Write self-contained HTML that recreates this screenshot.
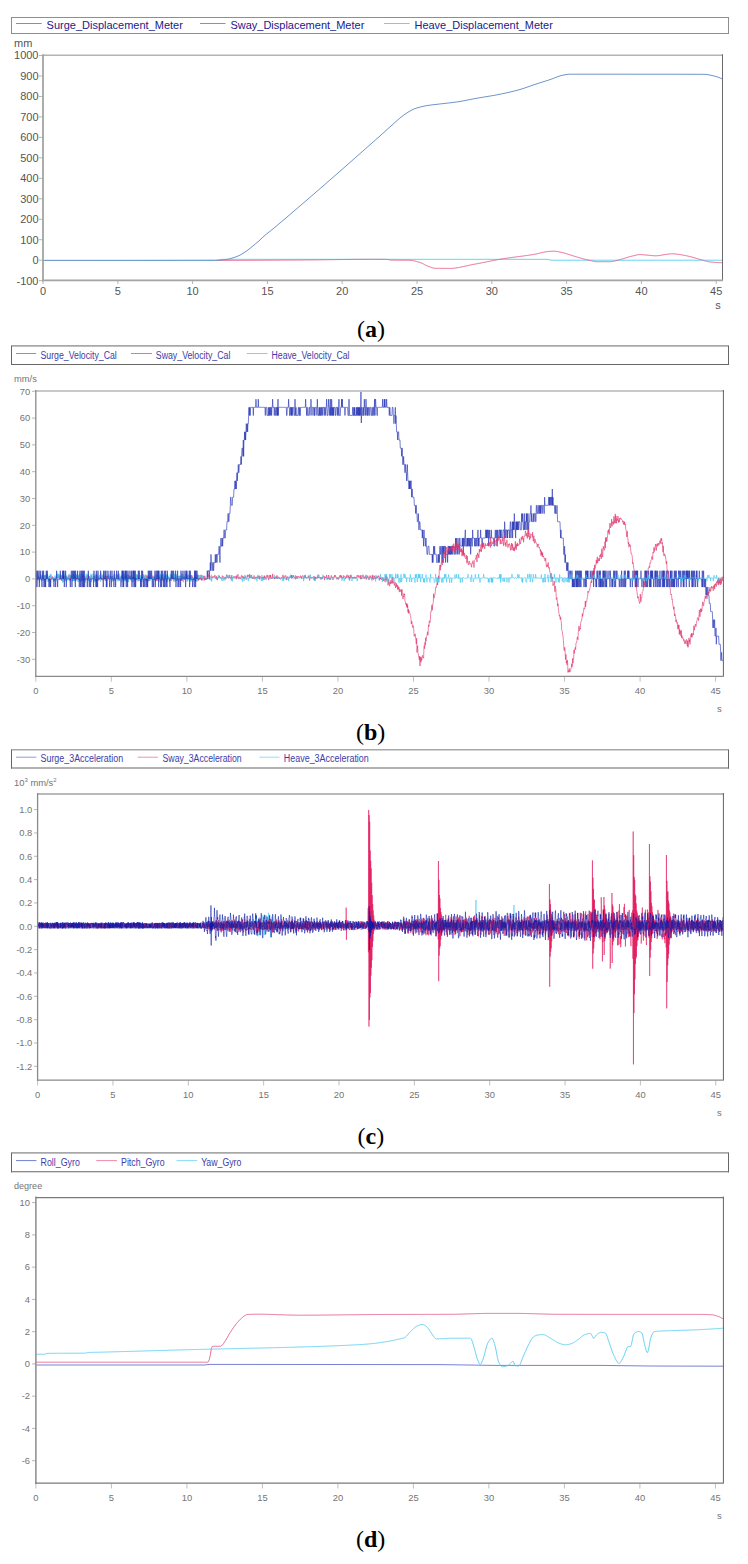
<!DOCTYPE html><html><head><meta charset="utf-8"><style>html,body{margin:0;padding:0;background:#fff;}body{width:748px;height:1564px;overflow:hidden;}svg{display:block;}</style></head><body>
<svg width="748" height="1564" viewBox="0 0 748 1564">
<rect width="748" height="1564" fill="#fff"/>
<rect x="11.5" y="17.5" width="717" height="16" stroke="#8e8e8e" stroke-width="1" fill="none"/>
<line x1="16" y1="23.5" x2="41.7" y2="23.5" stroke="#6f95c9" stroke-width="1"/>
<text x="46.6" y="28.8" font-size="11" fill="#20208c" text-anchor="start" font-family='"Liberation Sans", sans-serif' font-weight="normal" textLength="136.3" lengthAdjust="spacingAndGlyphs">Surge_Displacement_Meter</text>
<line x1="200" y1="23.5" x2="225.5" y2="23.5" stroke="#e8668f" stroke-width="1"/>
<text x="230.4" y="28.8" font-size="11" fill="#20208c" text-anchor="start" font-family='"Liberation Sans", sans-serif' font-weight="normal" textLength="133.9" lengthAdjust="spacingAndGlyphs">Sway_Displacement_Meter</text>
<line x1="384" y1="23.5" x2="409.6" y2="23.5" stroke="#66d4f2" stroke-width="1"/>
<text x="414.5" y="28.8" font-size="11" fill="#20208c" text-anchor="start" font-family='"Liberation Sans", sans-serif' font-weight="normal" textLength="138.3" lengthAdjust="spacingAndGlyphs">Heave_Displacement_Meter</text>
<text x="14" y="47.3" font-size="11" fill="#555555" text-anchor="start" font-family='"Liberation Sans", sans-serif' font-weight="normal">mm</text>
<line x1="39" y1="55.5" x2="43" y2="55.5" stroke="#b5b5b5" stroke-width="1"/>
<text x="38.5" y="59.4" font-size="11" fill="#555555" text-anchor="end" font-family='"Liberation Sans", sans-serif' font-weight="normal">1000</text>
<line x1="39" y1="75.97" x2="43" y2="75.97" stroke="#b5b5b5" stroke-width="1"/>
<text x="38.5" y="79.87" font-size="11" fill="#555555" text-anchor="end" font-family='"Liberation Sans", sans-serif' font-weight="normal">900</text>
<line x1="39" y1="96.44" x2="43" y2="96.44" stroke="#b5b5b5" stroke-width="1"/>
<text x="38.5" y="100.34" font-size="11" fill="#555555" text-anchor="end" font-family='"Liberation Sans", sans-serif' font-weight="normal">800</text>
<line x1="39" y1="116.91" x2="43" y2="116.91" stroke="#b5b5b5" stroke-width="1"/>
<text x="38.5" y="120.81" font-size="11" fill="#555555" text-anchor="end" font-family='"Liberation Sans", sans-serif' font-weight="normal">700</text>
<line x1="39" y1="137.38" x2="43" y2="137.38" stroke="#b5b5b5" stroke-width="1"/>
<text x="38.5" y="141.28" font-size="11" fill="#555555" text-anchor="end" font-family='"Liberation Sans", sans-serif' font-weight="normal">600</text>
<line x1="39" y1="157.85" x2="43" y2="157.85" stroke="#b5b5b5" stroke-width="1"/>
<text x="38.5" y="161.75" font-size="11" fill="#555555" text-anchor="end" font-family='"Liberation Sans", sans-serif' font-weight="normal">500</text>
<line x1="39" y1="178.32" x2="43" y2="178.32" stroke="#b5b5b5" stroke-width="1"/>
<text x="38.5" y="182.22" font-size="11" fill="#555555" text-anchor="end" font-family='"Liberation Sans", sans-serif' font-weight="normal">400</text>
<line x1="39" y1="198.79" x2="43" y2="198.79" stroke="#b5b5b5" stroke-width="1"/>
<text x="38.5" y="202.69" font-size="11" fill="#555555" text-anchor="end" font-family='"Liberation Sans", sans-serif' font-weight="normal">300</text>
<line x1="39" y1="219.26" x2="43" y2="219.26" stroke="#b5b5b5" stroke-width="1"/>
<text x="38.5" y="223.16" font-size="11" fill="#555555" text-anchor="end" font-family='"Liberation Sans", sans-serif' font-weight="normal">200</text>
<line x1="39" y1="239.73" x2="43" y2="239.73" stroke="#b5b5b5" stroke-width="1"/>
<text x="38.5" y="243.63" font-size="11" fill="#555555" text-anchor="end" font-family='"Liberation Sans", sans-serif' font-weight="normal">100</text>
<line x1="39" y1="260.2" x2="43" y2="260.2" stroke="#b5b5b5" stroke-width="1"/>
<text x="38.5" y="264.1" font-size="11" fill="#555555" text-anchor="end" font-family='"Liberation Sans", sans-serif' font-weight="normal">0</text>
<line x1="39" y1="280.67" x2="43" y2="280.67" stroke="#b5b5b5" stroke-width="1"/>
<text x="38.5" y="284.57" font-size="11" fill="#555555" text-anchor="end" font-family='"Liberation Sans", sans-serif' font-weight="normal">-100</text>
<line x1="43" y1="280.4" x2="43" y2="284" stroke="#b5b5b5" stroke-width="1"/>
<text x="43" y="295.2" font-size="11" fill="#555555" text-anchor="middle" font-family='"Liberation Sans", sans-serif' font-weight="normal">0</text>
<line x1="117.8" y1="280.4" x2="117.8" y2="284" stroke="#b5b5b5" stroke-width="1"/>
<text x="117.8" y="295.2" font-size="11" fill="#555555" text-anchor="middle" font-family='"Liberation Sans", sans-serif' font-weight="normal">5</text>
<line x1="192.6" y1="280.4" x2="192.6" y2="284" stroke="#b5b5b5" stroke-width="1"/>
<text x="192.6" y="295.2" font-size="11" fill="#555555" text-anchor="middle" font-family='"Liberation Sans", sans-serif' font-weight="normal">10</text>
<line x1="267.4" y1="280.4" x2="267.4" y2="284" stroke="#b5b5b5" stroke-width="1"/>
<text x="267.4" y="295.2" font-size="11" fill="#555555" text-anchor="middle" font-family='"Liberation Sans", sans-serif' font-weight="normal">15</text>
<line x1="342.2" y1="280.4" x2="342.2" y2="284" stroke="#b5b5b5" stroke-width="1"/>
<text x="342.2" y="295.2" font-size="11" fill="#555555" text-anchor="middle" font-family='"Liberation Sans", sans-serif' font-weight="normal">20</text>
<line x1="417" y1="280.4" x2="417" y2="284" stroke="#b5b5b5" stroke-width="1"/>
<text x="417" y="295.2" font-size="11" fill="#555555" text-anchor="middle" font-family='"Liberation Sans", sans-serif' font-weight="normal">25</text>
<line x1="491.8" y1="280.4" x2="491.8" y2="284" stroke="#b5b5b5" stroke-width="1"/>
<text x="491.8" y="295.2" font-size="11" fill="#555555" text-anchor="middle" font-family='"Liberation Sans", sans-serif' font-weight="normal">30</text>
<line x1="566.6" y1="280.4" x2="566.6" y2="284" stroke="#b5b5b5" stroke-width="1"/>
<text x="566.6" y="295.2" font-size="11" fill="#555555" text-anchor="middle" font-family='"Liberation Sans", sans-serif' font-weight="normal">35</text>
<line x1="641.4" y1="280.4" x2="641.4" y2="284" stroke="#b5b5b5" stroke-width="1"/>
<text x="641.4" y="295.2" font-size="11" fill="#555555" text-anchor="middle" font-family='"Liberation Sans", sans-serif' font-weight="normal">40</text>
<line x1="716.2" y1="280.4" x2="716.2" y2="284" stroke="#b5b5b5" stroke-width="1"/>
<text x="716.2" y="295.2" font-size="11" fill="#555555" text-anchor="middle" font-family='"Liberation Sans", sans-serif' font-weight="normal">45</text>
<text x="718" y="309" font-size="11" fill="#555555" text-anchor="middle" font-family='"Liberation Sans", sans-serif' font-weight="normal">s</text>
<path d="M43 260.4 L216 260.4 L222 259.3 L548 259.3 L551 260.2 L722 260.2" stroke="#66d4f2" stroke-width="1" fill="none" stroke-linejoin="round"/>
<path d="M216.6 260.5 L217.6 260.5 L218.6 260.49 L219.6 260.49 L220.6 260.48 L221.6 260.48 L222.6 260.47 L223.6 260.47 L224.6 260.46 L225.6 260.46 L226.6 260.46 L227.6 260.45 L228.6 260.45 L229.6 260.44 L230.6 260.44 L231.6 260.43 L232.6 260.43 L233.6 260.42 L234.6 260.42 L235.6 260.41 L236.6 260.41 L237.6 260.4 L238.6 260.4 L239.6 260.39 L240.6 260.39 L241.6 260.38 L242.6 260.37 L243.6 260.37 L244.6 260.36 L245.6 260.36 L246.6 260.35 L247.6 260.35 L248.6 260.34 L249.6 260.34 L250.6 260.33 L251.6 260.32 L252.6 260.32 L253.6 260.31 L254.6 260.31 L255.6 260.3 L256.6 260.29 L257.6 260.29 L258.6 260.28 L259.6 260.28 L260.6 260.27 L261.6 260.26 L262.6 260.26 L263.6 260.25 L264.6 260.24 L265.6 260.24 L266.6 260.23 L267.6 260.23 L268.6 260.22 L269.6 260.21 L270.6 260.21 L271.6 260.2 L272.6 260.19 L273.6 260.19 L274.6 260.18 L275.6 260.17 L276.6 260.17 L277.6 260.16 L278.6 260.15 L279.6 260.15 L280.6 260.14 L281.6 260.13 L282.6 260.12 L283.6 260.12 L284.6 260.11 L285.6 260.1 L286.6 260.1 L287.6 260.09 L288.6 260.08 L289.6 260.08 L290.6 260.07 L291.6 260.06 L292.6 260.05 L293.6 260.05 L294.6 260.04 L295.6 260.03 L296.6 260.02 L297.6 260.02 L298.6 260.01 L299.6 260 L300.6 260 L301.6 259.99 L302.6 259.98 L303.6 259.97 L304.6 259.96 L305.6 259.95 L306.6 259.94 L307.6 259.93 L308.6 259.92 L309.6 259.91 L310.6 259.9 L311.6 259.89 L312.6 259.88 L313.6 259.87 L314.6 259.86 L315.6 259.85 L316.6 259.84 L317.6 259.82 L318.6 259.81 L319.6 259.8 L320.6 259.79 L321.6 259.78 L322.6 259.76 L323.6 259.75 L324.6 259.74 L325.6 259.73 L326.6 259.71 L327.6 259.7 L328.6 259.69 L329.6 259.68 L330.6 259.66 L331.6 259.65 L332.6 259.64 L333.6 259.62 L334.6 259.61 L335.6 259.6 L336.6 259.59 L337.6 259.57 L338.6 259.56 L339.6 259.55 L340.6 259.54 L341.6 259.53 L342.6 259.51 L343.6 259.5 L344.6 259.49 L345.6 259.48 L346.6 259.47 L347.6 259.46 L348.6 259.45 L349.6 259.44 L350.6 259.43 L351.6 259.42 L352.6 259.41 L353.6 259.4 L354.6 259.39 L355.6 259.38 L356.6 259.37 L357.6 259.37 L358.6 259.36 L359.6 259.35 L360.6 259.35 L361.6 259.34 L362.6 259.33 L363.6 259.33 L364.6 259.32 L365.6 259.32 L366.6 259.31 L367.6 259.31 L368.6 259.31 L369.6 259.31 L370.6 259.3 L371.6 259.3 L372.6 259.3 L373.6 259.3 L374.6 259.3 L375.6 259.3 L376.6 259.3 L377.6 259.31 L378.6 259.31 L379.6 259.32 L380.6 259.33 L381.6 259.34 L382.6 259.35 L383.6 259.36 L384.6 259.38 L385.6 259.39 L386.6 259.43 L387.6 259.53 L388.6 259.68 L389.6 259.84 L390.6 259.99 L391.6 260.08 L392.6 260.11 L393.6 260.13 L394.6 260.15 L395.6 260.16 L396.6 260.17 L397.6 260.18 L398.6 260.19 L399.6 260.19 L400.6 260.2 L401.6 260.2 L402.6 260.21 L403.6 260.22 L404.6 260.22 L405.6 260.23 L406.6 260.24 L407.6 260.26 L408.6 260.27 L409.6 260.29 L410.6 260.32 L411.6 260.41 L412.6 260.55 L413.6 260.73 L414.6 260.95 L415.6 261.21 L416.6 261.48 L417.6 261.77 L418.6 262.07 L419.6 262.38 L420.6 262.7 L421.6 263.1 L422.6 263.57 L423.6 264.09 L424.6 264.62 L425.6 265.14 L426.6 265.62 L427.6 266.05 L428.6 266.42 L429.6 266.8 L430.6 267.18 L431.6 267.54 L432.6 267.86 L433.6 268.1 L434.6 268.26 L435.6 268.3 L436.6 268.32 L437.6 268.33 L438.6 268.34 L439.6 268.35 L440.6 268.36 L441.6 268.37 L442.6 268.38 L443.6 268.38 L444.6 268.39 L445.6 268.39 L446.6 268.4 L447.6 268.4 L448.6 268.4 L449.6 268.4 L450.6 268.39 L451.6 268.36 L452.6 268.3 L453.6 268.22 L454.6 268.12 L455.6 268 L456.6 267.86 L457.6 267.7 L458.6 267.53 L459.6 267.35 L460.6 267.16 L461.6 266.96 L462.6 266.74 L463.6 266.53 L464.6 266.31 L465.6 266.08 L466.6 265.86 L467.6 265.63 L468.6 265.41 L469.6 265.19 L470.6 264.97 L471.6 264.76 L472.6 264.56 L473.6 264.37 L474.6 264.19 L475.6 264.01 L476.6 263.82 L477.6 263.63 L478.6 263.44 L479.6 263.25 L480.6 263.05 L481.6 262.85 L482.6 262.65 L483.6 262.45 L484.6 262.25 L485.6 262.05 L486.6 261.84 L487.6 261.64 L488.6 261.44 L489.6 261.24 L490.6 261.04 L491.6 260.84 L492.6 260.64 L493.6 260.44 L494.6 260.25 L495.6 260.06 L496.6 259.87 L497.6 259.69 L498.6 259.5 L499.6 259.33 L500.6 259.15 L501.6 258.98 L502.6 258.82 L503.6 258.66 L504.6 258.5 L505.6 258.35 L506.6 258.2 L507.6 258.05 L508.6 257.91 L509.6 257.77 L510.6 257.64 L511.6 257.5 L512.6 257.37 L513.6 257.24 L514.6 257.11 L515.6 256.98 L516.6 256.85 L517.6 256.72 L518.6 256.59 L519.6 256.47 L520.6 256.34 L521.6 256.21 L522.6 256.08 L523.6 255.94 L524.6 255.81 L525.6 255.67 L526.6 255.53 L527.6 255.39 L528.6 255.25 L529.6 255.1 L530.6 254.95 L531.6 254.79 L532.6 254.63 L533.6 254.47 L534.6 254.29 L535.6 254.1 L536.6 253.88 L537.6 253.66 L538.6 253.42 L539.6 253.18 L540.6 252.93 L541.6 252.69 L542.6 252.46 L543.6 252.24 L544.6 252.03 L545.6 251.85 L546.6 251.7 L547.6 251.57 L548.6 251.48 L549.6 251.41 L550.6 251.33 L551.6 251.27 L552.6 251.23 L553.6 251.2 L554.6 251.21 L555.6 251.28 L556.6 251.4 L557.6 251.57 L558.6 251.76 L559.6 251.97 L560.6 252.2 L561.6 252.42 L562.6 252.63 L563.6 252.88 L564.6 253.15 L565.6 253.45 L566.6 253.76 L567.6 254.08 L568.6 254.41 L569.6 254.74 L570.6 255.06 L571.6 255.38 L572.6 255.68 L573.6 255.99 L574.6 256.3 L575.6 256.6 L576.6 256.91 L577.6 257.21 L578.6 257.51 L579.6 257.79 L580.6 258.06 L581.6 258.34 L582.6 258.6 L583.6 258.87 L584.6 259.13 L585.6 259.38 L586.6 259.63 L587.6 259.86 L588.6 260.09 L589.6 260.31 L590.6 260.53 L591.6 260.77 L592.6 261.02 L593.6 261.26 L594.6 261.46 L595.6 261.61 L596.6 261.69 L597.6 261.7 L598.6 261.7 L599.6 261.7 L600.6 261.7 L601.6 261.7 L602.6 261.7 L603.6 261.7 L604.6 261.7 L605.6 261.7 L606.6 261.7 L607.6 261.7 L608.6 261.7 L609.6 261.7 L610.6 261.69 L611.6 261.61 L612.6 261.47 L613.6 261.28 L614.6 261.05 L615.6 260.8 L616.6 260.52 L617.6 260.24 L618.6 259.96 L619.6 259.7 L620.6 259.45 L621.6 259.18 L622.6 258.89 L623.6 258.59 L624.6 258.27 L625.6 257.95 L626.6 257.63 L627.6 257.32 L628.6 257.01 L629.6 256.72 L630.6 256.44 L631.6 256.19 L632.6 255.96 L633.6 255.71 L634.6 255.46 L635.6 255.22 L636.6 255 L637.6 254.81 L638.6 254.68 L639.6 254.61 L640.6 254.61 L641.6 254.64 L642.6 254.71 L643.6 254.79 L644.6 254.88 L645.6 254.98 L646.6 255.08 L647.6 255.17 L648.6 255.25 L649.6 255.34 L650.6 255.44 L651.6 255.54 L652.6 255.63 L653.6 255.71 L654.6 255.77 L655.6 255.8 L656.6 255.79 L657.6 255.73 L658.6 255.62 L659.6 255.48 L660.6 255.32 L661.6 255.15 L662.6 254.97 L663.6 254.8 L664.6 254.65 L665.6 254.52 L666.6 254.38 L667.6 254.22 L668.6 254.08 L669.6 253.95 L670.6 253.86 L671.6 253.8 L672.6 253.81 L673.6 253.85 L674.6 253.92 L675.6 254.02 L676.6 254.14 L677.6 254.27 L678.6 254.41 L679.6 254.55 L680.6 254.68 L681.6 254.84 L682.6 255.01 L683.6 255.19 L684.6 255.39 L685.6 255.6 L686.6 255.82 L687.6 256.04 L688.6 256.27 L689.6 256.51 L690.6 256.74 L691.6 257 L692.6 257.27 L693.6 257.55 L694.6 257.84 L695.6 258.14 L696.6 258.44 L697.6 258.73 L698.6 259.02 L699.6 259.29 L700.6 259.56 L701.6 259.85 L702.6 260.14 L703.6 260.44 L704.6 260.73 L705.6 261.01 L706.6 261.27 L707.6 261.5 L708.6 261.7 L709.6 261.85 L710.6 261.96 L711.6 262.07 L712.6 262.17 L713.6 262.26 L714.6 262.35 L715.6 262.43 L716.6 262.5 L717.6 262.57 L718.6 262.62 L719.6 262.66 L720.6 262.69 L721.6 262.7 L722 262.7" stroke="#e8668f" stroke-width="1" fill="none" stroke-linejoin="round"/>
<path d="M43 260.4 L44 260.4 L45 260.4 L46 260.4 L47 260.4 L48 260.4 L49 260.4 L50 260.4 L51 260.4 L52 260.4 L53 260.4 L54 260.4 L55 260.4 L56 260.4 L57 260.4 L58 260.4 L59 260.4 L60 260.4 L61 260.4 L62 260.4 L63 260.4 L64 260.4 L65 260.4 L66 260.4 L67 260.4 L68 260.4 L69 260.4 L70 260.4 L71 260.4 L72 260.4 L73 260.4 L74 260.4 L75 260.4 L76 260.4 L77 260.4 L78 260.4 L79 260.4 L80 260.4 L81 260.4 L82 260.4 L83 260.4 L84 260.4 L85 260.4 L86 260.39 L87 260.39 L88 260.39 L89 260.39 L90 260.39 L91 260.39 L92 260.39 L93 260.39 L94 260.39 L95 260.39 L96 260.39 L97 260.39 L98 260.39 L99 260.39 L100 260.39 L101 260.39 L102 260.39 L103 260.39 L104 260.39 L105 260.39 L106 260.39 L107 260.39 L108 260.39 L109 260.38 L110 260.38 L111 260.38 L112 260.38 L113 260.38 L114 260.38 L115 260.38 L116 260.38 L117 260.38 L118 260.38 L119 260.38 L120 260.38 L121 260.38 L122 260.38 L123 260.38 L124 260.37 L125 260.37 L126 260.37 L127 260.37 L128 260.37 L129 260.37 L130 260.37 L131 260.37 L132 260.37 L133 260.37 L134 260.37 L135 260.36 L136 260.36 L137 260.36 L138 260.36 L139 260.36 L140 260.36 L141 260.36 L142 260.36 L143 260.36 L144 260.35 L145 260.35 L146 260.35 L147 260.35 L148 260.35 L149 260.35 L150 260.35 L151 260.35 L152 260.34 L153 260.34 L154 260.34 L155 260.34 L156 260.34 L157 260.34 L158 260.33 L159 260.33 L160 260.33 L161 260.33 L162 260.33 L163 260.33 L164 260.33 L165 260.32 L166 260.32 L167 260.32 L168 260.32 L169 260.32 L170 260.32 L171 260.31 L172 260.31 L173 260.31 L174 260.31 L175 260.31 L176 260.3 L177 260.3 L178 260.3 L179 260.3 L180 260.3 L181 260.29 L182 260.29 L183 260.29 L184 260.29 L185 260.28 L186 260.28 L187 260.28 L188 260.28 L189 260.28 L190 260.27 L191 260.27 L192 260.27 L193 260.27 L194 260.26 L195 260.26 L196 260.26 L197 260.26 L198 260.25 L199 260.25 L200 260.25 L201 260.25 L202 260.24 L203 260.24 L204 260.24 L205 260.23 L206 260.23 L207 260.23 L208 260.23 L209 260.22 L210 260.22 L211 260.22 L212 260.21 L213 260.21 L214 260.21 L215 260.21 L216 260.2 L217 260.2 L218 260.18 L219 260.14 L220 260.09 L221 260.03 L222 259.95 L223 259.87 L224 259.77 L225 259.67 L226 259.57 L227 259.41 L228 259.21 L229 258.97 L230 258.7 L231 258.42 L232 258.13 L233 257.84 L234 257.52 L235 257.18 L236 256.82 L237 256.43 L238 256.02 L239 255.57 L240 255.07 L241 254.52 L242 253.94 L243 253.32 L244 252.68 L245 252.03 L246 251.35 L247 250.63 L248 249.88 L249 249.11 L250 248.33 L251 247.54 L252 246.75 L253 245.94 L254 245.12 L255 244.29 L256 243.45 L257 242.59 L258 241.72 L259 240.82 L260 239.89 L261 238.94 L262 238 L263 237.07 L264 236.17 L265 235.32 L266 234.48 L267 233.67 L268 232.86 L269 232.07 L270 231.28 L271 230.48 L272 229.67 L273 228.85 L274 228.03 L275 227.2 L276 226.36 L277 225.53 L278 224.69 L279 223.85 L280 223 L281 222.15 L282 221.3 L283 220.45 L284 219.6 L285 218.75 L286 217.9 L287 217.05 L288 216.2 L289 215.35 L290 214.49 L291 213.64 L292 212.78 L293 211.93 L294 211.07 L295 210.22 L296 209.36 L297 208.5 L298 207.65 L299 206.79 L300 205.93 L301 205.07 L302 204.21 L303 203.35 L304 202.49 L305 201.63 L306 200.77 L307 199.91 L308 199.04 L309 198.18 L310 197.32 L311 196.45 L312 195.59 L313 194.72 L314 193.86 L315 192.99 L316 192.13 L317 191.26 L318 190.39 L319 189.52 L320 188.66 L321 187.79 L322 186.92 L323 186.05 L324 185.18 L325 184.31 L326 183.44 L327 182.57 L328 181.7 L329 180.82 L330 179.95 L331 179.08 L332 178.21 L333 177.33 L334 176.46 L335 175.58 L336 174.71 L337 173.83 L338 172.96 L339 172.08 L340 171.21 L341 170.33 L342 169.45 L343 168.58 L344 167.7 L345 166.82 L346 165.94 L347 165.06 L348 164.19 L349 163.31 L350 162.43 L351 161.55 L352 160.67 L353 159.79 L354 158.9 L355 158.02 L356 157.14 L357 156.26 L358 155.38 L359 154.49 L360 153.61 L361 152.73 L362 151.85 L363 150.96 L364 150.08 L365 149.19 L366 148.31 L367 147.42 L368 146.54 L369 145.65 L370 144.77 L371 143.88 L372 143 L373 142.11 L374 141.22 L375 140.34 L376 139.45 L377 138.56 L378 137.68 L379 136.79 L380 135.9 L381 135.01 L382 134.11 L383 133.21 L384 132.3 L385 131.4 L386 130.49 L387 129.59 L388 128.68 L389 127.78 L390 126.89 L391 126 L392 125.12 L393 124.24 L394 123.33 L395 122.42 L396 121.51 L397 120.61 L398 119.72 L399 118.84 L400 117.99 L401 117.17 L402 116.39 L403 115.65 L404 114.96 L405 114.27 L406 113.59 L407 112.92 L408 112.27 L409 111.64 L410 111.04 L411 110.47 L412 109.93 L413 109.44 L414 109 L415 108.61 L416 108.26 L417 107.94 L418 107.64 L419 107.35 L420 107.08 L421 106.83 L422 106.59 L423 106.36 L424 106.15 L425 105.96 L426 105.77 L427 105.6 L428 105.44 L429 105.29 L430 105.15 L431 105.02 L432 104.89 L433 104.77 L434 104.66 L435 104.54 L436 104.43 L437 104.31 L438 104.2 L439 104.08 L440 103.95 L441 103.84 L442 103.72 L443 103.61 L444 103.5 L445 103.39 L446 103.28 L447 103.17 L448 103.06 L449 102.94 L450 102.83 L451 102.71 L452 102.59 L453 102.47 L454 102.34 L455 102.21 L456 102.07 L457 101.93 L458 101.77 L459 101.61 L460 101.45 L461 101.27 L462 101.09 L463 100.91 L464 100.72 L465 100.53 L466 100.33 L467 100.14 L468 99.94 L469 99.74 L470 99.54 L471 99.34 L472 99.14 L473 98.95 L474 98.75 L475 98.56 L476 98.38 L477 98.2 L478 98.02 L479 97.85 L480 97.68 L481 97.52 L482 97.35 L483 97.19 L484 97.03 L485 96.87 L486 96.7 L487 96.54 L488 96.38 L489 96.22 L490 96.05 L491 95.89 L492 95.72 L493 95.54 L494 95.37 L495 95.19 L496 95 L497 94.82 L498 94.62 L499 94.43 L500 94.23 L501 94.02 L502 93.82 L503 93.61 L504 93.4 L505 93.19 L506 92.97 L507 92.75 L508 92.53 L509 92.3 L510 92.07 L511 91.83 L512 91.59 L513 91.35 L514 91.1 L515 90.84 L516 90.59 L517 90.32 L518 90.05 L519 89.78 L520 89.49 L521 89.19 L522 88.87 L523 88.55 L524 88.22 L525 87.88 L526 87.54 L527 87.19 L528 86.84 L529 86.48 L530 86.13 L531 85.77 L532 85.42 L533 85.08 L534 84.73 L535 84.4 L536 84.07 L537 83.74 L538 83.42 L539 83.1 L540 82.79 L541 82.47 L542 82.16 L543 81.84 L544 81.53 L545 81.21 L546 80.89 L547 80.58 L548 80.25 L549 79.93 L550 79.6 L551 79.26 L552 78.91 L553 78.53 L554 78.14 L555 77.74 L556 77.35 L557 76.96 L558 76.59 L559 76.23 L560 75.91 L561 75.63 L562 75.38 L563 75.18 L564 74.98 L565 74.78 L566 74.6 L567 74.44 L568 74.31 L569 74.23 L570 74.2 L571 74.2 L572 74.2 L573 74.2 L574 74.2 L575 74.2 L576 74.2 L577 74.2 L578 74.2 L579 74.2 L580 74.2 L581 74.2 L582 74.2 L583 74.2 L584 74.2 L585 74.2 L586 74.2 L587 74.2 L588 74.2 L589 74.2 L590 74.2 L591 74.2 L592 74.2 L593 74.2 L594 74.2 L595 74.2 L596 74.2 L597 74.2 L598 74.2 L599 74.2 L600 74.2 L601 74.2 L602 74.2 L603 74.2 L604 74.2 L605 74.2 L606 74.2 L607 74.2 L608 74.2 L609 74.2 L610 74.2 L611 74.2 L612 74.2 L613 74.2 L614 74.2 L615 74.2 L616 74.2 L617 74.2 L618 74.2 L619 74.2 L620 74.2 L621 74.2 L622 74.2 L623 74.2 L624 74.2 L625 74.2 L626 74.2 L627 74.2 L628 74.2 L629 74.2 L630 74.2 L631 74.2 L632 74.2 L633 74.2 L634 74.21 L635 74.21 L636 74.21 L637 74.21 L638 74.21 L639 74.21 L640 74.21 L641 74.21 L642 74.21 L643 74.21 L644 74.21 L645 74.21 L646 74.21 L647 74.21 L648 74.21 L649 74.21 L650 74.21 L651 74.21 L652 74.22 L653 74.22 L654 74.22 L655 74.22 L656 74.22 L657 74.22 L658 74.22 L659 74.22 L660 74.22 L661 74.22 L662 74.22 L663 74.23 L664 74.23 L665 74.23 L666 74.23 L667 74.23 L668 74.23 L669 74.23 L670 74.23 L671 74.24 L672 74.24 L673 74.24 L674 74.24 L675 74.24 L676 74.24 L677 74.24 L678 74.25 L679 74.25 L680 74.25 L681 74.25 L682 74.25 L683 74.25 L684 74.26 L685 74.26 L686 74.26 L687 74.26 L688 74.26 L689 74.27 L690 74.27 L691 74.27 L692 74.27 L693 74.27 L694 74.28 L695 74.28 L696 74.28 L697 74.28 L698 74.28 L699 74.29 L700 74.29 L701 74.29 L702 74.29 L703 74.3 L704 74.3 L705 74.33 L706 74.41 L707 74.54 L708 74.7 L709 74.88 L710 75.08 L711 75.29 L712 75.5 L713 75.72 L714 75.96 L715 76.24 L716 76.54 L717 76.86 L718 77.2 L719 77.57 L720 77.96 L721 78.36 L722 78.78 L722.5 79" stroke="#6f95c9" stroke-width="1" fill="none" stroke-linejoin="round"/>
<line x1="43" y1="55.2" x2="722.5" y2="55.2" stroke="#b4b4b4" stroke-width="1.4"/>
<line x1="722.5" y1="54.2" x2="722.5" y2="280.4" stroke="#6a6a6a" stroke-width="1"/>
<line x1="43" y1="54.2" x2="43" y2="281.3" stroke="#a4a4a4" stroke-width="1.8"/>
<line x1="42.1" y1="280.4" x2="723" y2="280.4" stroke="#a4a4a4" stroke-width="1.8"/>
<text x="357" y="337" font-size="24" font-family='"Liberation Serif", serif' fill="#000">(<tspan font-weight="bold">a</tspan>)</text>
<line x1="11" y1="345.9" x2="729" y2="345.9" stroke="#a8a8a8" stroke-width="1.6"/>
<line x1="11.5" y1="345.9" x2="11.5" y2="365" stroke="#666666" stroke-width="1"/>
<line x1="728.5" y1="345.9" x2="728.5" y2="365" stroke="#666666" stroke-width="1"/>
<line x1="11" y1="364.5" x2="729" y2="364.5" stroke="#666666" stroke-width="1.1"/>
<line x1="16" y1="353.5" x2="36.2" y2="353.5" stroke="#8490d8" stroke-width="1"/>
<text x="40.5" y="359.3" font-size="10" fill="#3c3ca8" text-anchor="start" font-family='"Liberation Sans", sans-serif' font-weight="normal" textLength="76.3" lengthAdjust="spacingAndGlyphs">Surge_Velocity_Cal</text>
<line x1="131" y1="353.5" x2="152" y2="353.5" stroke="#ee7095" stroke-width="1"/>
<text x="155.8" y="359.3" font-size="10" fill="#3c3ca8" text-anchor="start" font-family='"Liberation Sans", sans-serif' font-weight="normal" textLength="74.6" lengthAdjust="spacingAndGlyphs">Sway_Velocity_Cal</text>
<line x1="246.7" y1="353.5" x2="267.5" y2="353.5" stroke="#70d8f5" stroke-width="1"/>
<text x="271.5" y="359.3" font-size="10" fill="#3c3ca8" text-anchor="start" font-family='"Liberation Sans", sans-serif' font-weight="normal" textLength="78" lengthAdjust="spacingAndGlyphs">Heave_Velocity_Cal</text>
<text x="14" y="381.9" font-size="9.4" fill="#747474" text-anchor="start" font-family='"Liberation Sans", sans-serif' font-weight="normal" textLength="22.8" lengthAdjust="spacingAndGlyphs">mm/s</text>
<line x1="32" y1="391.3" x2="35.8" y2="391.3" stroke="#b8b8b8" stroke-width="1"/>
<text x="30.3" y="394.6" font-size="9.4" fill="#747474" text-anchor="end" font-family='"Liberation Sans", sans-serif' font-weight="normal">70</text>
<line x1="32" y1="418.1" x2="35.8" y2="418.1" stroke="#b8b8b8" stroke-width="1"/>
<text x="30.3" y="421.4" font-size="9.4" fill="#747474" text-anchor="end" font-family='"Liberation Sans", sans-serif' font-weight="normal">60</text>
<line x1="32" y1="444.9" x2="35.8" y2="444.9" stroke="#b8b8b8" stroke-width="1"/>
<text x="30.3" y="448.2" font-size="9.4" fill="#747474" text-anchor="end" font-family='"Liberation Sans", sans-serif' font-weight="normal">50</text>
<line x1="32" y1="471.7" x2="35.8" y2="471.7" stroke="#b8b8b8" stroke-width="1"/>
<text x="30.3" y="475" font-size="9.4" fill="#747474" text-anchor="end" font-family='"Liberation Sans", sans-serif' font-weight="normal">40</text>
<line x1="32" y1="498.5" x2="35.8" y2="498.5" stroke="#b8b8b8" stroke-width="1"/>
<text x="30.3" y="501.8" font-size="9.4" fill="#747474" text-anchor="end" font-family='"Liberation Sans", sans-serif' font-weight="normal">30</text>
<line x1="32" y1="525.3" x2="35.8" y2="525.3" stroke="#b8b8b8" stroke-width="1"/>
<text x="30.3" y="528.6" font-size="9.4" fill="#747474" text-anchor="end" font-family='"Liberation Sans", sans-serif' font-weight="normal">20</text>
<line x1="32" y1="552.1" x2="35.8" y2="552.1" stroke="#b8b8b8" stroke-width="1"/>
<text x="30.3" y="555.4" font-size="9.4" fill="#747474" text-anchor="end" font-family='"Liberation Sans", sans-serif' font-weight="normal">10</text>
<line x1="32" y1="578.9" x2="35.8" y2="578.9" stroke="#b8b8b8" stroke-width="1"/>
<text x="30.3" y="582.2" font-size="9.4" fill="#747474" text-anchor="end" font-family='"Liberation Sans", sans-serif' font-weight="normal">0</text>
<line x1="32" y1="605.7" x2="35.8" y2="605.7" stroke="#b8b8b8" stroke-width="1"/>
<text x="30.3" y="609" font-size="9.4" fill="#747474" text-anchor="end" font-family='"Liberation Sans", sans-serif' font-weight="normal">-10</text>
<line x1="32" y1="632.5" x2="35.8" y2="632.5" stroke="#b8b8b8" stroke-width="1"/>
<text x="30.3" y="635.8" font-size="9.4" fill="#747474" text-anchor="end" font-family='"Liberation Sans", sans-serif' font-weight="normal">-20</text>
<line x1="32" y1="659.3" x2="35.8" y2="659.3" stroke="#b8b8b8" stroke-width="1"/>
<text x="30.3" y="662.6" font-size="9.4" fill="#747474" text-anchor="end" font-family='"Liberation Sans", sans-serif' font-weight="normal">-30</text>
<line x1="35.8" y1="676.5" x2="35.8" y2="681.7" stroke="#c0c0c0" stroke-width="1"/>
<text x="35.8" y="694" font-size="9.4" fill="#747474" text-anchor="middle" font-family='"Liberation Sans", sans-serif' font-weight="normal">0</text>
<line x1="111.33" y1="676.5" x2="111.33" y2="681.7" stroke="#c0c0c0" stroke-width="1"/>
<text x="111.33" y="694" font-size="9.4" fill="#747474" text-anchor="middle" font-family='"Liberation Sans", sans-serif' font-weight="normal">5</text>
<line x1="186.87" y1="676.5" x2="186.87" y2="681.7" stroke="#c0c0c0" stroke-width="1"/>
<text x="186.87" y="694" font-size="9.4" fill="#747474" text-anchor="middle" font-family='"Liberation Sans", sans-serif' font-weight="normal">10</text>
<line x1="262.4" y1="676.5" x2="262.4" y2="681.7" stroke="#c0c0c0" stroke-width="1"/>
<text x="262.4" y="694" font-size="9.4" fill="#747474" text-anchor="middle" font-family='"Liberation Sans", sans-serif' font-weight="normal">15</text>
<line x1="337.94" y1="676.5" x2="337.94" y2="681.7" stroke="#c0c0c0" stroke-width="1"/>
<text x="337.94" y="694" font-size="9.4" fill="#747474" text-anchor="middle" font-family='"Liberation Sans", sans-serif' font-weight="normal">20</text>
<line x1="413.47" y1="676.5" x2="413.47" y2="681.7" stroke="#c0c0c0" stroke-width="1"/>
<text x="413.47" y="694" font-size="9.4" fill="#747474" text-anchor="middle" font-family='"Liberation Sans", sans-serif' font-weight="normal">25</text>
<line x1="489.01" y1="676.5" x2="489.01" y2="681.7" stroke="#c0c0c0" stroke-width="1"/>
<text x="489.01" y="694" font-size="9.4" fill="#747474" text-anchor="middle" font-family='"Liberation Sans", sans-serif' font-weight="normal">30</text>
<line x1="564.54" y1="676.5" x2="564.54" y2="681.7" stroke="#c0c0c0" stroke-width="1"/>
<text x="564.54" y="694" font-size="9.4" fill="#747474" text-anchor="middle" font-family='"Liberation Sans", sans-serif' font-weight="normal">35</text>
<line x1="640.08" y1="676.5" x2="640.08" y2="681.7" stroke="#c0c0c0" stroke-width="1"/>
<text x="640.08" y="694" font-size="9.4" fill="#747474" text-anchor="middle" font-family='"Liberation Sans", sans-serif' font-weight="normal">40</text>
<line x1="715.61" y1="676.5" x2="715.61" y2="681.7" stroke="#c0c0c0" stroke-width="1"/>
<text x="715.61" y="694" font-size="9.4" fill="#747474" text-anchor="middle" font-family='"Liberation Sans", sans-serif' font-weight="normal">45</text>
<text x="719.3" y="711.6" font-size="9.4" fill="#747474" text-anchor="middle" font-family='"Liberation Sans", sans-serif' font-weight="normal">s</text>
<path d="M36.3 578 L36.63 577.66 L36.97 578 L37.3 579.51 L37.63 578 L37.97 577.9 L38.3 579.31 L38.63 579.34 L38.97 578 L39.3 578 L39.63 580.68 L39.97 580.51 L40.3 576.81 L40.63 578 L40.97 576.57 L41.3 576.74 L41.63 580.09 L41.97 576.26 L42.3 578 L42.63 575.29 L42.97 576.29 L43.3 578 L43.63 578.81 L43.97 579.27 L44.3 578 L44.63 575.23 L44.97 577.87 L45.3 575.32 L45.63 578.95 L45.97 578 L46.3 576.3 L46.63 578 L46.97 578 L47.3 578 L47.63 578 L47.97 578 L48.3 578.71 L48.63 578 L48.97 580.2 L49.3 575.77 L49.63 578 L49.97 579.1 L50.3 576.48 L50.63 575.54 L50.97 577.99 L51.3 578 L51.63 578.2 L51.97 576.47 L52.3 576.23 L52.63 578 L52.97 578 L53.3 578 L53.63 577.56 L53.97 578 L54.3 580.72 L54.63 580.14 L54.97 579.41 L55.3 578 L55.63 578.16 L55.97 576.81 L56.3 576.94 L56.63 577.99 L56.97 576.41 L57.3 578 L57.63 578 L57.97 577.76 L58.3 575.11 L58.63 578 L58.97 576.53 L59.3 576.46 L59.63 579.64 L59.97 579.83 L60.3 579.29 L60.63 578.82 L60.97 575.64 L61.3 580.57 L61.63 575.83 L61.97 578.21 L62.3 580.99 L62.63 579.06 L62.97 575.52 L63.3 580.2 L63.63 575.92 L63.97 576.69 L64.3 576.35 L64.63 576.29 L64.97 578 L65.3 578 L65.63 578 L65.97 579.02 L66.3 576.04 L66.63 575.98 L66.97 577.49 L67.3 577.38 L67.63 578.8 L67.97 578 L68.3 575.5 L68.63 576.74 L68.97 577.75 L69.3 575.55 L69.63 580.02 L69.97 580.23 L70.3 578 L70.63 580.37 L70.97 576.26 L71.3 578 L71.63 578 L71.97 577.61 L72.3 578 L72.63 576.76 L72.97 580.08 L73.3 580.83 L73.63 578.18 L73.97 578.44 L74.3 575.25 L74.63 578 L74.97 576.5 L75.3 579.55 L75.63 578 L75.97 577.99 L76.3 580.15 L76.63 578.43 L76.97 575.33 L77.3 577.31 L77.63 579.58 L77.97 575.42 L78.3 577.49 L78.63 579.63 L78.97 578 L79.3 580.24 L79.63 578 L79.97 580.92 L80.3 576.77 L80.63 580.01 L80.97 579.17 L81.3 580.96 L81.63 578 L81.97 580.61 L82.3 580.28 L82.63 575.4 L82.97 578.95 L83.3 578.26 L83.63 578.1 L83.97 575.89 L84.3 578 L84.63 578 L84.97 579.4 L85.3 578 L85.63 579.85 L85.97 578 L86.3 576.68 L86.63 578 L86.97 577.66 L87.3 578 L87.63 580.18 L87.97 575.31 L88.3 578 L88.63 575.78 L88.97 579.26 L89.3 578 L89.63 576.44 L89.97 578 L90.3 579.29 L90.63 576.99 L90.97 578.58 L91.3 575.25 L91.63 577.09 L91.97 578 L92.3 578.01 L92.63 578.5 L92.97 577.69 L93.3 576.1 L93.63 575.92 L93.97 576.61 L94.3 580.98 L94.63 575.96 L94.97 576.78 L95.3 578 L95.63 575.91 L95.97 578 L96.3 580.83 L96.63 575.32 L96.97 578 L97.3 575.66 L97.63 578 L97.97 578 L98.3 580.44 L98.63 579.2 L98.97 580.29 L99.3 577.82 L99.63 578 L99.97 578 L100.3 577.06 L100.63 578 L100.97 578.43 L101.3 579.42 L101.63 576.84 L101.97 580.14 L102.3 578.77 L102.63 578 L102.97 575.41 L103.3 578.97 L103.63 576.29 L103.97 576.01 L104.3 579.22 L104.63 578 L104.97 580.04 L105.3 580.91 L105.63 580.12 L105.97 575.64 L106.3 577.02 L106.63 579.72 L106.97 578 L107.3 575.91 L107.63 578 L107.97 578.55 L108.3 578 L108.63 578 L108.97 578.51 L109.3 578.09 L109.63 578.24 L109.97 576.24 L110.3 578 L110.63 577.61 L110.97 577.56 L111.3 578 L111.63 577.42 L111.97 577.74 L112.3 579.37 L112.63 580.77 L112.97 575.9 L113.3 578.21 L113.63 579.86 L113.97 580.41 L114.3 580.13 L114.63 578 L114.97 578.21 L115.3 578.96 L115.63 578 L115.97 578 L116.3 578 L116.63 578 L116.97 575.65 L117.3 575.19 L117.63 577.35 L117.97 575.42 L118.3 579.5 L118.63 580.27 L118.97 576.18 L119.3 580.54 L119.63 578 L119.97 577.1 L120.3 578 L120.63 578 L120.97 578 L121.3 575.72 L121.63 578 L121.97 578 L122.3 578 L122.63 577.42 L122.97 579.9 L123.3 578.07 L123.63 578.22 L123.97 579.66 L124.3 576.18 L124.63 578 L124.97 577.74 L125.3 578 L125.63 580.62 L125.97 575.47 L126.3 580.27 L126.63 578 L126.97 578.56 L127.3 578 L127.63 578.16 L127.97 578 L128.3 575.13 L128.63 578 L128.97 578.79 L129.3 578 L129.63 578 L129.97 578 L130.3 578 L130.63 576.58 L130.97 580.46 L131.3 578.13 L131.63 578.46 L131.97 580.02 L132.3 576.83 L132.63 578 L132.97 578 L133.3 578.84 L133.63 579.14 L133.97 578.1 L134.3 578 L134.63 577.9 L134.97 578.94 L135.3 578 L135.63 580.3 L135.97 578 L136.3 578 L136.63 577.26 L136.97 575.76 L137.3 575.19 L137.63 576.39 L137.97 576.45 L138.3 579.91 L138.63 580.85 L138.97 578 L139.3 579.05 L139.63 578 L139.97 577.75 L140.3 578 L140.63 578 L140.97 577.42 L141.3 576.82 L141.63 577.7 L141.97 577.58 L142.3 578 L142.63 578 L142.97 576.95 L143.3 576.31 L143.63 576.29 L143.97 576.35 L144.3 579.31 L144.63 578 L144.97 576.45 L145.3 579.47 L145.63 578 L145.97 578.93 L146.3 575.37 L146.63 578.75 L146.97 578 L147.3 576.68 L147.63 579.69 L147.97 575.46 L148.3 580.82 L148.63 577.17 L148.97 578 L149.3 580.91 L149.63 578 L149.97 578 L150.3 577.03 L150.63 577.3 L150.97 578.96 L151.3 578.42 L151.63 578.67 L151.97 578 L152.3 578 L152.63 578 L152.97 575.67 L153.3 578 L153.63 578 L153.97 577.1 L154.3 580.11 L154.63 577.23 L154.97 578 L155.3 578 L155.63 580.69 L155.97 578.83 L156.3 580.52 L156.63 578 L156.97 580.49 L157.3 578.5 L157.63 577.01 L157.97 580.7 L158.3 579.26 L158.63 579.43 L158.97 578 L159.3 578 L159.63 577.5 L159.97 578 L160.3 580.22 L160.63 577.41 L160.97 577.45 L161.3 576.14 L161.63 578 L161.97 576.44 L162.3 580.24 L162.63 577.16 L162.97 580.24 L163.3 578 L163.63 579.48 L163.97 578 L164.3 578 L164.63 577.15 L164.97 578.14 L165.3 578 L165.63 575.39 L165.97 576.02 L166.3 579.78 L166.63 578 L166.97 579.95 L167.3 578 L167.63 578.25 L167.97 578.2 L168.3 577.36 L168.63 578 L168.97 578 L169.3 577.59 L169.63 580.93 L169.97 578 L170.3 578 L170.63 577.1 L170.97 580.72 L171.3 580.22 L171.63 580.54 L171.97 575.43 L172.3 578 L172.63 578 L172.97 578.34 L173.3 577.11 L173.63 579.06 L173.97 580.71 L174.3 578 L174.63 579.78 L174.97 579.38 L175.3 578 L175.63 578 L175.97 578 L176.3 578 L176.63 575.87 L176.97 580.7 L177.3 578 L177.63 578 L177.97 578 L178.3 578 L178.63 578.06 L178.97 577.28 L179.3 575.79 L179.63 578 L179.97 578.27 L180.3 578.95 L180.63 580.8 L180.97 578 L181.3 578 L181.63 580.92 L181.97 578 L182.3 576.33 L182.63 580.63 L182.97 579.37 L183.3 578 L183.63 576.68 L183.97 576.38 L184.3 576.6 L184.63 578 L184.97 579.94 L185.3 578 L185.63 578 L185.97 577.49 L186.3 578 L186.63 577.29 L186.97 578 L187.3 578.87 L187.63 578 L187.97 575.54 L188.3 578.9 L188.63 578 L188.97 578.74 L189.3 578 L189.63 578 L189.97 578 L190.3 578 L190.63 580 L190.97 575.19 L191.3 580.55 L191.63 575.43 L191.97 575.31 L192.3 578 L192.63 576.85 L192.97 578 L193.3 580.31 L193.63 579.93 L193.97 578 L194.3 579.82 L194.63 578 L194.97 578.29 L195.3 580.71 L195.63 579.15 L195.97 578 L196.3 578 L196.63 578 L196.97 578 L197.3 575.62 L197.63 578.65 L197.97 575.25 L198.3 580.71 L198.63 578 L198.97 575.15 L199.3 577.69 L199.63 579.39 L199.97 578.07" stroke="#e0306a" stroke-width="0.6" fill="none" stroke-linejoin="round"/>
<path d="M36.3 578 L36.63 578 L36.97 573.6 L37.3 580.26 L37.63 576.79 L37.97 578 L38.3 576.29 L38.63 578 L38.97 577.04 L39.3 582.19 L39.63 578 L39.97 579.04 L40.3 573.91 L40.63 578 L40.97 574.99 L41.3 578.92 L41.63 576.32 L41.97 578 L42.3 574.54 L42.63 580.58 L42.97 575.96 L43.3 580.96 L43.63 578 L43.97 578 L44.3 578 L44.63 579.9 L44.97 575.15 L45.3 579.87 L45.63 578 L45.97 580.36 L46.3 573.7 L46.63 578.24 L46.97 575.33 L47.3 578 L47.63 574.18 L47.97 581.79 L48.3 576.61 L48.63 581.34 L48.97 577.38 L49.3 579.46 L49.63 577.26 L49.97 578 L50.3 574.42 L50.63 578 L50.97 574.01 L51.3 578 L51.63 578 L51.97 579.24 L52.3 578 L52.63 578.66 L52.97 577.69 L53.3 581.66 L53.63 578 L53.97 578 L54.3 577.97 L54.63 580.08 L54.97 575.56 L55.3 578 L55.63 577.42 L55.97 580.97 L56.3 576.99 L56.63 578 L56.97 574.14 L57.3 578 L57.63 573.61 L57.97 578 L58.3 573.91 L58.63 578 L58.97 574.2 L59.3 578 L59.63 575.53 L59.97 578.16 L60.3 574.36 L60.63 578.04 L60.97 577.71 L61.3 578.1 L61.63 574.86 L61.97 578.61 L62.3 578 L62.63 582.47 L62.97 578 L63.3 582.17 L63.63 578 L63.97 578 L64.3 577.89 L64.63 579.25 L64.97 573.9 L65.3 581.03 L65.63 576.38 L65.97 578.82 L66.3 575.59 L66.63 581.32 L66.97 577.13 L67.3 579.7 L67.63 578 L67.97 578.48 L68.3 576.95 L68.63 579.24 L68.97 573.85 L69.3 580.93 L69.63 574.62 L69.97 578 L70.3 575.28 L70.63 578 L70.97 575.05 L71.3 578 L71.63 576.09 L71.97 578 L72.3 574.32 L72.63 581.42 L72.97 576.62 L73.3 580.68 L73.63 573.97 L73.97 580 L74.3 578 L74.63 580.83 L74.97 574.47 L75.3 581.72 L75.63 576.7 L75.97 580.83 L76.3 574.19 L76.63 578 L76.97 577.55 L77.3 578 L77.63 575.56 L77.97 582.03 L78.3 575.49 L78.63 578 L78.97 578 L79.3 580.69 L79.63 573.57 L79.97 578 L80.3 576.33 L80.63 581.94 L80.97 574 L81.3 579.48 L81.63 578 L81.97 579.82 L82.3 578 L82.63 578 L82.97 578 L83.3 580.39 L83.63 573.81 L83.97 581.29 L84.3 577.58 L84.63 578.67 L84.97 577.76 L85.3 582.27 L85.63 575.71 L85.97 578 L86.3 573.78 L86.63 578 L86.97 577.79 L87.3 578 L87.63 574.3 L87.97 578 L88.3 578 L88.63 581.23 L88.97 576.66 L89.3 578 L89.63 576.93 L89.97 578 L90.3 577.12 L90.63 578.47 L90.97 573.79 L91.3 582.02 L91.63 578 L91.97 578 L92.3 577.96 L92.63 578.75 L92.97 573.71 L93.3 578 L93.63 578 L93.97 582.11 L94.3 575.54 L94.63 581.33 L94.97 578 L95.3 581.31 L95.63 574.25 L95.97 581.64 L96.3 578 L96.63 581.64 L96.97 573.66 L97.3 579.06 L97.63 575.57 L97.97 579.6 L98.3 576.76 L98.63 580.12 L98.97 578 L99.3 578.81 L99.63 575.1 L99.97 578 L100.3 578 L100.63 581.78 L100.97 573.55 L101.3 578 L101.63 578 L101.97 578 L102.3 575.56 L102.63 578 L102.97 574.37 L103.3 579.58 L103.63 573.58 L103.97 578 L104.3 576.99 L104.63 578 L104.97 578 L105.3 579.27 L105.63 575.81 L105.97 580.96 L106.3 578 L106.63 578 L106.97 578 L107.3 578 L107.63 576.78 L107.97 578 L108.3 575.28 L108.63 578 L108.97 574.3 L109.3 579.12 L109.63 577.02 L109.97 579.01 L110.3 578 L110.63 578.45 L110.97 576.14 L111.3 579.74 L111.63 576.45 L111.97 581.88 L112.3 578 L112.63 580.34 L112.97 576.35 L113.3 578 L113.63 574.28 L113.97 580.27 L114.3 577.6 L114.63 578.33 L114.97 574.41 L115.3 581.14 L115.63 577.26 L115.97 578.44 L116.3 578 L116.63 578.92 L116.97 573.68 L117.3 579.66 L117.63 576.78 L117.97 581.26 L118.3 574.31 L118.63 578 L118.97 577.33 L119.3 580.84 L119.63 573.66 L119.97 578 L120.3 578 L120.63 578.58 L120.97 575.8 L121.3 578.18 L121.63 578 L121.97 582.13 L122.3 578 L122.63 579.69 L122.97 575.27 L123.3 578 L123.63 573.64 L123.97 580.78 L124.3 573.83 L124.63 580.62 L124.97 576.91 L125.3 579.03 L125.63 578 L125.97 578 L126.3 574.84 L126.63 582.02 L126.97 578 L127.3 582.08 L127.63 574.52 L127.97 578.61 L128.3 576.68 L128.63 582.1 L128.97 577.44 L129.3 578.03 L129.63 576.06 L129.97 579.12 L130.3 577.53 L130.63 579.77 L130.97 575.76 L131.3 579.31 L131.63 574.49 L131.97 582.3 L132.3 578 L132.63 578 L132.97 578 L133.3 581.87 L133.63 575.95 L133.97 578 L134.3 578 L134.63 580.02 L134.97 577.13 L135.3 578 L135.63 577.32 L135.97 578.3 L136.3 574.43 L136.63 580.15 L136.97 574.23 L137.3 578.07 L137.63 576.4 L137.97 581.48 L138.3 577.62 L138.63 578 L138.97 578 L139.3 578.19 L139.63 578 L139.97 580.84 L140.3 574.98 L140.63 581.74 L140.97 576.54 L141.3 578.7 L141.63 578 L141.97 581.94 L142.3 577.36 L142.63 579.75 L142.97 574.81 L143.3 578 L143.63 574.37 L143.97 578 L144.3 575.21 L144.63 578 L144.97 578 L145.3 580.55 L145.63 574.4 L145.97 579.85 L146.3 578 L146.63 581.14 L146.97 577.31 L147.3 580.57 L147.63 578 L147.97 581.96 L148.3 576.5 L148.63 579.73 L148.97 578 L149.3 579.37 L149.63 576.24 L149.97 580.84 L150.3 578 L150.63 579.04 L150.97 574.48 L151.3 578.05 L151.63 578 L151.97 578 L152.3 578 L152.63 579.28 L152.97 578 L153.3 578.69 L153.63 578 L153.97 579.75 L154.3 576.28 L154.63 579.36 L154.97 578 L155.3 580.41 L155.63 574.25 L155.97 578 L156.3 578 L156.63 578.36 L156.97 575.04 L157.3 579.47 L157.63 575.35 L157.97 578 L158.3 578 L158.63 578.91 L158.97 575.67 L159.3 578 L159.63 578 L159.97 581.99 L160.3 574.28 L160.63 579.17 L160.97 574.56 L161.3 578.32 L161.63 577.8 L161.97 580.57 L162.3 577.29 L162.63 578 L162.97 574.42 L163.3 578 L163.63 574.07 L163.97 581.94 L164.3 577.01 L164.63 578 L164.97 575.88 L165.3 578.62 L165.63 576.04 L165.97 578.85 L166.3 574.98 L166.63 581.34 L166.97 574.16 L167.3 581.97 L167.63 574.85 L167.97 578 L168.3 576.33 L168.63 578 L168.97 578 L169.3 582.21 L169.63 576.95 L169.97 579.22 L170.3 573.9 L170.63 578 L170.97 574.89 L171.3 578 L171.63 575.11 L171.97 579.55 L172.3 578 L172.63 578 L172.97 578 L173.3 578.89 L173.63 576.93 L173.97 581.92 L174.3 573.98 L174.63 579.32 L174.97 577.98 L175.3 581.77 L175.63 578 L175.97 578 L176.3 574.28 L176.63 580.86 L176.97 578 L177.3 579.04 L177.63 577.87 L177.97 578 L178.3 575.93 L178.63 579.41 L178.97 578 L179.3 578.81 L179.63 578 L179.97 579.21 L180.3 575.44 L180.63 578 L180.97 576.77 L181.3 578.53 L181.63 573.63 L181.97 578.96 L182.3 578 L182.63 580.04 L182.97 574.36 L183.3 582.28 L183.63 578 L183.97 579.15 L184.3 576.84 L184.63 578.45 L184.97 576.94 L185.3 578 L185.63 573.84 L185.97 579.6 L186.3 574.68 L186.63 578 L186.97 574.43 L187.3 581.7 L187.63 577.16 L187.97 580.67 L188.3 578 L188.63 578.96 L188.97 574.5 L189.3 578 L189.63 575.98 L189.97 580.3 L190.3 576.78 L190.63 581.58 L190.97 577.28 L191.3 579.81 L191.63 578 L191.97 578.91 L192.3 578 L192.63 579.07 L192.97 578 L193.3 579.14 L193.63 578 L193.97 580.1 L194.3 575.05 L194.63 578.91 L194.97 578 L195.3 580.3 L195.63 577.36 L195.97 582.03 L196.3 578 L196.63 581.09 L196.97 577.59 L197.3 581.33 L197.63 574.39 L197.97 578 L198.3 574.75 L198.63 579 L198.97 578 L199.3 577.8 L199.63 578.24 L199.97 578.07" stroke="#3cc4f0" stroke-width="0.6" fill="none" stroke-linejoin="round"/>
<path d="M36.3 587.07 L36.63 570.73 L36.97 587.07 L37.3 578.9 L37.63 570.73 L37.97 578.9 L38.3 578.9 L38.63 578.9 L38.97 570.73 L39.3 587.07 L39.63 578.9 L39.97 578.9 L40.3 570.73 L40.63 578.9 L40.97 578.9 L41.3 578.9 L41.63 578.9 L41.97 587.07 L42.3 570.73 L42.63 578.9 L42.97 578.9 L43.3 578.9 L43.63 570.73 L43.97 587.07 L44.3 578.9 L44.63 578.9 L44.97 587.07 L45.3 578.9 L45.63 587.07 L45.97 578.9 L46.3 570.73 L46.63 578.9 L46.97 578.9 L47.3 570.73 L47.63 578.9 L47.97 578.9 L48.3 578.9 L48.63 578.9 L48.97 587.07 L49.3 578.9 L49.63 578.9 L49.97 587.07 L50.3 578.9 L50.63 587.07 L50.97 578.9 L51.3 578.9 L51.63 578.9 L51.97 578.9 L52.3 578.9 L52.63 578.9 L52.97 578.9 L53.3 578.9 L53.63 578.9 L53.97 587.07 L54.3 578.9 L54.63 578.9 L54.97 578.9 L55.3 578.9 L55.63 587.07 L55.97 578.9 L56.3 578.9 L56.63 570.73 L56.97 578.9 L57.3 578.9 L57.63 587.07 L57.97 578.9 L58.3 578.9 L58.63 578.9 L58.97 578.9 L59.3 578.9 L59.63 578.9 L59.97 578.9 L60.3 570.73 L60.63 578.9 L60.97 578.9 L61.3 578.9 L61.63 578.9 L61.97 578.9 L62.3 578.9 L62.63 570.73 L62.97 578.9 L63.3 570.73 L63.63 578.9 L63.97 570.73 L64.3 587.07 L64.63 578.9 L64.97 578.9 L65.3 578.9 L65.63 570.73 L65.97 578.9 L66.3 587.07 L66.63 578.9 L66.97 578.9 L67.3 578.9 L67.63 578.9 L67.97 578.9 L68.3 578.9 L68.63 578.9 L68.97 578.9 L69.3 578.9 L69.63 578.9 L69.97 578.9 L70.3 587.07 L70.63 578.9 L70.97 578.9 L71.3 570.73 L71.63 578.9 L71.97 587.07 L72.3 578.9 L72.63 570.73 L72.97 578.9 L73.3 578.9 L73.63 570.73 L73.97 578.9 L74.3 578.9 L74.63 570.73 L74.97 578.9 L75.3 587.07 L75.63 570.73 L75.97 578.9 L76.3 578.9 L76.63 578.9 L76.97 578.9 L77.3 578.9 L77.63 570.73 L77.97 578.9 L78.3 578.9 L78.63 578.9 L78.97 578.9 L79.3 587.07 L79.63 578.9 L79.97 570.73 L80.3 578.9 L80.63 587.07 L80.97 578.9 L81.3 570.73 L81.63 578.9 L81.97 587.07 L82.3 570.73 L82.63 578.9 L82.97 587.07 L83.3 570.73 L83.63 587.07 L83.97 578.9 L84.3 570.73 L84.63 587.07 L84.97 578.9 L85.3 578.9 L85.63 578.9 L85.97 578.9 L86.3 578.9 L86.63 578.9 L86.97 578.9 L87.3 587.07 L87.63 578.9 L87.97 578.9 L88.3 570.73 L88.63 578.9 L88.97 578.9 L89.3 587.07 L89.63 578.9 L89.97 578.9 L90.3 578.9 L90.63 587.07 L90.97 578.9 L91.3 578.9 L91.63 578.9 L91.97 578.9 L92.3 578.9 L92.63 578.9 L92.97 578.9 L93.3 578.9 L93.63 587.07 L93.97 570.73 L94.3 578.9 L94.63 578.9 L94.97 578.9 L95.3 578.9 L95.63 578.9 L95.97 587.07 L96.3 570.73 L96.63 587.07 L96.97 578.9 L97.3 578.9 L97.63 587.07 L97.97 570.73 L98.3 578.9 L98.63 578.9 L98.97 578.9 L99.3 578.9 L99.63 578.9 L99.97 578.9 L100.3 578.9 L100.63 570.73 L100.97 578.9 L101.3 578.9 L101.63 578.9 L101.97 578.9 L102.3 578.9 L102.63 578.9 L102.97 578.9 L103.3 587.07 L103.63 570.73 L103.97 578.9 L104.3 578.9 L104.63 578.9 L104.97 570.73 L105.3 578.9 L105.63 578.9 L105.97 570.73 L106.3 587.07 L106.63 578.9 L106.97 587.07 L107.3 578.9 L107.63 578.9 L107.97 570.73 L108.3 578.9 L108.63 578.9 L108.97 578.9 L109.3 578.9 L109.63 587.07 L109.97 578.9 L110.3 570.73 L110.63 578.9 L110.97 578.9 L111.3 587.07 L111.63 578.9 L111.97 570.73 L112.3 578.9 L112.63 578.9 L112.97 578.9 L113.3 578.9 L113.63 578.9 L113.97 587.07 L114.3 570.73 L114.63 578.9 L114.97 578.9 L115.3 578.9 L115.63 587.07 L115.97 578.9 L116.3 578.9 L116.63 570.73 L116.97 578.9 L117.3 578.9 L117.63 578.9 L117.97 578.9 L118.3 570.73 L118.63 578.9 L118.97 578.9 L119.3 578.9 L119.63 578.9 L119.97 578.9 L120.3 578.9 L120.63 578.9 L120.97 587.07 L121.3 578.9 L121.63 578.9 L121.97 570.73 L122.3 578.9 L122.63 570.73 L122.97 587.07 L123.3 570.73 L123.63 587.07 L123.97 578.9 L124.3 578.9 L124.63 578.9 L124.97 570.73 L125.3 578.9 L125.63 570.73 L125.97 578.9 L126.3 587.07 L126.63 570.73 L126.97 578.9 L127.3 578.9 L127.63 587.07 L127.97 570.73 L128.3 578.9 L128.63 578.9 L128.97 578.9 L129.3 578.9 L129.63 578.9 L129.97 570.73 L130.3 578.9 L130.63 578.9 L130.97 578.9 L131.3 578.9 L131.63 570.73 L131.97 587.07 L132.3 578.9 L132.63 578.9 L132.97 570.73 L133.3 578.9 L133.63 570.73 L133.97 587.07 L134.3 570.73 L134.63 578.9 L134.97 587.07 L135.3 570.73 L135.63 587.07 L135.97 578.9 L136.3 578.9 L136.63 578.9 L136.97 578.9 L137.3 578.9 L137.63 578.9 L137.97 578.9 L138.3 570.73 L138.63 578.9 L138.97 578.9 L139.3 570.73 L139.63 578.9 L139.97 578.9 L140.3 578.9 L140.63 587.07 L140.97 578.9 L141.3 587.07 L141.63 570.73 L141.97 578.9 L142.3 578.9 L142.63 570.73 L142.97 578.9 L143.3 587.07 L143.63 578.9 L143.97 578.9 L144.3 587.07 L144.63 578.9 L144.97 578.9 L145.3 578.9 L145.63 578.9 L145.97 587.07 L146.3 578.9 L146.63 578.9 L146.97 587.07 L147.3 578.9 L147.63 587.07 L147.97 578.9 L148.3 570.73 L148.63 578.9 L148.97 578.9 L149.3 570.73 L149.63 578.9 L149.97 578.9 L150.3 570.73 L150.63 578.9 L150.97 578.9 L151.3 578.9 L151.63 570.73 L151.97 578.9 L152.3 587.07 L152.63 578.9 L152.97 578.9 L153.3 578.9 L153.63 587.07 L153.97 578.9 L154.3 578.9 L154.63 578.9 L154.97 570.73 L155.3 587.07 L155.63 578.9 L155.97 578.9 L156.3 570.73 L156.63 578.9 L156.97 578.9 L157.3 578.9 L157.63 570.73 L157.97 578.9 L158.3 570.73 L158.63 587.07 L158.97 570.73 L159.3 578.9 L159.63 578.9 L159.97 578.9 L160.3 578.9 L160.63 587.07 L160.97 578.9 L161.3 570.73 L161.63 587.07 L161.97 578.9 L162.3 570.73 L162.63 578.9 L162.97 578.9 L163.3 578.9 L163.63 587.07 L163.97 578.9 L164.3 570.73 L164.63 587.07 L164.97 578.9 L165.3 578.9 L165.63 570.73 L165.97 587.07 L166.3 578.9 L166.63 578.9 L166.97 587.07 L167.3 570.73 L167.63 578.9 L167.97 578.9 L168.3 578.9 L168.63 578.9 L168.97 578.9 L169.3 578.9 L169.63 578.9 L169.97 587.07 L170.3 578.9 L170.63 578.9 L170.97 578.9 L171.3 570.73 L171.63 578.9 L171.97 578.9 L172.3 570.73 L172.63 578.9 L172.97 578.9 L173.3 578.9 L173.63 570.73 L173.97 578.9 L174.3 578.9 L174.63 578.9 L174.97 578.9 L175.3 578.9 L175.63 570.73 L175.97 587.07 L176.3 578.9 L176.63 578.9 L176.97 578.9 L177.3 578.9 L177.63 570.73 L177.97 587.07 L178.3 578.9 L178.63 578.9 L178.97 587.07 L179.3 578.9 L179.63 578.9 L179.97 578.9 L180.3 578.9 L180.63 587.07 L180.97 570.73 L181.3 578.9 L181.63 578.9 L181.97 578.9 L182.3 578.9 L182.63 578.9 L182.97 570.73 L183.3 578.9 L183.63 578.9 L183.97 578.9 L184.3 578.9 L184.63 578.9 L184.97 570.73 L185.3 578.9 L185.63 587.07 L185.97 578.9 L186.3 570.73 L186.63 578.9 L186.97 570.73 L187.3 578.9 L187.63 578.9 L187.97 578.9 L188.3 578.9 L188.63 578.9 L188.97 578.9 L189.3 570.73 L189.63 587.07 L189.97 578.9 L190.3 570.73 L190.63 578.9 L190.97 578.9 L191.3 578.9 L191.63 578.9 L191.97 578.9 L192.3 578.9 L192.63 587.07 L192.97 578.9 L193.3 578.9 L193.63 578.9 L193.97 578.9 L194.3 587.07 L194.63 570.73 L194.97 578.9 L195.3 570.73 L195.63 587.07 L195.97 570.73 L196.3 578.9 L196.63 578.9 L196.97 570.73 L197.3 578.9 L197.63 578.9 L197.97 578.9 L198.3 578.9 L198.63 578.9 L198.97 578.9 L199.3 578.9 L199.63 578.9 L199.97 578.9 L200.3 578.9 L200.63 578.9 L200.97 578.9 L201.3 578.9 L201.63 578.9 L201.97 578.9 L202.3 578.9 L202.63 578.9 L202.97 578.9 L203.3 578.9 L203.63 578.9 L203.97 578.9 L204.3 578.9 L204.63 578.9 L204.97 578.9 L205.3 578.9 L205.63 578.9 L205.97 578.9 L206.3 578.9 L206.63 578.9 L206.97 578.9 L207.3 570.73 L207.63 578.9 L207.97 570.73 L208.3 570.73 L208.63 570.73 L208.97 570.73 L209.3 578.9 L209.63 570.73 L209.97 570.73 L210.3 562.56 L210.63 570.73 L210.97 554.39 L211.3 562.56 L211.63 562.56 L211.97 570.73 L212.3 570.73 L212.63 562.56 L212.97 562.56 L213.3 562.56 L213.63 570.73 L213.97 562.56 L214.3 562.56 L214.63 562.56 L214.97 562.56 L215.3 554.39 L215.63 562.56 L215.97 562.56 L216.3 554.39 L216.63 554.39 L216.97 562.56 L217.3 554.39 L217.63 554.39 L217.97 554.39 L218.3 554.39 L218.63 554.39 L218.97 546.22 L219.3 546.22 L219.63 554.39 L219.97 562.56 L220.3 546.22 L220.63 546.22 L220.97 538.05 L221.3 546.22 L221.63 546.22 L221.97 546.22 L222.3 538.05 L222.63 546.22 L222.97 538.05 L223.3 538.05 L223.63 538.05 L223.97 529.88 L224.3 529.88 L224.63 538.05 L224.97 538.05 L225.3 538.05 L225.63 529.88 L225.97 529.88 L226.3 529.88 L226.63 529.88 L226.97 521.71 L227.3 521.71 L227.63 521.71 L227.97 513.54 L228.3 513.54 L228.63 521.71 L228.97 521.71 L229.3 513.54 L229.63 513.54 L229.97 513.54 L230.3 505.37 L230.63 497.2 L230.97 497.2 L231.3 505.37 L231.63 505.37 L231.97 505.37 L232.3 505.37 L232.63 497.2 L232.97 497.2 L233.3 497.2 L233.63 497.2 L233.97 489.03 L234.3 489.03 L234.63 489.03 L234.97 480.86 L235.3 489.03 L235.63 480.86 L235.97 480.86 L236.3 489.03 L236.63 480.86 L236.97 472.69 L237.3 480.86 L237.63 472.69 L237.97 472.69 L238.3 464.52 L238.63 472.69 L238.97 472.69 L239.3 464.52 L239.63 464.52 L239.97 464.52 L240.3 464.52 L240.63 464.52 L240.97 456.35 L241.3 464.52 L241.63 456.35 L241.97 448.18 L242.3 448.18 L242.63 448.18 L242.97 456.35 L243.3 440.01 L243.63 456.35 L243.97 440.01 L244.3 440.01 L244.63 431.84 L244.97 440.01 L245.3 431.84 L245.63 440.01 L245.97 431.84 L246.3 423.67 L246.63 431.84 L246.97 431.84 L247.3 423.67 L247.63 431.84 L247.97 423.67 L248.3 423.67 L248.63 415.5 L248.97 407.33 L249.3 415.5 L249.63 407.33 L249.97 415.5 L250.3 415.5 L250.63 407.33 L250.97 407.33 L251.3 407.33 L251.63 407.33 L251.97 407.33 L252.3 407.33 L252.63 407.33 L252.97 407.33 L253.3 415.5 L253.63 407.33 L253.97 407.33 L254.3 407.33 L254.63 407.33 L254.97 407.33 L255.3 407.33 L255.63 407.33 L255.97 399.16 L256.3 407.33 L256.63 407.33 L256.97 407.33 L257.3 407.33 L257.63 407.33 L257.97 407.33 L258.3 399.16 L258.63 407.33 L258.97 407.33 L259.3 407.33 L259.63 407.33 L259.97 407.33 L260.3 407.33 L260.63 407.33 L260.97 407.33 L261.3 407.33 L261.63 407.33 L261.97 407.33 L262.3 407.33 L262.63 407.33 L262.97 407.33 L263.3 407.33 L263.63 407.33 L263.97 407.33 L264.3 407.33 L264.63 407.33 L264.97 407.33 L265.3 415.5 L265.63 407.33 L265.97 407.33 L266.3 407.33 L266.63 407.33 L266.97 415.5 L267.3 415.5 L267.63 415.5 L267.97 415.5 L268.3 407.33 L268.63 415.5 L268.97 415.5 L269.3 407.33 L269.63 415.5 L269.97 407.33 L270.3 407.33 L270.63 415.5 L270.97 407.33 L271.3 407.33 L271.63 415.5 L271.97 407.33 L272.3 407.33 L272.63 399.16 L272.97 407.33 L273.3 407.33 L273.63 407.33 L273.97 407.33 L274.3 415.5 L274.63 407.33 L274.97 407.33 L275.3 407.33 L275.63 415.5 L275.97 415.5 L276.3 407.33 L276.63 407.33 L276.97 415.5 L277.3 407.33 L277.63 415.5 L277.97 399.16 L278.3 415.5 L278.63 407.33 L278.97 407.33 L279.3 407.33 L279.63 407.33 L279.97 407.33 L280.3 407.33 L280.63 407.33 L280.97 407.33 L281.3 407.33 L281.63 407.33 L281.97 407.33 L282.3 407.33 L282.63 407.33 L282.97 407.33 L283.3 407.33 L283.63 407.33 L283.97 407.33 L284.3 407.33 L284.63 407.33 L284.97 407.33 L285.3 407.33 L285.63 407.33 L285.97 407.33 L286.3 407.33 L286.63 415.5 L286.97 415.5 L287.3 407.33 L287.63 407.33 L287.97 407.33 L288.3 407.33 L288.63 399.16 L288.97 407.33 L289.3 407.33 L289.63 415.5 L289.97 415.5 L290.3 407.33 L290.63 407.33 L290.97 415.5 L291.3 407.33 L291.63 415.5 L291.97 407.33 L292.3 415.5 L292.63 407.33 L292.97 407.33 L293.3 407.33 L293.63 407.33 L293.97 415.5 L294.3 415.5 L294.63 415.5 L294.97 399.16 L295.3 407.33 L295.63 415.5 L295.97 407.33 L296.3 415.5 L296.63 415.5 L296.97 415.5 L297.3 415.5 L297.63 415.5 L297.97 415.5 L298.3 407.33 L298.63 407.33 L298.97 415.5 L299.3 415.5 L299.63 407.33 L299.97 415.5 L300.3 415.5 L300.63 407.33 L300.97 407.33 L301.3 407.33 L301.63 407.33 L301.97 407.33 L302.3 407.33 L302.63 407.33 L302.97 407.33 L303.3 407.33 L303.63 407.33 L303.97 407.33 L304.3 407.33 L304.63 407.33 L304.97 407.33 L305.3 407.33 L305.63 399.16 L305.97 407.33 L306.3 407.33 L306.63 415.5 L306.97 407.33 L307.3 407.33 L307.63 415.5 L307.97 415.5 L308.3 415.5 L308.63 415.5 L308.97 407.33 L309.3 407.33 L309.63 407.33 L309.97 415.5 L310.3 407.33 L310.63 407.33 L310.97 399.16 L311.3 407.33 L311.63 407.33 L311.97 415.5 L312.3 407.33 L312.63 407.33 L312.97 407.33 L313.3 407.33 L313.63 407.33 L313.97 415.5 L314.3 407.33 L314.63 415.5 L314.97 415.5 L315.3 407.33 L315.63 407.33 L315.97 407.33 L316.3 407.33 L316.63 407.33 L316.97 415.5 L317.3 399.16 L317.63 407.33 L317.97 407.33 L318.3 415.5 L318.63 415.5 L318.97 415.5 L319.3 407.33 L319.63 415.5 L319.97 407.33 L320.3 415.5 L320.63 415.5 L320.97 407.33 L321.3 415.5 L321.63 407.33 L321.97 407.33 L322.3 407.33 L322.63 415.5 L322.97 407.33 L323.3 407.33 L323.63 407.33 L323.97 407.33 L324.3 415.5 L324.63 407.33 L324.97 407.33 L325.3 407.33 L325.63 415.5 L325.97 407.33 L326.3 407.33 L326.63 399.16 L326.97 407.33 L327.3 415.5 L327.63 415.5 L327.97 415.5 L328.3 407.33 L328.63 399.16 L328.97 407.33 L329.3 407.33 L329.63 415.5 L329.97 407.33 L330.3 399.16 L330.63 415.5 L330.97 407.33 L331.3 415.5 L331.63 399.16 L331.97 407.33 L332.3 415.5 L332.63 407.33 L332.97 415.5 L333.3 407.33 L333.63 415.5 L333.97 407.33 L334.3 407.33 L334.63 407.33 L334.97 407.33 L335.3 415.5 L335.63 415.5 L335.97 407.33 L336.3 407.33 L336.63 407.33 L336.97 407.33 L337.3 415.5 L337.63 407.33 L337.97 407.33 L338.3 415.5 L338.63 407.33 L338.97 399.16 L339.3 415.5 L339.63 415.5 L339.97 415.5 L340.3 415.5 L340.63 407.33 L340.97 407.33 L341.3 407.33 L341.63 399.16 L341.97 407.33 L342.3 399.16 L342.63 407.33 L342.97 407.33 L343.3 407.33 L343.63 407.33 L343.97 407.33 L344.3 407.33 L344.63 407.33 L344.97 415.5 L345.3 407.33 L345.63 407.33 L345.97 407.33 L346.3 407.33 L346.63 407.33 L346.97 407.33 L347.3 407.33 L347.63 407.33 L347.97 415.5 L348.3 415.5 L348.63 415.5 L348.97 399.16 L349.3 407.33 L349.63 415.5 L349.97 415.5 L350.3 415.5 L350.63 415.5 L350.97 415.5 L351.3 415.5 L351.63 415.5 L351.97 415.5 L352.3 415.5 L352.63 407.33 L352.97 407.33 L353.3 415.5 L353.63 415.5 L353.97 407.33 L354.3 415.5 L354.63 407.33 L354.97 415.5 L355.3 415.5 L355.63 415.5 L355.97 415.5 L356.3 407.33 L356.63 415.5 L356.97 407.33 L357.3 407.33 L357.63 415.5 L357.97 407.33 L358.3 415.5 L358.63 407.33 L358.97 415.5 L359.3 407.33 L359.63 415.5 L359.97 407.33 L360.3 415.5 L360.63 407.33 L360.97 391.5 L361.3 423 L361.63 407.33 L361.97 407.33 L362.3 407.33 L362.63 415.5 L362.97 415.5 L363.3 415.5 L363.63 407.33 L363.97 415.5 L364.3 399.16 L364.63 407.33 L364.97 407.33 L365.3 407.33 L365.63 415.5 L365.97 399.16 L366.3 407.33 L366.63 407.33 L366.97 415.5 L367.3 407.33 L367.63 415.5 L367.97 415.5 L368.3 407.33 L368.63 407.33 L368.97 415.5 L369.3 415.5 L369.63 407.33 L369.97 407.33 L370.3 407.33 L370.63 407.33 L370.97 415.5 L371.3 415.5 L371.63 415.5 L371.97 407.33 L372.3 407.33 L372.63 415.5 L372.97 415.5 L373.3 407.33 L373.63 407.33 L373.97 415.5 L374.3 407.33 L374.63 399.16 L374.97 415.5 L375.3 399.16 L375.63 399.16 L375.97 407.33 L376.3 407.33 L376.63 407.33 L376.97 415.5 L377.3 415.5 L377.63 407.33 L377.97 407.33 L378.3 407.33 L378.63 407.33 L378.97 407.33 L379.3 407.33 L379.63 407.33 L379.97 407.33 L380.3 407.33 L380.63 407.33 L380.97 407.33 L381.3 407.33 L381.63 407.33 L381.97 407.33 L382.3 407.33 L382.63 399.16 L382.97 407.33 L383.3 407.33 L383.63 407.33 L383.97 407.33 L384.3 399.16 L384.63 407.33 L384.97 399.16 L385.3 407.33 L385.63 407.33 L385.97 407.33 L386.3 407.33 L386.63 399.16 L386.97 407.33 L387.3 407.33 L387.63 407.33 L387.97 407.33 L388.3 407.33 L388.63 407.33 L388.97 407.33 L389.3 415.5 L389.63 407.33 L389.97 407.33 L390.3 415.5 L390.63 415.5 L390.97 415.5 L391.3 415.5 L391.63 415.5 L391.97 415.5 L392.3 407.33 L392.63 407.33 L392.97 407.33 L393.3 415.5 L393.63 415.5 L393.97 423.67 L394.3 415.5 L394.63 415.5 L394.97 415.5 L395.3 407.33 L395.63 423.67 L395.97 415.5 L396.3 423.67 L396.63 431.84 L396.97 431.84 L397.3 431.84 L397.63 440.01 L397.97 431.84 L398.3 431.84 L398.63 431.84 L398.97 440.01 L399.3 440.01 L399.63 440.01 L399.97 440.01 L400.3 448.18 L400.63 448.18 L400.97 448.18 L401.3 448.18 L401.63 456.35 L401.97 448.18 L402.3 448.18 L402.63 464.52 L402.97 464.52 L403.3 464.52 L403.63 456.35 L403.97 464.52 L404.3 464.52 L404.63 464.52 L404.97 472.69 L405.3 464.52 L405.63 464.52 L405.97 472.69 L406.3 472.69 L406.63 480.86 L406.97 472.69 L407.3 464.52 L407.63 472.69 L407.97 480.86 L408.3 480.86 L408.63 480.86 L408.97 489.03 L409.3 480.86 L409.63 489.03 L409.97 480.86 L410.3 489.03 L410.63 480.86 L410.97 480.86 L411.3 480.86 L411.63 497.2 L411.97 489.03 L412.3 489.03 L412.63 497.2 L412.97 497.2 L413.3 497.2 L413.63 497.2 L413.97 497.2 L414.3 505.37 L414.63 505.37 L414.97 505.37 L415.3 505.37 L415.63 513.54 L415.97 505.37 L416.3 505.37 L416.63 513.54 L416.97 513.54 L417.3 521.71 L417.63 521.71 L417.97 521.71 L418.3 513.54 L418.63 521.71 L418.97 529.88 L419.3 521.71 L419.63 521.71 L419.97 521.71 L420.3 529.88 L420.63 529.88 L420.97 529.88 L421.3 529.88 L421.63 529.88 L421.97 529.88 L422.3 538.05 L422.63 529.88 L422.97 538.05 L423.3 538.05 L423.63 546.22 L423.97 529.88 L424.3 538.05 L424.63 538.05 L424.97 538.05 L425.3 546.22 L425.63 546.22 L425.97 538.05 L426.3 546.22 L426.63 546.22 L426.97 554.39 L427.3 554.39 L427.63 554.39 L427.97 546.22 L428.3 546.22 L428.63 546.22 L428.97 546.22 L429.3 554.39 L429.63 554.39 L429.97 554.39 L430.3 554.39 L430.63 554.39 L430.97 554.39 L431.3 554.39 L431.63 554.39 L431.97 554.39 L432.3 562.56 L432.63 554.39 L432.97 562.56 L433.3 554.39 L433.63 546.22 L433.97 554.39 L434.3 554.39 L434.63 546.22 L434.97 554.39 L435.3 554.39 L435.63 554.39 L435.97 554.39 L436.3 554.39 L436.63 562.56 L436.97 562.56 L437.3 562.56 L437.63 562.56 L437.97 554.39 L438.3 554.39 L438.63 562.56 L438.97 554.39 L439.3 562.56 L439.63 554.39 L439.97 546.22 L440.3 554.39 L440.63 554.39 L440.97 546.22 L441.3 546.22 L441.63 554.39 L441.97 562.56 L442.3 554.39 L442.63 546.22 L442.97 562.56 L443.3 546.22 L443.63 554.39 L443.97 546.22 L444.3 546.22 L444.63 546.22 L444.97 554.39 L445.3 546.22 L445.63 562.56 L445.97 554.39 L446.3 554.39 L446.63 554.39 L446.97 554.39 L447.3 554.39 L447.63 562.56 L447.97 546.22 L448.3 546.22 L448.63 554.39 L448.97 546.22 L449.3 554.39 L449.63 546.22 L449.97 554.39 L450.3 546.22 L450.63 554.39 L450.97 554.39 L451.3 546.22 L451.63 554.39 L451.97 546.22 L452.3 546.22 L452.63 554.39 L452.97 554.39 L453.3 546.22 L453.63 546.22 L453.97 546.22 L454.3 554.39 L454.63 554.39 L454.97 554.39 L455.3 546.22 L455.63 538.05 L455.97 554.39 L456.3 538.05 L456.63 546.22 L456.97 546.22 L457.3 546.22 L457.63 554.39 L457.97 538.05 L458.3 546.22 L458.63 546.22 L458.97 554.39 L459.3 554.39 L459.63 538.05 L459.97 538.05 L460.3 546.22 L460.63 546.22 L460.97 546.22 L461.3 546.22 L461.63 546.22 L461.97 546.22 L462.3 538.05 L462.63 546.22 L462.97 538.05 L463.3 554.39 L463.63 538.05 L463.97 538.05 L464.3 546.22 L464.63 538.05 L464.97 538.05 L465.3 529.88 L465.63 546.22 L465.97 546.22 L466.3 546.22 L466.63 546.22 L466.97 538.05 L467.3 546.22 L467.63 538.05 L467.97 546.22 L468.3 538.05 L468.63 538.05 L468.97 546.22 L469.3 538.05 L469.63 546.22 L469.97 546.22 L470.3 538.05 L470.63 554.39 L470.97 546.22 L471.3 538.05 L471.63 538.05 L471.97 546.22 L472.3 546.22 L472.63 529.88 L472.97 538.05 L473.3 538.05 L473.63 538.05 L473.97 538.05 L474.3 538.05 L474.63 546.22 L474.97 538.05 L475.3 538.05 L475.63 546.22 L475.97 546.22 L476.3 538.05 L476.63 538.05 L476.97 546.22 L477.3 538.05 L477.63 538.05 L477.97 529.88 L478.3 546.22 L478.63 538.05 L478.97 546.22 L479.3 538.05 L479.63 538.05 L479.97 538.05 L480.3 538.05 L480.63 529.88 L480.97 538.05 L481.3 538.05 L481.63 538.05 L481.97 546.22 L482.3 546.22 L482.63 538.05 L482.97 538.05 L483.3 538.05 L483.63 538.05 L483.97 538.05 L484.3 538.05 L484.63 538.05 L484.97 538.05 L485.3 538.05 L485.63 529.88 L485.97 529.88 L486.3 538.05 L486.63 529.88 L486.97 538.05 L487.3 529.88 L487.63 529.88 L487.97 538.05 L488.3 529.88 L488.63 546.22 L488.97 538.05 L489.3 538.05 L489.63 529.88 L489.97 538.05 L490.3 538.05 L490.63 538.05 L490.97 538.05 L491.3 529.88 L491.63 538.05 L491.97 538.05 L492.3 538.05 L492.63 538.05 L492.97 538.05 L493.3 538.05 L493.63 538.05 L493.97 546.22 L494.3 546.22 L494.63 538.05 L494.97 538.05 L495.3 529.88 L495.63 538.05 L495.97 538.05 L496.3 538.05 L496.63 529.88 L496.97 546.22 L497.3 546.22 L497.63 529.88 L497.97 538.05 L498.3 538.05 L498.63 538.05 L498.97 529.88 L499.3 529.88 L499.63 529.88 L499.97 538.05 L500.3 529.88 L500.63 538.05 L500.97 529.88 L501.3 529.88 L501.63 538.05 L501.97 538.05 L502.3 538.05 L502.63 538.05 L502.97 529.88 L503.3 529.88 L503.63 529.88 L503.97 529.88 L504.3 538.05 L504.63 521.71 L504.97 529.88 L505.3 538.05 L505.63 529.88 L505.97 529.88 L506.3 529.88 L506.63 529.88 L506.97 538.05 L507.3 529.88 L507.63 538.05 L507.97 529.88 L508.3 529.88 L508.63 529.88 L508.97 529.88 L509.3 529.88 L509.63 538.05 L509.97 529.88 L510.3 521.71 L510.63 521.71 L510.97 538.05 L511.3 529.88 L511.63 529.88 L511.97 529.88 L512.3 521.71 L512.63 538.05 L512.97 521.71 L513.3 529.88 L513.63 521.71 L513.97 529.88 L514.3 513.54 L514.63 521.71 L514.97 529.88 L515.3 529.88 L515.63 538.05 L515.97 521.71 L516.3 529.88 L516.63 521.71 L516.97 529.88 L517.3 521.71 L517.63 529.88 L517.97 521.71 L518.3 521.71 L518.63 529.88 L518.97 521.71 L519.3 521.71 L519.63 521.71 L519.97 521.71 L520.3 529.88 L520.63 529.88 L520.97 529.88 L521.3 529.88 L521.63 513.54 L521.97 521.71 L522.3 521.71 L522.63 513.54 L522.97 521.71 L523.3 529.88 L523.63 529.88 L523.97 521.71 L524.3 513.54 L524.63 529.88 L524.97 521.71 L525.3 521.71 L525.63 521.71 L525.97 529.88 L526.3 513.54 L526.63 521.71 L526.97 513.54 L527.3 529.88 L527.63 521.71 L527.97 513.54 L528.3 521.71 L528.63 529.88 L528.97 521.71 L529.3 521.71 L529.63 521.71 L529.97 513.54 L530.3 513.54 L530.63 513.54 L530.97 505.37 L531.3 521.71 L531.63 513.54 L531.97 513.54 L532.3 521.71 L532.63 521.71 L532.97 521.71 L533.3 521.71 L533.63 513.54 L533.97 521.71 L534.3 513.54 L534.63 513.54 L534.97 513.54 L535.3 513.54 L535.63 521.71 L535.97 521.71 L536.3 505.37 L536.63 505.37 L536.97 513.54 L537.3 513.54 L537.63 513.54 L537.97 505.37 L538.3 505.37 L538.63 513.54 L538.97 513.54 L539.3 513.54 L539.63 505.37 L539.97 513.54 L540.3 505.37 L540.63 513.54 L540.97 505.37 L541.3 505.37 L541.63 505.37 L541.97 513.54 L542.3 513.54 L542.63 505.37 L542.97 505.37 L543.3 505.37 L543.63 505.37 L543.97 513.54 L544.3 513.54 L544.63 497.2 L544.97 505.37 L545.3 505.37 L545.63 505.37 L545.97 505.37 L546.3 505.37 L546.63 505.37 L546.97 505.37 L547.3 505.37 L547.63 505.37 L547.97 505.37 L548.3 505.37 L548.63 497.2 L548.97 497.2 L549.3 505.37 L549.63 497.2 L549.97 505.37 L550.3 497.2 L550.63 497.2 L550.97 505.37 L551.3 497.2 L551.63 497.2 L551.97 505.37 L552.3 489.03 L552.63 505.37 L552.97 497.2 L553.3 505.37 L553.63 505.37 L553.97 505.37 L554.3 505.37 L554.63 505.37 L554.97 513.54 L555.3 505.37 L555.63 513.54 L555.97 513.54 L556.3 513.54 L556.63 513.54 L556.97 505.37 L557.3 513.54 L557.63 521.71 L557.97 521.71 L558.3 521.71 L558.63 521.71 L558.97 521.71 L559.3 521.71 L559.63 521.71 L559.97 521.71 L560.3 529.88 L560.63 538.05 L560.97 529.88 L561.3 538.05 L561.63 538.05 L561.97 538.05 L562.3 538.05 L562.63 538.05 L562.97 538.05 L563.3 538.05 L563.63 554.39 L563.97 554.39 L564.3 554.39 L564.63 546.22 L564.97 562.56 L565.3 554.39 L565.63 562.56 L565.97 562.56 L566.3 562.56 L566.63 570.73 L566.97 562.56 L567.3 562.56 L567.63 570.73 L567.97 562.56 L568.3 578.9 L568.63 578.9 L568.97 570.73 L569.3 570.73 L569.63 578.9 L569.97 578.9 L570.3 578.9 L570.63 570.73 L570.97 578.9 L571.3 578.9 L571.63 578.9 L571.97 570.73 L572.3 587.07 L572.63 578.9 L572.97 587.07 L573.3 578.9 L573.63 587.07 L573.97 578.9 L574.3 578.9 L574.63 587.07 L574.97 578.9 L575.3 578.9 L575.63 570.73 L575.97 587.07 L576.3 570.73 L576.63 587.07 L576.97 578.9 L577.3 587.07 L577.63 570.73 L577.97 587.07 L578.3 570.73 L578.63 578.9 L578.97 587.07 L579.3 578.9 L579.63 570.73 L579.97 587.07 L580.3 570.73 L580.63 578.9 L580.97 587.07 L581.3 570.73 L581.63 578.9 L581.97 578.9 L582.3 578.9 L582.63 578.9 L582.97 578.9 L583.3 578.9 L583.63 578.9 L583.97 587.07 L584.3 578.9 L584.63 578.9 L584.97 578.9 L585.3 587.07 L585.63 570.73 L585.97 578.9 L586.3 587.07 L586.63 570.73 L586.97 578.9 L587.3 570.73 L587.63 578.9 L587.97 570.73 L588.3 578.9 L588.63 578.9 L588.97 578.9 L589.3 578.9 L589.63 578.9 L589.97 578.9 L590.3 570.73 L590.63 578.9 L590.97 578.9 L591.3 578.9 L591.63 578.9 L591.97 570.73 L592.3 578.9 L592.63 578.9 L592.97 578.9 L593.3 570.73 L593.63 587.07 L593.97 570.73 L594.3 578.9 L594.63 578.9 L594.97 578.9 L595.3 578.9 L595.63 578.9 L595.97 587.07 L596.3 578.9 L596.63 587.07 L596.97 570.73 L597.3 578.9 L597.63 578.9 L597.97 570.73 L598.3 578.9 L598.63 578.9 L598.97 587.07 L599.3 578.9 L599.63 570.73 L599.97 587.07 L600.3 570.73 L600.63 587.07 L600.97 578.9 L601.3 587.07 L601.63 578.9 L601.97 578.9 L602.3 578.9 L602.63 587.07 L602.97 570.73 L603.3 587.07 L603.63 570.73 L603.97 578.9 L604.3 570.73 L604.63 578.9 L604.97 587.07 L605.3 570.73 L605.63 578.9 L605.97 587.07 L606.3 578.9 L606.63 587.07 L606.97 570.73 L607.3 578.9 L607.63 578.9 L607.97 578.9 L608.3 578.9 L608.63 578.9 L608.97 570.73 L609.3 578.9 L609.63 578.9 L609.97 587.07 L610.3 570.73 L610.63 578.9 L610.97 578.9 L611.3 578.9 L611.63 578.9 L611.97 587.07 L612.3 578.9 L612.63 587.07 L612.97 578.9 L613.3 578.9 L613.63 570.73 L613.97 578.9 L614.3 587.07 L614.63 570.73 L614.97 578.9 L615.3 578.9 L615.63 587.07 L615.97 570.73 L616.3 578.9 L616.63 578.9 L616.97 570.73 L617.3 578.9 L617.63 578.9 L617.97 578.9 L618.3 578.9 L618.63 578.9 L618.97 578.9 L619.3 587.07 L619.63 578.9 L619.97 578.9 L620.3 578.9 L620.63 578.9 L620.97 587.07 L621.3 578.9 L621.63 570.73 L621.97 587.07 L622.3 578.9 L622.63 578.9 L622.97 578.9 L623.3 587.07 L623.63 578.9 L623.97 578.9 L624.3 570.73 L624.63 587.07 L624.97 578.9 L625.3 570.73 L625.63 587.07 L625.97 578.9 L626.3 578.9 L626.63 578.9 L626.97 578.9 L627.3 578.9 L627.63 570.73 L627.97 578.9 L628.3 570.73 L628.63 578.9 L628.97 570.73 L629.3 578.9 L629.63 578.9 L629.97 578.9 L630.3 587.07 L630.63 578.9 L630.97 578.9 L631.3 578.9 L631.63 578.9 L631.97 578.9 L632.3 587.07 L632.63 578.9 L632.97 570.73 L633.3 578.9 L633.63 578.9 L633.97 578.9 L634.3 570.73 L634.63 578.9 L634.97 578.9 L635.3 587.07 L635.63 570.73 L635.97 587.07 L636.3 570.73 L636.63 587.07 L636.97 570.73 L637.3 578.9 L637.63 570.73 L637.97 587.07 L638.3 578.9 L638.63 578.9 L638.97 578.9 L639.3 578.9 L639.63 578.9 L639.97 578.9 L640.3 578.9 L640.63 578.9 L640.97 570.73 L641.3 578.9 L641.63 578.9 L641.97 587.07 L642.3 578.9 L642.63 578.9 L642.97 578.9 L643.3 578.9 L643.63 587.07 L643.97 578.9 L644.3 578.9 L644.63 578.9 L644.97 570.73 L645.3 587.07 L645.63 570.73 L645.97 578.9 L646.3 570.73 L646.63 587.07 L646.97 570.73 L647.3 578.9 L647.63 587.07 L647.97 578.9 L648.3 578.9 L648.63 570.73 L648.97 578.9 L649.3 578.9 L649.63 587.07 L649.97 578.9 L650.3 587.07 L650.63 570.73 L650.97 587.07 L651.3 570.73 L651.63 578.9 L651.97 570.73 L652.3 578.9 L652.63 570.73 L652.97 578.9 L653.3 578.9 L653.63 587.07 L653.97 578.9 L654.3 578.9 L654.63 578.9 L654.97 570.73 L655.3 587.07 L655.63 570.73 L655.97 578.9 L656.3 570.73 L656.63 578.9 L656.97 587.07 L657.3 578.9 L657.63 570.73 L657.97 587.07 L658.3 578.9 L658.63 578.9 L658.97 578.9 L659.3 587.07 L659.63 578.9 L659.97 570.73 L660.3 587.07 L660.63 578.9 L660.97 578.9 L661.3 578.9 L661.63 578.9 L661.97 570.73 L662.3 587.07 L662.63 578.9 L662.97 570.73 L663.3 587.07 L663.63 570.73 L663.97 587.07 L664.3 570.73 L664.63 587.07 L664.97 578.9 L665.3 578.9 L665.63 578.9 L665.97 578.9 L666.3 570.73 L666.63 587.07 L666.97 578.9 L667.3 578.9 L667.63 587.07 L667.97 570.73 L668.3 578.9 L668.63 578.9 L668.97 587.07 L669.3 578.9 L669.63 578.9 L669.97 587.07 L670.3 570.73 L670.63 578.9 L670.97 570.73 L671.3 587.07 L671.63 578.9 L671.97 570.73 L672.3 587.07 L672.63 578.9 L672.97 578.9 L673.3 587.07 L673.63 578.9 L673.97 587.07 L674.3 570.73 L674.63 587.07 L674.97 578.9 L675.3 570.73 L675.63 578.9 L675.97 578.9 L676.3 570.73 L676.63 587.07 L676.97 578.9 L677.3 578.9 L677.63 578.9 L677.97 578.9 L678.3 587.07 L678.63 570.73 L678.97 578.9 L679.3 570.73 L679.63 578.9 L679.97 578.9 L680.3 578.9 L680.63 570.73 L680.97 587.07 L681.3 578.9 L681.63 578.9 L681.97 578.9 L682.3 570.73 L682.63 578.9 L682.97 578.9 L683.3 587.07 L683.63 570.73 L683.97 587.07 L684.3 570.73 L684.63 578.9 L684.97 578.9 L685.3 578.9 L685.63 578.9 L685.97 570.73 L686.3 587.07 L686.63 570.73 L686.97 578.9 L687.3 570.73 L687.63 578.9 L687.97 570.73 L688.3 578.9 L688.63 578.9 L688.97 570.73 L689.3 587.07 L689.63 570.73 L689.97 578.9 L690.3 578.9 L690.63 578.9 L690.97 578.9 L691.3 578.9 L691.63 570.73 L691.97 587.07 L692.3 570.73 L692.63 587.07 L692.97 578.9 L693.3 578.9 L693.63 570.73 L693.97 587.07 L694.3 570.73 L694.63 578.9 L694.97 578.9 L695.3 578.9 L695.63 587.07 L695.97 578.9 L696.3 570.73 L696.63 578.9 L696.97 570.73 L697.3 578.9 L697.63 587.07 L697.97 578.9 L698.3 578.9 L698.63 578.9 L698.97 578.9 L699.3 570.73 L699.63 578.9 L699.97 578.9 L700.3 578.9 L700.63 578.9 L700.97 578.9 L701.3 578.9 L701.63 578.9 L701.97 587.07 L702.3 570.73 L702.63 587.07 L702.97 578.9 L703.3 578.9 L703.63 570.73 L703.97 587.07 L704.3 578.9 L704.63 587.07 L704.97 587.07 L705.3 587.07 L705.63 578.9 L705.97 595.24 L706.3 587.07 L706.63 595.24 L706.97 595.24 L707.3 595.24 L707.63 587.07 L707.97 587.07 L708.3 595.24 L708.63 595.24 L708.97 595.24 L709.3 603.41 L709.63 603.41 L709.97 603.41 L710.3 603.41 L710.63 611.58 L710.97 611.58 L711.3 611.58 L711.63 611.58 L711.97 611.58 L712.3 611.58 L712.63 619.75 L712.97 627.92 L713.3 619.75 L713.63 619.75 L713.97 627.92 L714.3 619.75 L714.63 619.75 L714.97 636.09 L715.3 636.09 L715.63 636.09 L715.97 627.92 L716.3 644.26 L716.63 636.09 L716.97 636.09 L717.3 636.09 L717.63 636.09 L717.97 636.09 L718.3 636.09 L718.63 636.09 L718.97 644.26 L719.3 644.26 L719.63 644.26 L719.97 644.26 L720.3 644.26 L720.63 652.43 L720.97 660.6 L721.3 652.43 L721.63 652.43 L721.97 660.6 L722.3 660.6 L722.63 660.6 L722.97 660.6" stroke="#1c2cb2" stroke-width="0.6" fill="none" stroke-linejoin="round"/>
<path d="M200.3 577.52 L200.63 578.81 L200.97 574.8 L201.3 580.16 L201.63 577.7 L201.97 580.61 L202.3 578.27 L202.63 577.16 L202.97 577.49 L203.3 577.53 L203.63 575.8 L203.97 578.14 L204.3 580.45 L204.63 576.4 L204.97 575.8 L205.3 579.51 L205.63 578.23 L205.97 579.83 L206.3 579.23 L206.63 578.91 L206.97 579.3 L207.3 577.89 L207.63 578.06 L207.97 577.25 L208.3 574.47 L208.63 576.53 L208.97 578.28 L209.3 579.49 L209.63 579.34 L209.97 576.4 L210.3 576.82 L210.63 577.12 L210.97 576.81 L211.3 577.4 L211.63 577.66 L211.97 576.91 L212.3 577.13 L212.63 578.04 L212.97 576.24 L213.3 576.96 L213.63 576.9 L213.97 576.69 L214.3 577.34 L214.63 575.71 L214.97 574.93 L215.3 577.59 L215.63 578.57 L215.97 577.71 L216.3 576.08 L216.63 579.28 L216.97 577.24 L217.3 580.16 L217.63 577.9 L217.97 577.59 L218.3 577.93 L218.63 577.33 L218.97 577.53 L219.3 575.67 L219.63 577.1 L219.97 576.81 L220.3 578.18 L220.63 577.54 L220.97 577.56 L221.3 578.45 L221.63 578.79 L221.97 579.02 L222.3 575.63 L222.63 576.38 L222.97 577.7 L223.3 577.38 L223.63 576.65 L223.97 576.92 L224.3 579.18 L224.63 578.7 L224.97 577.36 L225.3 578.11 L225.63 577.67 L225.97 579.09 L226.3 574.81 L226.63 575.08 L226.97 577.22 L227.3 577.6 L227.63 577.35 L227.97 576.4 L228.3 577.31 L228.63 578.41 L228.97 577.29 L229.3 574.93 L229.63 577.47 L229.97 577.96 L230.3 577.07 L230.63 578.5 L230.97 577.88 L231.3 575.24 L231.63 579.06 L231.97 578.91 L232.3 577.19 L232.63 577.52 L232.97 577.41 L233.3 577.83 L233.63 577.37 L233.97 576.1 L234.3 577.3 L234.63 576.89 L234.97 578.25 L235.3 577.89 L235.63 577.51 L235.97 576.22 L236.3 579.19 L236.63 575.5 L236.97 577.45 L237.3 577.83 L237.63 576.55 L237.97 574.27 L238.3 578.53 L238.63 579.14 L238.97 577.36 L239.3 578.59 L239.63 577.51 L239.97 576.73 L240.3 577.84 L240.63 578.68 L240.97 579.29 L241.3 577.39 L241.63 575.18 L241.97 575.5 L242.3 576.55 L242.63 577.55 L242.97 576.12 L243.3 578.32 L243.63 577.2 L243.97 576.81 L244.3 578.81 L244.63 576.97 L244.97 577.37 L245.3 576.52 L245.63 576.21 L245.97 579.67 L246.3 579.49 L246.63 579.15 L246.97 577.89 L247.3 575.39 L247.63 576.76 L247.97 574.72 L248.3 575.19 L248.63 576.04 L248.97 575.86 L249.3 578.04 L249.63 574.2 L249.97 576.74 L250.3 577.8 L250.63 576.73 L250.97 576.83 L251.3 574.94 L251.63 578.26 L251.97 577.7 L252.3 578.53 L252.63 576.97 L252.97 577.91 L253.3 578.86 L253.63 577.81 L253.97 575.49 L254.3 577.1 L254.63 577.18 L254.97 579.41 L255.3 577.5 L255.63 576.99 L255.97 578.1 L256.3 576.95 L256.63 577.28 L256.97 576.71 L257.3 577.64 L257.63 576.64 L257.97 577.57 L258.3 576.57 L258.63 576.65 L258.97 578.89 L259.3 575.64 L259.63 579.4 L259.97 578.37 L260.3 576.81 L260.63 576.48 L260.97 576.84 L261.3 577.47 L261.63 577.57 L261.97 578.84 L262.3 576.97 L262.63 578.05 L262.97 578.6 L263.3 577.01 L263.63 576.9 L263.97 580.07 L264.3 575.58 L264.63 577.61 L264.97 576.47 L265.3 577.88 L265.63 577.4 L265.97 579.64 L266.3 577.2 L266.63 576.28 L266.97 574.85 L267.3 576.76 L267.63 577.41 L267.97 575.4 L268.3 577.77 L268.63 580.1 L268.97 579.02 L269.3 577.5 L269.63 574.96 L269.97 575.48 L270.3 577.95 L270.63 574.92 L270.97 579.09 L271.3 577.87 L271.63 577.86 L271.97 577.71 L272.3 578.7 L272.63 573.85 L272.97 577.98 L273.3 577.58 L273.63 577.68 L273.97 577.33 L274.3 579.24 L274.63 577.07 L274.97 578.98 L275.3 577.43 L275.63 577.3 L275.97 576.4 L276.3 578.53 L276.63 578.6 L276.97 575.37 L277.3 578.2 L277.63 578.95 L277.97 577.06 L278.3 577.6 L278.63 576.69 L278.97 577.19 L279.3 578.34 L279.63 578.88 L279.97 577.95 L280.3 579.22 L280.63 579.13 L280.97 578.93 L281.3 578.55 L281.63 577.26 L281.97 577.34 L282.3 577.88 L282.63 577.59 L282.97 574.85 L283.3 577.79 L283.63 579.14 L283.97 576.73 L284.3 577.67 L284.63 576.89 L284.97 575.84 L285.3 576.45 L285.63 575.53 L285.97 575.55 L286.3 580.1 L286.63 577.19 L286.97 577.62 L287.3 577.32 L287.63 576.56 L287.97 579.48 L288.3 578.99 L288.63 578.9 L288.97 576.85 L289.3 577.03 L289.63 577.39 L289.97 577.88 L290.3 576.02 L290.63 577.18 L290.97 577.15 L291.3 574.95 L291.63 578.59 L291.97 575.43 L292.3 576.73 L292.63 578.12 L292.97 576.4 L293.3 577.01 L293.63 575.27 L293.97 577.21 L294.3 577.4 L294.63 577.38 L294.97 576.93 L295.3 579.35 L295.63 576.29 L295.97 577.87 L296.3 577.44 L296.63 576.39 L296.97 578.98 L297.3 576.36 L297.63 576.98 L297.97 576.74 L298.3 577.13 L298.63 576.33 L298.97 577.05 L299.3 577.74 L299.63 577.36 L299.97 577.1 L300.3 575.76 L300.63 575.72 L300.97 577.75 L301.3 576.69 L301.63 578.94 L301.97 576.35 L302.3 575.89 L302.63 575.67 L302.97 575.46 L303.3 577.88 L303.63 578.78 L303.97 578.86 L304.3 575.77 L304.63 577.52 L304.97 577.51 L305.3 574.87 L305.63 578.01 L305.97 577.35 L306.3 578.14 L306.63 577.98 L306.97 577.41 L307.3 578 L307.63 577.56 L307.97 577.65 L308.3 575.55 L308.63 575.83 L308.97 578 L309.3 578.43 L309.63 580.53 L309.97 577.41 L310.3 577.83 L310.63 578.27 L310.97 577.59 L311.3 577.26 L311.63 578.3 L311.97 577.41 L312.3 577.64 L312.63 577.46 L312.97 577.35 L313.3 577.28 L313.63 576.6 L313.97 580.13 L314.3 576.47 L314.63 577.2 L314.97 579.58 L315.3 576.84 L315.63 578.84 L315.97 577.65 L316.3 578.54 L316.63 578.36 L316.97 578.41 L317.3 576.69 L317.63 577.84 L317.97 574.66 L318.3 577.69 L318.63 577.96 L318.97 577.1 L319.3 577.13 L319.63 577.99 L319.97 577.96 L320.3 577.76 L320.63 577.11 L320.97 579.72 L321.3 577.87 L321.63 578.01 L321.97 577.15 L322.3 579.12 L322.63 576.81 L322.97 577.29 L323.3 576.77 L323.63 576.35 L323.97 576.81 L324.3 576.23 L324.63 580.08 L324.97 576.78 L325.3 577.59 L325.63 576.92 L325.97 577.97 L326.3 577.7 L326.63 575 L326.97 576.51 L327.3 579.55 L327.63 578.19 L327.97 578.01 L328.3 579.06 L328.63 575 L328.97 576.52 L329.3 579.85 L329.63 579.72 L329.97 577.71 L330.3 578.08 L330.63 579.6 L330.97 576.83 L331.3 575.38 L331.63 577.47 L331.97 577.8 L332.3 577.13 L332.63 577.58 L332.97 579.98 L333.3 576.79 L333.63 577.21 L333.97 577.14 L334.3 577.26 L334.63 575.19 L334.97 576.8 L335.3 575.28 L335.63 576.3 L335.97 577.24 L336.3 577.59 L336.63 577.31 L336.97 579.51 L337.3 578.22 L337.63 578.68 L337.97 577.18 L338.3 579.42 L338.63 579.18 L338.97 578.91 L339.3 577.14 L339.63 575.43 L339.97 575.81 L340.3 577.42 L340.63 575.26 L340.97 575.05 L341.3 577.38 L341.63 575.74 L341.97 578.48 L342.3 578.62 L342.63 577.35 L342.97 576.98 L343.3 578.02 L343.63 575.45 L343.97 576.28 L344.3 576.81 L344.63 576.51 L344.97 576.67 L345.3 579.1 L345.63 577.51 L345.97 576.4 L346.3 576.47 L346.63 577.68 L346.97 574.84 L347.3 575.61 L347.63 576.15 L347.97 577.3 L348.3 577.74 L348.63 575.59 L348.97 577.82 L349.3 579.85 L349.63 576.93 L349.97 578.87 L350.3 574.85 L350.63 577.12 L350.97 577.5 L351.3 576.43 L351.63 576.88 L351.97 577.96 L352.3 577.29 L352.63 577.77 L352.97 578.63 L353.3 577.05 L353.63 577.72 L353.97 577.85 L354.3 576.78 L354.63 578.01 L354.97 578.72 L355.3 577.02 L355.63 578.27 L355.97 577.14 L356.3 577.36 L356.63 577.63 L356.97 575.29 L357.3 575.32 L357.63 576.59 L357.97 576.64 L358.3 575.28 L358.63 577.34 L358.97 576.8 L359.3 577.19 L359.63 577.49 L359.97 575.54 L360.3 576.54 L360.63 579.23 L360.97 575.07 L361.3 577.5 L361.63 579.17 L361.97 577.55 L362.3 577.13 L362.63 577.25 L362.97 574.72 L363.3 576.99 L363.63 577.04 L363.97 578.8 L364.3 577.94 L364.63 576.7 L364.97 578.35 L365.3 576.72 L365.63 575.48 L365.97 576.52 L366.3 579.47 L366.63 577.15 L366.97 577.78 L367.3 577.73 L367.63 575.64 L367.97 576.39 L368.3 578.31 L368.63 577.68 L368.97 580.03 L369.3 578.03 L369.63 578.2 L369.97 575.51 L370.3 577.61 L370.63 576.49 L370.97 576.88 L371.3 577.15 L371.63 577.99 L371.97 580.45 L372.3 574.9 L372.63 578.44 L372.97 576.41 L373.3 578.2 L373.63 579.63 L373.97 577.78 L374.3 578.35 L374.63 575.87 L374.97 578.13 L375.3 579.01 L375.63 577.36 L375.97 578.44 L376.3 577.75 L376.63 578.46 L376.97 576.3 L377.3 577.93 L377.63 576.89 L377.97 576.03 L378.3 575.59 L378.63 576.58 L378.97 575.85 L379.3 580.42 L379.63 577.94 L379.97 578.99 L380.3 577.68 L380.63 579.09 L380.97 577.55 L381.3 579.77 L381.63 579.14 L381.97 578.42 L382.3 578.33 L382.63 579.41 L382.97 577.36 L383.3 580.96 L383.63 579.64 L383.97 579.57 L384.3 578.91 L384.63 579.27 L384.97 581.73 L385.3 577.91 L385.63 579.93 L385.97 575.16 L386.3 580.58 L386.63 576.52 L386.97 576.4 L387.3 578.56 L387.63 579.32 L387.97 585.26 L388.3 584.05 L388.63 579.07 L388.97 584.23 L389.3 584.78 L389.63 586.16 L389.97 581.77 L390.3 584.03 L390.63 580.85 L390.97 580.09 L391.3 581.32 L391.63 583.47 L391.97 580.76 L392.3 583.36 L392.63 576.97 L392.97 579.36 L393.3 583.17 L393.63 582.47 L393.97 583.27 L394.3 585.54 L394.63 584.12 L394.97 581.65 L395.3 583.04 L395.63 588.05 L395.97 585.43 L396.3 586.13 L396.63 583.35 L396.97 586.83 L397.3 585.09 L397.63 589.52 L397.97 586.45 L398.3 586.22 L398.63 589.52 L398.97 587.22 L399.3 592.1 L399.63 589.47 L399.97 588.9 L400.3 590.5 L400.63 590.38 L400.97 591.94 L401.3 590.09 L401.63 595.67 L401.97 589.15 L402.3 593.54 L402.63 594.46 L402.97 599.15 L403.3 595.8 L403.63 596.96 L403.97 593.31 L404.3 595 L404.63 594.31 L404.97 600.92 L405.3 601.54 L405.63 602.94 L405.97 604.71 L406.3 603.36 L406.63 606.95 L406.97 603.62 L407.3 607.92 L407.63 604.59 L407.97 612.37 L408.3 609.03 L408.63 613.41 L408.97 610.57 L409.3 612 L409.63 612.85 L409.97 613.62 L410.3 615.63 L410.63 616.36 L410.97 619.23 L411.3 624.1 L411.63 621.01 L411.97 622.18 L412.3 624.55 L412.63 627.57 L412.97 626.57 L413.3 625.55 L413.63 627.3 L413.97 633.9 L414.3 636.46 L414.63 634.81 L414.97 635.04 L415.3 633.92 L415.63 638.18 L415.97 640.62 L416.3 643.99 L416.63 638.18 L416.97 652.44 L417.3 648.99 L417.63 645.68 L417.97 652.6 L418.3 654.04 L418.63 656.51 L418.97 658.15 L419.3 659.79 L419.63 656.03 L419.97 666.02 L420.3 656.89 L420.63 661.41 L420.97 662.29 L421.3 657.38 L421.63 660.43 L421.97 659.46 L422.3 655.76 L422.63 655.3 L422.97 657.76 L423.3 657.49 L423.63 658.1 L423.97 646.55 L424.3 645.59 L424.63 648.71 L424.97 642.22 L425.3 645.32 L425.63 637.75 L425.97 641.3 L426.3 639 L426.63 636.33 L426.97 635.32 L427.3 633.35 L427.63 631.8 L427.97 635.09 L428.3 628.86 L428.63 624.82 L428.97 626.59 L429.3 620.72 L429.63 621.87 L429.97 622.68 L430.3 620.88 L430.63 613.03 L430.97 611.2 L431.3 611.43 L431.63 606.79 L431.97 604.85 L432.3 610.25 L432.63 605.63 L432.97 603.46 L433.3 602.7 L433.63 593.67 L433.97 598.19 L434.3 596.83 L434.63 595.11 L434.97 594.55 L435.3 591.64 L435.63 587.48 L435.97 588.01 L436.3 587.27 L436.63 585.07 L436.97 583.15 L437.3 582.39 L437.63 585.02 L437.97 577.96 L438.3 578.38 L438.63 575.74 L438.97 578.93 L439.3 570.67 L439.63 567.87 L439.97 565.04 L440.3 570.38 L440.63 565.03 L440.97 566.54 L441.3 562.46 L441.63 563.04 L441.97 563.11 L442.3 565.02 L442.63 560.33 L442.97 560.18 L443.3 562.69 L443.63 558.43 L443.97 551.21 L444.3 558.21 L444.63 557.92 L444.97 554.62 L445.3 551.44 L445.63 552.93 L445.97 550.85 L446.3 547.92 L446.63 547.23 L446.97 554.91 L447.3 550.41 L447.63 553.46 L447.97 552.5 L448.3 547.54 L448.63 548.75 L448.97 547.89 L449.3 551.59 L449.63 549.81 L449.97 547.78 L450.3 549.26 L450.63 549.83 L450.97 549.24 L451.3 547.1 L451.63 547.98 L451.97 551.42 L452.3 545.56 L452.63 550.78 L452.97 548.48 L453.3 543.83 L453.63 543.68 L453.97 547.9 L454.3 546.38 L454.63 552.46 L454.97 547.78 L455.3 544.11 L455.63 545.46 L455.97 546.84 L456.3 547.6 L456.63 541.56 L456.97 550.43 L457.3 547.39 L457.63 550.22 L457.97 543.58 L458.3 549.34 L458.63 546.17 L458.97 547.89 L459.3 543.9 L459.63 552.71 L459.97 547.06 L460.3 552.11 L460.63 550.21 L460.97 549.17 L461.3 551.8 L461.63 548.34 L461.97 556.06 L462.3 550.12 L462.63 553.65 L462.97 555.34 L463.3 550.62 L463.63 553.62 L463.97 556.36 L464.3 554.84 L464.63 552.89 L464.97 557.32 L465.3 558.35 L465.63 558.23 L465.97 558.72 L466.3 555.03 L466.63 559.66 L466.97 563.21 L467.3 556.16 L467.63 560.89 L467.97 561.33 L468.3 564.9 L468.63 563.72 L468.97 563.38 L469.3 561.11 L469.63 562.45 L469.97 564.36 L470.3 563.58 L470.63 563.82 L470.97 564.04 L471.3 565.87 L471.63 567.27 L471.97 562.9 L472.3 562.81 L472.63 563.4 L472.97 560.61 L473.3 563.14 L473.63 563.14 L473.97 567.61 L474.3 562.28 L474.63 560.57 L474.97 560.17 L475.3 559.4 L475.63 558.11 L475.97 558.4 L476.3 555.04 L476.63 556.36 L476.97 561.99 L477.3 555.27 L477.63 552.86 L477.97 555.58 L478.3 554.57 L478.63 557.87 L478.97 557.88 L479.3 549.08 L479.63 552.18 L479.97 551.27 L480.3 549.89 L480.63 550.61 L480.97 544.49 L481.3 552.01 L481.63 549.56 L481.97 548.4 L482.3 543.43 L482.63 548.35 L482.97 543.15 L483.3 547.22 L483.63 542.74 L483.97 545.58 L484.3 545.52 L484.63 548.87 L484.97 547.71 L485.3 543.48 L485.63 545.47 L485.97 545.88 L486.3 545.13 L486.63 545.16 L486.97 545.21 L487.3 545.5 L487.63 543.25 L487.97 545.96 L488.3 543.87 L488.63 542.82 L488.97 545.92 L489.3 542.53 L489.63 543.19 L489.97 542.32 L490.3 547.56 L490.63 537.68 L490.97 542.87 L491.3 544.78 L491.63 546.03 L491.97 541.6 L492.3 542.76 L492.63 543.56 L492.97 542.77 L493.3 543.67 L493.63 541.59 L493.97 538.29 L494.3 542.56 L494.63 539.64 L494.97 540.57 L495.3 540.71 L495.63 540.79 L495.97 545.59 L496.3 542.46 L496.63 539.3 L496.97 541.31 L497.3 540.13 L497.63 537.1 L497.97 541.13 L498.3 540.74 L498.63 538.7 L498.97 536.19 L499.3 539.38 L499.63 538.67 L499.97 539.72 L500.3 544.16 L500.63 539.51 L500.97 541.1 L501.3 542.91 L501.63 543.04 L501.97 543.92 L502.3 539.37 L502.63 540.64 L502.97 537.66 L503.3 541.81 L503.63 545.86 L503.97 541.65 L504.3 535.84 L504.63 536.95 L504.97 542.87 L505.3 545.14 L505.63 542.56 L505.97 546.67 L506.3 543.28 L506.63 541.4 L506.97 539.83 L507.3 543.21 L507.63 543.7 L507.97 547.61 L508.3 544.29 L508.63 544.75 L508.97 545.34 L509.3 543.55 L509.63 543.83 L509.97 546.14 L510.3 548.45 L510.63 550.34 L510.97 545.41 L511.3 545.83 L511.63 542.96 L511.97 550 L512.3 543.92 L512.63 547.35 L512.97 546.52 L513.3 550.63 L513.63 547.77 L513.97 547.76 L514.3 551.14 L514.63 547.45 L514.97 549.41 L515.3 541.32 L515.63 547.43 L515.97 545.5 L516.3 549.74 L516.63 544.27 L516.97 546.13 L517.3 542.81 L517.63 546.11 L517.97 544.2 L518.3 545.1 L518.63 545.47 L518.97 544.75 L519.3 544.62 L519.63 538.71 L519.97 542.52 L520.3 543.99 L520.63 542.14 L520.97 541.41 L521.3 537.29 L521.63 539.28 L521.97 539.52 L522.3 535.91 L522.63 538.6 L522.97 539.69 L523.3 538.15 L523.63 542.15 L523.97 535.97 L524.3 536.35 L524.63 535.91 L524.97 536.05 L525.3 531.89 L525.63 530.85 L525.97 535.05 L526.3 536.28 L526.63 533.93 L526.97 533.02 L527.3 538.4 L527.63 534.78 L527.97 530.04 L528.3 537.1 L528.63 528.82 L528.97 533.53 L529.3 532.98 L529.63 539.75 L529.97 536.59 L530.3 538.29 L530.63 533.87 L530.97 534.13 L531.3 534.3 L531.63 534.1 L531.97 535.18 L532.3 537.37 L532.63 532.24 L532.97 537.44 L533.3 541.27 L533.63 536.2 L533.97 535.74 L534.3 543.02 L534.63 543.35 L534.97 538.97 L535.3 540.5 L535.63 542.37 L535.97 542.02 L536.3 542.81 L536.63 543.49 L536.97 544.85 L537.3 547.28 L537.63 544.02 L537.97 544.53 L538.3 543.93 L538.63 546.06 L538.97 547.67 L539.3 547 L539.63 548.67 L539.97 548.84 L540.3 551.29 L540.63 549.53 L540.97 555.66 L541.3 550.88 L541.63 554.85 L541.97 552.19 L542.3 556.66 L542.63 552.78 L542.97 556.74 L543.3 556.03 L543.63 556.85 L543.97 558.32 L544.3 558.08 L544.63 559.4 L544.97 561.09 L545.3 560.43 L545.63 558.07 L545.97 561.91 L546.3 565.6 L546.63 567.1 L546.97 564.67 L547.3 565.19 L547.63 566.71 L547.97 563.17 L548.3 562.41 L548.63 568.28 L548.97 567.34 L549.3 567.47 L549.63 570.88 L549.97 572.33 L550.3 573.33 L550.63 578.02 L550.97 573.21 L551.3 573.42 L551.63 579.03 L551.97 576.77 L552.3 578.9 L552.63 577.14 L552.97 585.78 L553.3 584.2 L553.63 584.36 L553.97 583.36 L554.3 580.99 L554.63 588.2 L554.97 591.74 L555.3 586.01 L555.63 587.77 L555.97 590.11 L556.3 599.57 L556.63 598.19 L556.97 597.58 L557.3 601.24 L557.63 606 L557.97 603.66 L558.3 607.65 L558.63 610.5 L558.97 613.45 L559.3 616.16 L559.63 615.22 L559.97 617.65 L560.3 619.59 L560.63 616.82 L560.97 620.52 L561.3 621.99 L561.63 629.81 L561.97 630.36 L562.3 631.54 L562.63 634.93 L562.97 635.22 L563.3 639.35 L563.63 643.74 L563.97 649.39 L564.3 650.71 L564.63 647.33 L564.97 648.38 L565.3 656.09 L565.63 659.78 L565.97 654.31 L566.3 662.91 L566.63 661.2 L566.97 664.87 L567.3 659.94 L567.63 662.94 L567.97 672.45 L568.3 670.77 L568.63 670.24 L568.97 672.1 L569.3 668.48 L569.63 672.1 L569.97 672.14 L570.3 671.82 L570.63 671.56 L570.97 667.83 L571.3 667.81 L571.63 663.72 L571.97 666.83 L572.3 666.74 L572.63 658.38 L572.97 663.25 L573.3 659.22 L573.63 659.41 L573.97 649.91 L574.3 653.5 L574.63 649.4 L574.97 648.28 L575.3 647.31 L575.63 649.73 L575.97 643.16 L576.3 642.46 L576.63 642.55 L576.97 640.52 L577.3 636.9 L577.63 638.01 L577.97 639.75 L578.3 632.32 L578.63 630.1 L578.97 625.95 L579.3 630.53 L579.63 630.71 L579.97 628.15 L580.3 629.05 L580.63 623.32 L580.97 621.49 L581.3 621.07 L581.63 620.02 L581.97 618.34 L582.3 613.6 L582.63 616.39 L582.97 614.25 L583.3 612.38 L583.63 610.71 L583.97 607.76 L584.3 608.79 L584.63 608.84 L584.97 607.45 L585.3 600.94 L585.63 606.84 L585.97 601.79 L586.3 602.24 L586.63 601.49 L586.97 599.81 L587.3 597.35 L587.63 596.47 L587.97 591.11 L588.3 592.53 L588.63 592.38 L588.97 590.93 L589.3 590.34 L589.63 588.88 L589.97 588.16 L590.3 586.16 L590.63 583.14 L590.97 581.73 L591.3 580.47 L591.63 583.04 L591.97 579.17 L592.3 574.38 L592.63 572.2 L592.97 576.4 L593.3 573.6 L593.63 572.12 L593.97 567.91 L594.3 573.59 L594.63 564.81 L594.97 568.64 L595.3 567.65 L595.63 565.15 L595.97 565.08 L596.3 559.9 L596.63 563.48 L596.97 562.25 L597.3 556.82 L597.63 563.17 L597.97 560.77 L598.3 559.61 L598.63 560.72 L598.97 558.13 L599.3 560.95 L599.63 558.55 L599.97 555.01 L600.3 556.83 L600.63 554.58 L600.97 553.61 L601.3 558.89 L601.63 549.4 L601.97 548.52 L602.3 554.48 L602.63 557.05 L602.97 551.34 L603.3 546.25 L603.63 548.36 L603.97 547.95 L604.3 550.34 L604.63 549.78 L604.97 541.52 L605.3 548.03 L605.63 537.64 L605.97 541.9 L606.3 537.33 L606.63 541.46 L606.97 541.54 L607.3 538.43 L607.63 535.64 L607.97 530.62 L608.3 532.87 L608.63 529.47 L608.97 530.9 L609.3 534.45 L609.63 525.37 L609.97 523 L610.3 526.59 L610.63 527.95 L610.97 524.68 L611.3 525.04 L611.63 519.1 L611.97 526.48 L612.3 522.27 L612.63 522.58 L612.97 521.51 L613.3 524.59 L613.63 520.73 L613.97 516.38 L614.3 523.45 L614.63 520.26 L614.97 518.82 L615.3 513.89 L615.63 523.26 L615.97 515.85 L616.3 519.06 L616.63 523.32 L616.97 518.49 L617.3 520.69 L617.63 519.42 L617.97 515.91 L618.3 518.7 L618.63 522.65 L618.97 520.09 L619.3 521.92 L619.63 518.18 L619.97 519.43 L620.3 519.07 L620.63 517.81 L620.97 519.24 L621.3 519.18 L621.63 519.2 L621.97 519.9 L622.3 520.16 L622.63 521.75 L622.97 520.9 L623.3 524.28 L623.63 524.27 L623.97 521.21 L624.3 524.43 L624.63 522.06 L624.97 524.84 L625.3 523.93 L625.63 528.2 L625.97 529.6 L626.3 531.36 L626.63 536.88 L626.97 533.9 L627.3 531.11 L627.63 537.43 L627.97 539.8 L628.3 544.13 L628.63 542.43 L628.97 547.21 L629.3 543.98 L629.63 544.41 L629.97 545.8 L630.3 544.95 L630.63 548.79 L630.97 553.33 L631.3 553.14 L631.63 554.15 L631.97 554.93 L632.3 557.36 L632.63 563.74 L632.97 562.31 L633.3 564.35 L633.63 567.25 L633.97 569.38 L634.3 571.67 L634.63 574.35 L634.97 575.73 L635.3 577.43 L635.63 581.36 L635.97 583.15 L636.3 585.45 L636.63 589.63 L636.97 591.81 L637.3 594.21 L637.63 598.14 L637.97 597.04 L638.3 596.67 L638.63 598.71 L638.97 601.6 L639.3 601.84 L639.63 603.55 L639.97 602.8 L640.3 594.06 L640.63 599.9 L640.97 601.75 L641.3 597.82 L641.63 598.08 L641.97 595.88 L642.3 591.95 L642.63 591.64 L642.97 591.19 L643.3 588.78 L643.63 584.14 L643.97 587.24 L644.3 582.8 L644.63 581.72 L644.97 585.46 L645.3 581.17 L645.63 577.95 L645.97 575.33 L646.3 574.06 L646.63 573.23 L646.97 572.82 L647.3 573.14 L647.63 571.62 L647.97 570.59 L648.3 568.06 L648.63 568.21 L648.97 567.19 L649.3 566.18 L649.63 567.66 L649.97 562.84 L650.3 563.33 L650.63 562.76 L650.97 559.99 L651.3 559.59 L651.63 559.34 L651.97 556.38 L652.3 558.14 L652.63 559.57 L652.97 552.02 L653.3 552.57 L653.63 553.06 L653.97 547.3 L654.3 551.59 L654.63 548.92 L654.97 549.4 L655.3 545.9 L655.63 544 L655.97 547.15 L656.3 550.45 L656.63 547.67 L656.97 543.87 L657.3 546.33 L657.63 543.88 L657.97 544.08 L658.3 542.97 L658.63 545.49 L658.97 544.79 L659.3 544.57 L659.63 542.46 L659.97 540.81 L660.3 543.62 L660.63 539.32 L660.97 538.48 L661.3 540.62 L661.63 538.39 L661.97 544.12 L662.3 542.43 L662.63 547.33 L662.97 552.23 L663.3 545.82 L663.63 554.86 L663.97 555.81 L664.3 554.56 L664.63 553.69 L664.97 556.12 L665.3 555.59 L665.63 556.93 L665.97 560.95 L666.3 563.95 L666.63 561.29 L666.97 567.27 L667.3 572.62 L667.63 570.41 L667.97 573.88 L668.3 571.28 L668.63 573.18 L668.97 580.53 L669.3 580.23 L669.63 582.49 L669.97 588.04 L670.3 589.51 L670.63 593.4 L670.97 595.03 L671.3 594.24 L671.63 595.72 L671.97 599.67 L672.3 599.18 L672.63 603.47 L672.97 605.72 L673.3 606.72 L673.63 609.37 L673.97 606.68 L674.3 612.71 L674.63 615.98 L674.97 613.85 L675.3 616.09 L675.63 616.83 L675.97 621.92 L676.3 619.78 L676.63 621.39 L676.97 623.35 L677.3 622.31 L677.63 627.62 L677.97 629.29 L678.3 624.74 L678.63 628.81 L678.97 624.94 L679.3 634.59 L679.63 629.14 L679.97 633.68 L680.3 630.6 L680.63 634 L680.97 636.18 L681.3 630.39 L681.63 638.13 L681.97 635.62 L682.3 637.18 L682.63 638.53 L682.97 638.51 L683.3 638.33 L683.63 640.68 L683.97 639.53 L684.3 641.91 L684.63 643.67 L684.97 642.87 L685.3 640.56 L685.63 643.09 L685.97 643.88 L686.3 639.44 L686.63 639.5 L686.97 640.92 L687.3 646.16 L687.63 640.68 L687.97 647.43 L688.3 646.19 L688.63 642.72 L688.97 637.79 L689.3 642.09 L689.63 639.71 L689.97 644.3 L690.3 640.99 L690.63 638.91 L690.97 634.32 L691.3 636.84 L691.63 633.05 L691.97 637.43 L692.3 635.89 L692.63 634.17 L692.97 633.32 L693.3 635.09 L693.63 628.19 L693.97 625.73 L694.3 630.32 L694.63 627.74 L694.97 627 L695.3 624.52 L695.63 624.02 L695.97 626.59 L696.3 623.66 L696.63 621.52 L696.97 621.25 L697.3 619.12 L697.63 617.63 L697.97 617.52 L698.3 618.08 L698.63 620.59 L698.97 615.73 L699.3 610.34 L699.63 609.95 L699.97 616.75 L700.3 610.33 L700.63 608.73 L700.97 612.15 L701.3 608.84 L701.63 611.63 L701.97 610.12 L702.3 605.99 L702.63 601.87 L702.97 603.75 L703.3 605.43 L703.63 606.02 L703.97 601.82 L704.3 601.58 L704.63 599.96 L704.97 597.46 L705.3 595.87 L705.63 598.5 L705.97 596.4 L706.3 596.38 L706.63 596.02 L706.97 598.79 L707.3 595.12 L707.63 591.61 L707.97 595.44 L708.3 593.2 L708.63 591.83 L708.97 593.59 L709.3 589.34 L709.63 590.91 L709.97 587.22 L710.3 591.67 L710.63 590.47 L710.97 590.55 L711.3 588.38 L711.63 586.17 L711.97 588.12 L712.3 586.89 L712.63 587.36 L712.97 589.18 L713.3 590.65 L713.63 585.88 L713.97 587.27 L714.3 585.07 L714.63 589.15 L714.97 584 L715.3 585.33 L715.63 583.38 L715.97 585.18 L716.3 586.66 L716.63 581.63 L716.97 581.83 L717.3 583.18 L717.63 579.53 L717.97 584.44 L718.3 585.12 L718.63 577.95 L718.97 584.54 L719.3 579.65 L719.63 583.16 L719.97 579 L720.3 579.58 L720.63 584.9 L720.97 578.05 L721.3 583.62 L721.63 579.87 L721.97 578.05 L722.3 576.73 L722.63 580.97 L722.97 579.85" stroke="#e0306a" stroke-width="0.6" fill="none" stroke-linejoin="round"/>
<path d="M200.3 575.37 L200.63 577.78 L200.97 577.67 L201.3 578.04 L201.63 574.91 L201.97 578.43 L202.3 575.31 L202.63 577.42 L202.97 578.13 L203.3 577.76 L203.63 577.94 L203.97 578.21 L204.3 577.83 L204.63 577.73 L204.97 578.01 L205.3 578.03 L205.63 577.58 L205.97 577.95 L206.3 577.98 L206.63 578.14 L206.97 577.64 L207.3 578.22 L207.63 577.89 L207.97 578.13 L208.3 577.84 L208.63 578.33 L208.97 578.16 L209.3 577.49 L209.63 577.77 L209.97 578 L210.3 577.52 L210.63 578.24 L210.97 580.5 L211.3 574.65 L211.63 581.36 L211.97 578.26 L212.3 578.2 L212.63 577.89 L212.97 578.13 L213.3 577.29 L213.63 578.01 L213.97 578.45 L214.3 578.13 L214.63 577.9 L214.97 578.39 L215.3 578.17 L215.63 577.92 L215.97 578.24 L216.3 578.1 L216.63 577.52 L216.97 578.26 L217.3 578.02 L217.63 578.16 L217.97 578.65 L218.3 574.9 L218.63 577.95 L218.97 577.92 L219.3 577.92 L219.63 577.77 L219.97 577.77 L220.3 577.94 L220.63 578.31 L220.97 578.18 L221.3 577.58 L221.63 578.26 L221.97 581.06 L222.3 578.32 L222.63 578.25 L222.97 577.8 L223.3 580.62 L223.63 577.72 L223.97 578.11 L224.3 577.99 L224.63 577.88 L224.97 580.62 L225.3 577.81 L225.63 578.25 L225.97 578.14 L226.3 577.67 L226.63 577.62 L226.97 574.52 L227.3 577.98 L227.63 577.98 L227.97 575.09 L228.3 577.79 L228.63 577.85 L228.97 578.18 L229.3 578.08 L229.63 577.83 L229.97 578.22 L230.3 577.96 L230.63 577.68 L230.97 578.21 L231.3 580.93 L231.63 578.14 L231.97 575.03 L232.3 581.36 L232.63 578.26 L232.97 578.27 L233.3 577.85 L233.63 578.33 L233.97 577.89 L234.3 577.57 L234.63 577.99 L234.97 577.99 L235.3 577.77 L235.63 578.22 L235.97 578.1 L236.3 578.14 L236.63 577.9 L236.97 578.13 L237.3 577.89 L237.63 578.08 L237.97 577.86 L238.3 578.11 L238.63 578.02 L238.97 578.29 L239.3 578.04 L239.63 577.91 L239.97 578.11 L240.3 577.69 L240.63 578.06 L240.97 578.19 L241.3 577.83 L241.63 578.04 L241.97 578.16 L242.3 581.61 L242.63 577.88 L242.97 578.13 L243.3 578.05 L243.63 578.43 L243.97 581.08 L244.3 577.85 L244.63 578.22 L244.97 574.78 L245.3 577.79 L245.63 578.08 L245.97 578.27 L246.3 578.03 L246.63 578.48 L246.97 578.22 L247.3 578.23 L247.63 577.92 L247.97 578.45 L248.3 581.15 L248.63 578.19 L248.97 578.44 L249.3 578.03 L249.63 578.3 L249.97 577.67 L250.3 578.16 L250.63 574.93 L250.97 577.91 L251.3 578 L251.63 574.96 L251.97 577.79 L252.3 577.87 L252.63 578.17 L252.97 577.64 L253.3 578.07 L253.63 577.86 L253.97 577.43 L254.3 578.23 L254.63 577.66 L254.97 577.77 L255.3 577.89 L255.63 577.92 L255.97 577.42 L256.3 578.47 L256.63 578.04 L256.97 581.41 L257.3 578.03 L257.63 578.29 L257.97 574.79 L258.3 578.39 L258.63 577.55 L258.97 577.78 L259.3 578.25 L259.63 577.96 L259.97 578.02 L260.3 578.02 L260.63 577.69 L260.97 578.1 L261.3 581.06 L261.63 577.8 L261.97 574.95 L262.3 578.3 L262.63 580.96 L262.97 577.63 L263.3 577.82 L263.63 578.46 L263.97 578.08 L264.3 578.07 L264.63 578.38 L264.97 578.05 L265.3 577.97 L265.63 577.99 L265.97 577.9 L266.3 578.04 L266.63 577.91 L266.97 577.81 L267.3 578.16 L267.63 578.31 L267.97 578.22 L268.3 577.74 L268.63 577.94 L268.97 578.12 L269.3 578.3 L269.63 578.3 L269.97 577.99 L270.3 577.77 L270.63 578.22 L270.97 578.34 L271.3 578.21 L271.63 578.12 L271.97 577.97 L272.3 578.08 L272.63 578.08 L272.97 577.87 L273.3 577.94 L273.63 577.74 L273.97 577.8 L274.3 574.94 L274.63 578.44 L274.97 577.57 L275.3 578.22 L275.63 577.91 L275.97 577.85 L276.3 578.07 L276.63 577.84 L276.97 578.59 L277.3 577.66 L277.63 577.78 L277.97 578.24 L278.3 578.59 L278.63 578.6 L278.97 578.43 L279.3 577.63 L279.63 577.87 L279.97 578.2 L280.3 578.08 L280.63 578.08 L280.97 577.66 L281.3 578 L281.63 577.82 L281.97 578.01 L282.3 580.72 L282.63 578.31 L282.97 578.07 L283.3 577.98 L283.63 580.81 L283.97 577.5 L284.3 578.04 L284.63 578.38 L284.97 578.85 L285.3 577.76 L285.63 578.16 L285.97 578.05 L286.3 578.12 L286.63 577.84 L286.97 578.25 L287.3 578.14 L287.63 578.21 L287.97 578.41 L288.3 578.34 L288.63 581.1 L288.97 577.6 L289.3 578.06 L289.63 577.89 L289.97 577.85 L290.3 574.69 L290.63 577.49 L290.97 577.85 L291.3 577.52 L291.63 577.9 L291.97 577.92 L292.3 578.15 L292.63 575.07 L292.97 578.15 L293.3 578.37 L293.63 578.21 L293.97 578.28 L294.3 578.1 L294.63 577.75 L294.97 577.75 L295.3 578.01 L295.63 575.1 L295.97 578.15 L296.3 578.05 L296.63 578.05 L296.97 578.21 L297.3 578.19 L297.63 578.09 L297.97 578.09 L298.3 577.98 L298.63 577.9 L298.97 577.77 L299.3 578.48 L299.63 577.67 L299.97 577.49 L300.3 578.04 L300.63 577.7 L300.97 577.96 L301.3 578.33 L301.63 577.55 L301.97 578.09 L302.3 577.84 L302.63 578.18 L302.97 578.09 L303.3 577.59 L303.63 581.23 L303.97 578.19 L304.3 577.46 L304.63 575.07 L304.97 577.81 L305.3 577.61 L305.63 578.16 L305.97 577.88 L306.3 578.34 L306.63 578.11 L306.97 577.73 L307.3 578.21 L307.63 578.21 L307.97 578.28 L308.3 577.66 L308.63 578.18 L308.97 578.27 L309.3 575.47 L309.63 577.98 L309.97 578.29 L310.3 574.43 L310.63 577.76 L310.97 578.18 L311.3 578.13 L311.63 577.98 L311.97 577.86 L312.3 577.83 L312.63 578.08 L312.97 577.81 L313.3 577.82 L313.63 577.75 L313.97 577.95 L314.3 577.75 L314.63 580.76 L314.97 578.04 L315.3 580.97 L315.63 577.76 L315.97 577.66 L316.3 577.93 L316.63 577.96 L316.97 578.12 L317.3 578.17 L317.63 578.25 L317.97 578.09 L318.3 577.72 L318.63 578.19 L318.97 574.72 L319.3 577.82 L319.63 577.93 L319.97 578.21 L320.3 577.75 L320.63 578.36 L320.97 577.74 L321.3 577.68 L321.63 578.25 L321.97 577.6 L322.3 578.18 L322.63 578.69 L322.97 574.58 L323.3 577.8 L323.63 578.03 L323.97 578.06 L324.3 578.14 L324.63 577.78 L324.97 577.51 L325.3 578 L325.63 578.17 L325.97 577.72 L326.3 577.82 L326.63 578.62 L326.97 577.88 L327.3 577.95 L327.63 577.55 L327.97 578.07 L328.3 578.48 L328.63 578.02 L328.97 578.29 L329.3 578.16 L329.63 577.56 L329.97 578.46 L330.3 578.25 L330.63 578.51 L330.97 578.3 L331.3 577.86 L331.63 577.79 L331.97 578.09 L332.3 578.02 L332.63 578.11 L332.97 577.95 L333.3 577.96 L333.63 578.2 L333.97 578.01 L334.3 578.13 L334.63 577.92 L334.97 577.38 L335.3 577.8 L335.63 577.76 L335.97 578.18 L336.3 578.29 L336.63 577.67 L336.97 577.95 L337.3 577.8 L337.63 578.07 L337.97 578.11 L338.3 578.1 L338.63 577.86 L338.97 578.05 L339.3 577.83 L339.63 577.8 L339.97 577.7 L340.3 577.62 L340.63 577.97 L340.97 578.02 L341.3 577.63 L341.63 577.69 L341.97 580.79 L342.3 577.56 L342.63 577.89 L342.97 577.95 L343.3 578.27 L343.63 578.15 L343.97 581.2 L344.3 581.05 L344.63 578.01 L344.97 577.93 L345.3 578.43 L345.63 577.67 L345.97 577.77 L346.3 577.79 L346.63 577.72 L346.97 577.76 L347.3 578.2 L347.63 574.87 L347.97 577.91 L348.3 578.11 L348.63 578.03 L348.97 578.01 L349.3 577.96 L349.63 580.9 L349.97 577.98 L350.3 577.79 L350.63 578.09 L350.97 577.4 L351.3 577.61 L351.63 574.76 L351.97 581.02 L352.3 578.13 L352.63 578.28 L352.97 578.42 L353.3 578.15 L353.63 578.48 L353.97 577.9 L354.3 577.83 L354.63 577.9 L354.97 578.04 L355.3 577.43 L355.63 577.79 L355.97 577.95 L356.3 577.96 L356.63 577.52 L356.97 581.04 L357.3 581.04 L357.63 577.92 L357.97 578.11 L358.3 577.95 L358.63 577.57 L358.97 577.82 L359.3 578.16 L359.63 578.07 L359.97 578 L360.3 577.9 L360.63 578.08 L360.97 578.23 L361.3 577.83 L361.63 577.96 L361.97 577.96 L362.3 578.2 L362.63 578.05 L362.97 577.6 L363.3 577.95 L363.63 577.75 L363.97 577.69 L364.3 577.9 L364.63 577.81 L364.97 577.89 L365.3 578.2 L365.63 578.1 L365.97 577.75 L366.3 574.83 L366.63 578.21 L366.97 577.79 L367.3 577.77 L367.63 577.83 L367.97 577.84 L368.3 578.35 L368.63 578.15 L368.97 577.79 L369.3 578.34 L369.63 578.4 L369.97 578.45 L370.3 577.92 L370.63 577.77 L370.97 578.33 L371.3 577.91 L371.63 577.21 L371.97 578.33 L372.3 577.87 L372.63 578.14 L372.97 578.41 L373.3 578.27 L373.63 575.33 L373.97 578.28 L374.3 577.86 L374.63 578.02 L374.97 577.83 L375.3 577.95 L375.63 581.45 L375.97 574.96 L376.3 577.9 L376.63 578.13 L376.97 578.28 L377.3 578.09 L377.63 577.93 L377.97 578.1 L378.3 577.84 L378.63 578.65 L378.97 578.63 L379.3 577.68 L379.63 577.95 L379.97 577.75 L380.3 578.15 L380.63 573.89 L380.97 577.79 L381.3 577.38 L381.63 577.43 L381.97 577.65 L382.3 581.95 L382.63 577.88 L382.97 578.06 L383.3 578.1 L383.63 578 L383.97 578.31 L384.3 577.84 L384.63 578.46 L384.97 574.06 L385.3 578.01 L385.63 577.84 L385.97 582.22 L386.3 573.9 L386.63 577.76 L386.97 577.97 L387.3 577.72 L387.63 578.06 L387.97 581.94 L388.3 582.18 L388.63 581.97 L388.97 577.94 L389.3 578.18 L389.63 574 L389.97 578.13 L390.3 574.56 L390.63 574.37 L390.97 578.01 L391.3 577.63 L391.63 582.06 L391.97 573.99 L392.3 578.13 L392.63 578.13 L392.97 577.55 L393.3 578.24 L393.63 577.7 L393.97 581.74 L394.3 578.1 L394.63 578.16 L394.97 577.75 L395.3 578.44 L395.63 573.79 L395.97 578.38 L396.3 578.34 L396.63 577.98 L396.97 577.98 L397.3 573.86 L397.63 578.13 L397.97 574.45 L398.3 577.87 L398.63 577.8 L398.97 582.66 L399.3 578.11 L399.63 578.18 L399.97 577.97 L400.3 582.38 L400.63 578.63 L400.97 574.3 L401.3 577.51 L401.63 581.98 L401.97 578.13 L402.3 578.48 L402.63 578.45 L402.97 578.34 L403.3 577.93 L403.63 574.04 L403.97 573.76 L404.3 574.15 L404.63 577.97 L404.97 574.12 L405.3 577.99 L405.63 578.53 L405.97 577.67 L406.3 577.64 L406.63 582.14 L406.97 577.73 L407.3 578.16 L407.63 577.9 L407.97 578.15 L408.3 578.13 L408.63 577.96 L408.97 577.69 L409.3 578.19 L409.63 581.96 L409.97 578.24 L410.3 574.43 L410.63 578.02 L410.97 578.15 L411.3 577.49 L411.63 582.09 L411.97 578.33 L412.3 578.8 L412.63 578.31 L412.97 577.95 L413.3 578.2 L413.63 577.61 L413.97 578.35 L414.3 577.98 L414.63 578.2 L414.97 582.73 L415.3 574.39 L415.63 577.6 L415.97 578.13 L416.3 573.91 L416.63 577.82 L416.97 578.31 L417.3 582.07 L417.63 577.61 L417.97 577.87 L418.3 573.71 L418.63 578.26 L418.97 578.07 L419.3 574.59 L419.63 577.8 L419.97 574.2 L420.3 577.86 L420.63 581.95 L420.97 577.61 L421.3 578.13 L421.63 578.12 L421.97 577.94 L422.3 573.99 L422.63 578.29 L422.97 577.76 L423.3 578.07 L423.63 582.17 L423.97 578.52 L424.3 582.5 L424.63 578.13 L424.97 577.82 L425.3 577.9 L425.63 577.99 L425.97 574.68 L426.3 577.74 L426.63 577.98 L426.97 582.18 L427.3 578.34 L427.63 577.91 L427.97 577.81 L428.3 578.19 L428.63 577.51 L428.97 578.42 L429.3 578.02 L429.63 578.56 L429.97 582.51 L430.3 577.99 L430.63 573.94 L430.97 577.73 L431.3 577.93 L431.63 577.46 L431.97 578.22 L432.3 578.1 L432.63 577.63 L432.97 578.13 L433.3 578.07 L433.63 577.91 L433.97 578.2 L434.3 582.29 L434.63 582.71 L434.97 582.04 L435.3 578.11 L435.63 573.96 L435.97 578.47 L436.3 577.59 L436.63 582.18 L436.97 578 L437.3 577.78 L437.63 577.54 L437.97 582.63 L438.3 577.67 L438.63 578.21 L438.97 582.36 L439.3 577.76 L439.63 577.76 L439.97 577.47 L440.3 577.56 L440.63 578.24 L440.97 577.96 L441.3 578.18 L441.63 582.46 L441.97 581.43 L442.3 578.35 L442.63 577.55 L442.97 582.59 L443.3 578.05 L443.63 577.44 L443.97 577.97 L444.3 578.7 L444.63 574.01 L444.97 578.3 L445.3 578.28 L445.63 574.58 L445.97 574.02 L446.3 578.67 L446.63 582.4 L446.97 577.9 L447.3 578.04 L447.63 577.62 L447.97 578.18 L448.3 578.22 L448.63 574.39 L448.97 577.74 L449.3 578.37 L449.63 582.82 L449.97 578.22 L450.3 578.24 L450.63 577.72 L450.97 577.25 L451.3 578.37 L451.63 582.74 L451.97 578.35 L452.3 577.89 L452.63 578.51 L452.97 578.21 L453.3 577.81 L453.63 578.07 L453.97 578.15 L454.3 578.26 L454.63 578.35 L454.97 574.42 L455.3 578.19 L455.63 578.41 L455.97 578.12 L456.3 578 L456.63 574.16 L456.97 577.86 L457.3 578.03 L457.63 577.77 L457.97 578.04 L458.3 578.57 L458.63 574.42 L458.97 578.28 L459.3 577.63 L459.63 577.62 L459.97 578.05 L460.3 582.59 L460.63 577.73 L460.97 578.04 L461.3 578.54 L461.63 578.22 L461.97 578.15 L462.3 582.38 L462.63 577.67 L462.97 577.99 L463.3 577.36 L463.63 577.67 L463.97 578.17 L464.3 578.13 L464.63 578.24 L464.97 577.88 L465.3 578.05 L465.63 578.37 L465.97 578.04 L466.3 578.27 L466.63 578.34 L466.97 577.81 L467.3 578.27 L467.63 577.98 L467.97 574.16 L468.3 577.53 L468.63 577.83 L468.97 577.8 L469.3 577.89 L469.63 578.29 L469.97 577.8 L470.3 577.75 L470.63 577.84 L470.97 581.95 L471.3 578.05 L471.63 574.78 L471.97 577.75 L472.3 578.17 L472.63 577.95 L472.97 578.38 L473.3 582.05 L473.63 581.05 L473.97 578.4 L474.3 577.92 L474.63 578.36 L474.97 577.99 L475.3 574.25 L475.63 577.79 L475.97 578.76 L476.3 577.87 L476.63 577.98 L476.97 577.65 L477.3 577.79 L477.63 577.95 L477.97 578.01 L478.3 578.33 L478.63 574.12 L478.97 578.05 L479.3 578.04 L479.63 578.12 L479.97 582.6 L480.3 578.21 L480.63 578.1 L480.97 578.2 L481.3 578.54 L481.63 577.89 L481.97 577.92 L482.3 577.87 L482.63 578.07 L482.97 578.26 L483.3 577.87 L483.63 573.95 L483.97 577.92 L484.3 577.9 L484.63 577.85 L484.97 577.64 L485.3 578.56 L485.63 578.22 L485.97 578.04 L486.3 577.72 L486.63 578.3 L486.97 577.73 L487.3 578.37 L487.63 578.08 L487.97 578.16 L488.3 582.26 L488.63 578.63 L488.97 582.2 L489.3 582.5 L489.63 577.87 L489.97 577.81 L490.3 578.12 L490.63 578.32 L490.97 577.49 L491.3 582.3 L491.63 577.87 L491.97 582.16 L492.3 577.77 L492.63 582.69 L492.97 578.23 L493.3 578.17 L493.63 577.44 L493.97 577.68 L494.3 577.5 L494.63 578.13 L494.97 578.04 L495.3 578.01 L495.63 577.99 L495.97 578.16 L496.3 578.36 L496.63 577.94 L496.97 578.48 L497.3 578.35 L497.63 577.73 L497.97 578.49 L498.3 577.74 L498.63 577.75 L498.97 578.66 L499.3 577.92 L499.63 574.44 L499.97 578.28 L500.3 574.2 L500.63 582.49 L500.97 574.19 L501.3 577.82 L501.63 578.42 L501.97 578.57 L502.3 578.11 L502.63 578.18 L502.97 581.6 L503.3 578.34 L503.63 577.77 L503.97 577.57 L504.3 581.81 L504.63 578.21 L504.97 577.61 L505.3 577.83 L505.63 578.1 L505.97 578.09 L506.3 577.82 L506.63 577.85 L506.97 582.2 L507.3 578.11 L507.63 577.69 L507.97 577.89 L508.3 578.09 L508.63 577.91 L508.97 582.51 L509.3 577.75 L509.63 578.01 L509.97 578.27 L510.3 577.52 L510.63 578.5 L510.97 577.74 L511.3 577.8 L511.63 577.45 L511.97 573.94 L512.3 577.5 L512.63 577.49 L512.97 577.88 L513.3 578.29 L513.63 577.5 L513.97 577.94 L514.3 578.28 L514.63 578.52 L514.97 578.08 L515.3 577.66 L515.63 577.59 L515.97 578.29 L516.3 578.23 L516.63 578.46 L516.97 578.25 L517.3 577.9 L517.63 574.32 L517.97 578.18 L518.3 577.86 L518.63 578.11 L518.97 574.36 L519.3 578.19 L519.63 577.67 L519.97 578.2 L520.3 577.99 L520.63 578.02 L520.97 578.15 L521.3 578.1 L521.63 577.6 L521.97 581.73 L522.3 577.83 L522.63 582.68 L522.97 578.37 L523.3 578.17 L523.63 577.84 L523.97 577.89 L524.3 577.95 L524.63 577.5 L524.97 577.7 L525.3 577.82 L525.63 577.59 L525.97 582.31 L526.3 582.04 L526.63 582.34 L526.97 577.9 L527.3 578.18 L527.63 574.12 L527.97 577.42 L528.3 578.6 L528.63 578.52 L528.97 577.95 L529.3 573.85 L529.63 577.64 L529.97 577.94 L530.3 582.04 L530.63 578.03 L530.97 574.24 L531.3 577.78 L531.63 578.28 L531.97 578.32 L532.3 578.3 L532.63 582.28 L532.97 578.4 L533.3 574.28 L533.63 577.61 L533.97 578.03 L534.3 577.93 L534.63 577.63 L534.97 577.62 L535.3 578.38 L535.63 574.01 L535.97 578.13 L536.3 578.15 L536.63 577.49 L536.97 578.33 L537.3 578.27 L537.63 578.06 L537.97 578.32 L538.3 578.44 L538.63 577.53 L538.97 577.88 L539.3 578.12 L539.63 578.26 L539.97 577.98 L540.3 577.89 L540.63 578.57 L540.97 578.49 L541.3 574.48 L541.63 577.62 L541.97 578.59 L542.3 577.94 L542.63 578.24 L542.97 582.55 L543.3 577.7 L543.63 578.17 L543.97 582.23 L544.3 577.93 L544.63 577.87 L544.97 573.93 L545.3 582.26 L545.63 577.85 L545.97 577.72 L546.3 578.13 L546.63 578.03 L546.97 577.68 L547.3 577.88 L547.63 578.07 L547.97 574.58 L548.3 582.2 L548.63 577.72 L548.97 577.93 L549.3 577.75 L549.63 577.81 L549.97 578.01 L550.3 574.46 L550.63 574.43 L550.97 581.99 L551.3 578.38 L551.63 574.54 L551.97 581.97 L552.3 577.75 L552.63 577.93 L552.97 577.9 L553.3 577.89 L553.63 578.08 L553.97 578.34 L554.3 574.14 L554.63 578.37 L554.97 577.76 L555.3 578.37 L555.63 577.86 L555.97 582.59 L556.3 577.65 L556.63 578.16 L556.97 577.94 L557.3 577.62 L557.63 578.23 L557.97 577.91 L558.3 582.14 L558.63 577.89 L558.97 578.46 L559.3 582.47 L559.63 574.44 L559.97 577.94 L560.3 578.46 L560.63 577.8 L560.97 577.99 L561.3 577.52 L561.63 578.07 L561.97 578.11 L562.3 581.83 L562.63 577.7 L562.97 578.18 L563.3 578.18 L563.63 577.84 L563.97 582.66 L564.3 578.56 L564.63 577.51 L564.97 577.38 L565.3 577.91 L565.63 577.87 L565.97 581.78 L566.3 578.2 L566.63 578.19 L566.97 577.92 L567.3 581.85 L567.63 582.06 L567.97 577.08 L568.3 582.24 L568.63 577.95 L568.97 578.15 L569.3 582.34 L569.63 578.46 L569.97 573.92 L570.3 578.46 L570.63 577.94 L570.97 578.1 L571.3 575.05 L571.63 578.49 L571.97 578.03 L572.3 578.53 L572.63 577.9 L572.97 578.19 L573.3 578.09 L573.63 577.95 L573.97 577.75 L574.3 577.83 L574.63 578.03 L574.97 577.69 L575.3 577.76 L575.63 578.1 L575.97 578.01 L576.3 578.25 L576.63 578.43 L576.97 574.72 L577.3 577.9 L577.63 575.12 L577.97 577.7 L578.3 578.19 L578.63 578.05 L578.97 577.92 L579.3 577.81 L579.63 578.07 L579.97 577.85 L580.3 578.06 L580.63 578.41 L580.97 578.04 L581.3 581.32 L581.63 577.94 L581.97 578 L582.3 577.8 L582.63 578.2 L582.97 578.13 L583.3 578.04 L583.63 578.21 L583.97 577.8 L584.3 577.7 L584.63 578.07 L584.97 577.93 L585.3 578.08 L585.63 577.89 L585.97 578.05 L586.3 574.84 L586.63 578.04 L586.97 578.24 L587.3 577.42 L587.63 578 L587.97 577.95 L588.3 578.44 L588.63 578.22 L588.97 578.21 L589.3 578.13 L589.63 578.17 L589.97 577.5 L590.3 577.7 L590.63 578.2 L590.97 577.68 L591.3 577.97 L591.63 578.1 L591.97 578.48 L592.3 577.95 L592.63 577.97 L592.97 578.07 L593.3 575.41 L593.63 577.6 L593.97 578.01 L594.3 574.67 L594.63 577.9 L594.97 578.32 L595.3 577.71 L595.63 577.94 L595.97 577.96 L596.3 577.98 L596.63 577.82 L596.97 577.87 L597.3 578.13 L597.63 577.8 L597.97 578.51 L598.3 577.58 L598.63 578 L598.97 578.09 L599.3 578.09 L599.63 578.44 L599.97 575.1 L600.3 578.21 L600.63 577.99 L600.97 578.31 L601.3 577.88 L601.63 578.1 L601.97 578.63 L602.3 577.89 L602.63 577.81 L602.97 577.88 L603.3 577.78 L603.63 580.68 L603.97 577.91 L604.3 578.06 L604.63 578.11 L604.97 577.62 L605.3 577.99 L605.63 578.13 L605.97 578.02 L606.3 577.75 L606.63 578.2 L606.97 578.19 L607.3 577.89 L607.63 577.79 L607.97 577.83 L608.3 578.06 L608.63 577.8 L608.97 577.86 L609.3 574.99 L609.63 578.06 L609.97 577.61 L610.3 577.99 L610.63 578.19 L610.97 578.06 L611.3 577.96 L611.63 577.57 L611.97 578.37 L612.3 577.97 L612.63 577.94 L612.97 577.99 L613.3 578.09 L613.63 577.95 L613.97 577.88 L614.3 578.1 L614.63 580.62 L614.97 578.12 L615.3 577.88 L615.63 575.3 L615.97 577.64 L616.3 578.12 L616.63 578.05 L616.97 577.73 L617.3 577.95 L617.63 577.45 L617.97 574.65 L618.3 578.15 L618.63 578.36 L618.97 577.68 L619.3 578.12 L619.63 578.42 L619.97 577.86 L620.3 578.19 L620.63 574.78 L620.97 577.56 L621.3 577.56 L621.63 574.84 L621.97 577.67 L622.3 578.02 L622.63 578.01 L622.97 577.77 L623.3 578.24 L623.63 578.01 L623.97 578.11 L624.3 577.64 L624.63 578.02 L624.97 575.1 L625.3 578.16 L625.63 574.64 L625.97 578.44 L626.3 577.98 L626.63 577.94 L626.97 578.09 L627.3 578.25 L627.63 578.26 L627.97 578.06 L628.3 577.98 L628.63 577.82 L628.97 578.25 L629.3 577.89 L629.63 578.53 L629.97 578.23 L630.3 578.88 L630.63 577.87 L630.97 577.91 L631.3 577.96 L631.63 578.13 L631.97 577.66 L632.3 577.83 L632.63 577.67 L632.97 581.06 L633.3 578.17 L633.63 578.16 L633.97 577.96 L634.3 577.91 L634.63 577.91 L634.97 577.61 L635.3 577.47 L635.63 577.94 L635.97 574.91 L636.3 578.15 L636.63 575.3 L636.97 578.07 L637.3 578.43 L637.63 578.17 L637.97 578.19 L638.3 577.71 L638.63 577.79 L638.97 578.42 L639.3 578.09 L639.63 577.83 L639.97 577.41 L640.3 578.07 L640.63 578.34 L640.97 578.17 L641.3 578.09 L641.63 577.77 L641.97 577.89 L642.3 578.5 L642.63 577.85 L642.97 578.23 L643.3 580.94 L643.63 577.67 L643.97 578.06 L644.3 578.25 L644.63 577.81 L644.97 578.03 L645.3 577.94 L645.63 578.23 L645.97 577.85 L646.3 581.02 L646.63 578.26 L646.97 578.39 L647.3 578.3 L647.63 578.14 L647.97 577.84 L648.3 574.98 L648.63 578.27 L648.97 577.77 L649.3 578.16 L649.63 577.79 L649.97 578.05 L650.3 578.03 L650.63 578.41 L650.97 577.85 L651.3 578.1 L651.63 577.8 L651.97 578.38 L652.3 577.96 L652.63 578.31 L652.97 577.85 L653.3 577.87 L653.63 577.85 L653.97 577.71 L654.3 578.32 L654.63 577.66 L654.97 578.06 L655.3 578.17 L655.63 578.04 L655.97 577.55 L656.3 577.84 L656.63 577.54 L656.97 577.65 L657.3 578.52 L657.63 578.23 L657.97 577.8 L658.3 578.01 L658.63 578.27 L658.97 575.07 L659.3 577.8 L659.63 578.46 L659.97 578.3 L660.3 577.53 L660.63 577.4 L660.97 577.91 L661.3 577.98 L661.63 578.19 L661.97 577.71 L662.3 577.89 L662.63 577.99 L662.97 578.06 L663.3 577.58 L663.63 577.91 L663.97 577.87 L664.3 578.43 L664.63 578.26 L664.97 575.37 L665.3 578.01 L665.63 577.47 L665.97 577.94 L666.3 578.23 L666.63 577.94 L666.97 577.84 L667.3 577.88 L667.63 577.85 L667.97 577.94 L668.3 577.71 L668.63 577.54 L668.97 578.05 L669.3 578.27 L669.63 577.78 L669.97 577.96 L670.3 578.25 L670.63 578.42 L670.97 577.94 L671.3 578.42 L671.63 577.85 L671.97 578.05 L672.3 578.41 L672.63 577.95 L672.97 578.37 L673.3 578.04 L673.63 577.7 L673.97 578.1 L674.3 578.01 L674.63 578.13 L674.97 578.28 L675.3 577.99 L675.63 578.05 L675.97 577.74 L676.3 577.47 L676.63 578.22 L676.97 577.97 L677.3 578.21 L677.63 577.85 L677.97 578.06 L678.3 577.9 L678.63 574.62 L678.97 577.75 L679.3 577.78 L679.63 578.04 L679.97 578.04 L680.3 577.48 L680.63 580.78 L680.97 577.65 L681.3 577.66 L681.63 578.16 L681.97 577.81 L682.3 578.23 L682.63 581.08 L682.97 577.71 L683.3 577.87 L683.63 578.59 L683.97 578.14 L684.3 574.77 L684.63 578.42 L684.97 577.78 L685.3 578.14 L685.63 575.18 L685.97 577.98 L686.3 578.09 L686.63 578.06 L686.97 577.93 L687.3 577.95 L687.63 578.07 L687.97 578.21 L688.3 578.01 L688.63 577.99 L688.97 578.38 L689.3 581.18 L689.63 577.7 L689.97 578.51 L690.3 580.28 L690.63 577.87 L690.97 577.65 L691.3 578.05 L691.63 578.11 L691.97 577.43 L692.3 577.91 L692.63 577.79 L692.97 578.36 L693.3 578.28 L693.63 578.22 L693.97 578.23 L694.3 577.84 L694.63 577.73 L694.97 577.9 L695.3 575.09 L695.63 577.72 L695.97 578.01 L696.3 577.88 L696.63 577.72 L696.97 577.73 L697.3 577.85 L697.63 577.92 L697.97 577.65 L698.3 581.01 L698.63 577.95 L698.97 578.01 L699.3 578.26 L699.63 577.45 L699.97 577.85 L700.3 577.74 L700.63 578.15 L700.97 577.98 L701.3 578.21 L701.63 577.92 L701.97 577.91 L702.3 577.99 L702.63 578.33 L702.97 578.44 L703.3 577.8 L703.63 578.43 L703.97 577.96 L704.3 578.5 L704.63 578.31 L704.97 577.85 L705.3 578.18 L705.63 578.07 L705.97 577.92 L706.3 577.83 L706.63 578.03 L706.97 581.1 L707.3 577.92 L707.63 575.16 L707.97 578.08 L708.3 578.14 L708.63 577.91 L708.97 574.87 L709.3 578.08 L709.63 578.12 L709.97 578.15 L710.3 577.89 L710.63 580.9 L710.97 577.56 L711.3 578.27 L711.63 577.99 L711.97 578.08 L712.3 578.34 L712.63 577.79 L712.97 578.04 L713.3 581.04 L713.63 577.97 L713.97 575.21 L714.3 577.81 L714.63 577.68 L714.97 578.27 L715.3 577.73 L715.63 577.78 L715.97 578.17 L716.3 578.72 L716.63 575.06 L716.97 577.83 L717.3 578.36 L717.63 578.17 L717.97 578.15 L718.3 577.99 L718.63 577.65 L718.97 581.09 L719.3 577.93 L719.63 577.81 L719.97 577.84 L720.3 578.18 L720.63 577.76 L720.97 577.69 L721.3 578.03 L721.63 578.22 L721.97 578.13 L722.3 577.75 L722.63 578.15 L722.97 578.01" stroke="#3cc4f0" stroke-width="0.6" fill="none" stroke-linejoin="round"/>
<line x1="35.8" y1="391" x2="723.4" y2="391" stroke="#c8c8c8" stroke-width="2"/>
<line x1="723.4" y1="390" x2="723.4" y2="676.3" stroke="#606060" stroke-width="1"/>
<line x1="35.8" y1="390" x2="35.8" y2="676.95" stroke="#8a8a8a" stroke-width="1.3"/>
<line x1="35.15" y1="676.3" x2="723.9" y2="676.3" stroke="#8a8a8a" stroke-width="1.3"/>
<text x="356" y="740" font-size="24" font-family='"Liberation Serif", serif' fill="#000">(<tspan font-weight="bold">b</tspan>)</text>
<line x1="11" y1="749.7" x2="729" y2="749.7" stroke="#a8a8a8" stroke-width="1.6"/>
<line x1="11.5" y1="749.7" x2="11.5" y2="768.5" stroke="#666666" stroke-width="1"/>
<line x1="728.5" y1="749.7" x2="728.5" y2="768.5" stroke="#666666" stroke-width="1"/>
<line x1="11" y1="768" x2="729" y2="768" stroke="#666666" stroke-width="1.1"/>
<line x1="16" y1="757.2" x2="36.4" y2="757.2" stroke="#8f9ad8" stroke-width="1"/>
<text x="40.5" y="761.6" font-size="10" fill="#3c3ca8" text-anchor="start" font-family='"Liberation Sans", sans-serif' font-weight="normal" textLength="82.6" lengthAdjust="spacingAndGlyphs">Surge_3Acceleration</text>
<line x1="137.7" y1="757.2" x2="157.8" y2="757.2" stroke="#f090aa" stroke-width="1"/>
<text x="162.5" y="761.6" font-size="10" fill="#3c3ca8" text-anchor="start" font-family='"Liberation Sans", sans-serif' font-weight="normal" textLength="79.2" lengthAdjust="spacingAndGlyphs">Sway_3Acceleration</text>
<line x1="259.4" y1="757.2" x2="279.5" y2="757.2" stroke="#90e0f8" stroke-width="1"/>
<text x="283.8" y="761.6" font-size="10" fill="#3c3ca8" text-anchor="start" font-family='"Liberation Sans", sans-serif' font-weight="normal" textLength="85" lengthAdjust="spacingAndGlyphs">Heave_3Acceleration</text>
<text x="14" y="785.6" font-size="9.4" fill="#747474" font-family='"Liberation Sans", sans-serif'>10<tspan font-size="6" dy="-3.5">3</tspan><tspan dy="3.5"> mm/s</tspan><tspan font-size="6" dy="-3.5">2</tspan></text>
<line x1="34" y1="809.6" x2="37.6" y2="809.6" stroke="#b8b8b8" stroke-width="1"/>
<text x="32.3" y="812.9" font-size="9.4" fill="#747474" text-anchor="end" font-family='"Liberation Sans", sans-serif' font-weight="normal">1.0</text>
<line x1="34" y1="832.94" x2="37.6" y2="832.94" stroke="#b8b8b8" stroke-width="1"/>
<text x="32.3" y="836.24" font-size="9.4" fill="#747474" text-anchor="end" font-family='"Liberation Sans", sans-serif' font-weight="normal">0.8</text>
<line x1="34" y1="856.28" x2="37.6" y2="856.28" stroke="#b8b8b8" stroke-width="1"/>
<text x="32.3" y="859.58" font-size="9.4" fill="#747474" text-anchor="end" font-family='"Liberation Sans", sans-serif' font-weight="normal">0.6</text>
<line x1="34" y1="879.62" x2="37.6" y2="879.62" stroke="#b8b8b8" stroke-width="1"/>
<text x="32.3" y="882.92" font-size="9.4" fill="#747474" text-anchor="end" font-family='"Liberation Sans", sans-serif' font-weight="normal">0.4</text>
<line x1="34" y1="902.96" x2="37.6" y2="902.96" stroke="#b8b8b8" stroke-width="1"/>
<text x="32.3" y="906.26" font-size="9.4" fill="#747474" text-anchor="end" font-family='"Liberation Sans", sans-serif' font-weight="normal">0.2</text>
<line x1="34" y1="926.3" x2="37.6" y2="926.3" stroke="#b8b8b8" stroke-width="1"/>
<text x="32.3" y="929.6" font-size="9.4" fill="#747474" text-anchor="end" font-family='"Liberation Sans", sans-serif' font-weight="normal">0.0</text>
<line x1="34" y1="949.64" x2="37.6" y2="949.64" stroke="#b8b8b8" stroke-width="1"/>
<text x="32.3" y="952.94" font-size="9.4" fill="#747474" text-anchor="end" font-family='"Liberation Sans", sans-serif' font-weight="normal">-0.2</text>
<line x1="34" y1="972.98" x2="37.6" y2="972.98" stroke="#b8b8b8" stroke-width="1"/>
<text x="32.3" y="976.28" font-size="9.4" fill="#747474" text-anchor="end" font-family='"Liberation Sans", sans-serif' font-weight="normal">-0.4</text>
<line x1="34" y1="996.32" x2="37.6" y2="996.32" stroke="#b8b8b8" stroke-width="1"/>
<text x="32.3" y="999.62" font-size="9.4" fill="#747474" text-anchor="end" font-family='"Liberation Sans", sans-serif' font-weight="normal">-0.6</text>
<line x1="34" y1="1019.66" x2="37.6" y2="1019.66" stroke="#b8b8b8" stroke-width="1"/>
<text x="32.3" y="1022.96" font-size="9.4" fill="#747474" text-anchor="end" font-family='"Liberation Sans", sans-serif' font-weight="normal">-0.8</text>
<line x1="34" y1="1043" x2="37.6" y2="1043" stroke="#b8b8b8" stroke-width="1"/>
<text x="32.3" y="1046.3" font-size="9.4" fill="#747474" text-anchor="end" font-family='"Liberation Sans", sans-serif' font-weight="normal">-1.0</text>
<line x1="34" y1="1066.34" x2="37.6" y2="1066.34" stroke="#b8b8b8" stroke-width="1"/>
<text x="32.3" y="1069.64" font-size="9.4" fill="#747474" text-anchor="end" font-family='"Liberation Sans", sans-serif' font-weight="normal">-1.2</text>
<line x1="37.6" y1="1080.5" x2="37.6" y2="1085.5" stroke="#c0c0c0" stroke-width="1"/>
<text x="37.6" y="1097.8" font-size="9.4" fill="#747474" text-anchor="middle" font-family='"Liberation Sans", sans-serif' font-weight="normal">0</text>
<line x1="112.95" y1="1080.5" x2="112.95" y2="1085.5" stroke="#c0c0c0" stroke-width="1"/>
<text x="112.95" y="1097.8" font-size="9.4" fill="#747474" text-anchor="middle" font-family='"Liberation Sans", sans-serif' font-weight="normal">5</text>
<line x1="188.3" y1="1080.5" x2="188.3" y2="1085.5" stroke="#c0c0c0" stroke-width="1"/>
<text x="188.3" y="1097.8" font-size="9.4" fill="#747474" text-anchor="middle" font-family='"Liberation Sans", sans-serif' font-weight="normal">10</text>
<line x1="263.65" y1="1080.5" x2="263.65" y2="1085.5" stroke="#c0c0c0" stroke-width="1"/>
<text x="263.65" y="1097.8" font-size="9.4" fill="#747474" text-anchor="middle" font-family='"Liberation Sans", sans-serif' font-weight="normal">15</text>
<line x1="339" y1="1080.5" x2="339" y2="1085.5" stroke="#c0c0c0" stroke-width="1"/>
<text x="339" y="1097.8" font-size="9.4" fill="#747474" text-anchor="middle" font-family='"Liberation Sans", sans-serif' font-weight="normal">20</text>
<line x1="414.35" y1="1080.5" x2="414.35" y2="1085.5" stroke="#c0c0c0" stroke-width="1"/>
<text x="414.35" y="1097.8" font-size="9.4" fill="#747474" text-anchor="middle" font-family='"Liberation Sans", sans-serif' font-weight="normal">25</text>
<line x1="489.7" y1="1080.5" x2="489.7" y2="1085.5" stroke="#c0c0c0" stroke-width="1"/>
<text x="489.7" y="1097.8" font-size="9.4" fill="#747474" text-anchor="middle" font-family='"Liberation Sans", sans-serif' font-weight="normal">30</text>
<line x1="565.05" y1="1080.5" x2="565.05" y2="1085.5" stroke="#c0c0c0" stroke-width="1"/>
<text x="565.05" y="1097.8" font-size="9.4" fill="#747474" text-anchor="middle" font-family='"Liberation Sans", sans-serif' font-weight="normal">35</text>
<line x1="640.4" y1="1080.5" x2="640.4" y2="1085.5" stroke="#c0c0c0" stroke-width="1"/>
<text x="640.4" y="1097.8" font-size="9.4" fill="#747474" text-anchor="middle" font-family='"Liberation Sans", sans-serif' font-weight="normal">40</text>
<line x1="715.75" y1="1080.5" x2="715.75" y2="1085.5" stroke="#c0c0c0" stroke-width="1"/>
<text x="715.75" y="1097.8" font-size="9.4" fill="#747474" text-anchor="middle" font-family='"Liberation Sans", sans-serif' font-weight="normal">45</text>
<text x="719.3" y="1115.8" font-size="9.4" fill="#747474" text-anchor="middle" font-family='"Liberation Sans", sans-serif' font-weight="normal">s</text>
<rect x="38.2" y="923.2" width="163" height="5.2" fill="#1020a8" opacity="0.6"/>
<path d="M38.2 925.88 L38.45 925.96 L38.7 924.45 L38.95 925.35 L39.2 925.69 L39.45 925.43 L39.7 925.4 L39.95 925.99 L40.2 925.71 L40.45 927.16 L40.7 927.17 L40.95 926.92 L41.2 926.22 L41.45 925.61 L41.7 925.95 L41.95 924.4 L42.2 925.46 L42.45 924.72 L42.7 926.87 L42.95 925.86 L43.2 927.79 L43.45 927.77 L43.7 925.87 L43.95 925.83 L44.2 925.8 L44.45 925.5 L44.7 924.77 L44.95 924.53 L45.2 925.16 L45.45 926.24 L45.7 925.39 L45.95 926.19 L46.2 927.44 L46.45 926.28 L46.7 926.05 L46.95 926.36 L47.2 925.51 L47.45 925.09 L47.7 925.33 L47.95 923.86 L48.2 924.38 L48.45 925.7 L48.7 924.57 L48.95 925.7 L49.2 925.44 L49.45 925.87 L49.7 926.99 L49.95 925.96 L50.2 926.39 L50.45 926.85 L50.7 926.02 L50.95 924.01 L51.2 925.66 L51.45 925.63 L51.7 924.64 L51.95 925.89 L52.2 927.11 L52.45 926.38 L52.7 926.72 L52.95 927.55 L53.2 925.74 L53.45 926.33 L53.7 926.39 L53.95 924.84 L54.2 924 L54.45 925.26 L54.7 923.94 L54.95 924.35 L55.2 926.17 L55.45 926.86 L55.7 927.66 L55.95 927.02 L56.2 926.45 L56.45 926.62 L56.7 925.66 L56.95 925.77 L57.2 924.84 L57.45 924.71 L57.7 924.71 L57.95 925.88 L58.2 926.1 L58.45 925.81 L58.7 926.2 L58.95 927.15 L59.2 927.58 L59.45 926.16 L59.7 927.01 L59.95 926.15 L60.2 924.84 L60.45 924.4 L60.7 924.77 L60.95 923.97 L61.2 925.69 L61.45 925.88 L61.7 926.16 L61.95 926.35 L62.2 925.86 L62.45 926.24 L62.7 925.27 L62.95 926.33 L63.2 924.91 L63.45 925.09 L63.7 924.62 L63.95 925.06 L64.2 925.71 L64.45 926.76 L64.7 925.92 L64.95 926.34 L65.2 926.13 L65.45 926.74 L65.7 927.11 L65.95 925.22 L66.2 925.49 L66.45 925.2 L66.7 925.09 L66.95 925.52 L67.2 925.49 L67.45 925.11 L67.7 925.57 L67.95 927.52 L68.2 927.43 L68.45 926.19 L68.7 926.17 L68.95 927.21 L69.2 925.95 L69.45 925.53 L69.7 923.9 L69.95 925.09 L70.2 925.05 L70.45 924.59 L70.7 925.86 L70.95 926.87 L71.2 926.95 L71.45 927.27 L71.7 926.27 L71.95 927.65 L72.2 925.59 L72.45 924.92 L72.7 925.06 L72.95 924.71 L73.2 924.88 L73.45 924.13 L73.7 925.28 L73.95 924.92 L74.2 925.5 L74.45 925.94 L74.7 926.53 L74.95 926.08 L75.2 925.72 L75.45 926.73 L75.7 925.99 L75.95 925.64 L76.2 923.96 L76.45 925.95 L76.7 924.62 L76.95 924.86 L77.2 925.68 L77.45 927.84 L77.7 926.55 L77.95 926.94 L78.2 927.46 L78.45 926.48 L78.7 925.73 L78.95 925.43 L79.2 925.29 L79.45 924.6 L79.7 925.84 L79.95 926.74 L80.2 926.48 L80.45 927.53 L80.7 927.42 L80.95 927.13 L81.2 927.14 L81.45 926.74 L81.7 924.3 L81.95 924.2 L82.2 925.72 L82.45 925.29 L82.7 926.17 L82.95 926.12 L83.2 926.83 L83.45 927.57 L83.7 926.65 L83.95 925.83 L84.2 925.68 L84.45 925.97 L84.7 924.77 L84.95 925.09 L85.2 924.6 L85.45 924.26 L85.7 924.84 L85.95 925.61 L86.2 925.1 L86.45 926.46 L86.7 927.38 L86.95 926.97 L87.2 925.99 L87.45 925.94 L87.7 925.95 L87.95 925.94 L88.2 924.5 L88.45 924.69 L88.7 924.81 L88.95 924.6 L89.2 926.01 L89.45 926.42 L89.7 926.66 L89.95 927.14 L90.2 927.35 L90.45 925.7 L90.7 926.5 L90.95 925.19 L91.2 925.46 L91.45 924.72 L91.7 925.73 L91.95 924.47 L92.2 926.84 L92.45 925.46 L92.7 927.79 L92.95 926.76 L93.2 926.46 L93.45 927.03 L93.7 925.91 L93.95 925.37 L94.2 925.57 L94.45 924.58 L94.7 925.48 L94.95 926.19 L95.2 926.38 L95.45 925.78 L95.7 926.92 L95.95 927.36 L96.2 927.87 L96.45 926.67 L96.7 927 L96.95 926.75 L97.2 924.36 L97.45 925.58 L97.7 925.52 L97.95 924.43 L98.2 924.07 L98.45 925.67 L98.7 926.21 L98.95 926.78 L99.2 926.79 L99.45 927.68 L99.7 926.84 L99.95 925.97 L100.2 924.96 L100.45 926.1 L100.7 924.07 L100.95 924.42 L101.2 925.52 L101.45 925.04 L101.7 925.9 L101.95 925.63 L102.2 926.72 L102.45 927.2 L102.7 927.69 L102.95 925.27 L103.2 926.56 L103.45 924.95 L103.7 924.81 L103.95 925.12 L104.2 923.96 L104.45 926.36 L104.7 926.84 L104.95 925.63 L105.2 926.19 L105.45 927.95 L105.7 926.02 L105.95 926.67 L106.2 925.94 L106.45 925.14 L106.7 925.17 L106.95 925.24 L107.2 924.29 L107.45 925.33 L107.7 924.53 L107.95 925.79 L108.2 925.55 L108.45 927.53 L108.7 927.8 L108.95 926.44 L109.2 926.09 L109.45 925.5 L109.7 925.13 L109.95 925.3 L110.2 924.94 L110.45 925.8 L110.7 924.98 L110.95 925.11 L111.2 926.81 L111.45 927.72 L111.7 926.22 L111.95 926.5 L112.2 926.28 L112.45 926.85 L112.7 926.18 L112.95 924.5 L113.2 923.68 L113.45 924.36 L113.7 924.67 L113.95 924.28 L114.2 925.14 L114.45 926.12 L114.7 926.24 L114.95 927.02 L115.2 927.17 L115.45 925.34 L115.7 924.86 L115.95 925.86 L116.2 924.81 L116.45 924.96 L116.7 924.88 L116.95 926.21 L117.2 925.2 L117.45 925.11 L117.7 926.33 L117.95 926.59 L118.2 927.44 L118.45 926.06 L118.7 926.9 L118.95 924.55 L119.2 925.45 L119.45 924.17 L119.7 925.41 L119.95 925.35 L120.2 926.61 L120.45 925.53 L120.7 925.71 L120.95 925.92 L121.2 927.77 L121.45 926.67 L121.7 925.58 L121.95 926.14 L122.2 924.3 L122.45 923.7 L122.7 925.53 L122.95 924.47 L123.2 925.89 L123.45 925.8 L123.7 927.32 L123.95 927.74 L124.2 926.78 L124.45 926.61 L124.7 926.58 L124.95 925.58 L125.2 924.56 L125.45 924.31 L125.7 925.59 L125.95 923.74 L126.2 925.02 L126.45 925.87 L126.7 926.53 L126.95 926.99 L127.2 926.93 L127.45 926.81 L127.7 925.71 L127.95 926.82 L128.2 925.44 L128.45 924.63 L128.7 924.58 L128.95 924.87 L129.2 924.6 L129.45 926.07 L129.7 926.35 L129.95 926.56 L130.2 926.83 L130.45 927.3 L130.7 926.92 L130.95 926.03 L131.2 924.87 L131.45 925.67 L131.7 924.68 L131.95 924.96 L132.2 924.67 L132.45 925.37 L132.7 925.26 L132.95 925.77 L133.2 927.66 L133.45 927.17 L133.7 927.1 L133.95 925.9 L134.2 925.48 L134.45 924.5 L134.7 925.24 L134.95 925.12 L135.2 924.37 L135.45 924.93 L135.7 924.99 L135.95 926.32 L136.2 926.69 L136.45 927.4 L136.7 927.48 L136.95 926.03 L137.2 927.39 L137.45 924.97 L137.7 926.25 L137.95 925.37 L138.2 924.48 L138.45 925.74 L138.7 925.65 L138.95 926.47 L139.2 927.14 L139.45 927.79 L139.7 926.51 L139.95 926.98 L140.2 927.28 L140.45 926.97 L140.7 924.49 L140.95 924.62 L141.2 923.81 L141.45 923.75 L141.7 925.91 L141.95 925.62 L142.2 926.33 L142.45 925.69 L142.7 927.64 L142.95 926.85 L143.2 927.25 L143.45 927.38 L143.7 926.95 L143.95 926.31 L144.2 924.74 L144.45 925.57 L144.7 924.81 L144.95 924.41 L145.2 926.26 L145.45 925.05 L145.7 925.85 L145.95 925.81 L146.2 926.98 L146.45 926.36 L146.7 925.73 L146.95 925.37 L147.2 925.89 L147.45 925.68 L147.7 925.34 L147.95 925.16 L148.2 926.43 L148.45 925.36 L148.7 927.36 L148.95 926.07 L149.2 927.88 L149.45 926.76 L149.7 925.44 L149.95 925.78 L150.2 926.49 L150.45 925.02 L150.7 925.76 L150.95 924.31 L151.2 923.96 L151.45 925.94 L151.7 926.24 L151.95 927.06 L152.2 926.17 L152.45 927.1 L152.7 927.17 L152.95 926.7 L153.2 925.6 L153.45 924.26 L153.7 925.96 L153.95 923.74 L154.2 924.77 L154.45 925.56 L154.7 925.59 L154.95 926.41 L155.2 926.96 L155.45 926.42 L155.7 926.27 L155.95 927.69 L156.2 927.12 L156.45 925.37 L156.7 925.97 L156.95 925.82 L157.2 925.3 L157.45 924.75 L157.7 924.4 L157.95 926.03 L158.2 925.8 L158.45 926.51 L158.7 927.33 L158.95 927.06 L159.2 926.14 L159.45 926.98 L159.7 926.68 L159.95 924.77 L160.2 925.76 L160.45 924.95 L160.7 924 L160.95 924.39 L161.2 926.01 L161.45 926.5 L161.7 927.5 L161.95 927.21 L162.2 925.78 L162.45 925.77 L162.7 925.45 L162.95 926.05 L163.2 925.24 L163.45 924.75 L163.7 924.73 L163.95 924.69 L164.2 926.94 L164.45 925.98 L164.7 927.37 L164.95 927.43 L165.2 926.52 L165.45 926.35 L165.7 925.41 L165.95 925.83 L166.2 925.76 L166.45 924.07 L166.7 923.92 L166.95 924.7 L167.2 926.19 L167.45 926.02 L167.7 925.86 L167.95 925.82 L168.2 926.08 L168.45 927.43 L168.7 926.42 L168.95 926.61 L169.2 926.03 L169.45 925.48 L169.7 925.35 L169.95 924.29 L170.2 924.52 L170.45 925.82 L170.7 926.52 L170.95 926.33 L171.2 926.37 L171.45 925.77 L171.7 927.46 L171.95 925.41 L172.2 926.32 L172.45 925.59 L172.7 925.12 L172.95 924.3 L173.2 925.77 L173.45 924.42 L173.7 925.61 L173.95 926.8 L174.2 926.39 L174.45 927.35 L174.7 925.71 L174.95 926.22 L175.2 926.44 L175.45 925.96 L175.7 923.96 L175.95 924.24 L176.2 925.2 L176.45 924.41 L176.7 925.68 L176.95 927.08 L177.2 925.81 L177.45 926.71 L177.7 926.71 L177.95 926.5 L178.2 924.72 L178.45 924.97 L178.7 924.09 L178.95 924.95 L179.2 924.84 L179.45 924.39 L179.7 925.78 L179.95 925.78 L180.2 926.21 L180.45 926.8 L180.7 926.46 L180.95 926.41 L181.2 925.82 L181.45 926.22 L181.7 924.22 L181.95 925.15 L182.2 925.77 L182.45 924.81 L182.7 926.19 L182.95 927 L183.2 927.05 L183.45 927.47 L183.7 926.17 L183.95 927.04 L184.2 925.76 L184.45 925.09 L184.7 925 L184.95 923.94 L185.2 924.2 L185.45 924.69 L185.7 925.26 L185.95 925.83 L186.2 927.02 L186.45 927.57 L186.7 927.6 L186.95 925.4 L187.2 926.24 L187.45 925.58 L187.7 925.02 L187.95 924.12 L188.2 923.75 L188.45 924.17 L188.7 924.9 L188.95 926.91 L189.2 925.97 L189.45 925.81 L189.7 927.16 L189.95 926.06 L190.2 927.23 L190.45 925.62 L190.7 925.82 L190.95 924.52 L191.2 925.65 L191.45 925.2 L191.7 925.46 L191.95 925.41 L192.2 927.33 L192.45 925.76 L192.7 926.81 L192.95 925.99 L193.2 927.52 L193.45 925.54 L193.7 926.02 L193.95 924.41 L194.2 925.58 L194.45 924.23 L194.7 925.67 L194.95 924.59 L195.2 926.99 L195.45 926.58 L195.7 927.91 L195.95 927.31 L196.2 926.88 L196.45 925.73 L196.7 924.19 L196.95 925.29 L197.2 923.81 L197.45 925.01 L197.7 926.18 L197.95 925.1 L198.2 926.37 L198.45 925.99 L198.7 927.43 L198.95 925.81 L199.2 926.73 L199.45 926.93 L199.7 925.75 L199.95 926.02 L200.2 925.8 L200.45 924.45 L200.7 925.7 L200.95 926.45 L201.2 927.13 L201.45 926.7 L201.7 927.68 L201.95 926.12 L202.2 927.51 L202.45 926.54 L202.7 925.53 L202.95 925.78 L203.2 925.64 L203.45 925.07 L203.7 923.42 L203.95 924.6 L204.2 924.47 L204.45 925.47 L204.7 927.36 L204.95 926.46 L205.2 928.33 L205.45 927.76 L205.7 925.41 L205.95 926.13 L206.2 924.87 L206.45 925.73 L206.7 923.64 L206.95 925.58 L207.2 924.3 L207.45 927.23 L207.7 926.74 L207.95 927.46 L208.2 927.48 L208.45 927.32 L208.7 927.74 L208.95 924.92 L209.2 924.66 L209.45 924.31 L209.7 924.12 L209.95 924.39 L210.2 924.91 L210.45 926.91 L210.7 927.95 L210.95 925.78 L211.2 928.06 L211.45 927.06 L211.7 925.68 L211.95 927.48 L212.2 927.35 L212.45 926.2 L212.7 924.71 L212.95 924.06 L213.2 923.03 L213.45 926.11 L213.7 926.9 L213.95 925.96 L214.2 928.63 L214.45 926.48 L214.7 925.77 L214.95 926.31 L215.2 924.6 L215.45 924.59 L215.7 925.22 L215.95 923.14 L216.2 922.9 L216.45 922.47 L216.7 925.87 L216.95 926.28 L217.2 927.46 L217.45 925.7 L217.7 928.5 L217.95 928.8 L218.2 925.31 L218.45 924.41 L218.7 923.31 L218.95 924.65 L219.2 923.98 L219.45 923.65 L219.7 924.53 L219.95 926.54 L220.2 925.03 L220.45 925.53 L220.7 927.15 L220.95 928.15 L221.2 928 L221.45 928.03 L221.7 924.47 L221.95 926.31 L222.2 924.02 L222.45 922.78 L222.7 923.3 L222.95 926.08 L223.2 925.28 L223.45 925.15 L223.7 925.78 L223.95 927.78 L224.2 925.32 L224.45 924.25 L224.7 925.65 L224.95 925.27 L225.2 925.36 L225.45 922.52 L225.7 922.73 L225.95 925.92 L226.2 924.92 L226.45 927.46 L226.7 928.58 L226.95 926.68 L227.2 928.37 L227.45 925.5 L227.7 924.33 L227.95 923.4 L228.2 923.41 L228.45 924.19 L228.7 925.73 L228.95 923.67 L229.2 922.69 L229.45 927.92 L229.7 927.8 L229.95 928.68 L230.2 928.6 L230.45 926.97 L230.7 926.86 L230.95 925.61 L231.2 925.72 L231.45 924.26 L231.7 924.13 L231.95 924.5 L232.2 922.91 L232.45 926.39 L232.7 928.82 L232.95 927.97 L233.2 926.36 L233.45 927.23 L233.7 927.99 L233.95 925.19 L234.2 923.18 L234.45 922.49 L234.7 924.74 L234.95 925.68 L235.2 923.58 L235.45 925.53 L235.7 925.38 L235.95 925.26 L236.2 929.22 L236.45 925.8 L236.7 929.84 L236.95 928.83 L237.2 927.43 L237.45 923.1 L237.7 923.79 L237.95 925.55 L238.2 922.36 L238.45 925.01 L238.7 926.8 L238.95 925.85 L239.2 929.59 L239.45 929.72 L239.7 928.9 L239.95 927.01 L240.2 924.14 L240.45 925.22 L240.7 925.76 L240.95 922.21 L241.2 925.87 L241.45 923.98 L241.7 925.45 L241.95 928.03 L242.2 925.51 L242.45 929.2 L242.7 930.11 L242.95 927.97 L243.2 925.2 L243.45 923.15 L243.7 925.76 L243.95 925.4 L244.2 924.25 L244.45 923.47 L244.7 923.89 L244.95 927.54 L245.2 929.75 L245.45 928.06 L245.7 926.15 L245.95 929.4 L246.2 928.31 L246.45 924.98 L246.7 925.23 L246.95 925.38 L247.2 921.55 L247.45 925.93 L247.7 924.54 L247.95 926.67 L248.2 927.43 L248.45 928.57 L248.7 928.28 L248.95 929.85 L249.2 928.56 L249.45 927.21 L249.7 926.01 L249.95 923.96 L250.2 922.13 L250.45 924.91 L250.7 926.71 L250.95 926.83 L251.2 925.91 L251.45 926.02 L251.7 925.83 L251.95 926.51 L252.2 928.51 L252.45 922.38 L252.7 923.5 L252.95 926.07 L253.2 919.85 L253.45 920.05 L253.7 919.05 L253.95 923.25 L254.2 924.47 L254.45 927.58 L254.7 926.46 L254.95 929.99 L255.2 931.16 L255.45 926.92 L255.7 922.25 L255.95 927.46 L256.2 915.27 L256.45 920.02 L256.7 925.78 L256.95 920.98 L257.2 928.71 L257.45 936.01 L257.7 927.52 L257.95 936.2 L258.2 932.79 L258.45 924.6 L258.7 929.16 L258.95 919.26 L259.2 922.54 L259.45 917.23 L259.7 918.3 L259.95 918.87 L260.2 924.21 L260.45 931.31 L260.7 935.42 L260.95 933.38 L261.2 931.84 L261.45 927.27 L261.7 928.55 L261.95 925.52 L262.2 925.11 L262.45 925.58 L262.7 917.61 L262.95 915.37 L263.2 918.06 L263.45 928.36 L263.7 928.75 L263.95 928.14 L264.2 926.78 L264.45 934.88 L264.7 925.75 L264.95 922.59 L265.2 917.35 L265.45 915.87 L265.7 923.23 L265.95 915.15 L266.2 925.01 L266.45 929.32 L266.7 930.29 L266.95 928.32 L267.2 931.92 L267.45 927.76 L267.7 925.01 L267.95 926.44 L268.2 929.03 L268.45 927.31 L268.7 912.9 L268.95 924.41 L269.2 916.98 L269.45 914.9 L269.7 931.62 L269.95 928.77 L270.2 925.81 L270.45 930.59 L270.7 937.17 L270.95 936.96 L271.2 927.43 L271.45 929.23 L271.7 919.13 L271.95 925.44 L272.2 916.88 L272.45 916.69 L272.7 927.5 L272.95 922.83 L273.2 927 L273.45 931.42 L273.7 930.99 L273.95 930.62 L274.2 927.86 L274.45 927.25 L274.7 922.68 L274.95 924.86 L275.2 921.47 L275.45 926.46 L275.7 921.87 L275.95 928.18 L276.2 929.98 L276.45 927.59 L276.7 929.87 L276.95 930.43 L277.2 925.91 L277.45 926.97 L277.7 923.85 L277.95 922.81 L278.2 923.28 L278.45 921.5 L278.7 924.4 L278.95 927.71 L279.2 926.5 L279.45 929.59 L279.7 927.78 L279.95 927.6 L280.2 926.85 L280.45 928.17 L280.7 926.27 L280.95 923.59 L281.2 925.39 L281.45 922.83 L281.7 924.58 L281.95 926.19 L282.2 925.34 L282.45 926.08 L282.7 927.85 L282.95 928.12 L283.2 928.32 L283.45 926.93 L283.7 926.63 L283.95 926.87 L284.2 923.53 L284.45 924.8 L284.7 922.28 L284.95 926.29 L285.2 925.65 L285.45 927.08 L285.7 928.97 L285.95 926.87 L286.2 927 L286.45 928.73 L286.7 924.75 L286.95 926.2 L287.2 923.31 L287.45 922.69 L287.7 924.1 L287.95 923.16 L288.2 924.55 L288.45 924.32 L288.7 927.15 L288.95 927.04 L289.2 929.71 L289.45 927.04 L289.7 925.43 L289.95 926.33 L290.2 926.48 L290.45 923.78 L290.7 924.87 L290.95 923.52 L291.2 923.5 L291.45 923.52 L291.7 926.67 L291.95 927.61 L292.2 928.03 L292.45 926.2 L292.7 928.86 L292.95 925.28 L293.2 926.89 L293.45 925.06 L293.7 926.4 L293.95 923.17 L294.2 922.9 L294.45 925.9 L294.7 924.41 L294.95 926.52 L295.2 925.39 L295.45 926.57 L295.7 926.35 L295.95 925.65 L296.2 927.41 L296.45 925.57 L296.7 925.66 L296.95 925.61 L297.2 924.81 L297.45 925.69 L297.7 923.76 L297.95 924.61 L298.2 925.67 L298.45 926.86 L298.7 926.94 L298.95 926.64 L299.2 926.5 L299.45 925.28 L299.7 926.45 L299.95 925.4 L300.2 925.12 L300.45 924.72 L300.7 925.65 L300.95 925.1 L301.2 926.71 L301.45 925.82 L301.7 928.63 L301.95 926.36 L302.2 926.41 L302.45 926.55 L302.7 925.1 L302.95 925.58 L303.2 924.06 L303.45 925.12 L303.7 925.44 L303.95 926.27 L304.2 926.92 L304.45 925.6 L304.7 927.32 L304.95 926.68 L305.2 927.06 L305.45 925.82 L305.7 924.72 L305.95 925.55 L306.2 925.77 L306.45 925.62 L306.7 923.78 L306.95 924.52 L307.2 924.89 L307.45 925.72 L307.7 928.09 L307.95 928.01 L308.2 927.81 L308.45 927.37 L308.7 925 L308.95 924.48 L309.2 925.87 L309.45 924.75 L309.7 923.16 L309.95 925.43 L310.2 925.02 L310.45 926.52 L310.7 925.02 L310.95 926.9 L311.2 926.44 L311.45 928.48 L311.7 926.55 L311.95 925.62 L312.2 926.57 L312.45 923.48 L312.7 923.23 L312.95 924.98 L313.2 926.53 L313.45 925.86 L313.7 927.99 L313.95 928.35 L314.2 926.15 L314.45 926.86 L314.7 927.4 L314.95 925.97 L315.2 926.13 L315.45 923.23 L315.7 924.77 L315.95 923.85 L316.2 925.6 L316.45 926.83 L316.7 926.89 L316.95 927.69 L317.2 927.53 L317.45 927.14 L317.7 926.09 L317.95 925.24 L318.2 924.88 L318.45 924.85 L318.7 925.56 L318.95 924.72 L319.2 925.6 L319.45 925.5 L319.7 925.05 L319.95 928.17 L320.2 927.11 L320.45 928.37 L320.7 926.04 L320.95 925.12 L321.2 926.68 L321.45 923.88 L321.7 925.6 L321.95 924.69 L322.2 925 L322.45 924.91 L322.7 925.44 L322.95 925.9 L323.2 925.54 L323.45 928.29 L323.7 927.36 L323.95 926.52 L324.2 925.76 L324.45 926.62 L324.7 925.02 L324.95 924.15 L325.2 924.49 L325.45 924.22 L325.7 925.8 L325.95 925.82 L326.2 925.39 L326.45 928.64 L326.7 927.75 L326.95 928.19 L327.2 926.44 L327.45 924.16 L327.7 925.11 L327.95 924.63 L328.2 924.25 L328.45 924.89 L328.7 925.85 L328.95 925 L329.2 926.46 L329.45 927.33 L329.7 925.84 L329.95 925.62 L330.2 926.26 L330.45 925.17 L330.7 923.88 L330.95 924.18 L331.2 925.48 L331.45 923.28 L331.7 923.86 L331.95 925.3 L332.2 925.48 L332.45 926.27 L332.7 926.92 L332.95 926.44 L333.2 927.41 L333.45 925.66 L333.7 924.21 L333.95 924.98 L334.2 925.3 L334.45 925.02 L334.7 923.88 L334.95 925.35 L335.2 926.97 L335.45 927.37 L335.7 927.07 L335.95 926.4 L336.2 927.32 L336.45 925.59 L336.7 923.94 L336.95 923.32 L337.2 923.64 L337.45 923.19 L337.7 926.02 L337.95 924.45 L338.2 927.45 L338.45 926.33 L338.7 926.18 L338.95 927.99 L339.2 926.39 L339.45 927.41 L339.7 926.19 L339.95 925.3 L340.2 923.74 L340.45 924.11 L340.7 924.84 L340.95 926.31 L341.2 924.72 L341.45 927.96 L341.7 926.98 L341.95 927.17 L342.2 926.5 L342.45 926.22 L342.7 926.54 L342.95 924.08 L343.2 923.88 L343.45 925.76 L343.7 925.34 L343.95 923.67 L344.2 925.29 L344.45 925.51 L344.7 925.86 L344.95 927.21 L345.2 926.46 L345.45 928.23 L345.7 927.71 L345.95 925.8 L346.2 925.29 L346.45 923.1 L346.7 924.56 L346.95 923.73 L347.2 925.51 L347.45 926.59 L347.7 926.95 L347.95 925.86 L348.2 926.22 L348.45 928.49 L348.7 927.33 L348.95 926.45 L349.2 923.49 L349.45 923.75 L349.7 925.13 L349.95 926.02 L350.2 925.6 L350.45 926.75 L350.7 927.22 L350.95 925.82 L351.2 925.89 L351.45 927.84 L351.7 925.77 L351.95 926.43 L352.2 926.42 L352.45 925.13 L352.7 924.01 L352.95 924.5 L353.2 924.83 L353.45 924.78 L353.7 926.51 L353.95 927.18 L354.2 927.05 L354.45 928.66 L354.7 926.79 L354.95 927.1 L355.2 925.17 L355.45 923.88 L355.7 925.12 L355.95 924.08 L356.2 923.06 L356.45 925.67 L356.7 925.85 L356.95 925.43 L357.2 927.68 L357.45 927.98 L357.7 926.33 L357.95 927.99 L358.2 927.21 L358.45 923.87 L358.7 925.92 L358.95 925.29 L359.2 924.88 L359.45 924.31 L359.7 926.17 L359.95 925.81 L360.2 927.2 L360.45 926.18 L360.7 927.52 L360.95 926.49 L361.2 927.23 L361.45 925.11 L361.7 925.96 L361.95 925.11 L362.2 923.65 L362.45 923.61 L362.7 926 L362.95 927.02 L363.2 927.24 L363.45 927.82 L363.7 926.19 L363.95 926.75 L364.2 926.73 L364.45 924.97 L364.7 925.11 L364.95 924.46 L365.2 923.31 L365.45 924.91 L365.7 926.6 L365.95 926.92 L366.2 927.66 L366.45 927.01 L366.7 927.67 L366.95 926.43 L367.2 925.33 L367.45 926.07 L367.7 923.75 L367.95 924.24 L368.2 922.77 L368.45 925.13 L368.7 924.63 L368.95 926.67 L369.2 925.6 L369.45 925.92 L369.7 927.31 L369.95 925.87 L370.2 927.51 L370.45 924.93 L370.7 926.72 L370.95 923.87 L371.2 924.74 L371.45 924.85 L371.7 925.13 L371.95 924.04 L372.2 924.51 L372.45 926.48 L372.7 926.14 L372.95 925.8 L373.2 925.3 L373.45 927.12 L373.7 924.7 L373.95 923.19 L374.2 924.97 L374.45 925.24 L374.7 923.31 L374.95 926.17 L375.2 925.36 L375.45 927 L375.7 927.89 L375.95 927.56 L376.2 925.72 L376.45 925.21 L376.7 926.32 L376.95 925.63 L377.2 924.39 L377.45 923.11 L377.7 923.82 L377.95 923.23 L378.2 925.04 L378.45 924.88 L378.7 927.23 L378.95 926.57 L379.2 928.45 L379.45 926.39 L379.7 927.55 L379.95 924.45 L380.2 925.84 L380.45 925.39 L380.7 923.81 L380.95 923 L381.2 925.89 L381.45 926.21 L381.7 926.1 L381.95 928.89 L382.2 929.18 L382.45 927.35 L382.7 928.06 L382.95 924.37 L383.2 926.2 L383.45 924.21 L383.7 923.77 L383.95 923.94 L384.2 924.25 L384.45 924.88 L384.7 925.3 L384.95 928.6 L385.2 928.9 L385.45 927.24 L385.7 927.28 L385.95 926.51 L386.2 926.22 L386.45 925.43 L386.7 925.63 L386.95 923.28 L387.2 925.21 L387.45 925.77 L387.7 927.85 L387.95 926.92 L388.2 927.21 L388.45 929.2 L388.7 927.24 L388.95 926.45 L389.2 926.1 L389.45 924.3 L389.7 923.65 L389.95 925.64 L390.2 924.75 L390.45 924.64 L390.7 924.47 L390.95 927.94 L391.2 927.37 L391.45 929.26 L391.7 926.23 L391.95 928.08 L392.2 926.28 L392.45 925.86 L392.7 924.01 L392.95 923.45 L393.2 923.84 L393.45 925.48 L393.7 924.7 L393.95 926.61 L394.2 927.95 L394.45 927.76 L394.7 925.96 L394.95 927.56 L395.2 926.89 L395.45 925.26 L395.7 924.26 L395.95 922.81 L396.2 922.1 L396.45 923.8 L396.7 923.64 L396.95 925.63 L397.2 924.63 L397.45 927.22 L397.7 928.43 L397.95 928.99 L398.2 926.65 L398.45 926.79 L398.7 925.45 L398.95 924.01 L399.2 924.06 L399.45 924.79 L399.7 922.36 L399.95 924.19 L400.2 924.33 L400.45 925.34 L400.7 928.52 L400.95 928.49 L401.2 928.59 L401.45 928.48 L401.7 924.4 L401.95 923.85 L402.2 925.46 L402.45 923.56 L402.7 924.56 L402.95 926.07 L403.2 923.92 L403.45 926.08 L403.7 927.83 L403.95 926.98 L404.2 926.51 L404.45 928.16 L404.7 924.33 L404.95 927.04 L405.2 925.91 L405.45 924.27 L405.7 924.71 L405.95 925.51 L406.2 925.22 L406.45 927.25 L406.7 928.08 L406.95 925.98 L407.2 926.27 L407.45 929.32 L407.7 928.54 L407.95 926.25 L408.2 926.8 L408.45 926.27 L408.7 924.76 L408.95 923.23 L409.2 923.96 L409.45 924.72 L409.7 924.38 L409.95 927.99 L410.2 926.92 L410.45 928.35 L410.7 929.44 L410.95 927.92 L411.2 925.11 L411.45 925.85 L411.7 922.54 L411.95 923.34 L412.2 924.52 L412.45 925.98 L412.7 924.84 L412.95 925.66 L413.2 929.49 L413.45 925.89 L413.7 926.7 L413.95 929.34 L414.2 924.23 L414.45 926.07 L414.7 925.43 L414.95 922.52 L415.2 923.46 L415.45 924.53 L415.7 926.99 L415.95 925.78 L416.2 927.63 L416.45 928.33 L416.7 928.49 L416.95 925.93 L417.2 925.28 L417.45 927.63 L417.7 923.66 L417.95 923.2 L418.2 922.86 L418.45 925.86 L418.7 923.26 L418.95 924.84 L419.2 926.18 L419.45 926.3 L419.7 929.26 L419.95 928.12 L420.2 927.47 L420.45 925.71 L420.7 925.46 L420.95 924.54 L421.2 922.8 L421.45 923.46 L421.7 923.29 L421.95 925.34 L422.2 928.21 L422.45 925.94 L422.7 927.56 L422.95 927.17 L423.2 928.84 L423.45 926.57 L423.7 923.3 L423.95 922.61 L424.2 923.18 L424.45 923.56 L424.7 925.36 L424.95 927.29 L425.2 926.23 L425.45 927.18 L425.7 929.16 L425.95 928.19 L426.2 929.05 L426.45 924.89 L426.7 927.06 L426.95 925.47 L427.2 924.93 L427.45 922.57 L427.7 925.71 L427.95 923.19 L428.2 924.48 L428.45 927.83 L428.7 926.13 L428.95 929.17 L429.2 927.64 L429.45 926.32 L429.7 925.07 L429.95 923.26 L430.2 921.82 L430.45 923.93 L430.7 922.19 L430.95 922.61 L431.2 923.31 L431.45 927.84 L431.7 926.94 L431.95 928.78 L432.2 927.56 L432.45 928.59 L432.7 926.57 L432.95 924.12 L433.2 924.15 L433.45 923.8 L433.7 925.21 L433.95 922.82 L434.2 923.84 L434.45 923.31 L434.7 924.59 L434.95 928.35 L435.2 930.24 L435.45 929.97 L435.7 925.32 L435.95 923.34 L436.2 925.54 L436.45 925.06 L436.7 922.23 L436.95 924 L437.2 923.91 L437.45 926.15 L437.7 929.41 L437.95 929.17 L438.2 928.65 L438.45 929.99 L438.7 925.38 L438.95 925 L439.2 927 L439.45 924.08 L439.7 923.34 L439.95 923.36 L440.2 923.2 L440.45 925.5 L440.7 925.84 L440.95 927.15 L441.2 930.55 L441.45 929.43 L441.7 926.84 L441.95 924.22 L442.2 924.05 L442.45 921.67 L442.7 922.51 L442.95 924.59 L443.2 924.82 L443.45 926.29 L443.7 928.21 L443.95 929 L444.2 926.15 L444.45 930.49 L444.7 928.9 L444.95 925.15 L445.2 924.1 L445.45 926.34 L445.7 921.56 L445.95 922.62 L446.2 921.12 L446.45 923.39 L446.7 926.37 L446.95 927.62 L447.2 926.23 L447.45 928.99 L447.7 926.56 L447.95 926.39 L448.2 929.03 L448.45 923.36 L448.7 926.4 L448.95 922.37 L449.2 921.15 L449.45 924.64 L449.7 926.46 L449.95 927.07 L450.2 925.59 L450.45 929.6 L450.7 928.61 L450.95 929.21 L451.2 926.2 L451.45 924.24 L451.7 923.61 L451.95 920.37 L452.2 921.19 L452.45 922.59 L452.7 927.65 L452.95 927.78 L453.2 925.37 L453.45 928.13 L453.7 930.91 L453.95 925.89 L454.2 924.89 L454.45 922.76 L454.7 924.59 L454.95 920.59 L455.2 921.71 L455.45 925.38 L455.7 922.68 L455.95 924.91 L456.2 927.94 L456.45 926.25 L456.7 926.65 L456.95 929.16 L457.2 925.56 L457.45 927.9 L457.7 921.76 L457.95 925.93 L458.2 924.93 L458.45 920.92 L458.7 922.99 L458.95 927.24 L459.2 929.21 L459.45 927.5 L459.7 926.73 L459.95 930.1 L460.2 926.71 L460.45 924.34 L460.7 927.33 L460.95 925.21 L461.2 920.4 L461.45 922.39 L461.7 922.18 L461.95 927.98 L462.2 927.37 L462.45 929.81 L462.7 928.18 L462.95 929.92 L463.2 927.06 L463.45 925.8 L463.7 924.48 L463.95 923.15 L464.2 920.92 L464.45 923.98 L464.7 924.13 L464.95 925 L465.2 928.33 L465.45 925.63 L465.7 927.5 L465.95 931.03 L466.2 930.66 L466.45 927.71 L466.7 926.98 L466.95 922.86 L467.2 920.72 L467.45 923.62 L467.7 922.57 L467.95 925.2 L468.2 926.1 L468.45 929.47 L468.7 927.13 L468.95 929.56 L469.2 925.72 L469.45 929.29 L469.7 927.15 L469.95 922.9 L470.2 922.71 L470.45 922.26 L470.7 925.57 L470.95 922.52 L471.2 924.42 L471.45 927.19 L471.7 926.03 L471.95 926.5 L472.2 931.38 L472.45 925.71 L472.7 929.09 L472.95 926.9 L473.2 925.9 L473.45 921.08 L473.7 925.85 L473.95 926.95 L474.2 922.96 L474.45 926.78 L474.7 927.86 L474.95 927.32 L475.2 927.54 L475.45 920.74 L475.7 926.59 L475.95 900 L476.2 930 L476.45 921.69 L476.7 925.65 L476.95 921.79 L477.2 927.16 L477.45 923.81 L477.7 924.97 L477.95 926.52 L478.2 930.29 L478.45 927.81 L478.7 927.93 L478.95 926.2 L479.2 923.45 L479.45 921.97 L479.7 920.4 L479.95 921.84 L480.2 923.19 L480.45 928.39 L480.7 928.67 L480.95 927.06 L481.2 927.57 L481.45 930.15 L481.7 926.85 L481.95 925.94 L482.2 921.77 L482.45 920.57 L482.7 923.08 L482.95 924.68 L483.2 924.53 L483.45 925.73 L483.7 928.98 L483.95 929.57 L484.2 927.46 L484.45 929.38 L484.7 927.75 L484.95 929.02 L485.2 923.87 L485.45 921.73 L485.7 925.37 L485.95 919.85 L486.2 925.02 L486.45 922.14 L486.7 924.17 L486.95 925.01 L487.2 928.92 L487.45 928.83 L487.7 926.82 L487.95 927.71 L488.2 928.14 L488.45 927.05 L488.7 921.21 L488.95 925.83 L489.2 921.58 L489.45 923.04 L489.7 925.83 L489.95 927.16 L490.2 929.63 L490.45 931.6 L490.7 926.23 L490.95 930.69 L491.2 926.94 L491.45 923.2 L491.7 922.5 L491.95 922.66 L492.2 924.21 L492.45 926.73 L492.7 923.42 L492.95 928.7 L493.2 931.17 L493.45 926.95 L493.7 928.86 L493.95 925.42 L494.2 925.08 L494.45 923.15 L494.7 922.33 L494.95 922.41 L495.2 922.22 L495.45 923.93 L495.7 925.2 L495.95 927.65 L496.2 925.93 L496.45 929.16 L496.7 925.71 L496.95 927.16 L497.2 927.34 L497.45 925.14 L497.7 923.98 L497.95 920.84 L498.2 925.24 L498.45 922.63 L498.7 921.52 L498.95 925.28 L499.2 927.91 L499.45 931.37 L499.7 927.63 L499.95 926.33 L500.2 927.24 L500.45 926.31 L500.7 927.34 L500.95 924.16 L501.2 921.62 L501.45 924.65 L501.7 922.1 L501.95 927.72 L502.2 925.95 L502.45 929.02 L502.7 928.79 L502.95 928.34 L503.2 927.13 L503.45 929.29 L503.7 923.41 L503.95 924.36 L504.2 920.62 L504.45 920.74 L504.7 920.28 L504.95 922.73 L505.2 924.9 L505.45 930.04 L505.7 927.25 L505.95 930.28 L506.2 928.85 L506.45 929.58 L506.7 927.89 L506.95 923.05 L507.2 925.12 L507.45 922.12 L507.7 920.74 L507.95 922.65 L508.2 928.73 L508.45 928.19 L508.7 928.45 L508.95 926.85 L509.2 929.05 L509.45 930.65 L509.7 929.32 L509.95 926.43 L510.2 925.36 L510.45 922.97 L510.7 921.33 L510.95 926.73 L511.2 927.02 L511.45 929.41 L511.7 925.85 L511.95 931.24 L512.2 930.18 L512.45 927.85 L512.7 923.38 L512.95 926.52 L513.2 926.13 L513.45 921.66 L513.7 927.09 L513.95 905 L514.2 932 L514.45 922.3 L514.7 925.83 L514.95 925.64 L515.2 929.6 L515.45 928.45 L515.7 928.83 L515.95 926.01 L516.2 924.76 L516.45 923.68 L516.7 922.01 L516.95 924.53 L517.2 925.7 L517.45 924.23 L517.7 928.23 L517.95 927.52 L518.2 926.26 L518.45 925.05 L518.7 929.58 L518.95 923.11 L519.2 926.36 L519.45 925.38 L519.7 920.38 L519.95 920.22 L520.2 925.81 L520.45 924.31 L520.7 924.62 L520.95 926.82 L521.2 930.65 L521.45 925.89 L521.7 929.7 L521.95 922.26 L522.2 920.45 L522.45 922.69 L522.7 922.82 L522.95 924.88 L523.2 926.36 L523.45 923.88 L523.7 929.3 L523.95 928.82 L524.2 930.1 L524.45 926.06 L524.7 928.59 L524.95 927.43 L525.2 925.21 L525.45 924.74 L525.7 921.29 L525.95 921.09 L526.2 924.15 L526.45 923.95 L526.7 926.28 L526.95 929.37 L527.2 927.23 L527.45 930.93 L527.7 924.93 L527.95 924.69 L528.2 927.14 L528.45 923.18 L528.7 920.31 L528.95 923.21 L529.2 926.36 L529.45 926.12 L529.7 925.08 L529.95 928.41 L530.2 931.41 L530.45 931.76 L530.7 930.94 L530.95 926.54 L531.2 923.87 L531.45 920.65 L531.7 919.77 L531.95 919.66 L532.2 923.45 L532.45 925.27 L532.7 924.38 L532.95 925.84 L533.2 930.82 L533.45 927.59 L533.7 929.86 L533.95 929.91 L534.2 928.4 L534.45 923.43 L534.7 922.61 L534.95 920.41 L535.2 920.42 L535.45 924.15 L535.7 927.81 L535.95 925.53 L536.2 928.84 L536.45 929.42 L536.7 925.81 L536.95 927.03 L537.2 928.72 L537.45 927.02 L537.7 924.5 L537.95 920.88 L538.2 920.06 L538.45 922.79 L538.7 923.5 L538.95 925.97 L539.2 924.66 L539.45 929.19 L539.7 930.74 L539.95 929.92 L540.2 930.77 L540.45 923.17 L540.7 927.77 L540.95 924.97 L541.2 924.34 L541.45 921.55 L541.7 923.81 L541.95 922.47 L542.2 929.57 L542.45 930.06 L542.7 931.41 L542.95 926.66 L543.2 925.83 L543.45 929.95 L543.7 922.38 L543.95 920.73 L544.2 923.38 L544.45 924.23 L544.7 920.31 L544.95 924.07 L545.2 928.08 L545.45 923.96 L545.7 928.2 L545.95 931.52 L546.2 931.67 L546.45 928.92 L546.7 925.06 L546.95 923.26 L547.2 921.58 L547.45 920.59 L547.7 923.11 L547.95 925.44 L548.2 928 L548.45 923.7 L548.7 925.02 L548.95 929 L549.2 927.33 L549.45 930.22 L549.7 926.12 L549.95 924.7 L550.2 920.03 L550.45 925.94 L550.7 923.64 L550.95 921.31 L551.2 923.19 L551.45 927.32 L551.7 930.47 L551.95 931.24 L552.2 930.24 L552.45 930.14 L552.7 929.95 L552.95 922.84 L553.2 927.42 L553.45 924.22 L553.7 920.05 L553.95 923.52 L554.2 923.8 L554.45 926.22 L554.7 928.06 L554.95 927.34 L555.2 926.21 L555.45 929.6 L555.7 926.31 L555.95 923.67 L556.2 922.79 L556.45 922.61 L556.7 922.36 L556.95 925.55 L557.2 919.69 L557.45 927.04 L557.7 928.97 L557.95 931.49 L558.2 931.05 L558.45 927.2 L558.7 930.43 L558.95 928.02 L559.2 925.74 L559.45 923.19 L559.7 924.25 L559.95 922.35 L560.2 920.59 L560.45 921.76 L560.7 926.96 L560.95 927.15 L561.2 928.38 L561.45 931.15 L561.7 930.72 L561.95 925.45 L562.2 927.83 L562.45 925.11 L562.7 921.95 L562.95 926.11 L563.2 923.72 L563.45 920.29 L563.7 922.14 L563.95 925.95 L564.2 927.99 L564.45 925.61 L564.7 927.6 L564.95 928.61 L565.2 931.67 L565.45 926.83 L565.7 921.68 L565.95 923.76 L566.2 925.36 L566.45 924.96 L566.7 926.56 L566.95 925.13 L567.2 928.17 L567.45 925.96 L567.7 931.6 L567.95 930.2 L568.2 930.04 L568.45 923.77 L568.7 924.58 L568.95 921.39 L569.2 924.58 L569.45 922.74 L569.7 925.83 L569.95 923.16 L570.2 927.31 L570.45 926.57 L570.7 930.46 L570.95 931.89 L571.2 925.71 L571.45 925.5 L571.7 922.27 L571.95 925.37 L572.2 925.72 L572.45 923.96 L572.7 922.26 L572.95 926.67 L573.2 927.89 L573.45 926.63 L573.7 926.77 L573.95 927.34 L574.2 932.25 L574.45 927.66 L574.7 923.33 L574.95 926.75 L575.2 920.51 L575.45 922.22 L575.7 924.55 L575.95 923.59 L576.2 924.06 L576.45 928 L576.7 927.97 L576.95 927.34 L577.2 926.01 L577.45 928.96 L577.7 926.55 L577.95 921.83 L578.2 925.28 L578.45 925.65 L578.7 919.26 L578.95 922.55 L579.2 927.63 L579.45 924.07 L579.7 926.43 L579.95 928.13 L580.2 928.44 L580.45 928.85 L580.7 928.26 L580.95 928.44 L581.2 923.01 L581.45 922.25 L581.7 921.5 L581.95 925.44 L582.2 926.68 L582.45 925.3 L582.7 924.44 L582.95 929.74 L583.2 929.71 L583.45 930.25 L583.7 928.14 L583.95 925.29 L584.2 922.24 L584.45 920.46 L584.7 922.03 L584.95 920.81 L585.2 925.7 L585.45 923.49 L585.7 924.98 L585.95 929.43 L586.2 928.57 L586.45 931.69 L586.7 927.25 L586.95 923.62 L587.2 925.17 L587.45 920.73 L587.7 924 L587.95 923.9 L588.2 923.41 L588.45 924.38 L588.7 926.37 L588.95 926.71 L589.2 926.37 L589.45 928.46 L589.7 926.04 L589.95 929.52 L590.2 927.64 L590.45 921.33 L590.7 924.79 L590.95 923.79 L591.2 920.71 L591.45 925.66 L591.7 926.6 L591.95 926.95 L592.2 925.4 L592.45 929.39 L592.7 930.16 L592.95 926.45 L593.2 928.73 L593.45 923.83 L593.7 924.26 L593.95 924.15 L594.2 921.56 L594.45 920.94 L594.7 922.58 L594.95 929.41 L595.2 930.76 L595.45 931.83 L595.7 932.16 L595.95 929.66 L596.2 929.2 L596.45 926.5 L596.7 922.47 L596.95 923.01 L597.2 921.39 L597.45 923.34 L597.7 925.16 L597.95 924.27 L598.2 929.12 L598.45 925.29 L598.7 931.84 L598.95 931.93 L599.2 927.65 L599.45 924.04 L599.7 923.47 L599.95 925.21 L600.2 920.68 L600.45 925.76 L600.7 920.41 L600.95 922.43 L601.2 923.22 L601.45 925.46 L601.7 931.35 L601.95 929.34 L602.2 928.96 L602.45 928.36 L602.7 925.44 L602.95 926.02 L603.2 924.85 L603.45 925.09 L603.7 925.71 L603.95 921.36 L604.2 927.97 L604.45 929.75 L604.7 926.81 L604.95 925.85 L605.2 925.96 L605.45 928.7 L605.7 927.17 L605.95 922.41 L606.2 920.58 L606.45 925.57 L606.7 924.03 L606.95 920.25 L607.2 925.39 L607.45 925.33 L607.7 930.13 L607.95 926.66 L608.2 931.48 L608.45 925.8 L608.7 929.94 L608.95 926.18 L609.2 922.47 L609.45 925.09 L609.7 922.44 L609.95 923.23 L610.2 920.28 L610.45 925.01 L610.7 924.97 L610.95 926.36 L611.2 926.49 L611.45 928.58 L611.7 925.37 L611.95 924.29 L612.2 924.85 L612.45 927.73 L612.7 923.4 L612.95 922.82 L613.2 925.33 L613.45 922.86 L613.7 922.95 L613.95 927.25 L614.2 928.69 L614.45 927.81 L614.7 928.54 L614.95 926.71 L615.2 925.51 L615.45 926.32 L615.7 922.46 L615.95 920.26 L616.2 921.74 L616.45 922.9 L616.7 922.08 L616.95 926.28 L617.2 926.85 L617.45 929.62 L617.7 929.75 L617.95 928.23 L618.2 929.15 L618.45 924.32 L618.7 925.22 L618.95 920.52 L619.2 922.21 L619.45 922.81 L619.7 927.68 L619.95 924.79 L620.2 928.17 L620.45 931.51 L620.7 926.57 L620.95 930.55 L621.2 928.42 L621.45 924.32 L621.7 926.17 L621.95 924.28 L622.2 925.81 L622.45 924.37 L622.7 926.17 L622.95 926.71 L623.2 925.58 L623.45 925.62 L623.7 928.24 L623.95 929.55 L624.2 926.11 L624.45 928.26 L624.7 927.23 L624.95 922.33 L625.2 922.45 L625.45 924.36 L625.7 927.25 L625.95 926.13 L626.2 929.33 L626.45 925.75 L626.7 929.33 L626.95 928.9 L627.2 927.63 L627.45 926.46 L627.7 926.55 L627.95 922.84 L628.2 922.81 L628.45 922.81 L628.7 923.39 L628.95 927.49 L629.2 926.49 L629.45 930.03 L629.7 930.42 L629.95 931.52 L630.2 926.55 L630.45 929.13 L630.7 927.58 L630.95 924.16 L631.2 922.58 L631.45 922.01 L631.7 922.58 L631.95 923.24 L632.2 924.44 L632.45 929.6 L632.7 926.12 L632.95 926.34 L633.2 931.37 L633.45 927.5 L633.7 926.45 L633.95 923.96 L634.2 925.68 L634.45 920.15 L634.7 924.81 L634.95 923.59 L635.2 923.27 L635.45 925.61 L635.7 929.2 L635.95 929.09 L636.2 926.28 L636.45 927.22 L636.7 923.46 L636.95 923.22 L637.2 921.33 L637.45 920.27 L637.7 923.54 L637.95 921.23 L638.2 923.91 L638.45 924.07 L638.7 927.19 L638.95 928.64 L639.2 927.4 L639.45 929.04 L639.7 926.18 L639.95 926.45 L640.2 924.39 L640.45 921.84 L640.7 920.81 L640.95 924.56 L641.2 921.24 L641.45 925.38 L641.7 924.22 L641.95 927.07 L642.2 929.13 L642.45 928.45 L642.7 930.65 L642.95 928.95 L643.2 923.52 L643.45 923.82 L643.7 920.33 L643.95 925.79 L644.2 925.14 L644.45 927.48 L644.7 928.5 L644.95 927.15 L645.2 926.25 L645.45 931.47 L645.7 925.54 L645.95 927.98 L646.2 926.83 L646.45 922.96 L646.7 921.17 L646.95 919.97 L647.2 923.44 L647.45 924.4 L647.7 925 L647.95 929.13 L648.2 931.21 L648.45 928.98 L648.7 929.08 L648.95 926.6 L649.2 928.89 L649.45 924.32 L649.7 926.08 L649.95 920.6 L650.2 920.59 L650.45 921.79 L650.7 925.93 L650.95 924.98 L651.2 928.86 L651.45 931.39 L651.7 928.81 L651.95 929.16 L652.2 927.62 L652.45 924.82 L652.7 921.75 L652.95 921.53 L653.2 920.57 L653.45 921.93 L653.7 922.52 L653.95 926.97 L654.2 928.85 L654.45 928.06 L654.7 927.76 L654.95 925.98 L655.2 926.57 L655.45 926.88 L655.7 925.54 L655.95 924.33 L656.2 922.04 L656.45 923.04 L656.7 922.9 L656.95 925.88 L657.2 924.81 L657.45 927.97 L657.7 927.54 L657.95 929.71 L658.2 930.75 L658.45 929.12 L658.7 927.35 L658.95 925.08 L659.2 924.44 L659.45 922.33 L659.7 925.31 L659.95 923.03 L660.2 925.45 L660.45 929.01 L660.7 925.83 L660.95 930.5 L661.2 926.73 L661.45 926.19 L661.7 927.44 L661.95 925.9 L662.2 924.19 L662.45 925.1 L662.7 921.72 L662.95 923.26 L663.2 923.99 L663.45 924.88 L663.7 929.86 L663.95 927.96 L664.2 930.13 L664.45 926.6 L664.7 926.8 L664.95 922.19 L665.2 924.29 L665.45 920.4 L665.7 925.96 L665.95 925.08 L666.2 924.5 L666.45 924.95 L666.7 928.27 L666.95 926.23 L667.2 930.85 L667.45 925.62 L667.7 926.22 L667.95 925.81 L668.2 921.51 L668.45 923.53 L668.7 924.76 L668.95 924.49 L669.2 926.68 L669.45 927.8 L669.7 928.67 L669.95 925.53 L670.2 929.54 L670.45 929.03 L670.7 926.82 L670.95 928.56 L671.2 925.52 L671.45 925.43 L671.7 923.8 L671.95 925.84 L672.2 925.56 L672.45 926.13 L672.7 924.63 L672.95 926.03 L673.2 930.06 L673.45 930.37 L673.7 926.92 L673.95 925.13 L674.2 922.86 L674.45 921.08 L674.7 922.4 L674.95 921.44 L675.2 924.95 L675.45 922.63 L675.7 925.98 L675.95 926.02 L676.2 930.76 L676.45 926.31 L676.7 930.46 L676.95 928.81 L677.2 925.95 L677.45 923.98 L677.7 923.65 L677.95 925.82 L678.2 921.64 L678.45 923.83 L678.7 926.66 L678.95 925.44 L679.2 928.14 L679.45 930.68 L679.7 926.38 L679.95 927.98 L680.2 926.58 L680.45 922.83 L680.7 925.79 L680.95 922.28 L681.2 921.2 L681.45 925.06 L681.7 928.03 L681.95 928.41 L682.2 927.01 L682.45 926.51 L682.7 928.84 L682.95 926.31 L683.2 923.4 L683.45 922.25 L683.7 925.38 L683.95 923.34 L684.2 923.53 L684.45 924.56 L684.7 927.38 L684.95 926.78 L685.2 926.91 L685.45 928.78 L685.7 927.22 L685.95 925.98 L686.2 924.41 L686.45 926.48 L686.7 924.95 L686.95 922.2 L687.2 921.64 L687.45 925.2 L687.7 927.61 L687.95 927.72 L688.2 930.23 L688.45 928.54 L688.7 926.87 L688.95 929.28 L689.2 926.57 L689.45 926.94 L689.7 923.08 L689.95 924.21 L690.2 924.32 L690.45 925.36 L690.7 925.89 L690.95 927.45 L691.2 929.05 L691.45 928.75 L691.7 930.4 L691.95 929.07 L692.2 926.25 L692.45 926.22 L692.7 922.79 L692.95 921.21 L693.2 921.15 L693.45 924.11 L693.7 925.71 L693.95 922.86 L694.2 928.57 L694.45 926.88 L694.7 926.61 L694.95 928.62 L695.2 926.46 L695.45 926.13 L695.7 925.98 L695.95 922.47 L696.2 922.26 L696.45 925.26 L696.7 921.91 L696.95 927.13 L697.2 923.35 L697.45 925.96 L697.7 929.87 L697.95 929.47 L698.2 929.33 L698.45 927.59 L698.7 926.7 L698.95 922.48 L699.2 923.97 L699.45 921.57 L699.7 924.56 L699.95 922.09 L700.2 923.01 L700.45 925.18 L700.7 929.25 L700.95 926.59 L701.2 926.03 L701.45 926.02 L701.7 927.14 L701.95 923.8 L702.2 924.04 L702.45 921.07 L702.7 924.24 L702.95 920.85 L703.2 925.96 L703.45 924.98 L703.7 927.41 L703.95 930.31 L704.2 929.33 L704.45 928.36 L704.7 929.37 L704.95 926.36 L705.2 925.5 L705.45 926.27 L705.7 921.47 L705.95 924.72 L706.2 925.47 L706.45 926.54 L706.7 926.52 L706.95 926.07 L707.2 927.77 L707.45 926.58 L707.7 925.39 L707.95 927.52 L708.2 926.41 L708.45 924.8 L708.7 923.13 L708.95 922.03 L709.2 925.94 L709.45 927.4 L709.7 926.56 L709.95 929.55 L710.2 925.77 L710.45 930.15 L710.7 928.55 L710.95 927.46 L711.2 924.83 L711.45 926.14 L711.7 922.74 L711.95 925.59 L712.2 926.11 L712.45 926.45 L712.7 924.94 L712.95 925.99 L713.2 925.85 L713.45 927.46 L713.7 926.97 L713.95 925.42 L714.2 927.89 L714.45 922.28 L714.7 925.78 L714.95 921.45 L715.2 922.2 L715.45 926.73 L715.7 927.55 L715.95 924.48 L716.2 928.01 L716.45 928.43 L716.7 926.91 L716.95 926.04 L717.2 928.69 L717.45 924.2 L717.7 926.16 L717.95 922.42 L718.2 925.63 L718.45 923.34 L718.7 925.77 L718.95 924.51 L719.2 929.29 L719.45 925.97 L719.7 928.57 L719.95 926.08 L720.2 926.13 L720.45 925.29 L720.7 925.76 L720.95 923.58 L721.2 922.48 L721.45 924.47 L721.7 925.94 L721.95 924.05 L722.2 928.39 L722.45 928.03 L722.7 928.71 L722.95 929.61" stroke="#30c8f8" stroke-width="0.55" fill="none" stroke-linejoin="round"/>
<path d="M38.2 926.66 L38.45 924.36 L38.7 928.07 L38.95 927.46 L39.2 926.57 L39.45 924.86 L39.7 927.58 L39.95 928.1 L40.2 924.13 L40.45 923.79 L40.7 924.67 L40.95 923.83 L41.2 926.91 L41.45 924.85 L41.7 927.05 L41.95 928.23 L42.2 928.09 L42.45 923.5 L42.7 924.77 L42.95 923.53 L43.2 926.67 L43.45 924.05 L43.7 926.55 L43.95 923.91 L44.2 926.7 L44.45 923.3 L44.7 927.38 L44.95 926.61 L45.2 923.89 L45.45 928.04 L45.7 927.76 L45.95 924.86 L46.2 924.45 L46.45 924.5 L46.7 923.11 L46.95 926.66 L47.2 928.3 L47.45 923.74 L47.7 924.75 L47.95 924.16 L48.2 927.31 L48.45 927.88 L48.7 927.47 L48.95 923.15 L49.2 927.59 L49.45 927.52 L49.7 927.07 L49.95 928.07 L50.2 928.2 L50.45 927.65 L50.7 927.43 L50.95 923.6 L51.2 926.74 L51.45 923.86 L51.7 926.95 L51.95 926.98 L52.2 924.73 L52.45 926.66 L52.7 927.81 L52.95 923.13 L53.2 924.38 L53.45 924.63 L53.7 928.11 L53.95 923.15 L54.2 923.87 L54.45 924.13 L54.7 927.5 L54.95 926.9 L55.2 924.3 L55.45 923.52 L55.7 926.57 L55.95 924.79 L56.2 924.37 L56.45 924.74 L56.7 927.95 L56.95 923.9 L57.2 927.22 L57.45 923.61 L57.7 927.12 L57.95 928.26 L58.2 928.28 L58.45 927.56 L58.7 927.55 L58.95 924.24 L59.2 927.96 L59.45 923.37 L59.7 926.99 L59.95 924.16 L60.2 927.99 L60.45 923.71 L60.7 928.23 L60.95 924.33 L61.2 927.09 L61.45 923.53 L61.7 926.76 L61.95 924.19 L62.2 924.31 L62.45 926.5 L62.7 927.85 L62.95 927.33 L63.2 927.7 L63.45 924 L63.7 927.73 L63.95 923.15 L64.2 926.81 L64.45 923.35 L64.7 926.51 L64.95 927.58 L65.2 923.38 L65.45 923.63 L65.7 923.45 L65.95 924.5 L66.2 928.09 L66.45 927.69 L66.7 924.47 L66.95 924.68 L67.2 924.52 L67.45 923.69 L67.7 924.12 L67.95 923.75 L68.2 924.02 L68.45 924.71 L68.7 926.66 L68.95 923.21 L69.2 923.99 L69.45 923.24 L69.7 927.71 L69.95 924.55 L70.2 927.67 L70.45 924.7 L70.7 926.98 L70.95 927.4 L71.2 928 L71.45 923.34 L71.7 926.67 L71.95 923.32 L72.2 927.06 L72.45 924.6 L72.7 926.92 L72.95 923.5 L73.2 924.62 L73.45 924.55 L73.7 928.04 L73.95 923.19 L74.2 926.94 L74.45 927.43 L74.7 927.16 L74.95 923.36 L75.2 924.73 L75.45 924.79 L75.7 924.24 L75.95 924.21 L76.2 923.69 L76.45 924.56 L76.7 923.4 L76.95 924.88 L77.2 926.93 L77.45 928.13 L77.7 927.43 L77.95 924.89 L78.2 927.1 L78.45 924.38 L78.7 926.79 L78.95 927.05 L79.2 928.14 L79.45 923.81 L79.7 926.52 L79.95 923.57 L80.2 924.65 L80.45 924.52 L80.7 927.77 L80.95 927.68 L81.2 926.9 L81.45 923.98 L81.7 927.61 L81.95 923.96 L82.2 926.91 L82.45 924.92 L82.7 926.62 L82.95 924.18 L83.2 924.48 L83.45 924.36 L83.7 926.55 L83.95 923.69 L84.2 927.2 L84.45 927.66 L84.7 924.16 L84.95 924.28 L85.2 927.65 L85.45 923.83 L85.7 928.06 L85.95 924.65 L86.2 924.28 L86.45 928.16 L86.7 927.17 L86.95 928.11 L87.2 926.97 L87.45 923.75 L87.7 923.66 L87.95 924.31 L88.2 924.21 L88.45 927.86 L88.7 927.25 L88.95 923.74 L89.2 928.24 L89.45 924.32 L89.7 927.12 L89.95 923.72 L90.2 927.94 L90.45 923.16 L90.7 923.17 L90.95 926.55 L91.2 928 L91.45 923.71 L91.7 924.83 L91.95 923.98 L92.2 926.8 L92.45 927.98 L92.7 927.67 L92.95 924.17 L93.2 927.35 L93.45 924.48 L93.7 928.24 L93.95 926.77 L94.2 923.4 L94.45 923.14 L94.7 924.8 L94.95 926.64 L95.2 926.68 L95.45 924.55 L95.7 926.79 L95.95 923.85 L96.2 927.32 L96.45 923.92 L96.7 926.56 L96.95 924 L97.2 924.67 L97.45 927.21 L97.7 927.43 L97.95 927.26 L98.2 927.29 L98.45 928.29 L98.7 928.28 L98.95 924.28 L99.2 928.12 L99.45 924.35 L99.7 926.79 L99.95 924.1 L100.2 927.87 L100.45 924.2 L100.7 926.81 L100.95 923.98 L101.2 927.52 L101.45 924.02 L101.7 923.8 L101.95 923.53 L102.2 928.23 L102.45 924.27 L102.7 924.46 L102.95 927.7 L103.2 927.05 L103.45 923.93 L103.7 926.7 L103.95 923.21 L104.2 928.25 L104.45 923.47 L104.7 924.53 L104.95 927.69 L105.2 927.34 L105.45 923.67 L105.7 927.39 L105.95 923.66 L106.2 924.27 L106.45 923.71 L106.7 926.68 L106.95 928.1 L107.2 927.94 L107.45 928.22 L107.7 926.83 L107.95 924.23 L108.2 928.14 L108.45 928.08 L108.7 924.79 L108.95 927.4 L109.2 927.51 L109.45 923.51 L109.7 926.93 L109.95 924.78 L110.2 928.01 L110.45 927.73 L110.7 924.61 L110.95 923.98 L111.2 926.9 L111.45 923.77 L111.7 923.17 L111.95 923.16 L112.2 923.76 L112.45 926.51 L112.7 927.91 L112.95 924.13 L113.2 923.62 L113.45 923.59 L113.7 927.74 L113.95 926.58 L114.2 926.54 L114.45 928.15 L114.7 927.57 L114.95 926.67 L115.2 927.77 L115.45 924.12 L115.7 926.99 L115.95 923.5 L116.2 923.38 L116.45 924.33 L116.7 927.36 L116.95 927.8 L117.2 927.95 L117.45 923.31 L117.7 926.57 L117.95 927.52 L118.2 927.1 L118.45 924.81 L118.7 926.71 L118.95 923.57 L119.2 927.46 L119.45 924.61 L119.7 924.82 L119.95 926.79 L120.2 927.68 L120.45 924.23 L120.7 923.87 L120.95 927.4 L121.2 928.16 L121.45 924.85 L121.7 926.55 L121.95 927.69 L122.2 927.17 L122.45 924.8 L122.7 926.62 L122.95 923.11 L123.2 927.83 L123.45 928.09 L123.7 927.11 L123.95 927.42 L124.2 926.57 L124.45 923.74 L124.7 926.88 L124.95 924.24 L125.2 926.58 L125.45 923.89 L125.7 928.21 L125.95 923.87 L126.2 926.78 L126.45 924.59 L126.7 923.36 L126.95 924.12 L127.2 927.71 L127.45 923.35 L127.7 927.34 L127.95 923.52 L128.2 927.54 L128.45 926.67 L128.7 926.49 L128.95 923.59 L129.2 928.01 L129.45 923.5 L129.7 926.65 L129.95 923.33 L130.2 926.56 L130.45 923.3 L130.7 927.06 L130.95 924.55 L131.2 927.31 L131.45 926.95 L131.7 923.95 L131.95 924.04 L132.2 926.76 L132.45 927.91 L132.7 927.23 L132.95 923.45 L133.2 924.02 L133.45 926.93 L133.7 923.28 L133.95 927.63 L134.2 927.88 L134.45 924.37 L134.7 926.5 L134.95 924.25 L135.2 928.28 L135.45 923.16 L135.7 927.24 L135.95 923.12 L136.2 926.68 L136.45 927.87 L136.7 924.53 L136.95 923.47 L137.2 927.81 L137.45 924.7 L137.7 923.78 L137.95 928.05 L138.2 928 L138.45 924.66 L138.7 927.82 L138.95 924.02 L139.2 928.08 L139.45 924.16 L139.7 927.59 L139.95 924.73 L140.2 926.83 L140.45 927.15 L140.7 928.15 L140.95 924.91 L141.2 927.49 L141.45 923.37 L141.7 927.8 L141.95 924.05 L142.2 927.04 L142.45 923.69 L142.7 926.89 L142.95 927.33 L143.2 927.05 L143.45 923.98 L143.7 928.11 L143.95 923.47 L144.2 927.64 L144.45 923.69 L144.7 927.07 L144.95 924.22 L145.2 926.9 L145.45 924.76 L145.7 927.26 L145.95 924.48 L146.2 927.32 L146.45 923.2 L146.7 924.61 L146.95 924.92 L147.2 924.27 L147.45 923.83 L147.7 926.62 L147.95 927.31 L148.2 926.85 L148.45 928.06 L148.7 928 L148.95 924.12 L149.2 927.63 L149.45 927.16 L149.7 927.38 L149.95 924.79 L150.2 924.48 L150.45 924.39 L150.7 927.42 L150.95 923.9 L151.2 926.88 L151.45 924.49 L151.7 926.51 L151.95 924.64 L152.2 927.38 L152.45 923.34 L152.7 927.16 L152.95 927.42 L153.2 927.05 L153.45 927.04 L153.7 928.03 L153.95 923.76 L154.2 926.71 L154.45 924.88 L154.7 924.46 L154.95 923.62 L155.2 926.95 L155.45 924.66 L155.7 927.79 L155.95 923.2 L156.2 926.5 L156.45 924.63 L156.7 927.57 L156.95 923.29 L157.2 927.69 L157.45 923.76 L157.7 926.65 L157.95 924.39 L158.2 923.44 L158.45 926.76 L158.7 927.66 L158.95 924.22 L159.2 927.3 L159.45 927.36 L159.7 928.15 L159.95 926.8 L160.2 926.89 L160.45 924.8 L160.7 927.52 L160.95 923.59 L161.2 923.44 L161.45 923.6 L161.7 924.09 L161.95 927.74 L162.2 923.76 L162.45 924.43 L162.7 923.46 L162.95 927.05 L163.2 923.5 L163.45 923.21 L163.7 927.53 L163.95 926.92 L164.2 926.6 L164.45 923.71 L164.7 926.56 L164.95 923.67 L165.2 926.7 L165.45 927.55 L165.7 924.49 L165.95 927.9 L166.2 928.22 L166.45 924.51 L166.7 927.95 L166.95 923.71 L167.2 927 L167.45 927.34 L167.7 927 L167.95 923.13 L168.2 923.71 L168.45 927.77 L168.7 927.32 L168.95 926.93 L169.2 926.68 L169.45 927.02 L169.7 927.17 L169.95 924.91 L170.2 926.7 L170.45 923.97 L170.7 926.52 L170.95 924.78 L171.2 928.11 L171.45 923.14 L171.7 927.46 L171.95 923.86 L172.2 926.93 L172.45 924.32 L172.7 927.83 L172.95 927.78 L173.2 927.15 L173.45 923.25 L173.7 927.38 L173.95 927.82 L174.2 928.03 L174.45 923.52 L174.7 923.87 L174.95 923.5 L175.2 926.77 L175.45 927.27 L175.7 923.73 L175.95 924.35 L176.2 926.88 L176.45 924.32 L176.7 926.55 L176.95 923.73 L177.2 923.45 L177.45 924.44 L177.7 927.72 L177.95 923.74 L178.2 927.94 L178.45 924.12 L178.7 924.49 L178.95 924.39 L179.2 927.85 L179.45 927.73 L179.7 928.16 L179.95 928.19 L180.2 926.78 L180.45 924.41 L180.7 923.66 L180.95 924.77 L181.2 923.27 L181.45 927.02 L181.7 927.16 L181.95 923.78 L182.2 923.24 L182.45 926.7 L182.7 927.66 L182.95 923.63 L183.2 923.89 L183.45 923.75 L183.7 926.85 L183.95 924.81 L184.2 924.36 L184.45 923.22 L184.7 926.6 L184.95 923.65 L185.2 926.99 L185.45 923.45 L185.7 927.79 L185.95 924.73 L186.2 927.1 L186.45 927.94 L186.7 926.54 L186.95 924.52 L187.2 926.75 L187.45 923.13 L187.7 927.7 L187.95 924.6 L188.2 923.6 L188.45 926.61 L188.7 926.86 L188.95 923.97 L189.2 926.87 L189.45 927.6 L189.7 927.83 L189.95 924.32 L190.2 927 L190.45 923.65 L190.7 928.15 L190.95 927.35 L191.2 928.05 L191.45 927.82 L191.7 926.81 L191.95 924.35 L192.2 927.14 L192.45 923.75 L192.7 928.09 L192.95 926.67 L193.2 927.46 L193.45 924.37 L193.7 924.92 L193.95 923.68 L194.2 928.16 L194.45 923.56 L194.7 926.53 L194.95 927.23 L195.2 927.77 L195.45 924.31 L195.7 926.73 L195.95 926.97 L196.2 926.63 L196.45 927.22 L196.7 927 L196.95 924.17 L197.2 927.97 L197.45 923.72 L197.7 923.64 L197.95 924.52 L198.2 923.22 L198.45 923.26 L198.7 923.54 L198.95 923.33 L199.2 924.73 L199.45 923.43 L199.7 926.74 L199.95 923.83 L200.2 927.82 L200.45 924.12 L200.7 923.32 L200.95 923.2 L201.2 924.61 L201.45 925.14 L201.7 927.97 L201.95 925.95 L202.2 927.15 L202.45 925.99 L202.7 923.67 L202.95 923.71 L203.2 922.74 L203.45 925.94 L203.7 925.96 L203.95 927.13 L204.2 928.56 L204.45 926.01 L204.7 927.1 L204.95 927.32 L205.2 925.03 L205.45 923.46 L205.7 924.33 L205.95 924.85 L206.2 923.53 L206.45 925.3 L206.7 926.09 L206.95 925.84 L207.2 926.87 L207.45 929.06 L207.7 923.67 L207.95 925.79 L208.2 921.05 L208.45 923.74 L208.7 922.19 L208.95 922.73 L209.2 926.19 L209.45 925.91 L209.7 926.77 L209.95 926.36 L210.2 925.63 L210.45 925.33 L210.7 924.85 L210.95 925.75 L211.2 922.53 L211.45 924.05 L211.7 927.02 L211.95 926.17 L212.2 929.89 L212.45 929.29 L212.7 927.64 L212.95 925.52 L213.2 924.74 L213.45 924.69 L213.7 922.59 L213.95 921.94 L214.2 922.64 L214.45 927.87 L214.7 929.64 L214.95 926.35 L215.2 925.78 L215.45 928.03 L215.7 925.67 L215.95 924.78 L216.2 920.04 L216.45 921.96 L216.7 926.95 L216.95 923.87 L217.2 930.42 L217.45 925.82 L217.7 930.97 L217.95 926.9 L218.2 927.63 L218.45 921.79 L218.7 919.97 L218.95 924.54 L219.2 924.97 L219.45 923.78 L219.7 928.07 L219.95 930.45 L220.2 928.03 L220.45 926.35 L220.7 927.76 L220.95 922.34 L221.2 926.07 L221.45 923.69 L221.7 924.75 L221.95 922.09 L222.2 924.86 L222.45 926.79 L222.7 928.87 L222.95 930.94 L223.2 923.73 L223.45 922.02 L223.7 920.96 L223.95 922.72 L224.2 921.04 L224.45 926.06 L224.7 923.96 L224.95 927.13 L225.2 926.45 L225.45 930.13 L225.7 927.86 L225.95 926.94 L226.2 921.89 L226.45 922.75 L226.7 924.88 L226.95 920.6 L227.2 923.37 L227.45 929.33 L227.7 930.61 L227.95 926.71 L228.2 928.64 L228.45 928.41 L228.7 926.74 L228.95 923.15 L229.2 919.76 L229.45 923.86 L229.7 922.29 L229.95 923.43 L230.2 927.26 L230.45 931.92 L230.7 927.61 L230.95 927.15 L231.2 925.29 L231.45 926.88 L231.7 924.92 L231.95 920.07 L232.2 923.37 L232.45 926.99 L232.7 925.06 L232.95 925.87 L233.2 927.8 L233.45 926.89 L233.7 924.32 L233.95 926.38 L234.2 926.84 L234.45 919.7 L234.7 919.78 L234.95 925.53 L235.2 923.13 L235.45 929.84 L235.7 932.21 L235.95 931.9 L236.2 925.93 L236.45 925.77 L236.7 924.21 L236.95 923.07 L237.2 923.18 L237.45 926.5 L237.7 923.49 L237.95 930.57 L238.2 930.65 L238.45 931.64 L238.7 931.36 L238.95 928.7 L239.2 926.07 L239.45 926.04 L239.7 921.15 L239.95 921.31 L240.2 926.5 L240.45 925.27 L240.7 928.66 L240.95 930.66 L241.2 931.1 L241.45 925.29 L241.7 927.09 L241.95 925.44 L242.2 925.22 L242.45 919.91 L242.7 924.98 L242.95 928.78 L243.2 930.44 L243.45 932.29 L243.7 931.96 L243.95 925.75 L244.2 928.62 L244.45 925.26 L244.7 918.65 L244.95 921.88 L245.2 922.47 L245.45 924.37 L245.7 930.25 L245.95 929.03 L246.2 930.75 L246.45 925.54 L246.7 924.95 L246.95 925.05 L247.2 920.12 L247.45 923.4 L247.7 921.34 L247.95 922.87 L248.2 929.21 L248.45 929.71 L248.7 931.4 L248.95 930.91 L249.2 924.93 L249.45 923.57 L249.7 919.04 L249.95 923.99 L250.2 925.96 L250.45 926.81 L250.7 929.25 L250.95 929.08 L251.2 929.9 L251.45 929.44 L251.7 929.57 L251.95 924.66 L252.2 924.01 L252.45 925.62 L252.7 923 L252.95 923.28 L253.2 922.83 L253.45 922.99 L253.7 927.99 L253.95 928.76 L254.2 926.42 L254.45 925.26 L254.7 924.88 L254.95 926.37 L255.2 921.48 L255.45 921.75 L255.7 923.99 L255.95 921.97 L256.2 926.99 L256.45 930.96 L256.7 933.2 L256.95 925.71 L257.2 923.68 L257.45 924.22 L257.7 921.58 L257.95 922.75 L258.2 921.18 L258.45 921.8 L258.7 930.73 L258.95 927.94 L259.2 932.27 L259.45 926.92 L259.7 923.55 L259.95 925.45 L260.2 920.61 L260.45 918.68 L260.7 925.55 L260.95 924.16 L261.2 922.64 L261.45 924.18 L261.7 927.19 L261.95 925.74 L262.2 927.34 L262.45 926.19 L262.7 922.63 L262.95 923.92 L263.2 922.77 L263.45 919.9 L263.7 925.93 L263.95 926.38 L264.2 926.34 L264.45 930.01 L264.7 927.64 L264.95 928.03 L265.2 928.81 L265.45 922.45 L265.7 925.45 L265.95 920.21 L266.2 926.9 L266.45 927.1 L266.7 930.41 L266.95 928.18 L267.2 925.85 L267.45 929.71 L267.7 924.85 L267.95 924.47 L268.2 924.52 L268.45 921.18 L268.7 919.65 L268.95 920.8 L269.2 929.88 L269.45 929.03 L269.7 926.16 L269.95 927.96 L270.2 930.26 L270.45 925.54 L270.7 919.74 L270.95 920.33 L271.2 924.05 L271.45 920.89 L271.7 923.83 L271.95 928.74 L272.2 932.68 L272.45 928.61 L272.7 931.92 L272.95 927.37 L273.2 924.46 L273.45 922.6 L273.7 924.29 L273.95 921.73 L274.2 926.31 L274.45 927.92 L274.7 929.47 L274.95 929.38 L275.2 926.83 L275.45 930.09 L275.7 924.45 L275.95 921.96 L276.2 924.98 L276.45 919.47 L276.7 925.05 L276.95 923.17 L277.2 930.36 L277.45 928.97 L277.7 931.48 L277.95 925.14 L278.2 927.33 L278.45 925.52 L278.7 921.6 L278.95 919.92 L279.2 923.79 L279.45 926.31 L279.7 923.87 L279.95 925.4 L280.2 927.12 L280.45 931.28 L280.7 924.81 L280.95 924.99 L281.2 925.27 L281.45 924.22 L281.7 919.27 L281.95 921.09 L282.2 924.4 L282.45 926.68 L282.7 926.65 L282.95 930.58 L283.2 931.31 L283.45 928.97 L283.7 924.95 L283.95 925.59 L284.2 923.27 L284.45 925.07 L284.7 924.64 L284.95 925.5 L285.2 925 L285.45 929.34 L285.7 929.37 L285.95 926.55 L286.2 926.66 L286.45 924.78 L286.7 925.94 L286.95 922.08 L287.2 920.41 L287.45 921.96 L287.7 926.44 L287.95 928.07 L288.2 927.33 L288.45 926.41 L288.7 927.78 L288.95 927.02 L289.2 920.71 L289.45 921.98 L289.7 924.29 L289.95 927 L290.2 926.21 L290.45 927.7 L290.7 931.78 L290.95 929.5 L291.2 927.6 L291.45 928.91 L291.7 925.39 L291.95 920.83 L292.2 919.84 L292.45 924.76 L292.7 926.98 L292.95 928.69 L293.2 927.14 L293.45 931.77 L293.7 927.02 L293.95 927.51 L294.2 926.66 L294.45 920.3 L294.7 920.6 L294.95 921.72 L295.2 926.04 L295.45 924.68 L295.7 930.53 L295.95 930.26 L296.2 926.6 L296.45 929.79 L296.7 922.86 L296.95 926.34 L297.2 922.78 L297.45 924.72 L297.7 925.56 L297.95 927.4 L298.2 925.79 L298.45 931.47 L298.7 927.57 L298.95 927.34 L299.2 928.28 L299.45 926.91 L299.7 922.26 L299.95 922.51 L300.2 925.16 L300.45 927.36 L300.7 927.82 L300.95 929.27 L301.2 928.63 L301.45 929.27 L301.7 928.85 L301.95 925.26 L302.2 925.53 L302.45 925.49 L302.7 924.41 L302.95 922.9 L303.2 928.36 L303.45 929.87 L303.7 928.96 L303.95 925.69 L304.2 927.72 L304.45 927.96 L304.7 923.69 L304.95 924.41 L305.2 923.64 L305.45 920.85 L305.7 925.9 L305.95 928.36 L306.2 925.45 L306.45 928.42 L306.7 925.94 L306.95 928.76 L307.2 925.67 L307.45 921.71 L307.7 925.36 L307.95 924.86 L308.2 922.22 L308.45 923.53 L308.7 926.34 L308.95 930.72 L309.2 927.23 L309.45 927.17 L309.7 926.84 L309.95 926.61 L310.2 923.54 L310.45 925.59 L310.7 922.48 L310.95 924.57 L311.2 926.06 L311.45 930.32 L311.7 926.63 L311.95 929.35 L312.2 924.66 L312.45 926.44 L312.7 925.19 L312.95 924.16 L313.2 924.57 L313.45 926.8 L313.7 926.85 L313.95 928.04 L314.2 928.75 L314.45 929.84 L314.7 929.9 L314.95 923.57 L315.2 922.47 L315.45 924.12 L315.7 922.6 L315.95 925.34 L316.2 924.51 L316.45 926.75 L316.7 927.88 L316.95 925.82 L317.2 929.16 L317.45 927.78 L317.7 922.66 L317.95 922.73 L318.2 925.63 L318.45 922.78 L318.7 922.72 L318.95 924.11 L319.2 925.94 L319.45 930.3 L319.7 926.62 L319.95 927.28 L320.2 927.27 L320.45 925.3 L320.7 924.12 L320.95 924.19 L321.2 924.26 L321.45 924.38 L321.7 925.32 L321.95 929.29 L322.2 926.22 L322.45 926.57 L322.7 924.94 L322.95 924.6 L323.2 926.25 L323.45 922.44 L323.7 924.44 L323.95 924.1 L324.2 926.2 L324.45 928.32 L324.7 928.97 L324.95 929.83 L325.2 929.05 L325.45 925.81 L325.7 924.39 L325.95 924.31 L326.2 924.44 L326.45 922.78 L326.7 924.74 L326.95 926.17 L327.2 928.18 L327.45 926.05 L327.7 926.53 L327.95 928.07 L328.2 924.3 L328.45 925.88 L328.7 921.63 L328.95 924.73 L329.2 925.37 L329.45 925.83 L329.7 929.2 L329.95 928.01 L330.2 927.96 L330.45 925.38 L330.7 925.61 L330.95 923.69 L331.2 923.54 L331.45 924.29 L331.7 926.21 L331.95 925.13 L332.2 926.21 L332.45 926.75 L332.7 929.04 L332.95 925.7 L333.2 925.46 L333.45 925.67 L333.7 922.81 L333.95 925.64 L334.2 924.05 L334.45 926.98 L334.7 927.25 L334.95 926.77 L335.2 927.5 L335.45 926.15 L335.7 925.48 L335.95 926.03 L336.2 923.96 L336.45 925.2 L336.7 922.41 L336.95 925.18 L337.2 926.31 L337.45 925.32 L337.7 928.06 L337.95 928.3 L338.2 928.33 L338.45 924.72 L338.7 924.68 L338.95 922.28 L339.2 925.29 L339.45 925.17 L339.7 926.59 L339.95 926.19 L340.2 926.14 L340.45 927.42 L340.7 925.85 L340.95 926.3 L341.2 924.83 L341.45 925.48 L341.7 923.41 L341.95 925.21 L342.2 926.55 L342.45 925.17 L342.7 928.16 L342.95 928.88 L343.2 926.85 L343.45 927.77 L343.7 926.5 L343.95 925.19 L344.2 923.94 L344.45 924.07 L344.7 925.81 L344.95 925.95 L345.2 927.2 L345.45 928.26 L345.7 922.55 L345.95 929.35 L346.2 907.6 L346.45 939.7 L346.7 919.99 L346.95 927.97 L347.2 923.01 L347.45 926.21 L347.7 924.44 L347.95 925.69 L348.2 927.9 L348.45 928.57 L348.7 926.19 L348.95 926.58 L349.2 923.28 L349.45 925.06 L349.7 925.22 L349.95 923.87 L350.2 924.27 L350.45 927.26 L350.7 926.02 L350.95 927.51 L351.2 927.81 L351.45 926.63 L351.7 925.87 L351.95 924.9 L352.2 923.09 L352.45 924.38 L352.7 927.76 L352.95 927.5 L353.2 926.97 L353.45 926.18 L353.7 927.26 L353.95 924.53 L354.2 924.21 L354.45 924.07 L354.7 923.61 L354.95 924.5 L355.2 924.86 L355.45 927.9 L355.7 926.62 L355.95 926.52 L356.2 926.32 L356.45 927.7 L356.7 926.43 L356.95 926.05 L357.2 924 L357.45 924.98 L357.7 925.14 L357.95 924.83 L358.2 925.19 L358.45 928.35 L358.7 928.12 L358.95 927.01 L359.2 925.85 L359.45 924.16 L359.7 924.49 L359.95 922.81 L360.2 924.03 L360.45 924.4 L360.7 927.63 L360.95 927.85 L361.2 926.55 L361.45 926.89 L361.7 925.55 L361.95 924.58 L362.2 922.73 L362.45 923.43 L362.7 922.95 L362.95 926.68 L363.2 924.59 L363.45 926.16 L363.7 926.28 L363.95 925.71 L364.2 927.79 L364.45 924.7 L364.7 925.91 L364.95 923.05 L365.2 925.24 L365.45 926.26 L365.7 927.11 L365.95 927.42 L366.2 926.35 L366.45 928.08 L366.7 926.6 L366.95 924.46 L367.2 922.64 L367.45 922.73 L367.7 925.33 L367.95 921.73 L368.2 908.07 L368.45 952.26 L368.7 810 L368.95 1026.6 L369.2 815.04 L369.45 1019.74 L369.7 821.81 L369.95 997.54 L370.2 850.52 L370.45 992.85 L370.7 860.87 L370.95 975.57 L371.2 868.42 L371.45 967.65 L371.7 882.83 L371.95 960.26 L372.2 895.13 L372.45 947.04 L372.7 904.14 L372.95 941.17 L373.2 910.54 L373.45 933.93 L373.7 915.53 L373.95 931.15 L374.2 919.7 L374.45 928.47 L374.7 922.07 L374.95 927.38 L375.2 923.47 L375.45 926.45 L375.7 924.54 L375.95 925.76 L376.2 924.9 L376.45 925.58 L376.7 925.12 L376.95 925.4 L377.2 925.21 L377.45 925.35 L377.7 925.83 L377.95 923.14 L378.2 924.31 L378.45 924.85 L378.7 927.33 L378.95 925.47 L379.2 925.94 L379.45 927.52 L379.7 924.93 L379.95 925.49 L380.2 925.26 L380.45 922.73 L380.7 924.93 L380.95 923.9 L381.2 924.95 L381.45 926.27 L381.7 926.72 L381.95 928.17 L382.2 927.19 L382.45 927.08 L382.7 925.99 L382.95 923.04 L383.2 925.61 L383.45 923.21 L383.7 924.18 L383.95 927.5 L384.2 926.49 L384.45 928.65 L384.7 926.79 L384.95 925.48 L385.2 925.16 L385.45 923.19 L385.7 922.86 L385.95 924.67 L386.2 924.62 L386.45 927.08 L386.7 925.14 L386.95 927.5 L387.2 928.26 L387.45 926.04 L387.7 924.99 L387.95 924.62 L388.2 923.41 L388.45 922.81 L388.7 924.35 L388.95 927.27 L389.2 925.96 L389.45 925.7 L389.7 926.09 L389.95 927.89 L390.2 924.69 L390.45 925.94 L390.7 923.15 L390.95 924.67 L391.2 924.29 L391.45 924.22 L391.7 924.98 L391.95 925.52 L392.2 928.35 L392.45 927.18 L392.7 927.27 L392.95 927.13 L393.2 924.62 L393.45 924.59 L393.7 925.63 L393.95 922.58 L394.2 925.26 L394.45 924.89 L394.7 926.03 L394.95 929.37 L395.2 928.52 L395.45 926.03 L395.7 924.62 L395.95 925.82 L396.2 922.66 L396.45 923.13 L396.7 922.89 L396.95 927.32 L397.2 928.66 L397.45 926.28 L397.7 926.17 L397.95 926.6 L398.2 925.36 L398.45 925.68 L398.7 922.39 L398.95 925.88 L399.2 923.92 L399.45 923.77 L399.7 926.69 L399.95 930.1 L400.2 928.04 L400.45 928.46 L400.7 926.04 L400.95 922.59 L401.2 924.95 L401.45 924.32 L401.7 926.63 L401.95 924.51 L402.2 927.88 L402.45 929.98 L402.7 926.82 L402.95 928.43 L403.2 924.07 L403.45 927.38 L403.7 919.02 L403.95 918.68 L404.2 924.26 L404.45 922.83 L404.7 922.21 L404.95 925.9 L405.2 933.97 L405.45 931.14 L405.7 928.93 L405.95 926.17 L406.2 925.72 L406.45 922.25 L406.7 924.99 L406.95 921 L407.2 921.9 L407.45 927.72 L407.7 926.9 L407.95 929.11 L408.2 933.74 L408.45 926.23 L408.7 925.27 L408.95 923.13 L409.2 920.05 L409.45 924.62 L409.7 927.57 L409.95 931.14 L410.2 931.01 L410.45 927.39 L410.7 932.9 L410.95 926.22 L411.2 923.01 L411.45 925.17 L411.7 924.87 L411.95 924.05 L412.2 926.71 L412.45 924.39 L412.7 925.38 L412.95 933.52 L413.2 934.33 L413.45 929.1 L413.7 925.37 L413.95 919.51 L414.2 925.1 L414.45 921.89 L414.7 924.49 L414.95 920.86 L415.2 930.42 L415.45 927.56 L415.7 933.6 L415.95 926.35 L416.2 927.06 L416.45 921.66 L416.7 919.42 L416.95 919.11 L417.2 924.01 L417.45 920.05 L417.7 924.34 L417.95 925.8 L418.2 932.66 L418.45 925.74 L418.7 927.28 L418.95 921.85 L419.2 918.97 L419.45 920.75 L419.7 924.65 L419.95 925.26 L420.2 926.92 L420.45 929.51 L420.7 928.22 L420.95 932.23 L421.2 923.44 L421.45 928.82 L421.7 922.62 L421.95 918.62 L422.2 918.62 L422.45 924.31 L422.7 923 L422.95 925.74 L423.2 934.65 L423.45 927.6 L423.7 933.31 L423.95 923.57 L424.2 918.69 L424.45 923.37 L424.7 922.43 L424.95 924.84 L425.2 920.35 L425.45 924.12 L425.7 930.57 L425.95 935.22 L426.2 926.27 L426.45 929.16 L426.7 920.35 L426.95 921.17 L427.2 922.59 L427.45 918.36 L427.7 927.45 L427.95 924.93 L428.2 934.03 L428.45 935.4 L428.7 933.82 L428.95 925.03 L429.2 920.68 L429.45 918.47 L429.7 922.24 L429.95 918.7 L430.2 924.58 L430.45 927.68 L430.7 931.36 L430.95 929.33 L431.2 935.56 L431.45 925.2 L431.7 928.41 L431.95 923.55 L432.2 918.21 L432.45 923.77 L432.7 922.12 L432.95 929.75 L433.2 927.28 L433.45 929.61 L433.7 929.14 L433.95 929.83 L434.2 926.92 L434.45 926.94 L434.7 919.61 L434.95 920.7 L435.2 921.28 L435.45 921.49 L435.7 930.86 L435.95 933.36 L436.2 936.02 L436.45 931.81 L436.7 933.91 L436.95 929.39 L437.2 924.75 L437.45 913.89 L437.7 923.78 L437.95 913.91 L438.2 939.41 L438.45 861 L438.7 981.2 L438.95 879.89 L439.2 955.58 L439.45 895.01 L439.7 948.37 L439.95 898.34 L440.2 946.06 L440.45 907.98 L440.7 939.64 L440.95 911.97 L441.2 934.52 L441.45 914.72 L441.7 933.2 L441.95 917.91 L442.2 932.22 L442.45 918.38 L442.7 929.86 L442.95 920.27 L443.2 928.77 L443.45 922.27 L443.7 928.23 L443.95 922.73 L444.2 927.55 L444.45 928.91 L444.7 925.83 L444.95 927.13 L445.2 922.73 L445.45 919.28 L445.7 914.77 L445.95 920.45 L446.2 928.89 L446.45 930.5 L446.7 934.81 L446.95 933.66 L447.2 924.52 L447.45 923.05 L447.7 919.82 L447.95 921.33 L448.2 917.89 L448.45 920.71 L448.7 919.34 L448.95 930.22 L449.2 924.74 L449.45 932.79 L449.7 934.97 L449.95 928.88 L450.2 925.19 L450.45 925.16 L450.7 923.88 L450.95 917.37 L451.2 927.39 L451.45 921.14 L451.7 933.02 L451.95 934.68 L452.2 926.66 L452.45 929.55 L452.7 925.64 L452.95 919.62 L453.2 920.41 L453.45 916.27 L453.7 917.17 L453.95 924.45 L454.2 922.4 L454.45 931.63 L454.7 928.11 L454.95 934.95 L455.2 926.01 L455.45 931.23 L455.7 921.5 L455.95 916.55 L456.2 921.48 L456.45 924.92 L456.7 926.74 L456.95 922.3 L457.2 929.15 L457.45 926.46 L457.7 932.97 L457.95 928.23 L458.2 919.29 L458.45 921.32 L458.7 917.34 L458.95 922.05 L459.2 919.35 L459.45 927.3 L459.7 924.42 L459.95 936.24 L460.2 929.02 L460.45 926.55 L460.7 928.38 L460.95 919.64 L461.2 915.95 L461.45 924.66 L461.7 926.53 L461.95 928.75 L462.2 924.46 L462.45 931.73 L462.7 926.51 L462.95 930.95 L463.2 931.81 L463.45 923.42 L463.7 927.24 L463.95 924.01 L464.2 919.05 L464.45 920.01 L464.7 922.69 L464.95 925.61 L465.2 931.03 L465.45 926.95 L465.7 924.3 L465.95 921.54 L466.2 917.73 L466.45 925.84 L466.7 920.84 L466.95 919.34 L467.2 928.54 L467.45 928.87 L467.7 931.01 L467.95 935.17 L468.2 932.06 L468.45 926.31 L468.7 925.08 L468.95 920.69 L469.2 915.82 L469.45 918.5 L469.7 926 L469.95 928.64 L470.2 925.64 L470.45 931.18 L470.7 927.95 L470.95 923.21 L471.2 921.14 L471.45 924.78 L471.7 917.66 L471.95 925.54 L472.2 921.33 L472.45 924.76 L472.7 930.73 L472.95 936.36 L473.2 931.93 L473.45 930.88 L473.7 930.38 L473.95 919.22 L474.2 922.99 L474.45 915.33 L474.7 925.55 L474.95 930.51 L475.2 929.12 L475.45 934.8 L475.7 931.15 L475.95 928.17 L476.2 927.26 L476.45 918 L476.7 925.88 L476.95 920.6 L477.2 918.29 L477.45 925.98 L477.7 927.89 L477.95 930.06 L478.2 933.91 L478.45 936.45 L478.7 928.18 L478.95 928.31 L479.2 923.82 L479.45 918.24 L479.7 915.32 L479.95 925.49 L480.2 930.23 L480.45 923.11 L480.7 931.97 L480.95 934.85 L481.2 924.4 L481.45 928.21 L481.7 925.28 L481.95 916.23 L482.2 917.95 L482.45 917.19 L482.7 926.41 L482.95 926.75 L483.2 927.92 L483.45 929.81 L483.7 925.15 L483.95 929.33 L484.2 924.61 L484.45 916.34 L484.7 917.9 L484.95 925.2 L485.2 920.96 L485.45 927.01 L485.7 928.43 L485.95 934.31 L486.2 929.77 L486.45 929.21 L486.7 925.13 L486.95 927.41 L487.2 922.29 L487.45 918.29 L487.7 926.04 L487.95 924.8 L488.2 932.08 L488.45 934.59 L488.7 930.25 L488.95 929.45 L489.2 929.41 L489.45 921.37 L489.7 918.65 L489.95 923.91 L490.2 919.69 L490.45 926.91 L490.7 933.66 L490.95 930.28 L491.2 931.12 L491.45 926.36 L491.7 927.35 L491.95 927.91 L492.2 920.9 L492.45 925.74 L492.7 918.62 L492.95 929.81 L493.2 922.79 L493.45 931.16 L493.7 928.58 L493.95 935.02 L494.2 929.75 L494.45 925.65 L494.7 923.32 L494.95 917.75 L495.2 923.19 L495.45 922.31 L495.7 928.89 L495.95 933.55 L496.2 927.81 L496.45 932.02 L496.7 927.26 L496.95 924.07 L497.2 925.43 L497.45 915.89 L497.7 924.17 L497.95 918.27 L498.2 925.32 L498.45 926.66 L498.7 934.45 L498.95 930.39 L499.2 933.48 L499.45 930.29 L499.7 919.81 L499.95 920.14 L500.2 919.83 L500.45 922.57 L500.7 928.3 L500.95 930.64 L501.2 924.17 L501.45 930.71 L501.7 927.93 L501.95 927.1 L502.2 922.95 L502.45 919.38 L502.7 924.01 L502.95 918.47 L503.2 919.54 L503.45 927.67 L503.7 924.43 L503.95 931.39 L504.2 935.89 L504.45 932.87 L504.7 929.36 L504.95 927.78 L505.2 921.82 L505.45 915.26 L505.7 918.1 L505.95 918.59 L506.2 922.15 L506.45 927.04 L506.7 933.26 L506.95 935.58 L507.2 928.3 L507.45 924.46 L507.7 921.58 L507.95 915.84 L508.2 921.06 L508.45 918.89 L508.7 924.54 L508.95 921.44 L509.2 927.49 L509.45 937.34 L509.7 935.86 L509.95 932.01 L510.2 923.77 L510.45 927.16 L510.7 917.77 L510.95 915.62 L511.2 922.17 L511.45 930.85 L511.7 927.49 L511.95 932.63 L512.2 929.97 L512.45 926.37 L512.7 924.21 L512.95 927.62 L513.2 919.77 L513.45 918.91 L513.7 915.81 L513.95 926.67 L514.2 922.53 L514.45 927.38 L514.7 930.54 L514.95 935.43 L515.2 933.67 L515.45 925.01 L515.7 920.54 L515.95 917.54 L516.2 921.58 L516.45 926.42 L516.7 927.68 L516.95 933.06 L517.2 929.81 L517.45 935.88 L517.7 925.02 L517.95 925.67 L518.2 925.48 L518.45 918.03 L518.7 916.75 L518.95 917.48 L519.2 926.28 L519.45 928.26 L519.7 928.76 L519.95 930.03 L520.2 929.67 L520.45 922.73 L520.7 923.86 L520.95 925.21 L521.2 919.89 L521.45 920.54 L521.7 921.08 L521.95 929.81 L522.2 927.94 L522.45 928.96 L522.7 930.57 L522.95 934.63 L523.2 921.04 L523.45 925.17 L523.7 924.25 L523.95 917.23 L524.2 917.3 L524.45 924.19 L524.7 933.14 L524.95 934.45 L525.2 935.04 L525.45 931.72 L525.7 925.57 L525.95 918.06 L526.2 922.55 L526.45 924.14 L526.7 923.82 L526.95 928.53 L527.2 931.01 L527.45 934.62 L527.7 936.48 L527.95 925.58 L528.2 925.82 L528.45 916.57 L528.7 916.82 L528.95 922.34 L529.2 922.59 L529.45 920.66 L529.7 931.86 L529.95 935.97 L530.2 930.68 L530.45 934.62 L530.7 922.04 L530.95 926.9 L531.2 917.36 L531.45 923.31 L531.7 919.5 L531.95 919.12 L532.2 932.61 L532.45 931.66 L532.7 925.87 L532.95 929.89 L533.2 930.71 L533.45 922.79 L533.7 926.08 L533.95 918.06 L534.2 919.26 L534.45 918.54 L534.7 926.37 L534.95 934.48 L535.2 936.9 L535.45 929.91 L535.7 932.28 L535.95 927.75 L536.2 924.75 L536.45 917.96 L536.7 920.79 L536.95 927.32 L537.2 930.44 L537.45 928.52 L537.7 928.69 L537.95 934.62 L538.2 934.85 L538.45 921.6 L538.7 927.04 L538.95 919.8 L539.2 918.85 L539.45 919.52 L539.7 926.65 L539.95 932.8 L540.2 933.31 L540.45 929.59 L540.7 931.38 L540.95 934.35 L541.2 925.62 L541.45 921.52 L541.7 923.29 L541.95 924.77 L542.2 925.98 L542.45 928.33 L542.7 930.12 L542.95 932.86 L543.2 930.81 L543.45 927.14 L543.7 932.7 L543.95 921.25 L544.2 922.02 L544.45 921.17 L544.7 925.03 L544.95 919.74 L545.2 929.7 L545.45 935.36 L545.7 929.01 L545.95 931.36 L546.2 927.15 L546.45 927.18 L546.7 925.81 L546.95 914.56 L547.2 914.67 L547.45 922.06 L547.7 928.58 L547.95 924.85 L548.2 940.19 L548.45 932.39 L548.7 927.69 L548.95 919.04 L549.2 939.62 L549.45 884 L549.7 986.8 L549.95 899.49 L550.2 956.53 L550.45 904.23 L550.7 951.75 L550.95 911.57 L551.2 948.29 L551.45 913.91 L551.7 941.21 L551.95 915.71 L552.2 935.56 L552.45 917.54 L552.7 933.07 L552.95 920.65 L553.2 931.36 L553.45 921.19 L553.7 929.87 L553.95 922.33 L554.2 929.51 L554.45 922.99 L554.7 928.28 L554.95 923.72 L555.2 927.28 L555.45 929.18 L555.7 933.27 L555.95 932.24 L556.2 927.47 L556.45 924.98 L556.7 923.11 L556.95 923.4 L557.2 919.25 L557.45 925.92 L557.7 926.39 L557.95 931.22 L558.2 927.63 L558.45 934.31 L558.7 930.35 L558.95 925.35 L559.2 918 L559.45 918.18 L559.7 918.72 L559.95 924.33 L560.2 923.54 L560.45 924.55 L560.7 934.13 L560.95 931.47 L561.2 927.13 L561.45 924.02 L561.7 920.51 L561.95 921.26 L562.2 920.42 L562.45 919.33 L562.7 924.4 L562.95 924.52 L563.2 930.97 L563.45 927.21 L563.7 926.24 L563.95 931.81 L564.2 932.09 L564.45 924.02 L564.7 914.14 L564.95 919.37 L565.2 925.67 L565.45 918.35 L565.7 920.81 L565.95 923.91 L566.2 932.44 L566.45 931.62 L566.7 932.76 L566.95 919.8 L567.2 916.63 L567.45 924.43 L567.7 922.29 L567.95 925.96 L568.2 920.37 L568.45 935.68 L568.7 925.74 L568.95 936.54 L569.2 925.25 L569.45 922.13 L569.7 927.47 L569.95 912.78 L570.2 913.35 L570.45 918.3 L570.7 922.48 L570.95 923.89 L571.2 935.7 L571.45 936.7 L571.7 929.79 L571.95 926.36 L572.2 918.83 L572.45 924.13 L572.7 925.16 L572.95 914.66 L573.2 928.8 L573.45 925.89 L573.7 927.27 L573.95 937.49 L574.2 936.22 L574.45 924.85 L574.7 919.77 L574.95 925.51 L575.2 914.01 L575.45 925.27 L575.7 919.72 L575.95 926.54 L576.2 930.83 L576.45 931.73 L576.7 929.29 L576.95 930.28 L577.2 924.14 L577.45 918.42 L577.7 912.98 L577.95 915.61 L578.2 928.84 L578.45 923.61 L578.7 936.33 L578.95 931.82 L579.2 939.09 L579.45 922.31 L579.7 926.02 L579.95 927.29 L580.2 912.72 L580.45 915.39 L580.7 923.18 L580.95 930.11 L581.2 923.45 L581.45 939.04 L581.7 932.82 L581.95 936.71 L582.2 932.92 L582.45 920.89 L582.7 918.53 L582.95 925.66 L583.2 914.12 L583.45 924.4 L583.7 924.27 L583.95 934.98 L584.2 938.45 L584.45 931.69 L584.7 926.99 L584.95 920.24 L585.2 913.68 L585.45 915.31 L585.7 911.26 L585.95 920.03 L586.2 928.89 L586.45 931.57 L586.7 940.36 L586.95 927.08 L587.2 923.91 L587.45 922.33 L587.7 916.58 L587.95 914.03 L588.2 924.12 L588.45 919.68 L588.7 929.16 L588.95 935.56 L589.2 929.64 L589.45 938.07 L589.7 930.82 L589.95 934.11 L590.2 922.82 L590.45 911.69 L590.7 921.57 L590.95 913.34 L591.2 928.07 L591.45 921.8 L591.7 925.17 L591.95 913.63 L592.2 936.93 L592.45 860.4 L592.7 968.7 L592.95 877.58 L593.2 953.63 L593.45 888.86 L593.7 948.41 L593.95 899.14 L594.2 941.81 L594.45 900.01 L594.7 937.56 L594.95 908.79 L595.2 936.1 L595.45 909.36 L595.7 933.54 L595.95 913.63 L596.2 933.16 L596.45 914.83 L596.7 931.11 L596.95 917.08 L597.2 929.35 L597.45 920.19 L597.7 928.49 L597.95 920.21 L598.2 928.2 L598.45 921.09 L598.7 927.63 L598.95 922.08 L599.2 927.02 L599.45 921.92 L599.7 933.17 L599.95 939.39 L600.2 923.05 L600.45 924.01 L600.7 937.11 L600.95 925.23 L601.2 897.3 L601.45 904.23 L601.7 920.11 L601.95 934.07 L602.2 936.67 L602.45 961.37 L602.7 924.39 L602.95 942.04 L603.2 909.31 L603.45 920.76 L603.7 934.23 L603.95 897 L604.2 955 L604.45 905.34 L604.7 941.12 L604.95 909.2 L605.2 938.87 L605.45 913.66 L605.7 935.37 L605.95 914.97 L606.2 933.63 L606.45 918.43 L606.7 932.3 L606.95 919.44 L607.2 929.87 L607.45 921.16 L607.7 928.98 L607.95 922.17 L608.2 928.72 L608.45 922.86 L608.7 927.71 L608.95 913.8 L609.2 923.92 L609.45 924.79 L609.7 935.07 L609.95 929.06 L610.2 968.59 L610.45 961.99 L610.7 943.07 L610.95 920.8 L611.2 916.51 L611.45 920.7 L611.7 934.22 L611.95 893 L612.2 963 L612.45 904.48 L612.7 945.14 L612.95 906.29 L613.2 941.64 L613.45 912.04 L613.7 940.48 L613.95 915.03 L614.2 936.64 L614.45 917.61 L614.7 932.75 L614.95 918.79 L615.2 932.56 L615.45 920.82 L615.7 930.43 L615.95 921.82 L616.2 928.68 L616.45 922.75 L616.7 928.11 L616.95 911.81 L617.2 926.58 L617.45 917.33 L617.7 945.39 L617.95 928.63 L618.2 945.1 L618.45 932.88 L618.7 933.33 L618.95 910.34 L619.2 918.32 L619.45 904.15 L619.7 917.88 L619.95 944.31 L620.2 940.74 L620.45 936.21 L620.7 947.26 L620.95 945.47 L621.2 933.86 L621.45 915.05 L621.7 925.66 L621.95 925.95 L622.2 913.17 L622.45 923.59 L622.7 933.79 L622.95 928.45 L623.2 924.27 L623.45 933.74 L623.7 934.5 L623.95 907.22 L624.2 914.32 L624.45 903.81 L624.7 917.16 L624.95 914.35 L625.2 920.08 L625.45 946.44 L625.7 928.61 L625.95 936.7 L626.2 915.9 L626.45 929.18 L626.7 921.7 L626.95 916.95 L627.2 915.47 L627.45 917.76 L627.7 931.82 L627.95 934.13 L628.2 928.94 L628.45 937.18 L628.7 920.35 L628.95 930.03 L629.2 909.92 L629.45 916.94 L629.7 926.62 L629.95 923.3 L630.2 936.44 L630.45 931.49 L630.7 938.1 L630.95 946.12 L631.2 931.54 L631.45 919.07 L631.7 912.64 L631.95 916.7 L632.2 917.41 L632.45 925.85 L632.7 910.17 L632.95 958.66 L633.2 831.5 L633.45 1064.4 L633.7 855.23 L633.95 1013.09 L634.2 876.86 L634.45 994.14 L634.7 879.85 L634.95 979.33 L635.2 894.44 L635.45 964.17 L635.7 895.92 L635.95 958.54 L636.2 903.44 L636.45 956.72 L636.7 910.49 L636.95 946.01 L637.2 912.7 L637.45 940.45 L637.7 915.68 L637.95 940.13 L638.2 915.72 L638.45 936.91 L638.7 918.1 L638.95 933.81 L639.2 919.8 L639.45 932.39 L639.7 920.9 L639.95 930.26 L640.2 921.83 L640.45 929.57 L640.7 922.55 L640.95 929.4 L641.2 943.58 L641.45 938.32 L641.7 936.83 L641.95 923.53 L642.2 907.72 L642.45 907.55 L642.7 920.67 L642.95 915.81 L643.2 933.31 L643.45 940.61 L643.7 934.19 L643.95 935.96 L644.2 932.74 L644.45 925.7 L644.7 926.65 L644.95 924.43 L645.2 919.39 L645.45 909.78 L645.7 926.72 L645.95 935.56 L646.2 938.17 L646.45 945.03 L646.7 927.55 L646.95 927.13 L647.2 929.63 L647.45 909.48 L647.7 924.44 L647.95 914.52 L648.2 929.16 L648.45 918.14 L648.7 936.35 L648.95 911.93 L649.2 937.99 L649.45 844 L649.7 976 L649.95 876.33 L650.2 957.61 L650.45 881.72 L650.7 949.99 L650.95 891.34 L651.2 942.01 L651.45 902.87 L651.7 938.22 L651.95 906.19 L652.2 933.97 L652.45 912.16 L652.7 933.61 L652.95 914.36 L653.2 930.43 L653.45 917.52 L653.7 929.11 L653.95 918.99 L654.2 928.5 L654.45 920.55 L654.7 927.53 L654.95 922.24 L655.2 927.29 L655.45 921.86 L655.7 924.89 L655.95 923.27 L656.2 931.7 L656.45 927.61 L656.7 932.85 L656.95 929.61 L657.2 938.96 L657.45 934.52 L657.7 919.55 L657.95 909.9 L658.2 916.72 L658.45 921.14 L658.7 920.3 L658.95 921.86 L659.2 933.13 L659.45 935.25 L659.7 926.29 L659.95 929.17 L660.2 926.81 L660.45 921.96 L660.7 917.53 L660.95 924.28 L661.2 920.4 L661.45 930.42 L661.7 937.15 L661.95 934 L662.2 939.33 L662.45 938.62 L662.7 921.18 L662.95 928.38 L663.2 914.35 L663.45 916.39 L663.7 917.01 L663.95 929.89 L664.2 933.36 L664.45 939.21 L664.7 932.82 L664.95 943.2 L665.2 922.42 L665.45 920.02 L665.7 918.67 L665.95 915.22 L666.2 947.58 L666.45 855 L666.7 1008.4 L666.95 880.84 L667.2 981.93 L667.45 891.65 L667.7 965.31 L667.95 891.43 L668.2 958.35 L668.45 900.67 L668.7 954.18 L668.95 903.38 L669.2 944.62 L669.45 910.3 L669.7 939.68 L669.95 912.49 L670.2 938.08 L670.45 916.11 L670.7 937.26 L670.95 917.16 L671.2 933.34 L671.45 919.79 L671.7 932.45 L671.95 919.94 L672.2 931.38 L672.45 921.13 L672.7 929.62 L672.95 922.29 L673.2 928.43 L673.45 924.32 L673.7 913.57 L673.95 918.15 L674.2 915.32 L674.45 924.58 L674.7 922.5 L674.95 933.33 L675.2 932 L675.45 935.23 L675.7 927.15 L675.95 929.06 L676.2 924.16 L676.45 922.59 L676.7 923.66 L676.95 919.84 L677.2 926.28 L677.45 926.42 L677.7 926.84 L677.95 932.08 L678.2 925.01 L678.45 927.75 L678.7 920.29 L678.95 921.21 L679.2 922.29 L679.45 923.95 L679.7 928.39 L679.95 927.72 L680.2 933.26 L680.45 929.96 L680.7 930.22 L680.95 928.35 L681.2 924.13 L681.45 918.75 L681.7 918.35 L681.95 921.83 L682.2 921.92 L682.45 927.93 L682.7 928.55 L682.95 932.44 L683.2 928.01 L683.45 923.72 L683.7 926.23 L683.95 924.66 L684.2 924.8 L684.45 923.95 L684.7 927.06 L684.95 923.85 L685.2 925.57 L685.45 926.91 L685.7 931.92 L685.95 925.04 L686.2 922.51 L686.45 925.77 L686.7 923.98 L686.95 920.02 L687.2 920.92 L687.45 929.61 L687.7 928.49 L687.95 927.19 L688.2 929.21 L688.45 925.48 L688.7 928.79 L688.95 919.64 L689.2 921.75 L689.45 919.22 L689.7 925.44 L689.95 922.56 L690.2 928.7 L690.45 929.6 L690.7 929.29 L690.95 925.81 L691.2 924.97 L691.45 925.38 L691.7 925.16 L691.95 920.87 L692.2 922.74 L692.45 927.71 L692.7 924.38 L692.95 929.01 L693.2 930.46 L693.45 928.58 L693.7 931.16 L693.95 928.26 L694.2 920.33 L694.45 919.55 L694.7 919.76 L694.95 921.41 L695.2 927.87 L695.45 926.65 L695.7 925.75 L695.95 929.93 L696.2 931.09 L696.45 929.41 L696.7 921.03 L696.95 925.27 L697.2 921.5 L697.45 920.32 L697.7 922.52 L697.95 927.78 L698.2 925.29 L698.45 927.89 L698.7 930.13 L698.95 924.25 L699.2 923.07 L699.45 923.67 L699.7 922.76 L699.95 923.58 L700.2 921.47 L700.45 928.24 L700.7 927.13 L700.95 929.44 L701.2 926.16 L701.45 925.84 L701.7 927.1 L701.95 923.62 L702.2 919.58 L702.45 922.85 L702.7 923.2 L702.95 925.51 L703.2 925.38 L703.45 929.28 L703.7 931.21 L703.95 930.3 L704.2 922.78 L704.45 926.92 L704.7 923.73 L704.95 922.76 L705.2 925.49 L705.45 927.6 L705.7 925.34 L705.95 931.47 L706.2 930.64 L706.45 929.96 L706.7 928.17 L706.95 927.61 L707.2 920.88 L707.45 923.94 L707.7 923.4 L707.95 927.04 L708.2 924.44 L708.45 928.85 L708.7 927.12 L708.95 931.37 L709.2 928.96 L709.45 927.03 L709.7 920.52 L709.95 923.11 L710.2 923.64 L710.45 921.12 L710.7 923.76 L710.95 930.23 L711.2 927.7 L711.45 931.98 L711.7 930.89 L711.95 923.33 L712.2 927.28 L712.45 924.58 L712.7 924.57 L712.95 923.65 L713.2 924.58 L713.45 925.34 L713.7 927.07 L713.95 930.35 L714.2 926.4 L714.45 924.82 L714.7 928.38 L714.95 925.17 L715.2 921.49 L715.45 925.35 L715.7 921.63 L715.95 927.47 L716.2 926.84 L716.45 930.47 L716.7 931.42 L716.95 925.39 L717.2 926.15 L717.45 925.59 L717.7 920.71 L717.95 922.65 L718.2 923.95 L718.45 922.7 L718.7 929.67 L718.95 931.38 L719.2 928.88 L719.45 929.15 L719.7 923.98 L719.95 926.04 L720.2 926.44 L720.45 922.95 L720.7 925.59 L720.95 925.42 L721.2 928.85 L721.45 927.92 L721.7 929.67 L721.95 931.26 L722.2 927.2 L722.45 926.41 L722.7 921.75 L722.95 920.05" stroke="#e2155a" stroke-width="0.55" fill="none" stroke-linejoin="round"/>
<path d="M201 927.51 L201.5 922.59 L202 923.22 L202.5 923.15 L203 928.22 L203.5 924.22 L204 927.89 L204.5 923.99 L205 927.15 L205.5 926.82 L206 928.62 L206.5 926.91 L207 927.21 L207.5 922.13 L208 928.95 L208.5 924.02 L209 929.66 L209.5 923.79 L210 928.58 L210.5 923.12 L211 928.14 L211.5 923.38 L212 927.7 L212.5 922.12 L213 929.39 L213.5 923.87 L214 923.44 L214.5 923.41 L215 921.34 L215.5 921.81 L216 920.8 L216.5 920.87 L217 928.89 L217.5 923.52 L218 930.42 L218.5 929.14 L219 927.62 L219.5 924.09 L220 922.23 L220.5 930.24 L221 923.62 L221.5 920.87 L222 930.46 L222.5 924.21 L223 929.13 L223.5 922.01 L224 928.12 L224.5 924.08 L225 922.99 L225.5 921.84 L226 930.08 L226.5 924.09 L227 928.28 L227.5 922.1 L228 923.01 L228.5 923.23 L229 929.3 L229.5 930.29 L230 930.53 L230.5 923.98 L231 929 L231.5 921.13 L232 930.02 L232.5 929.59 L233 930.29 L233.5 921.54 L234 922.89 L234.5 923.52 L235 928.44 L235.5 921.66 L236 920.81 L236.5 922.95 L237 928.82 L237.5 922.27 L238 923.52 L238.5 920.77 L239 930.21 L239.5 922.32 L240 928.77 L240.5 927.35 L241 921.69 L241.5 921.64 L242 928.11 L242.5 930.34 L243 927.38 L243.5 927.4 L244 927.72 L244.5 921.84 L245 923.13 L245.5 922.34 L246 922.88 L246.5 921.98 L247 921.56 L247.5 930.04 L248 929.17 L248.5 929.67 L249 929.21 L249.5 921.66 L250 929.15 L250.5 927.92 L251 927.8 L251.5 921.11 L252 927.51 L252.5 927.52 L253 929.73 L253.5 929.35 L254 930.63 L254.5 923.65 L255 921.34 L255.5 922.67 L256 928.06 L256.5 923.8 L257 929.75 L257.5 929.7 L258 927.81 L258.5 922.06 L259 928.74 L259.5 922.03 L260 929.37 L260.5 921.58 L261 929.32 L261.5 928.86 L262 927.83 L262.5 928.36 L263 930.43 L263.5 922.22 L264 921.15 L264.5 928.55 L265 927.85 L265.5 922.56 L266 921.92 L266.5 921.56 L267 929.66 L267.5 929.82 L268 928.45 L268.5 921.23 L269 928.58 L269.5 921.2 L270 928.35 L270.5 928.24 L271 930.33 L271.5 921.53 L272 929.07 L272.5 923.06 L273 930.25 L273.5 923.08 L274 923.76 L274.5 923.88 L275 927.81 L275.5 928.93 L276 921.04 L276.5 923.83 L277 922.12 L277.5 923.54 L278 924.12 L278.5 922.87 L279 921.92 L279.5 929.42 L280 921.9 L280.5 929.31 L281 928.54 L281.5 923.85 L282 929.55 L282.5 921.28 L283 923.11 L283.5 923.7 L284 923.8 L284.5 921.57 L285 922.09 L285.5 921.63 L286 927.3 L286.5 923.56 L287 927.81 L287.5 923.71 L288 929.49 L288.5 921.88 L289 921.99 L289.5 923.71 L290 928.21 L290.5 921.77 L291 928.66 L291.5 928.91 L292 922.36 L292.5 921.18 L293 929.29 L293.5 923.85 L294 928.83 L294.5 923.53 L295 927.81 L295.5 928.1 L296 928.59 L296.5 927.66 L297 930.51 L297.5 921.55 L298 923.77 L298.5 922.24 L299 929.06 L299.5 922.89 L300 929.21 L300.5 923.76 L301 920.97 L301.5 921.99 L302 929.17 L302.5 923.56 L303 928.66 L303.5 923.66 L304 928.82 L304.5 921.47 L305 928.34 L305.5 922 L306 930.53 L306.5 920.85 L307 927.43 L307.5 930.02 L308 928.25 L308.5 921.22 L309 929.81 L309.5 922.09 L310 927.25 L310.5 929.85 L311 923.09 L311.5 920.97 L312 923.17 L312.5 922.76 L313 929.47 L313.5 922.41 L314 927.72 L314.5 921.23 L315 928.43 L315.5 923.21 L316 928.01 L316.5 923.57 L317 921.17 L317.5 921.74 L318 927.37 L318.5 923.43 L319 922.56 L319.5 921 L320 927.39 L320.5 922.64 L321 929.26 L321.5 923.56 L322 930.36 L322.5 922.56 L323 922.99 L323.5 921.75 L324 928.18 L324.5 922.64 L325 924.07 L325.5 924.25 L326 923.96 L326.5 921.29 L327 929.37 L327.5 923.15 L328 927.37 L328.5 923.31 L329 929.03 L329.5 923.22 L330 929.92 L330.5 922.88 L331 921.5 L331.5 922.04 L332 929.88 L332.5 923.39 L333 929.9 L333.5 927.62 L334 929.81 L334.5 921.97 L335 929.67 L335.5 923.16 L336 930.02 L336.5 928.98 L337 928.02 L337.5 922.66 L338 927.44 L338.5 923.59 L339 929.55 L339.5 921.38 L340 927.81 L340.5 922.47 L341 927.84 L341.5 928.88 L342 923.45 L342.5 922.9 L343 929.37 L343.5 929.35 L344 929.28 L344.5 928.84 L345 928.52 L345.5 930.24 L346 929.96 L346.5 922.94 L347 922.67 L347.5 922.52 L348 927.76 L348.5 922.92 L349 923.3 L349.5 927.12 L350 928.27 L350.5 922.96 L351 929.96 L351.5 923.26 L352 929.46 L352.5 924.32 L353 929.84 L353.5 930.14 L354 927.2 L354.5 922.78 L355 923.62 L355.5 922.61 L356 921.38 L356.5 921.88 L357 929.68 L357.5 923.44 L358 921.52 L358.5 924.24 L359 921.68 L359.5 922.99 L360 927.48 L360.5 921.37 L361 930.01 L361.5 929.36 L362 924.23 L362.5 922.28 L363 928.28 L363.5 923.78 L364 927.73 L364.5 922.61 L365 928.11 L365.5 928.93 L366 922.25 L366.5 928.31 L367 923.92 L367.5 923.5 L368 929.97 L368.5 928.4 L369 927.15 L369.5 921.93 L370 928.67 L370.5 929.27 L371 927.57 L371.5 923.2 L372 927.68 L372.5 923.86 L373 929.21 L373.5 921.23 L374 929.73 L374.5 923.54 L375 921.26 L375.5 929.24 L376 929.99 L376.5 923.64 L377 928.77 L377.5 922.57 L378 922.59 L378.5 923.66 L379 930 L379.5 923.76 L380 929.33 L380.5 928.77 L381 927.26 L381.5 921.82 L382 927.13 L382.5 921.86 L383 929.63 L383.5 921.6 L384 928.81 L384.5 922.74 L385 929.98 L385.5 922.47 L386 922.26 L386.5 922.59 L387 929.87 L387.5 921.22 L388 930.01 L388.5 921.23 L389 922.84 L389.5 922.27 L390 929.19 L390.5 923.72 L391 928.07 L391.5 924.33 L392 927.85 L392.5 921.89 L393 928.85 L393.5 923.56 L394 928.81 L394.5 921.49 L395 929.79 L395.5 927.88 L396 929.85 L396.5 922.97 L397 927.48 L397.5 930 L398 929.19 L398.5 924.11 L399 924.2 L399.5 923.9 L400 929.02 L400.5 923.12 L401 927.94 L401.5 922.28 L402 929.02 L402.5 927.24 L403 927.71 L403.5 928.62 L404 929.81 L404.5 922.04 L405 930.38 L405.5 921.16 L406 927.69 L406.5 921.05 L407 921.05 L407.5 922.61 L408 929.81 L408.5 922.28 L409 930.14 L409.5 921.97 L410 928.38 L410.5 922.55 L411 930.46 L411.5 923.57 L412 929.23 L412.5 928.76 L413 929.69 L413.5 922.53 L414 929.03 L414.5 921.62 L415 927.83 L415.5 927.68 L416 927.57 L416.5 920.81 L417 929.44 L417.5 923.35 L418 929.93 L418.5 921.5 L419 928.15 L419.5 921.89 L420 928.54 L420.5 922.93 L421 920.38 L421.5 927.34 L422 930.6 L422.5 920.67 L423 920.54 L423.5 923.84 L424 921.72 L424.5 923.59 L425 930.61 L425.5 928.83 L426 930.38 L426.5 929.73 L427 928.29 L427.5 930.69 L428 928.53 L428.5 922.28 L429 931.19 L429.5 920.03 L430 930.06 L430.5 921.38 L431 923.87 L431.5 930.17 L432 931.09 L432.5 919.79 L433 922.46 L433.5 920.91 L434 930.24 L434.5 923.81 L435 928.1 L435.5 923.41 L436 931.21 L436.5 922.16 L437 931.48 L437.5 929.11 L438 928.72 L438.5 928.82 L439 922.04 L439.5 920.59 L440 931.78 L440.5 920.47 L441 931.05 L441.5 920.18 L442 931.08 L442.5 920.97 L443 920.34 L443.5 920.15 L444 930.62 L444.5 929.37 L445 929.61 L445.5 920.38 L446 931.85 L446.5 929.83 L447 922.82 L447.5 923.51 L448 928 L448.5 920.27 L449 928.44 L449.5 930.15 L450 930.83 L450.5 920.85 L451 923.54 L451.5 919.48 L452 930.09 L452.5 923.16 L453 930.36 L453.5 922.41 L454 919.85 L454.5 928.14 L455 932 L455.5 928.8 L456 931.27 L456.5 921.01 L457 930.17 L457.5 923.14 L458 920.75 L458.5 920.68 L459 930.27 L459.5 928.57 L460 931.42 L460.5 920.43 L461 931.44 L461.5 927.59 L462 931.28 L462.5 920.14 L463 930.56 L463.5 923.74 L464 930.27 L464.5 922.45 L465 920.29 L465.5 928.73 L466 931.82 L466.5 922.76 L467 922.73 L467.5 922.2 L468 929.53 L468.5 923.74 L469 929.54 L469.5 931.22 L470 930.16 L470.5 921.77 L471 928.17 L471.5 920.51 L472 929.9 L472.5 922.2 L473 921.41 L473.5 921.09 L474 931.46 L474.5 922.72 L475 927.9 L475.5 922.01 L476 923.78 L476.5 923.06 L477 920.7 L477.5 920.12 L478 928.6 L478.5 922.4 L479 930.75 L479.5 920.09 L480 920.89 L480.5 930.26 L481 927.92 L481.5 919.96 L482 927.71 L482.5 919.98 L483 928.03 L483.5 928.6 L484 927.92 L484.5 922.34 L485 930.69 L485.5 923.42 L486 923.43 L486.5 928.6 L487 928.98 L487.5 922.74 L488 931.16 L488.5 920.35 L489 930.07 L489.5 923.08 L490 928.57 L490.5 921.44 L491 921.27 L491.5 920.31 L492 928.83 L492.5 921.85 L493 922.68 L493.5 919.83 L494 923.69 L494.5 931.39 L495 929.37 L495.5 920.86 L496 931.99 L496.5 922.85 L497 922.2 L497.5 920.72 L498 923.02 L498.5 930.28 L499 929.01 L499.5 920.04 L500 921.72 L500.5 922.44 L501 928.36 L501.5 920.7 L502 927.95 L502.5 922.1 L503 928.75 L503.5 923.18 L504 923.26 L504.5 928.12 L505 921.09 L505.5 930.18 L506 930.16 L506.5 931.24 L507 928.53 L507.5 930.69 L508 931.73 L508.5 928.97 L509 929.48 L509.5 919.45 L510 930.36 L510.5 922.7 L511 921.9 L511.5 921.39 L512 930.94 L512.5 919.83 L513 921.77 L513.5 923.34 L514 931.94 L514.5 931.14 L515 928.22 L515.5 928.96 L516 928.75 L516.5 928.91 L517 928.52 L517.5 920.12 L518 929.36 L518.5 931.5 L519 930.52 L519.5 923.55 L520 931.29 L520.5 923.2 L521 928.57 L521.5 919.52 L522 927.88 L522.5 919.65 L523 929.61 L523.5 931.4 L524 929.72 L524.5 919.73 L525 928.77 L525.5 920.59 L526 928.8 L526.5 920.4 L527 928.89 L527.5 930.48 L528 930.08 L528.5 922 L529 931.6 L529.5 923.77 L530 919.49 L530.5 920.52 L531 923.67 L531.5 919.54 L532 928.76 L532.5 923.15 L533 930.13 L533.5 921.36 L534 921.25 L534.5 921.68 L535 928.4 L535.5 920.15 L536 928.86 L536.5 921.93 L537 930.85 L537.5 920.41 L538 929.17 L538.5 923.51 L539 921.96 L539.5 920.91 L540 930.76 L540.5 922.52 L541 930.71 L541.5 929.85 L542 928.32 L542.5 922.81 L543 928.15 L543.5 927.68 L544 929.69 L544.5 921.82 L545 930.16 L545.5 920.49 L546 930.5 L546.5 920.52 L547 920.43 L547.5 919.43 L548 921.68 L548.5 922 L549 929.76 L549.5 920.07 L550 927.93 L550.5 920.33 L551 930.88 L551.5 920.54 L552 929.08 L552.5 920.18 L553 929.34 L553.5 920.44 L554 929.21 L554.5 920.89 L555 929.78 L555.5 923.55 L556 923.73 L556.5 930.25 L557 930.06 L557.5 921.24 L558 931.37 L558.5 921.47 L559 921.31 L559.5 921.8 L560 929.22 L560.5 919.67 L561 931.68 L561.5 923.67 L562 931.42 L562.5 929.84 L563 930.09 L563.5 922.45 L564 930.13 L564.5 922.05 L565 928.95 L565.5 923.8 L566 923.49 L566.5 921.57 L567 928.98 L567.5 923.17 L568 929.91 L568.5 921.06 L569 927.98 L569.5 921.99 L570 922.5 L570.5 919.8 L571 923.5 L571.5 923.54 L572 921.06 L572.5 922.85 L573 920.59 L573.5 921.21 L574 931.35 L574.5 921 L575 930.7 L575.5 922.66 L576 930.23 L576.5 921.15 L577 929.18 L577.5 922.96 L578 922.43 L578.5 919.77 L579 928.92 L579.5 931.29 L580 927.89 L580.5 930.94 L581 921.29 L581.5 929.84 L582 928.69 L582.5 922.2 L583 927.89 L583.5 922.5 L584 931.86 L584.5 922.75 L585 931.37 L585.5 923.01 L586 921.14 L586.5 929.05 L587 930.56 L587.5 929.13 L588 931.85 L588.5 931.46 L589 928.73 L589.5 921.43 L590 927.8 L590.5 920.98 L591 930.42 L591.5 928.16 L592 921.21 L592.5 923.31 L593 929.99 L593.5 931.96 L594 922.57 L594.5 923.32 L595 928 L595.5 931.11 L596 929.14 L596.5 922.08 L597 929.37 L597.5 919.49 L598 931.92 L598.5 922.73 L599 927.81 L599.5 923.58 L600 929.97 L600.5 922.82 L601 928.83 L601.5 922.18 L602 929.95 L602.5 919.92 L603 928.47 L603.5 931.33 L604 919.75 L604.5 928.05 L605 931.68 L605.5 923 L606 931.75 L606.5 931.48 L607 929.07 L607.5 923.19 L608 931 L608.5 928.08 L609 927.87 L609.5 922.35 L610 928.9 L610.5 930.96 L611 927.68 L611.5 921.57 L612 929.3 L612.5 922.42 L613 929.98 L613.5 919.93 L614 929.41 L614.5 922.31 L615 930.98 L615.5 920.47 L616 931.21 L616.5 919.9 L617 928.88 L617.5 921.07 L618 928.1 L618.5 921.33 L619 928.12 L619.5 922.15 L620 931.13 L620.5 920.14 L621 928.24 L621.5 923.81 L622 927.66 L622.5 922.06 L623 930.26 L623.5 922.12 L624 920.53 L624.5 919.81 L625 930.91 L625.5 923.07 L626 928.71 L626.5 923 L627 929.62 L627.5 923.73 L628 921.96 L628.5 921.14 L629 931.87 L629.5 931.62 L630 927.73 L630.5 923.25 L631 922.69 L631.5 930.65 L632 929.75 L632.5 929.35 L633 929.06 L633.5 921.06 L634 920.67 L634.5 930.02 L635 929.64 L635.5 922.57 L636 919.63 L636.5 929.91 L637 919.46 L637.5 931.82 L638 928.1 L638.5 920.87 L639 929.3 L639.5 929.29 L640 921.5 L640.5 920.32 L641 928.97 L641.5 927.8 L642 929.67 L642.5 923.24 L643 921.81 L643.5 923.68 L644 931.07 L644.5 930.68 L645 929.43 L645.5 922.62 L646 930.59 L646.5 920.05 L647 928.62 L647.5 929.32 L648 921.55 L648.5 922.85 L649 929.54 L649.5 921.62 L650 931.5 L650.5 923.07 L651 929.55 L651.5 920.38 L652 919.49 L652.5 923.7 L653 920.7 L653.5 921.5 L654 928.73 L654.5 921.43 L655 931.04 L655.5 921.54 L656 920.01 L656.5 921.96 L657 930.18 L657.5 931.92 L658 931.04 L658.5 920.8 L659 930.06 L659.5 928.06 L660 928.05 L660.5 923.78 L661 930.63 L661.5 919.66 L662 922.65 L662.5 923.11 L663 923.45 L663.5 919.85 L664 929.98 L664.5 928.76 L665 931.51 L665.5 931.94 L666 928.15 L666.5 920.02 L667 931.43 L667.5 930.33 L668 929.41 L668.5 921.89 L669 930.69 L669.5 919.92 L670 919.89 L670.5 922.72 L671 928.2 L671.5 922.12 L672 929.12 L672.5 921.45 L673 922.84 L673.5 929.9 L674 920.29 L674.5 921.66 L675 929.74 L675.5 923.05 L676 929.72 L676.5 929.22 L677 927.95 L677.5 920.26 L678 928.97 L678.5 922.54 L679 930.98 L679.5 921.08 L680 928.6 L680.5 921.79 L681 931.33 L681.5 923.26 L682 931.98 L682.5 920.59 L683 928.35 L683.5 919.67 L684 919.8 L684.5 921.39 L685 928.65 L685.5 930.15 L686 928.05 L686.5 920.27 L687 928.54 L687.5 922.72 L688 931.37 L688.5 930.67 L689 922.77 L689.5 930.51 L690 931.64 L690.5 920.9 L691 931.34 L691.5 920.21 L692 929.46 L692.5 922.93 L693 923.63 L693.5 921.62 L694 923.56 L694.5 923.34 L695 929.94 L695.5 921.84 L696 928.21 L696.5 920.15 L697 929.49 L697.5 921.66 L698 930.97 L698.5 919.67 L699 929.03 L699.5 931.12 L700 928.97 L700.5 923.62 L701 931.22 L701.5 920.38 L702 929.85 L702.5 921.55 L703 930.24 L703.5 921.7 L704 928.79 L704.5 920.43 L705 930.69 L705.5 922.32 L706 929.64 L706.5 920.77 L707 928.21 L707.5 921.04 L708 931.87 L708.5 921.98 L709 920.31 L709.5 920.78 L710 930.59 L710.5 921.47 L711 920.84 L711.5 929.07 L712 930.21 L712.5 919.44 L713 931.14 L713.5 921.49 L714 931.42 L714.5 920.39 L715 931.75 L715.5 930.69 L716 930.91 L716.5 931.43 L717 930.28 L717.5 920.33 L718 928.67 L718.5 929.23 L719 928.55 L719.5 921.57 L720 931.77 L720.5 928.76 L721 923.28 L721.5 931.42 L722 929.24 L722.5 920.02" stroke="#e2155a" stroke-width="0.5" fill="none" stroke-linejoin="round"/>
<path d="M38.2 926.57 L38.45 923.91 L38.7 926.61 L38.95 922.21 L39.2 923.93 L39.45 922.32 L39.7 928.34 L39.95 923.35 L40.2 927.14 L40.45 922.98 L40.7 922.65 L40.95 926.31 L41.2 926.79 L41.45 922.32 L41.7 928.36 L41.95 922.98 L42.2 926.92 L42.45 923.09 L42.7 927.53 L42.95 922.36 L43.2 927.95 L43.45 923.85 L43.7 927.08 L43.95 927.38 L44.2 927.98 L44.45 927.49 L44.7 924.14 L44.95 923.22 L45.2 923.68 L45.45 922.54 L45.7 927.88 L45.95 927.76 L46.2 923.9 L46.45 927.41 L46.7 922.84 L46.95 922.42 L47.2 927.97 L47.45 922.2 L47.7 928.14 L47.95 923.61 L48.2 927.02 L48.45 923.21 L48.7 926.33 L48.95 926.66 L49.2 926.64 L49.45 928.01 L49.7 927.77 L49.95 928.44 L50.2 922.71 L50.45 923.46 L50.7 927.1 L50.95 924.22 L51.2 923.7 L51.45 923.91 L51.7 928.39 L51.95 927.84 L52.2 922.82 L52.45 922.76 L52.7 923.43 L52.95 926.55 L53.2 924.28 L53.45 923.47 L53.7 928.1 L53.95 923.48 L54.2 928.24 L54.45 922.72 L54.7 926.74 L54.95 928.2 L55.2 927.18 L55.45 923.86 L55.7 926.45 L55.95 922.25 L56.2 924.24 L56.45 922.14 L56.7 926.42 L56.95 922.47 L57.2 927.16 L57.45 922.11 L57.7 928.46 L57.95 922.48 L58.2 928.32 L58.45 926.91 L58.7 923.72 L58.95 924.03 L59.2 926.65 L59.45 926.82 L59.7 926.61 L59.95 926.37 L60.2 927.7 L60.45 922.84 L60.7 927.67 L60.95 922.91 L61.2 922.83 L61.45 923.54 L61.7 924.08 L61.95 926.3 L62.2 928.49 L62.45 922.2 L62.7 928.26 L62.95 923.71 L63.2 923.8 L63.45 924.08 L63.7 928.24 L63.95 922.34 L64.2 927.26 L64.45 923.29 L64.7 926.9 L64.95 924.11 L65.2 923.56 L65.45 928.43 L65.7 922.69 L65.95 922.39 L66.2 924.28 L66.45 923.29 L66.7 922.59 L66.95 923.32 L67.2 926.86 L67.45 926.58 L67.7 923.48 L67.95 922.23 L68.2 926.9 L68.45 924.24 L68.7 928.24 L68.95 923.01 L69.2 923.9 L69.45 923.36 L69.7 927.14 L69.95 923.15 L70.2 923.65 L70.45 922.45 L70.7 927.26 L70.95 924.24 L71.2 927.08 L71.45 923.46 L71.7 927.31 L71.95 923.6 L72.2 927.13 L72.45 923.3 L72.7 926.61 L72.95 922.65 L73.2 927.63 L73.45 922.36 L73.7 928.28 L73.95 922.83 L74.2 928.11 L74.45 926.72 L74.7 923.79 L74.95 922.34 L75.2 926.43 L75.45 924.26 L75.7 927.6 L75.95 922.96 L76.2 927.42 L76.45 922.27 L76.7 928.24 L76.95 923.87 L77.2 924.16 L77.45 924.24 L77.7 928.16 L77.95 923.11 L78.2 927.83 L78.45 922.24 L78.7 927.01 L78.95 922.17 L79.2 927.41 L79.45 928.06 L79.7 922.48 L79.95 923.27 L80.2 926.77 L80.45 923.46 L80.7 922.71 L80.95 922.78 L81.2 926.9 L81.45 922.55 L81.7 926.77 L81.95 923.25 L82.2 928.44 L82.45 923.52 L82.7 928.19 L82.95 923.72 L83.2 922.15 L83.45 924.34 L83.7 923.27 L83.95 928.38 L84.2 928.11 L84.45 924.31 L84.7 927.32 L84.95 928.22 L85.2 922.57 L85.45 923.07 L85.7 923.38 L85.95 923.02 L86.2 926.63 L86.45 923.43 L86.7 926.61 L86.95 928.44 L87.2 928.11 L87.45 922.38 L87.7 926.71 L87.95 923.1 L88.2 926.49 L88.45 922.98 L88.7 923.28 L88.95 926.57 L89.2 926.81 L89.45 924.27 L89.7 928.27 L89.95 923.73 L90.2 928 L90.45 926.96 L90.7 926.7 L90.95 923.62 L91.2 923.36 L91.45 923.95 L91.7 923.21 L91.95 922.73 L92.2 923.67 L92.45 923.62 L92.7 926.68 L92.95 923.28 L93.2 927.36 L93.45 923.03 L93.7 922.78 L93.95 924.02 L94.2 926.94 L94.45 926.8 L94.7 923.86 L94.95 926.73 L95.2 926.47 L95.45 922.25 L95.7 924.32 L95.95 923.09 L96.2 928.38 L96.45 923.76 L96.7 922.52 L96.95 923.47 L97.2 926.7 L97.45 928.44 L97.7 927.48 L97.95 923.45 L98.2 927.8 L98.45 923.64 L98.7 926.79 L98.95 923.14 L99.2 923.4 L99.45 923.95 L99.7 927.11 L99.95 923.74 L100.2 927.17 L100.45 927.94 L100.7 926.49 L100.95 922.62 L101.2 928.42 L101.45 922.81 L101.7 927.75 L101.95 927.62 L102.2 923.51 L102.45 923.11 L102.7 922.71 L102.95 923.5 L103.2 927.99 L103.45 928.15 L103.7 926.87 L103.95 928.06 L104.2 926.87 L104.45 923.83 L104.7 928.45 L104.95 923.1 L105.2 927.75 L105.45 922.54 L105.7 928.25 L105.95 927.11 L106.2 922.76 L106.45 924.04 L106.7 923.34 L106.95 924.33 L107.2 927.88 L107.45 926.45 L107.7 923.54 L107.95 926.65 L108.2 922.33 L108.45 927.71 L108.7 922.28 L108.95 924.14 L109.2 927.88 L109.45 923.67 L109.7 928.37 L109.95 924.04 L110.2 927.84 L110.45 922.59 L110.7 928 L110.95 922.76 L111.2 923.81 L111.45 927.32 L111.7 927.91 L111.95 923.7 L112.2 928.03 L112.45 923.36 L112.7 927.07 L112.95 922.42 L113.2 927.22 L113.45 923.13 L113.7 927.79 L113.95 928.09 L114.2 924.18 L114.45 927.13 L114.7 926.81 L114.95 923.75 L115.2 926.59 L115.45 922.47 L115.7 926.83 L115.95 923.86 L116.2 927.45 L116.45 922.26 L116.7 926.33 L116.95 923.86 L117.2 928.07 L117.45 923.49 L117.7 922.37 L117.95 924.01 L118.2 926.7 L118.45 922.52 L118.7 926.94 L118.95 924.26 L119.2 923.71 L119.45 928.08 L119.7 928.34 L119.95 923.32 L120.2 926.85 L120.45 922.49 L120.7 927.64 L120.95 922.72 L121.2 928.12 L121.45 922.23 L121.7 926.67 L121.95 928.36 L122.2 927.67 L122.45 922.29 L122.7 926.76 L122.95 926.48 L123.2 926.69 L123.45 922.2 L123.7 923.06 L123.95 922.71 L124.2 924.11 L124.45 924.14 L124.7 927.15 L124.95 924.25 L125.2 927.14 L125.45 923.97 L125.7 927.27 L125.95 927.25 L126.2 927.66 L126.45 923.33 L126.7 928.41 L126.95 923.45 L127.2 927.75 L127.45 927.29 L127.7 926.59 L127.95 922.13 L128.2 926.83 L128.45 922.47 L128.7 923.15 L128.95 926.3 L129.2 927.19 L129.45 924.06 L129.7 923.8 L129.95 923.04 L130.2 927.75 L130.45 922.85 L130.7 928.34 L130.95 922.99 L131.2 926.48 L131.45 927.87 L131.7 922.94 L131.95 922.36 L132.2 926.68 L132.45 927.22 L132.7 928.09 L132.95 923.54 L133.2 926.32 L133.45 922.18 L133.7 926.91 L133.95 922.4 L134.2 927.28 L134.45 922.53 L134.7 926.31 L134.95 927.05 L135.2 923.04 L135.45 923.86 L135.7 927.23 L135.95 928.27 L136.2 927.3 L136.45 923.06 L136.7 926.62 L136.95 922.44 L137.2 924.02 L137.45 922.27 L137.7 926.27 L137.95 922.57 L138.2 927.64 L138.45 922.24 L138.7 928.46 L138.95 927.88 L139.2 928.46 L139.45 922.39 L139.7 926.62 L139.95 922.69 L140.2 928.19 L140.45 922.77 L140.7 926.29 L140.95 926.84 L141.2 926.82 L141.45 927.34 L141.7 927.14 L141.95 923.58 L142.2 928.35 L142.45 922.14 L142.7 928.38 L142.95 923.73 L143.2 928.37 L143.45 924.26 L143.7 926.71 L143.95 927.37 L144.2 927.37 L144.45 926.27 L144.7 927.75 L144.95 923.86 L145.2 923.04 L145.45 923.99 L145.7 927.2 L145.95 927.6 L146.2 928.13 L146.45 923.32 L146.7 926.5 L146.95 924.04 L147.2 926.29 L147.45 928.01 L147.7 926.47 L147.95 927.37 L148.2 926.76 L148.45 927.3 L148.7 926.52 L148.95 924 L149.2 927.59 L149.45 924.27 L149.7 927.02 L149.95 924.14 L150.2 927.88 L150.45 924.24 L150.7 927.55 L150.95 923.49 L151.2 927.52 L151.45 926.36 L151.7 926.63 L151.95 924.02 L152.2 922.28 L152.45 928.21 L152.7 928.23 L152.95 928 L153.2 926.54 L153.45 927.07 L153.7 928.19 L153.95 924.23 L154.2 924.17 L154.45 923.83 L154.7 927.05 L154.95 922.99 L155.2 928.49 L155.45 927.55 L155.7 926.78 L155.95 922.84 L156.2 928.08 L156.45 926.65 L156.7 926.31 L156.95 923.06 L157.2 926.29 L157.45 928.23 L157.7 922.93 L157.95 928.36 L158.2 926.82 L158.45 924.02 L158.7 923.24 L158.95 924 L159.2 927.45 L159.45 922.83 L159.7 923.79 L159.95 928.19 L160.2 927.24 L160.45 923.74 L160.7 924.09 L160.95 922.95 L161.2 923.26 L161.45 924.01 L161.7 928.44 L161.95 922.33 L162.2 922.36 L162.45 922.41 L162.7 926.69 L162.95 922.69 L163.2 927.23 L163.45 922.76 L163.7 926.64 L163.95 923.34 L164.2 927.01 L164.45 923.06 L164.7 928.13 L164.95 924.01 L165.2 928.05 L165.45 928.07 L165.7 927.73 L165.95 923.92 L166.2 923.56 L166.45 923.28 L166.7 927.45 L166.95 922.83 L167.2 928.06 L167.45 922.79 L167.7 927.01 L167.95 928.46 L168.2 924.22 L168.45 923.37 L168.7 922.46 L168.95 927.75 L169.2 928.5 L169.45 922.57 L169.7 927.03 L169.95 927.75 L170.2 926.99 L170.45 922.99 L170.7 923.9 L170.95 922.57 L171.2 928.47 L171.45 926.97 L171.7 922.58 L171.95 922.68 L172.2 922.48 L172.45 922.79 L172.7 927.6 L172.95 922.3 L173.2 923.23 L173.45 922.55 L173.7 927.78 L173.95 924.15 L174.2 927.41 L174.45 924.2 L174.7 927.91 L174.95 923.21 L175.2 927.21 L175.45 922.98 L175.7 927.94 L175.95 923.76 L176.2 927.83 L176.45 923.13 L176.7 926.41 L176.95 922.35 L177.2 922.19 L177.45 922.76 L177.7 927.31 L177.95 928.24 L178.2 927.34 L178.45 927.47 L178.7 928 L178.95 922.95 L179.2 926.83 L179.45 922.55 L179.7 927.78 L179.95 923.73 L180.2 926.9 L180.45 922.15 L180.7 928.32 L180.95 923.95 L181.2 927.1 L181.45 924.29 L181.7 923.41 L181.95 928.43 L182.2 927.61 L182.45 922.96 L182.7 927.61 L182.95 923.78 L183.2 923.9 L183.45 923.25 L183.7 927.93 L183.95 922.27 L184.2 926.52 L184.45 922.46 L184.7 924.1 L184.95 922.45 L185.2 927.81 L185.45 924.05 L185.7 928.13 L185.95 926.41 L186.2 923.49 L186.45 922.7 L186.7 927.01 L186.95 923.87 L187.2 928.38 L187.45 924.05 L187.7 922.67 L187.95 923.07 L188.2 928.21 L188.45 924.21 L188.7 926.73 L188.95 926.87 L189.2 926.28 L189.45 922.49 L189.7 926.86 L189.95 923.91 L190.2 922.27 L190.45 924.13 L190.7 927.56 L190.95 927.74 L191.2 923.27 L191.45 923.44 L191.7 926.64 L191.95 924.31 L192.2 926.44 L192.45 923.17 L192.7 926.43 L192.95 922.59 L193.2 928.43 L193.45 922.32 L193.7 926.68 L193.95 923.94 L194.2 922.62 L194.45 923.11 L194.7 923.21 L194.95 923.33 L195.2 927.51 L195.45 922.65 L195.7 922.2 L195.95 923.38 L196.2 927.84 L196.45 927.84 L196.7 926.77 L196.95 922.97 L197.2 928.13 L197.45 922.87 L197.7 927.14 L197.95 923.32 L198.2 928.14 L198.45 927.64 L198.7 927.72 L198.95 926.87 L199.2 926.35 L199.45 923.83 L199.7 927.19 L199.95 924.08 L200.2 926.88 L200.45 922.67 L200.7 926.84 L200.95 928.52 L201.2 927.33 L201.45 927.7 L201.7 928.39 L201.95 927.73 L202.2 927.13 L202.45 926.31 L202.7 922.35 L202.95 920.9 L203.2 921.41 L203.45 921.92 L203.7 924.5 L203.95 925.39 L204.2 928.89 L204.45 931.92 L204.7 928.91 L204.95 929.53 L205.2 924.39 L205.45 923.52 L205.7 918.64 L205.95 917.29 L206.2 921.6 L206.45 923.58 L206.7 925.51 L206.95 931.01 L207.2 930.1 L207.45 934.07 L207.7 931.07 L207.95 926.01 L208.2 920.82 L208.45 922.59 L208.7 916.83 L208.95 918.65 L209.2 922.38 L209.45 921.29 L209.7 928.43 L209.95 933.65 L210.2 933.75 L210.45 922.26 L210.7 930.77 L210.95 905.4 L211.2 945.5 L211.45 916.99 L211.7 931.53 L211.95 920.98 L212.2 929.5 L212.45 922.3 L212.7 927.19 L212.95 923.83 L213.2 926.42 L213.45 924.61 L213.7 925.95 L213.95 917.11 L214.2 916.59 L214.45 907.83 L214.7 916.53 L214.95 916.77 L215.2 927.1 L215.45 937.75 L215.7 936.3 L215.95 940.64 L216.2 933.37 L216.45 927.19 L216.7 915.81 L216.95 910.2 L217.2 910.98 L217.45 919.56 L217.7 917.17 L217.95 927.33 L218.2 931.63 L218.45 936.63 L218.7 931.9 L218.95 926.98 L219.2 924.53 L219.45 917.53 L219.7 915.88 L219.95 914.57 L220.2 915.77 L220.45 926.24 L220.7 927.09 L220.95 932.16 L221.2 932.31 L221.45 931.3 L221.7 925.47 L221.95 923.27 L222.2 919.81 L222.45 914.41 L222.7 919.08 L222.95 918.59 L223.2 929.51 L223.45 927.27 L223.7 935.55 L223.95 936.72 L224.2 928.63 L224.45 927.33 L224.7 917.41 L224.95 915.95 L225.2 916.87 L225.45 917.07 L225.7 926.12 L225.95 925.87 L226.2 932.5 L226.45 935.51 L226.7 936.74 L226.95 932.13 L227.2 927 L227.45 921.95 L227.7 918.33 L227.95 916.98 L228.2 916.84 L228.45 922.77 L228.7 925.69 L228.95 931.7 L229.2 931.53 L229.45 931.39 L229.7 926.5 L229.95 920.52 L230.2 919.54 L230.45 912.93 L230.7 916.1 L230.95 918.12 L231.2 921.58 L231.45 928.2 L231.7 934.81 L231.95 934.15 L232.2 933.35 L232.45 928.78 L232.7 921.61 L232.95 920.41 L233.2 920.21 L233.45 914.61 L233.7 919.34 L233.95 921.46 L234.2 930.54 L234.45 931.2 L234.7 930.79 L234.95 928.76 L235.2 931.78 L235.45 924.21 L235.7 918.02 L235.95 916.83 L236.2 917.05 L236.45 916.51 L236.7 927.17 L236.95 932.75 L237.2 931.89 L237.45 931.47 L237.7 934.92 L237.95 927.22 L238.2 922.95 L238.45 922.7 L238.7 918.56 L238.95 915.48 L239.2 915.03 L239.45 924.41 L239.7 927.66 L239.95 931.79 L240.2 932.21 L240.45 932.05 L240.7 930.87 L240.95 925.92 L241.2 923.78 L241.45 919.15 L241.7 917.57 L241.95 920.45 L242.2 919.35 L242.45 927.71 L242.7 933.67 L242.95 935.88 L243.2 933.89 L243.45 930.53 L243.7 929.82 L243.95 923.4 L244.2 916.86 L244.45 917.5 L244.7 913.61 L244.95 920.12 L245.2 928.19 L245.45 930.21 L245.7 934.12 L245.95 935.82 L246.2 928.71 L246.45 928.26 L246.7 925.21 L246.95 916.57 L247.2 915.86 L247.45 917.35 L247.7 918.37 L247.95 923.16 L248.2 928.7 L248.45 934.1 L248.7 930.69 L248.95 934.73 L249.2 926.23 L249.45 923.92 L249.7 922.82 L249.95 919.84 L250.2 915.62 L250.45 917.36 L250.7 925.99 L250.95 932.11 L251.2 932.98 L251.45 934.24 L251.7 934.24 L251.95 932.54 L252.2 925.78 L252.45 917.39 L252.7 913.61 L252.95 916.64 L253.2 920.91 L253.45 921.56 L253.7 927.87 L253.95 928.07 L254.2 933.85 L254.45 930.7 L254.7 934.81 L254.95 928.25 L255.2 920.71 L255.45 922.44 L255.7 913.27 L255.95 918.83 L256.2 915.42 L256.45 925.06 L256.7 928.5 L256.95 935.28 L257.2 930.36 L257.45 932.72 L257.7 927.63 L257.95 926.63 L258.2 921.27 L258.45 919.77 L258.7 918.6 L258.95 922.18 L259.2 919.61 L259.45 925.87 L259.7 934.92 L259.95 934.91 L260.2 935.07 L260.45 932.25 L260.7 923.18 L260.95 917.56 L261.2 913.2 L261.45 914.29 L261.7 920.33 L261.95 925.22 L262.2 925.19 L262.45 930.24 L262.7 938.11 L262.95 935.76 L263.2 926.23 L263.45 926.76 L263.7 917.48 L263.95 918.6 L264.2 918.59 L264.45 914.83 L264.7 921.33 L264.95 928.66 L265.2 928.07 L265.45 933.27 L265.7 934.45 L265.95 930.57 L266.2 927.21 L266.45 920.17 L266.7 921.33 L266.95 916.57 L267.2 917.14 L267.45 922.34 L267.7 926.39 L267.95 929.43 L268.2 931.19 L268.45 930.67 L268.7 931.83 L268.95 930.47 L269.2 925.41 L269.45 917.33 L269.7 915.49 L269.95 919.75 L270.2 918.96 L270.45 920.93 L270.7 931.26 L270.95 935.21 L271.2 937.31 L271.45 935.09 L271.7 931.78 L271.95 925.22 L272.2 917.65 L272.45 915.72 L272.7 914.11 L272.95 917.1 L273.2 923.47 L273.45 924.96 L273.7 931.72 L273.95 930.88 L274.2 933.06 L274.45 929.86 L274.7 925.53 L274.95 925.93 L275.2 916.21 L275.45 914.22 L275.7 919.44 L275.95 922.68 L276.2 926.82 L276.45 930.9 L276.7 931.58 L276.95 929.77 L277.2 932.38 L277.45 927.66 L277.7 922.29 L277.95 919.55 L278.2 919.27 L278.45 916.33 L278.7 920.84 L278.95 930.52 L279.2 934.25 L279.45 931.88 L279.7 932.63 L279.95 933.6 L280.2 929.36 L280.45 925.64 L280.7 920.81 L280.95 914.49 L281.2 917.9 L281.45 922.67 L281.7 923.93 L281.95 927.82 L282.2 935.61 L282.45 930.43 L282.7 929.56 L282.95 924.97 L283.2 926.83 L283.45 917.08 L283.7 919.82 L283.95 920.4 L284.2 920.46 L284.45 921.85 L284.7 928.9 L284.95 930.34 L285.2 935.31 L285.45 932.99 L285.7 929.93 L285.95 924.76 L286.2 917.98 L286.45 918.65 L286.7 919.39 L286.95 920.24 L287.2 926.5 L287.45 929.54 L287.7 931.38 L287.95 931.43 L288.2 933.58 L288.45 930.36 L288.7 923.99 L288.95 917.7 L289.2 917.4 L289.45 915.02 L289.7 916.36 L289.95 925.35 L290.2 927.98 L290.45 930.13 L290.7 932.37 L290.95 931.89 L291.2 927.46 L291.45 926.91 L291.7 922.45 L291.95 916.51 L292.2 917.33 L292.45 919.57 L292.7 919.26 L292.95 927.1 L293.2 929.47 L293.45 930.19 L293.7 933.51 L293.95 929.74 L294.2 927.81 L294.45 923.8 L294.7 921.83 L294.95 916.4 L295.2 919.48 L295.45 924.06 L295.7 928.2 L295.95 932.78 L296.2 929.51 L296.45 935.33 L296.7 929.19 L296.95 924.83 L297.2 923.98 L297.45 921.3 L297.7 919.83 L297.95 918.92 L298.2 921.7 L298.45 928.93 L298.7 928.36 L298.95 929.31 L299.2 929.37 L299.45 928.01 L299.7 924.46 L299.95 926.35 L300.2 917.74 L300.45 920.74 L300.7 917.81 L300.95 924.37 L301.2 925.03 L301.45 926.54 L301.7 928.61 L301.95 932.19 L302.2 929.39 L302.45 926.71 L302.7 924.03 L302.95 922.69 L303.2 918.19 L303.45 921.75 L303.7 918.88 L303.95 923.63 L304.2 928.73 L304.45 928.99 L304.7 933.31 L304.95 930.13 L305.2 927.81 L305.45 924.71 L305.7 919.93 L305.95 916.28 L306.2 922.07 L306.45 920.35 L306.7 926.35 L306.95 927.11 L307.2 929.11 L307.45 932.42 L307.7 928.73 L307.95 923.98 L308.2 924.24 L308.45 917.92 L308.7 919.61 L308.95 918.79 L309.2 919.98 L309.45 924.21 L309.7 929.41 L309.95 933.25 L310.2 929.18 L310.45 931.09 L310.7 926.43 L310.95 925.09 L311.2 918.97 L311.45 917.37 L311.7 920.5 L311.95 924.24 L312.2 927.03 L312.45 927.98 L312.7 932.78 L312.95 930.77 L313.2 931.17 L313.45 927.48 L313.7 923.54 L313.95 918.67 L314.2 918.85 L314.45 921.43 L314.7 921.46 L314.95 925.04 L315.2 927.35 L315.45 929.71 L315.7 930.65 L315.95 930.96 L316.2 924.95 L316.45 923.75 L316.7 923.38 L316.95 917.6 L317.2 920.75 L317.45 923.47 L317.7 924.6 L317.95 926.81 L318.2 929.48 L318.45 929.65 L318.7 931.87 L318.95 926.4 L319.2 925.54 L319.45 923.6 L319.7 920.62 L319.95 920.44 L320.2 919.22 L320.45 924.23 L320.7 926.31 L320.95 926.89 L321.2 928.16 L321.45 929.73 L321.7 928.61 L321.95 925.79 L322.2 924.37 L322.45 920.76 L322.7 917.69 L322.95 921.48 L323.2 921.86 L323.45 926.19 L323.7 929.99 L323.95 930.26 L324.2 932.22 L324.45 931.48 L324.7 927.07 L324.95 922.23 L325.2 922.54 L325.45 921.01 L325.7 920.27 L325.95 923.5 L326.2 926.27 L326.45 926.47 L326.7 930.03 L326.95 931.74 L327.2 930.48 L327.45 927.53 L327.7 926.21 L327.95 921.62 L328.2 920.02 L328.45 922.18 L328.7 922.75 L328.95 922.99 L329.2 928.82 L329.45 928.79 L329.7 931.95 L329.95 929.52 L330.2 930.37 L330.45 924.84 L330.7 925.04 L330.95 923.2 L331.2 919.42 L331.45 919.66 L331.7 922.35 L331.95 926.07 L332.2 927.11 L332.45 931.59 L332.7 930.43 L332.95 928.35 L333.2 925.2 L333.45 925.36 L333.7 923.17 L333.95 922.61 L334.2 922.84 L334.45 924.15 L334.7 927.18 L334.95 926.85 L335.2 928.69 L335.45 929.54 L335.7 927.29 L335.95 926.82 L336.2 923.55 L336.45 922.06 L336.7 919.38 L336.95 920.31 L337.2 924.09 L337.45 923.45 L337.7 927.98 L337.95 927.67 L338.2 929.48 L338.45 929.06 L338.7 926.29 L338.95 926.08 L339.2 920.8 L339.45 922.75 L339.7 920.31 L339.95 923.13 L340.2 922.83 L340.45 924.92 L340.7 928.01 L340.95 929.23 L341.2 930.76 L341.45 929.6 L341.7 924.22 L341.95 924.05 L342.2 921.08 L342.45 920.99 L342.7 922.33 L342.95 921.53 L343.2 924.51 L343.45 928.39 L343.7 930.2 L343.95 930.54 L344.2 928.12 L344.45 927.58 L344.7 923.79 L344.95 923.59 L345.2 922.91 L345.45 919.98 L345.7 921.55 L345.95 925.96 L346.2 927.07 L346.45 927.34 L346.7 929.76 L346.95 927.62 L347.2 927.19 L347.45 925.08 L347.7 920.86 L347.95 920.5 L348.2 922.23 L348.45 924.05 L348.7 926.77 L348.95 928.61 L349.2 929.75 L349.45 929.83 L349.7 928.91 L349.95 925.23 L350.2 922.61 L350.45 922.6 L350.7 921.14 L350.95 922.67 L351.2 925.1 L351.45 927.12 L351.7 926.41 L351.95 930.09 L352.2 927.18 L352.45 927.53 L352.7 925.71 L352.95 923.42 L353.2 922.73 L353.45 921.82 L353.7 922.28 L353.95 923.59 L354.2 924.71 L354.45 927.26 L354.7 927.99 L354.95 930.06 L355.2 926.68 L355.45 926.89 L355.7 925.04 L355.95 921.74 L356.2 922.42 L356.45 922.04 L356.7 924.28 L356.95 926.08 L357.2 927.31 L357.45 927.18 L357.7 929.07 L357.95 927.06 L358.2 926.54 L358.45 924.13 L358.7 921.07 L358.95 922.43 L359.2 923.63 L359.45 925.07 L359.7 925.8 L359.95 928.25 L360.2 927.97 L360.45 927.17 L360.7 926.6 L360.95 927.54 L361.2 924.24 L361.45 921.87 L361.7 922.3 L361.95 921.2 L362.2 922.59 L362.45 924.98 L362.7 928.03 L362.95 929.24 L363.2 928.29 L363.45 928.52 L363.7 924.88 L363.95 923.65 L364.2 924.35 L364.45 921.91 L364.7 922.7 L364.95 923.18 L365.2 925.44 L365.45 927.08 L365.7 926.82 L365.95 927.82 L366.2 927.54 L366.45 926.35 L366.7 925.12 L366.95 923.58 L367.2 921.18 L367.45 922.48 L367.7 923 L367.95 924.91 L368.2 926.66 L368.45 926.87 L368.7 922.25 L368.95 931.78 L369.2 906 L369.45 950 L369.7 911.24 L369.95 938.82 L370.2 916.42 L370.45 935.93 L370.7 919.26 L370.95 932.74 L371.2 920.96 L371.45 930.41 L371.7 921.27 L371.95 929.54 L372.2 922.5 L372.45 928.1 L372.7 923.39 L372.95 927.27 L373.2 924.03 L373.45 926.73 L373.7 924.39 L373.95 926.34 L374.2 928.23 L374.45 928.06 L374.7 927.27 L374.95 926.91 L375.2 923.19 L375.45 923.56 L375.7 922.41 L375.95 922.59 L376.2 923.11 L376.45 926.71 L376.7 926.68 L376.95 928.35 L377.2 929.79 L377.45 928.37 L377.7 926.9 L377.95 924.16 L378.2 923.3 L378.45 923.09 L378.7 921.62 L378.95 924.24 L379.2 923.78 L379.45 925.58 L379.7 927.82 L379.95 929.24 L380.2 928.24 L380.45 926.09 L380.7 925.77 L380.95 924.83 L381.2 922.11 L381.45 923.36 L381.7 921.76 L381.95 924.89 L382.2 927.03 L382.45 926.93 L382.7 928.13 L382.95 927.07 L383.2 927.25 L383.45 925.28 L383.7 923.07 L383.95 921.98 L384.2 921.46 L384.45 922.81 L384.7 925.77 L384.95 926.01 L385.2 927.99 L385.45 927.93 L385.7 927.98 L385.95 927.17 L386.2 924.68 L386.45 923.57 L386.7 923.18 L386.95 922.56 L387.2 924.78 L387.45 925.89 L387.7 925.79 L387.95 928.14 L388.2 927.34 L388.45 927.9 L388.7 925.7 L388.95 923.63 L389.2 923.51 L389.45 922.56 L389.7 923.09 L389.95 922.84 L390.2 926.2 L390.45 927.44 L390.7 928.03 L390.95 929.46 L391.2 928.02 L391.45 925.14 L391.7 924.68 L391.95 923.71 L392.2 923.32 L392.45 922.77 L392.7 922.97 L392.95 926.32 L393.2 926.1 L393.45 929.43 L393.7 927.38 L393.95 928.85 L394.2 926.57 L394.45 923.53 L394.7 923.62 L394.95 921.96 L395.2 923.61 L395.45 922.31 L395.7 923.44 L395.95 927.2 L396.2 927.97 L396.45 927.72 L396.7 929.04 L396.95 926.38 L397.2 925.49 L397.45 924.09 L397.7 923.97 L397.95 921.83 L398.2 923.42 L398.45 925.01 L398.7 925.26 L398.95 926.66 L399.2 927.96 L399.45 930.48 L399.7 927.5 L399.95 925.81 L400.2 924.9 L400.45 922.86 L400.7 919.64 L400.95 920.98 L401.2 920.49 L401.45 922.98 L401.7 925.6 L401.95 930.54 L402.2 928.98 L402.45 931.85 L402.7 928.73 L402.95 924.82 L403.2 922.79 L403.45 918.2 L403.7 916.74 L403.95 919.75 L404.2 925.08 L404.45 929 L404.7 932.44 L404.95 933.72 L405.2 931.17 L405.45 933.08 L405.7 929.49 L405.95 922.28 L406.2 919.47 L406.45 917.88 L406.7 921.66 L406.95 921.75 L407.2 923.71 L407.45 926.03 L407.7 928.59 L407.95 932.87 L408.2 929.97 L408.45 930.43 L408.7 926.96 L408.95 920.97 L409.2 919.13 L409.45 920.16 L409.7 922.71 L409.95 922.58 L410.2 930.92 L410.45 930.09 L410.7 929.6 L410.95 930.2 L411.2 931.29 L411.45 922.45 L411.7 919.07 L411.95 915.49 L412.2 917.92 L412.45 917.2 L412.7 925.27 L412.95 926.18 L413.2 933.14 L413.45 935.67 L413.7 933.13 L413.95 930.39 L414.2 924.18 L414.45 920.68 L414.7 915.01 L414.95 920.49 L415.2 922.05 L415.45 919.81 L415.7 928.71 L415.95 927.68 L416.2 932.23 L416.45 932.34 L416.7 931.75 L416.95 929.94 L417.2 925.78 L417.45 916.55 L417.7 915.46 L417.95 916.1 L418.2 918.1 L418.45 924.16 L418.7 930.76 L418.95 935.14 L419.2 933.25 L419.45 932.96 L419.7 932.51 L419.95 926.75 L420.2 924.28 L420.45 916.73 L420.7 913.89 L420.95 916.31 L421.2 919.96 L421.45 924.17 L421.7 930.83 L421.95 935.43 L422.2 930.8 L422.45 932.91 L422.7 929.55 L422.95 924.97 L423.2 921.32 L423.45 918.02 L423.7 917.94 L423.95 921.03 L424.2 923.77 L424.45 929.83 L424.7 932.51 L424.95 933.59 L425.2 931.19 L425.45 925.71 L425.7 920.77 L425.95 922.58 L426.2 915.76 L426.45 914.69 L426.7 918.01 L426.95 928.14 L427.2 929.77 L427.45 934.37 L427.7 933.56 L427.95 930.65 L428.2 930.49 L428.45 925.89 L428.7 918.92 L428.95 916.58 L429.2 915.93 L429.45 922.76 L429.7 923.34 L429.95 932.26 L430.2 934.48 L430.45 931.04 L430.7 933.97 L430.95 930.59 L431.2 925.35 L431.45 915.43 L431.7 917.27 L431.95 920.57 L432.2 921.61 L432.45 924.47 L432.7 931.68 L432.95 932.27 L433.2 932.89 L433.45 932.45 L433.7 931.04 L433.95 925.15 L434.2 921.78 L434.45 916 L434.7 914.28 L434.95 919.63 L435.2 928.59 L435.45 933.1 L435.7 935.73 L435.95 936.51 L436.2 936.19 L436.45 926.71 L436.7 921.61 L436.95 919.47 L437.2 913.23 L437.45 918.78 L437.7 920.86 L437.95 927.56 L438.2 931.05 L438.45 932.52 L438.7 933.15 L438.95 930.76 L439.2 932.38 L439.45 926.44 L439.7 924.9 L439.95 918.3 L440.2 918.52 L440.45 919.09 L440.7 921.76 L440.95 924.95 L441.2 927.14 L441.45 934.13 L441.7 935.69 L441.95 933.16 L442.2 925.71 L442.45 924.21 L442.7 921.27 L442.95 917.44 L443.2 916.06 L443.45 920.11 L443.7 924.44 L443.95 930 L444.2 932.13 L444.45 935.27 L444.7 935.54 L444.95 925.48 L445.2 926.37 L445.45 921.15 L445.7 919.87 L445.95 920.17 L446.2 919.8 L446.45 924.83 L446.7 929.78 L446.95 932.25 L447.2 932.18 L447.45 936.76 L447.7 929.14 L447.95 923.47 L448.2 921.91 L448.45 918.03 L448.7 915.46 L448.95 918.57 L449.2 922.54 L449.45 929.04 L449.7 932.02 L449.95 933.89 L450.2 934.28 L450.45 929.14 L450.7 926.13 L450.95 922.98 L451.2 922.25 L451.45 914.2 L451.7 916.15 L451.95 921.59 L452.2 927.91 L452.45 932.76 L452.7 930.06 L452.95 938.49 L453.2 932.72 L453.45 926.41 L453.7 922.21 L453.95 917.11 L454.2 916.85 L454.45 913.86 L454.7 919.53 L454.95 920.43 L455.2 929.14 L455.45 932.16 L455.7 933.96 L455.95 931.86 L456.2 929.85 L456.45 925.07 L456.7 920.04 L456.95 920.49 L457.2 915.07 L457.45 914.43 L457.7 923.55 L457.95 926.95 L458.2 932.75 L458.45 938.19 L458.7 937.79 L458.95 934.29 L459.2 921.83 L459.45 917.79 L459.7 915.67 L459.95 915.19 L460.2 919.28 L460.45 920.94 L460.7 930.25 L460.95 928.3 L461.2 930.57 L461.45 932.36 L461.7 929.39 L461.95 923.04 L462.2 923.67 L462.45 919.89 L462.7 916.5 L462.95 918.28 L463.2 921.89 L463.45 929.45 L463.7 930.67 L463.95 936.29 L464.2 936.6 L464.45 931.93 L464.7 928.25 L464.95 926.88 L465.2 922.23 L465.45 911.73 L465.7 917.22 L465.95 918.22 L466.2 926.28 L466.45 926.43 L466.7 931.66 L466.95 937.68 L467.2 931.14 L467.45 932.17 L467.7 925.94 L467.95 919.48 L468.2 919.13 L468.45 918.27 L468.7 919.46 L468.95 923.48 L469.2 928.85 L469.45 936.41 L469.7 931.14 L469.95 934.25 L470.2 926.67 L470.45 921.64 L470.7 917.91 L470.95 917.83 L471.2 920.11 L471.45 921.94 L471.7 925.82 L471.95 933.99 L472.2 931.2 L472.45 935.16 L472.7 931.39 L472.95 927.18 L473.2 921.77 L473.45 918.78 L473.7 916.65 L473.95 921.72 L474.2 921.57 L474.45 928.67 L474.7 932.51 L474.95 934.66 L475.2 933.44 L475.45 929.29 L475.7 923.16 L475.95 923.74 L476.2 918.49 L476.45 913.61 L476.7 915.6 L476.95 924.47 L477.2 929.49 L477.45 932.8 L477.7 936.02 L477.95 931.83 L478.2 930.32 L478.45 923.16 L478.7 923.53 L478.95 918.19 L479.2 911.97 L479.45 913.8 L479.7 925.11 L479.95 924.89 L480.2 931.26 L480.45 937.81 L480.7 933.27 L480.95 932.81 L481.2 926.94 L481.45 921.97 L481.7 917.03 L481.95 917.24 L482.2 912.53 L482.45 923.53 L482.7 922.36 L482.95 931.83 L483.2 929.91 L483.45 932.07 L483.7 936.66 L483.95 930.51 L484.2 922.12 L484.45 917.32 L484.7 919.68 L484.95 917.05 L485.2 916.22 L485.45 921.26 L485.7 932.68 L485.95 937.21 L486.2 932.87 L486.45 931.24 L486.7 927.42 L486.95 923.85 L487.2 919.53 L487.45 918.98 L487.7 912.26 L487.95 914.79 L488.2 917.87 L488.45 925.7 L488.7 930.88 L488.95 931.78 L489.2 934.92 L489.45 929.89 L489.7 923.4 L489.95 924.15 L490.2 921 L490.45 918.19 L490.7 915.65 L490.95 918.27 L491.2 926.36 L491.45 929.92 L491.7 939.14 L491.95 937.45 L492.2 928.81 L492.45 930.21 L492.7 925.87 L492.95 914.09 L493.2 915.34 L493.45 918.82 L493.7 922.31 L493.95 926.51 L494.2 933.01 L494.45 938.37 L494.7 936.11 L494.95 932.78 L495.2 928.07 L495.45 924.28 L495.7 919.02 L495.95 911.44 L496.2 911.28 L496.45 917.9 L496.7 921.82 L496.95 929.86 L497.2 932.62 L497.45 935.24 L497.7 937.6 L497.95 929.51 L498.2 928.22 L498.45 917.34 L498.7 918.46 L498.95 914.28 L499.2 914.43 L499.45 921.29 L499.7 926.2 L499.95 932.41 L500.2 933.93 L500.45 939.65 L500.7 931.53 L500.95 923.47 L501.2 919.72 L501.45 919.67 L501.7 916.44 L501.95 917.19 L502.2 917.43 L502.45 921.97 L502.7 933.57 L502.95 932.58 L503.2 933.44 L503.45 931.8 L503.7 931 L503.95 927.57 L504.2 918.84 L504.45 919.18 L504.7 915.73 L504.95 917.67 L505.2 926.53 L505.45 924.65 L505.7 931.27 L505.95 935.8 L506.2 931.17 L506.45 935.14 L506.7 923.61 L506.95 918.65 L507.2 913.26 L507.45 912.87 L507.7 913.07 L507.95 921.41 L508.2 922.62 L508.45 927.81 L508.7 934.12 L508.95 937.48 L509.2 930.32 L509.45 925.47 L509.7 923.59 L509.95 915.06 L510.2 913.32 L510.45 918.37 L510.7 913.61 L510.95 921.8 L511.2 929.42 L511.45 937.22 L511.7 939.71 L511.95 932.65 L512.2 936.13 L512.45 928.18 L512.7 916.05 L512.95 913.97 L513.2 915.08 L513.45 914.28 L513.7 923.89 L513.95 928.99 L514.2 936.7 L514.45 935.91 L514.7 934.67 L514.95 930.13 L515.2 927.68 L515.45 924.6 L515.7 921.03 L515.95 918.71 L516.2 912.84 L516.45 919.44 L516.7 920.27 L516.95 932.03 L517.2 936.37 L517.45 934.59 L517.7 933.98 L517.95 931.43 L518.2 922.17 L518.45 918.05 L518.7 911.15 L518.95 913.4 L519.2 923.32 L519.45 927.81 L519.7 930.78 L519.95 932.16 L520.2 932.35 L520.45 936.74 L520.7 934.74 L520.95 922.17 L521.2 922.75 L521.45 914.16 L521.7 916.4 L521.95 920.66 L522.2 927.78 L522.45 929.99 L522.7 937.94 L522.95 932.68 L523.2 933.39 L523.45 927.44 L523.7 920.89 L523.95 922.39 L524.2 918.15 L524.45 910.37 L524.7 912.84 L524.95 919.48 L525.2 931.05 L525.45 931.17 L525.7 935.83 L525.95 935.18 L526.2 930.32 L526.45 924.53 L526.7 924.57 L526.95 919.05 L527.2 916.53 L527.45 918.14 L527.7 923.3 L527.95 927.68 L528.2 935.35 L528.45 934.7 L528.7 934.14 L528.95 936.42 L529.2 925.85 L529.45 923.48 L529.7 915.53 L529.95 915.69 L530.2 918.88 L530.45 914.84 L530.7 926.58 L530.95 932.82 L531.2 937.09 L531.45 936.72 L531.7 930.31 L531.95 930.34 L532.2 920.54 L532.45 917.37 L532.7 915.68 L532.95 912.47 L533.2 923.15 L533.45 929.38 L533.7 929.9 L533.95 939.92 L534.2 934.97 L534.45 937.95 L534.7 931.66 L534.95 919.6 L535.2 912.63 L535.45 917.45 L535.7 912.7 L535.95 922.22 L536.2 919.86 L536.45 927.72 L536.7 930.08 L536.95 938.5 L537.2 934.64 L537.45 933.58 L537.7 927.97 L537.95 916.14 L538.2 912.23 L538.45 914.22 L538.7 916.88 L538.95 925.02 L539.2 922.18 L539.45 933.93 L539.7 931.54 L539.95 938.25 L540.2 930.12 L540.45 927.7 L540.7 918.75 L540.95 914.31 L541.2 911.48 L541.45 914.5 L541.7 916.84 L541.95 928.52 L542.2 927.71 L542.45 935.29 L542.7 931.72 L542.95 937.12 L543.2 932.21 L543.45 928.98 L543.7 922.53 L543.95 914.12 L544.2 913.97 L544.45 920.53 L544.7 923.27 L544.95 929.85 L545.2 931.75 L545.45 939.93 L545.7 932.92 L545.95 927.33 L546.2 924.51 L546.45 920.19 L546.7 910.94 L546.95 914.64 L547.2 915.59 L547.45 923.7 L547.7 921.6 L547.95 926.61 L548.2 933.78 L548.45 934.3 L548.7 937.41 L548.95 932.89 L549.2 925.78 L549.45 917.09 L549.7 909.96 L549.95 914.43 L550.2 920.86 L550.45 923.97 L550.7 932.68 L550.95 933.19 L551.2 935.59 L551.45 933.6 L551.7 932.16 L551.95 921.81 L552.2 919.38 L552.45 914.51 L552.7 911.79 L552.95 923.29 L553.2 921.47 L553.45 928.63 L553.7 932.25 L553.95 938.7 L554.2 936.76 L554.45 930.39 L554.7 922.16 L554.95 919.3 L555.2 914.38 L555.45 910.5 L555.7 917.95 L555.95 920.9 L556.2 926.44 L556.45 933.84 L556.7 932.74 L556.95 932.64 L557.2 928.84 L557.45 926.75 L557.7 918.82 L557.95 917.87 L558.2 914.37 L558.45 913.22 L558.7 922.45 L558.95 930.32 L559.2 929.93 L559.45 933.3 L559.7 937.8 L559.95 928.2 L560.2 929.7 L560.45 919.47 L560.7 910.9 L560.95 910.24 L561.2 920.08 L561.45 917.72 L561.7 926.47 L561.95 933.73 L562.2 936.65 L562.45 934.27 L562.7 936.38 L562.95 924.85 L563.2 921.4 L563.45 915.32 L563.7 911.78 L563.95 913.8 L564.2 917.48 L564.45 926.4 L564.7 931.11 L564.95 935.86 L565.2 938.87 L565.45 933.02 L565.7 925.74 L565.95 920.55 L566.2 913.15 L566.45 915.82 L566.7 914.45 L566.95 917.12 L567.2 926.57 L567.45 924.12 L567.7 935.61 L567.95 931.78 L568.2 934.99 L568.45 934.46 L568.7 922.73 L568.95 920.38 L569.2 917.19 L569.45 913.25 L569.7 917.6 L569.95 919.5 L570.2 925.18 L570.45 928.18 L570.7 938.46 L570.95 937.52 L571.2 930.03 L571.45 929.99 L571.7 922.05 L571.95 919.73 L572.2 911.99 L572.45 913.12 L572.7 918.2 L572.95 919.63 L573.2 927.27 L573.45 937.15 L573.7 932.53 L573.95 936.39 L574.2 932.99 L574.45 929.72 L574.7 921.95 L574.95 915.28 L575.2 910.67 L575.45 918.53 L575.7 919.87 L575.95 924.38 L576.2 929.31 L576.45 940.02 L576.7 937.93 L576.95 936.83 L577.2 923.66 L577.45 918.06 L577.7 912.84 L577.95 918.69 L578.2 918.92 L578.45 919.54 L578.7 919.66 L578.95 926.89 L579.2 930.75 L579.45 937.01 L579.7 930.37 L579.95 934.86 L580.2 922.9 L580.45 919.4 L580.7 916.87 L580.95 916.41 L581.2 913.21 L581.45 927.02 L581.7 933.69 L581.95 937.35 L582.2 938.13 L582.45 935.22 L582.7 933.28 L582.95 923.56 L583.2 918.05 L583.45 911.21 L583.7 914.22 L583.95 918.94 L584.2 922.47 L584.45 928.29 L584.7 938.51 L584.95 940.56 L585.2 938.12 L585.45 930.99 L585.7 921.06 L585.95 915.33 L586.2 919.36 L586.45 915.04 L586.7 915.31 L586.95 926.94 L587.2 931.02 L587.45 934.95 L587.7 937.19 L587.95 935.2 L588.2 930.98 L588.45 922.83 L588.7 922.75 L588.95 916.42 L589.2 910.59 L589.45 913.97 L589.7 927.19 L589.95 925.78 L590.2 934.49 L590.45 940.78 L590.7 934.54 L590.95 931.94 L591.2 929.56 L591.45 918.7 L591.7 915.72 L591.95 911.8 L592.2 915.38 L592.45 919.82 L592.7 921.92 L592.95 931.22 L593.2 929.95 L593.45 932.87 L593.7 937.14 L593.95 936.84 L594.2 931.01 L594.45 918.14 L594.7 911.98 L594.95 910.17 L595.2 919.2 L595.45 923.59 L595.7 929.14 L595.95 933.71 L596.2 935.04 L596.45 936.67 L596.7 934.1 L596.95 923.93 L597.2 918.25 L597.45 915.04 L597.7 916.17 L597.95 910.72 L598.2 921.25 L598.45 926.4 L598.7 927.36 L598.95 937.87 L599.2 937.16 L599.45 935.36 L599.7 930.03 L599.95 919.43 L600.2 913.96 L600.45 918.87 L600.7 914.69 L600.95 920.52 L601.2 926.5 L601.45 932.44 L601.7 935.78 L601.95 936.68 L602.2 936.77 L602.45 926.34 L602.7 926.45 L602.95 917.87 L603.2 917.77 L603.45 910.3 L603.7 921.5 L603.95 923.22 L604.2 928 L604.45 933.68 L604.7 937.24 L604.95 937.34 L605.2 934.44 L605.45 921.87 L605.7 919.27 L605.95 914.2 L606.2 913.62 L606.45 919.59 L606.7 927.1 L606.95 931.94 L607.2 931.79 L607.45 932.72 L607.7 930.46 L607.95 927.62 L608.2 918.43 L608.45 921.44 L608.7 915.82 L608.95 912.19 L609.2 920.88 L609.45 925.23 L609.7 928.27 L609.95 932.5 L610.2 937.68 L610.45 936.32 L610.7 925.08 L610.95 920.16 L611.2 919.12 L611.45 913.47 L611.7 915.19 L611.95 921.96 L612.2 926.16 L612.45 929.76 L612.7 933.28 L612.95 938.48 L613.2 938.02 L613.45 929.7 L613.7 926.24 L613.95 921.25 L614.2 913.04 L614.45 914.02 L614.7 915.37 L614.95 923.78 L615.2 929.01 L615.45 935.5 L615.7 937.81 L615.95 931.37 L616.2 927.81 L616.45 923.86 L616.7 918.47 L616.95 911.97 L617.2 914.18 L617.45 915.57 L617.7 925.7 L617.95 928.36 L618.2 935.23 L618.45 937.61 L618.7 932.49 L618.95 934.5 L619.2 928.62 L619.45 919.82 L619.7 916.66 L619.95 915.51 L620.2 915.08 L620.45 919.23 L620.7 925.99 L620.95 932.26 L621.2 931.1 L621.45 938.95 L621.7 933.64 L621.95 924.92 L622.2 924.13 L622.45 917.39 L622.7 913.08 L622.95 917.71 L623.2 920.41 L623.45 924.13 L623.7 933.89 L623.95 936.86 L624.2 939.36 L624.45 935.04 L624.7 926.28 L624.95 919.52 L625.2 919.78 L625.45 918.22 L625.7 914.42 L625.95 922.3 L626.2 926.65 L626.45 936.68 L626.7 938.26 L626.95 931.43 L627.2 929.36 L627.45 922.44 L627.7 916.58 L627.95 911.8 L628.2 917.06 L628.45 919.99 L628.7 926.5 L628.95 932.1 L629.2 933.19 L629.45 931.6 L629.7 936.65 L629.95 931.32 L630.2 925.87 L630.45 919.2 L630.7 919.35 L630.95 916.71 L631.2 919.94 L631.45 926.53 L631.7 931.27 L631.95 933.59 L632.2 936.67 L632.45 930.71 L632.7 932.01 L632.95 921.52 L633.2 919.96 L633.45 913.49 L633.7 914.06 L633.95 922.93 L634.2 926.07 L634.45 926.63 L634.7 934.51 L634.95 931.33 L635.2 933.74 L635.45 932.95 L635.7 929.1 L635.95 917.23 L636.2 919.59 L636.45 918.81 L636.7 920.19 L636.95 926.63 L637.2 926.03 L637.45 937.27 L637.7 935.96 L637.95 933.92 L638.2 928.16 L638.45 924.7 L638.7 917.45 L638.95 916.24 L639.2 915.17 L639.45 915.64 L639.7 917.32 L639.95 929.43 L640.2 929.55 L640.45 934.45 L640.7 933.23 L640.95 933.41 L641.2 928.05 L641.45 924.83 L641.7 913.07 L641.95 912.8 L642.2 919.05 L642.45 917.06 L642.7 928.46 L642.95 930.91 L643.2 933.37 L643.45 932.84 L643.7 934.39 L643.95 927.08 L644.2 922.33 L644.45 918.84 L644.7 916.27 L644.95 912.64 L645.2 922.09 L645.45 924.24 L645.7 933.62 L645.95 937.42 L646.2 933.66 L646.45 932.04 L646.7 923.91 L646.95 922.62 L647.2 920.95 L647.45 919.35 L647.7 913.02 L647.95 920.43 L648.2 926.23 L648.45 929.18 L648.7 933.9 L648.95 933.85 L649.2 935.79 L649.45 925.69 L649.7 928.48 L649.95 917.1 L650.2 917.62 L650.45 913.18 L650.7 915.07 L650.95 923.18 L651.2 932.37 L651.45 935.48 L651.7 931.85 L651.95 929.83 L652.2 925.39 L652.45 927.1 L652.7 915.71 L652.95 920.28 L653.2 918.97 L653.45 915.79 L653.7 924.73 L653.95 925.23 L654.2 933.06 L654.45 931.75 L654.7 938.01 L654.95 931.7 L655.2 925.41 L655.45 921.16 L655.7 920.11 L655.95 914.31 L656.2 919.05 L656.45 915.29 L656.7 920.28 L656.95 930.41 L657.2 934.06 L657.45 933.01 L657.7 936.33 L657.95 932.86 L658.2 924.62 L658.45 917.56 L658.7 920.32 L658.95 913.33 L659.2 919.23 L659.45 918.88 L659.7 930.98 L659.95 935.39 L660.2 935.63 L660.45 930.46 L660.7 926.26 L660.95 924.86 L661.2 915.35 L661.45 916.81 L661.7 914.52 L661.95 920.33 L662.2 921.97 L662.45 926.41 L662.7 929.4 L662.95 932.71 L663.2 937.26 L663.45 928.23 L663.7 925.29 L663.95 918.5 L664.2 920.36 L664.45 919.08 L664.7 914.52 L664.95 921.16 L665.2 925.22 L665.45 935.59 L665.7 932.83 L665.95 933.41 L666.2 933.28 L666.45 922.66 L666.7 920.85 L666.95 921.02 L667.2 919.02 L667.45 917.35 L667.7 922.72 L667.95 930.49 L668.2 934.76 L668.45 937.79 L668.7 936.22 L668.95 932.11 L669.2 923.77 L669.45 920.07 L669.7 919.65 L669.95 918.45 L670.2 921.15 L670.45 923.59 L670.7 927.8 L670.95 933.17 L671.2 938.21 L671.45 932.29 L671.7 928.98 L671.95 925.14 L672.2 919.82 L672.45 921.46 L672.7 916.33 L672.95 916.82 L673.2 916.21 L673.45 928.92 L673.7 933.99 L673.95 934.22 L674.2 930.73 L674.45 931.98 L674.7 925.32 L674.95 922.45 L675.2 914.08 L675.45 917.93 L675.7 914.94 L675.95 918.61 L676.2 927.25 L676.45 927.08 L676.7 937.13 L676.95 935.36 L677.2 928.2 L677.45 929.08 L677.7 924.56 L677.95 918.99 L678.2 919.1 L678.45 915.2 L678.7 921.77 L678.95 927.28 L679.2 928.62 L679.45 933.57 L679.7 930.79 L679.95 935.59 L680.2 930.45 L680.45 923.99 L680.7 922.39 L680.95 917.39 L681.2 914.35 L681.45 918.62 L681.7 923.14 L681.95 931.4 L682.2 931.72 L682.45 932.14 L682.7 934.43 L682.95 930.05 L683.2 923.46 L683.45 915.62 L683.7 918.49 L683.95 914.54 L684.2 918.37 L684.45 930.06 L684.7 932.09 L684.95 931.81 L685.2 931.79 L685.45 928 L685.7 927.73 L685.95 925.83 L686.2 917.95 L686.45 914.55 L686.7 920.05 L686.95 917.95 L687.2 925.68 L687.45 925.86 L687.7 932.48 L687.95 937.2 L688.2 931.39 L688.45 927.73 L688.7 922.73 L688.95 921.04 L689.2 917.8 L689.45 919.97 L689.7 917.86 L689.95 923.62 L690.2 931.24 L690.45 932.53 L690.7 931.6 L690.95 934.14 L691.2 927.97 L691.45 923.33 L691.7 918.31 L691.95 915.65 L692.2 918.73 L692.45 920.43 L692.7 921 L692.95 923 L693.2 932.2 L693.45 932.08 L693.7 930.16 L693.95 930.27 L694.2 926.76 L694.45 918.7 L694.7 915.73 L694.95 919.44 L695.2 914.49 L695.45 921.68 L695.7 927.07 L695.95 929.86 L696.2 932.51 L696.45 933.06 L696.7 932.41 L696.95 928.21 L697.2 927.15 L697.45 917.94 L697.7 920.84 L697.95 914.13 L698.2 920.07 L698.45 924.42 L698.7 926.63 L698.95 932.59 L699.2 930.25 L699.45 936.15 L699.7 927.33 L699.95 928.53 L700.2 917.57 L700.45 917.63 L700.7 917.65 L700.95 915.11 L701.2 921.42 L701.45 928.91 L701.7 934.17 L701.95 936.09 L702.2 931.46 L702.45 930.35 L702.7 923.21 L702.95 919.55 L703.2 919.21 L703.45 917.88 L703.7 914.84 L703.95 920.15 L704.2 929.44 L704.45 929.65 L704.7 936.28 L704.95 934.91 L705.2 931.43 L705.45 928.22 L705.7 919.07 L705.95 919.18 L706.2 916.01 L706.45 919.83 L706.7 921.62 L706.95 925.78 L707.2 931.44 L707.45 934.06 L707.7 936.41 L707.95 928.89 L708.2 930.24 L708.45 919.92 L708.7 922.06 L708.95 919.02 L709.2 915.37 L709.45 918.35 L709.7 921.83 L709.95 925.05 L710.2 929.74 L710.45 935.41 L710.7 931.96 L710.95 931 L711.2 926.09 L711.45 918.53 L711.7 914.6 L711.95 914.82 L712.2 918.94 L712.45 925.73 L712.7 928.18 L712.95 935.35 L713.2 935.66 L713.45 931.36 L713.7 931.26 L713.95 921.51 L714.2 922.57 L714.45 919.23 L714.7 918.86 L714.95 916.96 L715.2 926.52 L715.45 930.52 L715.7 930.17 L715.95 932.56 L716.2 931.91 L716.45 933.02 L716.7 924.45 L716.95 920.17 L717.2 921.14 L717.45 920.71 L717.7 917.26 L717.95 921.23 L718.2 928.17 L718.45 931.59 L718.7 934.74 L718.95 935 L719.2 929.51 L719.45 931.52 L719.7 926.26 L719.95 920.42 L720.2 921.04 L720.45 920.16 L720.7 921.98 L720.95 920.79 L721.2 928.83 L721.45 926.82 L721.7 934.32 L721.95 935.84 L722.2 928.15 L722.45 930.4 L722.7 926.44 L722.95 917.14" stroke="#0c1aa6" stroke-width="0.55" fill="none" stroke-linejoin="round"/>
<path d="M201 927.59 L201.5 928 L202 927.53 L202.5 924.18 L203 922.49 L203.5 922.97 L204 927.85 L204.5 922.42 L205 923.85 L205.5 927.39 L206 928.57 L206.5 922.24 L207 927.08 L207.5 927.22 L208 921.84 L208.5 926.5 L209 926.93 L209.5 923.61 L210 928.81 L210.5 923.68 L211 928.9 L211.5 928.16 L212 923.4 L212.5 922.51 L213 921.31 L213.5 922.18 L214 928.99 L214.5 922.89 L215 928.16 L215.5 922.22 L216 927.17 L216.5 927.95 L217 921.99 L217.5 921.73 L218 926.72 L218.5 922.2 L219 923.51 L219.5 927.47 L220 927.13 L220.5 927.99 L221 922.29 L221.5 923.63 L222 928.52 L222.5 923.87 L223 927.71 L223.5 923.09 L224 927.09 L224.5 929.63 L225 928.84 L225.5 926.98 L226 923.55 L226.5 920.94 L227 927.61 L227.5 921.28 L228 922.61 L228.5 921.23 L229 926.99 L229.5 922.91 L230 927.81 L230.5 921.31 L231 928.04 L231.5 922.77 L232 928.36 L232.5 921.31 L233 927.21 L233.5 923.61 L234 928.01 L234.5 920.95 L235 922.78 L235.5 928.56 L236 923.78 L236.5 927.88 L237 927.1 L237.5 921.03 L238 928.38 L238.5 921 L239 921.36 L239.5 923.33 L240 928.92 L240.5 921.8 L241 929.33 L241.5 923.73 L242 928.92 L242.5 929.27 L243 922.77 L243.5 922.73 L244 928.55 L244.5 927.83 L245 921.96 L245.5 923.62 L246 927.59 L246.5 922.17 L247 926.94 L247.5 923.27 L248 921.32 L248.5 929.27 L249 927.99 L249.5 928.79 L250 922.96 L250.5 923.29 L251 926.7 L251.5 922.11 L252 921.37 L252.5 921.75 L253 927.37 L253.5 929.31 L254 926.73 L254.5 921.02 L255 923.55 L255.5 921.2 L256 927.27 L256.5 922.85 L257 927.65 L257.5 927.78 L258 927.26 L258.5 927.32 L259 927.62 L259.5 922.87 L260 928.44 L260.5 921.83 L261 929.62 L261.5 923.4 L262 922.51 L262.5 927.73 L263 929.48 L263.5 928.91 L264 928.49 L264.5 921.91 L265 928.3 L265.5 928.64 L266 926.82 L266.5 922.34 L267 928.8 L267.5 921.48 L268 923.71 L268.5 922.15 L269 923.64 L269.5 921.97 L270 927.55 L270.5 928.95 L271 929.46 L271.5 922.37 L272 927.55 L272.5 928.53 L273 926.99 L273.5 922.83 L274 922.2 L274.5 921.41 L275 927.58 L275.5 923.91 L276 927.97 L276.5 922.61 L277 926.71 L277.5 928.68 L278 927.14 L278.5 928.08 L279 921.61 L279.5 928.66 L280 927.99 L280.5 922.68 L281 927.99 L281.5 921.35 L282 928.22 L282.5 929.26 L283 926.79 L283.5 927.07 L284 927.4 L284.5 921.17 L285 928.62 L285.5 921.37 L286 926.63 L286.5 922.54 L287 928.44 L287.5 928.25 L288 923.83 L288.5 927.98 L289 922.22 L289.5 921.63 L290 922.14 L290.5 922.76 L291 928.99 L291.5 920.99 L292 928.32 L292.5 921.65 L293 929.09 L293.5 922.78 L294 927.68 L294.5 921.35 L295 921.1 L295.5 922.51 L296 922.36 L296.5 920.98 L297 927.83 L297.5 923.58 L298 923.21 L298.5 928.51 L299 929.04 L299.5 928.42 L300 926.94 L300.5 922.11 L301 928.78 L301.5 923.82 L302 921.38 L302.5 922.35 L303 929.18 L303.5 921.33 L304 920.97 L304.5 923.92 L305 927.75 L305.5 922.78 L306 927.33 L306.5 929.65 L307 929.64 L307.5 921.09 L308 926.75 L308.5 929.32 L309 927.68 L309.5 926.72 L310 921.24 L310.5 922.99 L311 928.29 L311.5 927.67 L312 928.27 L312.5 921.77 L313 926.75 L313.5 923.75 L314 927.57 L314.5 921 L315 928.5 L315.5 929.3 L316 927.67 L316.5 922.6 L317 927.16 L317.5 922.96 L318 929.05 L318.5 922.48 L319 928.97 L319.5 923.25 L320 927.52 L320.5 921.89 L321 928.17 L321.5 927.31 L322 921.89 L322.5 921.94 L323 922.29 L323.5 928.91 L324 923.58 L324.5 921.39 L325 922.61 L325.5 922.77 L326 927.64 L326.5 922.19 L327 926.87 L327.5 922.54 L328 921.42 L328.5 927.42 L329 928.58 L329.5 923.71 L330 927.69 L330.5 921.65 L331 927.07 L331.5 921.71 L332 926.69 L332.5 921.48 L333 928.37 L333.5 929.04 L334 923.34 L334.5 921.13 L335 927.61 L335.5 922.54 L336 927.45 L336.5 921.9 L337 928.48 L337.5 923.88 L338 927.65 L338.5 922.14 L339 928.04 L339.5 921.78 L340 922.51 L340.5 923.79 L341 927.98 L341.5 922.07 L342 923.3 L342.5 921.36 L343 927.38 L343.5 923.36 L344 927.8 L344.5 927.69 L345 927.16 L345.5 921.69 L346 928.77 L346.5 923.98 L347 928.71 L347.5 923.59 L348 927.83 L348.5 922.11 L349 921.45 L349.5 923.73 L350 921.4 L350.5 923.82 L351 927.52 L351.5 923.05 L352 929.31 L352.5 921.46 L353 921.51 L353.5 921.39 L354 929.33 L354.5 921.94 L355 926.75 L355.5 926.54 L356 927.67 L356.5 922.17 L357 926.86 L357.5 922.49 L358 929.01 L358.5 922.52 L359 928.66 L359.5 926.51 L360 928.09 L360.5 923.78 L361 926.93 L361.5 922.69 L362 927.54 L362.5 928.38 L363 923.95 L363.5 921.66 L364 928.94 L364.5 928.47 L365 928.55 L365.5 928.89 L366 927.81 L366.5 921.39 L367 923.25 L367.5 921.55 L368 927.2 L368.5 926.64 L369 927.77 L369.5 922.48 L370 921.42 L370.5 921.66 L371 927.2 L371.5 922.62 L372 926.93 L372.5 922.13 L373 929.27 L373.5 921.54 L374 929.19 L374.5 922.05 L375 921.71 L375.5 921.53 L376 927.92 L376.5 929.04 L377 926.81 L377.5 921.51 L378 929.25 L378.5 922.39 L379 927.06 L379.5 921.48 L380 922.31 L380.5 922.59 L381 926.6 L381.5 922.07 L382 926.85 L382.5 921.67 L383 922.96 L383.5 923.9 L384 928.38 L384.5 923.84 L385 927.2 L385.5 922.55 L386 929.19 L386.5 927.08 L387 928.06 L387.5 921.63 L388 929.04 L388.5 924.06 L389 929.03 L389.5 921.91 L390 926.8 L390.5 923 L391 929.1 L391.5 928.2 L392 928.71 L392.5 921.72 L393 928.78 L393.5 927.81 L394 927.21 L394.5 924.07 L395 926.76 L395.5 921.68 L396 922.66 L396.5 922.6 L397 928.89 L397.5 922.32 L398 927.51 L398.5 921.86 L399 922.77 L399.5 923.74 L400 922.77 L400.5 923.93 L401 927.27 L401.5 923.82 L402 926.69 L402.5 926.77 L403 928.55 L403.5 921.49 L404 923.77 L404.5 921.22 L405 927.8 L405.5 923.33 L406 929.21 L406.5 928.48 L407 923.76 L407.5 922.66 L408 922.32 L408.5 927.88 L409 928.19 L409.5 926.85 L410 927.47 L410.5 923.3 L411 929.11 L411.5 920.86 L412 921.12 L412.5 921.24 L413 927.24 L413.5 921.18 L414 929.12 L414.5 923.81 L415 928.27 L415.5 922.53 L416 927.86 L416.5 921.26 L417 928.99 L417.5 923.35 L418 927.12 L418.5 923.85 L419 928 L419.5 922.36 L420 923.69 L420.5 923.53 L421 927.79 L421.5 921.63 L422 927.25 L422.5 923.49 L423 928.7 L423.5 921.52 L424 930.19 L424.5 922.38 L425 921.96 L425.5 930.2 L426 927.67 L426.5 920.39 L427 928.17 L427.5 927.3 L428 929.54 L428.5 921.72 L429 930.32 L429.5 922.85 L430 929.94 L430.5 929.97 L431 928.19 L431.5 923.01 L432 920.31 L432.5 929.61 L433 920.75 L433.5 921.33 L434 926.91 L434.5 923.61 L435 929.38 L435.5 922.13 L436 928.43 L436.5 921.44 L437 929.55 L437.5 930.67 L438 920.46 L438.5 920.06 L439 930.71 L439.5 927.8 L440 929.92 L440.5 923.26 L441 929.78 L441.5 921.33 L442 922.73 L442.5 920.11 L443 930.45 L443.5 922.96 L444 929.97 L444.5 920.07 L445 926.98 L445.5 920.29 L446 928.99 L446.5 922.51 L447 927.42 L447.5 921.46 L448 930.18 L448.5 922.45 L449 927.69 L449.5 922.4 L450 927.11 L450.5 922.18 L451 930.47 L451.5 919.98 L452 921.5 L452.5 923.05 L453 928.4 L453.5 920.1 L454 930.56 L454.5 923.03 L455 927.73 L455.5 922.97 L456 929.84 L456.5 922.43 L457 930.12 L457.5 919.79 L458 921.74 L458.5 921.72 L459 928.01 L459.5 922.41 L460 923.16 L460.5 928.27 L461 930.85 L461.5 929.9 L462 928.31 L462.5 923.39 L463 929.45 L463.5 920.19 L464 927.78 L464.5 927.65 L465 927.83 L465.5 921.35 L466 929.08 L466.5 923.01 L467 921.76 L467.5 922.95 L468 929.96 L468.5 923 L469 930.68 L469.5 928.44 L470 930.62 L470.5 922.39 L471 930.12 L471.5 921.18 L472 930.87 L472.5 921.18 L473 928.3 L473.5 928.77 L474 929.1 L474.5 921.22 L475 929.17 L475.5 919.87 L476 927.57 L476.5 919.99 L477 920.38 L477.5 923.48 L478 929.41 L478.5 927.44 L479 928.61 L479.5 922.5 L480 927.18 L480.5 920.73 L481 930.44 L481.5 922.11 L482 930.69 L482.5 921.99 L483 929.52 L483.5 920.02 L484 929.83 L484.5 921.19 L485 920.29 L485.5 919.71 L486 923.14 L486.5 923.08 L487 929.62 L487.5 921.52 L488 930.19 L488.5 927.83 L489 930.86 L489.5 919.96 L490 920.98 L490.5 920.62 L491 922.3 L491.5 921.71 L492 927.47 L492.5 929.57 L493 930.17 L493.5 921.24 L494 920.07 L494.5 927.06 L495 930.73 L495.5 921.92 L496 921.46 L496.5 922.49 L497 928.25 L497.5 921.25 L498 927.6 L498.5 927.17 L499 928.24 L499.5 920.16 L500 919.98 L500.5 920.38 L501 930.72 L501.5 919.9 L502 930.63 L502.5 922.32 L503 927.27 L503.5 921.77 L504 930.69 L504.5 922.02 L505 928.27 L505.5 922.6 L506 928.26 L506.5 923.35 L507 923.38 L507.5 921.61 L508 920.2 L508.5 921.58 L509 928.64 L509.5 921.17 L510 920.2 L510.5 921.11 L511 927.05 L511.5 930.02 L512 923.61 L512.5 929.02 L513 929.43 L513.5 920.12 L514 929.52 L514.5 922.47 L515 929.56 L515.5 923.51 L516 922.5 L516.5 921.67 L517 920.92 L517.5 930.85 L518 930.23 L518.5 922.1 L519 929.97 L519.5 920.85 L520 927.98 L520.5 922.15 L521 930.25 L521.5 921.34 L522 927.22 L522.5 930.61 L523 922.5 L523.5 922.98 L524 927.75 L524.5 921.76 L525 921.45 L525.5 922.5 L526 930.07 L526.5 920.57 L527 928.41 L527.5 927.54 L528 930.21 L528.5 920.5 L529 927.01 L529.5 922.76 L530 930.84 L530.5 923.19 L531 928.27 L531.5 922.95 L532 927.58 L532.5 927.13 L533 928.59 L533.5 922.32 L534 928.33 L534.5 919.71 L535 928.9 L535.5 920.6 L536 922.65 L536.5 921.02 L537 928.21 L537.5 923.45 L538 930.63 L538.5 922.25 L539 920.21 L539.5 922.08 L540 927.34 L540.5 922.12 L541 928.77 L541.5 923.04 L542 927.94 L542.5 920.81 L543 930.22 L543.5 929.62 L544 921.38 L544.5 923.49 L545 927.26 L545.5 927.24 L546 930.47 L546.5 920.04 L547 928.37 L547.5 929.06 L548 930.59 L548.5 921.21 L549 927.71 L549.5 930.43 L550 922 L550.5 919.8 L551 920.85 L551.5 921.31 L552 929.42 L552.5 920.34 L553 929.3 L553.5 923.53 L554 928.88 L554.5 927.15 L555 930.73 L555.5 923.46 L556 920.99 L556.5 927.84 L557 929.56 L557.5 920.95 L558 922.65 L558.5 923.22 L559 922.96 L559.5 921.63 L560 922.98 L560.5 930.26 L561 927.4 L561.5 922.83 L562 929.05 L562.5 920.07 L563 920.1 L563.5 920.04 L564 923.51 L564.5 923.18 L565 930.18 L565.5 921 L566 927.87 L566.5 922.99 L567 930.27 L567.5 921.46 L568 928.36 L568.5 920.16 L569 929.97 L569.5 929.97 L570 928.79 L570.5 922.34 L571 928.83 L571.5 922.99 L572 930.8 L572.5 921.69 L573 927.75 L573.5 922.14 L574 922.28 L574.5 923.37 L575 930.76 L575.5 922.9 L576 929.15 L576.5 930.03 L577 930.22 L577.5 929.75 L578 922.7 L578.5 929.31 L579 927.68 L579.5 921.95 L580 921.97 L580.5 923.43 L581 927.85 L581.5 922.17 L582 927.22 L582.5 921.69 L583 928.27 L583.5 928.44 L584 930.71 L584.5 922.53 L585 930.09 L585.5 923.1 L586 930.41 L586.5 928.04 L587 922.83 L587.5 922.99 L588 930.65 L588.5 921.42 L589 928.4 L589.5 921.47 L590 930.61 L590.5 929.11 L591 927.23 L591.5 922.3 L592 919.88 L592.5 923.05 L593 920.3 L593.5 927.38 L594 929.21 L594.5 921.48 L595 927.5 L595.5 921.27 L596 927.25 L596.5 922.58 L597 921.97 L597.5 928.78 L598 929.17 L598.5 921.65 L599 927.34 L599.5 927.48 L600 930.4 L600.5 919.91 L601 927.55 L601.5 920.98 L602 930.6 L602.5 922.44 L603 919.74 L603.5 927.84 L604 922.92 L604.5 927.15 L605 922.29 L605.5 921.78 L606 930.3 L606.5 927.87 L607 930.56 L607.5 930.78 L608 922.01 L608.5 922.37 L609 929.22 L609.5 922.89 L610 922.45 L610.5 923.15 L611 919.93 L611.5 920.29 L612 927.83 L612.5 922.72 L613 929.64 L613.5 920.79 L614 929.65 L614.5 921.77 L615 927.08 L615.5 920.99 L616 920.98 L616.5 920.39 L617 920.52 L617.5 920.18 L618 929.86 L618.5 923.46 L619 929.42 L619.5 920.64 L620 920.09 L620.5 922.95 L621 921.34 L621.5 921.03 L622 929.83 L622.5 921.58 L623 927.01 L623.5 922.63 L624 920.3 L624.5 923 L625 929.3 L625.5 923.44 L626 923.58 L626.5 920.66 L627 927.21 L627.5 920.29 L628 927.34 L628.5 921.44 L629 927.72 L629.5 922.26 L630 921.14 L630.5 919.72 L631 929.23 L631.5 922.55 L632 929.5 L632.5 927.07 L633 927.89 L633.5 929.51 L634 929.74 L634.5 929.8 L635 929.4 L635.5 930.2 L636 930.18 L636.5 922.63 L637 920.77 L637.5 921.51 L638 928.13 L638.5 923.24 L639 930.53 L639.5 921.44 L640 930.74 L640.5 922.52 L641 930.36 L641.5 921.32 L642 929.14 L642.5 920.87 L643 927.68 L643.5 922.84 L644 930.03 L644.5 920.19 L645 921.38 L645.5 923.44 L646 929.57 L646.5 921.84 L647 930.24 L647.5 922.9 L648 922.61 L648.5 920.93 L649 922.43 L649.5 922.96 L650 929.25 L650.5 927.89 L651 930.19 L651.5 922.95 L652 928.1 L652.5 920.53 L653 929.35 L653.5 921.2 L654 928.93 L654.5 923.48 L655 927.82 L655.5 922.3 L656 930.83 L656.5 921.84 L657 927.15 L657.5 922.82 L658 928.68 L658.5 922.92 L659 928.92 L659.5 927.94 L660 927.83 L660.5 920.56 L661 928.07 L661.5 920.24 L662 929.91 L662.5 923 L663 930.57 L663.5 930.88 L664 928.79 L664.5 920.73 L665 928.76 L665.5 922.6 L666 929.62 L666.5 920.46 L667 927.8 L667.5 921.14 L668 927.89 L668.5 920.89 L669 928.19 L669.5 927.75 L670 927.94 L670.5 928.54 L671 930.8 L671.5 921.74 L672 927.81 L672.5 922.16 L673 928.96 L673.5 919.7 L674 919.85 L674.5 923.49 L675 927.98 L675.5 920.98 L676 922.04 L676.5 922.81 L677 927.14 L677.5 922.22 L678 927.18 L678.5 920.64 L679 929.43 L679.5 922.89 L680 929.8 L680.5 928.98 L681 927.35 L681.5 930.51 L682 929.92 L682.5 921.89 L683 922.75 L683.5 920.08 L684 929.95 L684.5 927.39 L685 927.46 L685.5 927.86 L686 928.35 L686.5 920.61 L687 930.24 L687.5 921.83 L688 930.06 L688.5 930.11 L689 920.76 L689.5 923.27 L690 922.83 L690.5 928.28 L691 928.05 L691.5 920.1 L692 929.27 L692.5 920.25 L693 930.21 L693.5 921.52 L694 929.2 L694.5 922.19 L695 928.05 L695.5 927.2 L696 927.23 L696.5 921.1 L697 930.81 L697.5 920.8 L698 929.86 L698.5 922.79 L699 922.86 L699.5 928.23 L700 920.98 L700.5 927.92 L701 927.06 L701.5 930.15 L702 927.59 L702.5 921.17 L703 919.85 L703.5 929.65 L704 930.3 L704.5 923.62 L705 929.89 L705.5 923.51 L706 921.02 L706.5 930.61 L707 928.54 L707.5 919.96 L708 928.56 L708.5 920.73 L709 930.79 L709.5 928.98 L710 929.81 L710.5 922.78 L711 920.7 L711.5 921.95 L712 921.75 L712.5 920.75 L713 928.94 L713.5 920.87 L714 928.61 L714.5 922.66 L715 930.89 L715.5 922.33 L716 927.16 L716.5 929.09 L717 929.02 L717.5 921.21 L718 929.25 L718.5 929.89 L719 919.71 L719.5 922.19 L720 927.41 L720.5 920.83 L721 930.71 L721.5 921.12 L722 928.38 L722.5 920.74" stroke="#0c1aa6" stroke-width="0.5" fill="none" stroke-linejoin="round"/>
<line x1="37.6" y1="794" x2="723.4" y2="794" stroke="#a2a2a2" stroke-width="1.6"/>
<line x1="723.4" y1="793" x2="723.4" y2="1080.2" stroke="#606060" stroke-width="1"/>
<line x1="37.6" y1="793" x2="37.6" y2="1080.85" stroke="#8a8a8a" stroke-width="1.3"/>
<line x1="36.95" y1="1080.2" x2="723.9" y2="1080.2" stroke="#8a8a8a" stroke-width="1.3"/>
<text x="357.5" y="1143.5" font-size="24" font-family='"Liberation Serif", serif' fill="#000">(<tspan font-weight="bold">c</tspan>)</text>
<line x1="11" y1="1152.9" x2="729" y2="1152.9" stroke="#a8a8a8" stroke-width="1.6"/>
<line x1="11.5" y1="1152.9" x2="11.5" y2="1172.3" stroke="#666666" stroke-width="1"/>
<line x1="728.5" y1="1152.9" x2="728.5" y2="1172.3" stroke="#666666" stroke-width="1"/>
<line x1="11" y1="1171.8" x2="729" y2="1171.8" stroke="#666666" stroke-width="1.1"/>
<line x1="16" y1="1160.6" x2="36.4" y2="1160.6" stroke="#7080d0" stroke-width="1"/>
<text x="40.5" y="1165.9" font-size="10" fill="#3c3ca8" text-anchor="start" font-family='"Liberation Sans", sans-serif' font-weight="normal" textLength="39.3" lengthAdjust="spacingAndGlyphs">Roll_Gyro</text>
<line x1="96.3" y1="1160.6" x2="117" y2="1160.6" stroke="#f08aa8" stroke-width="1"/>
<text x="121" y="1165.9" font-size="10" fill="#3c3ca8" text-anchor="start" font-family='"Liberation Sans", sans-serif' font-weight="normal" textLength="43.6" lengthAdjust="spacingAndGlyphs">Pitch_Gyro</text>
<line x1="176.5" y1="1160.6" x2="197.2" y2="1160.6" stroke="#88dcf6" stroke-width="1"/>
<text x="201.2" y="1165.9" font-size="10" fill="#3c3ca8" text-anchor="start" font-family='"Liberation Sans", sans-serif' font-weight="normal" textLength="40.2" lengthAdjust="spacingAndGlyphs">Yaw_Gyro</text>
<text x="14" y="1189.3" font-size="9.4" fill="#747474" text-anchor="start" font-family='"Liberation Sans", sans-serif' font-weight="normal" textLength="28.2" lengthAdjust="spacingAndGlyphs">degree</text>
<line x1="32" y1="1202.6" x2="35.9" y2="1202.6" stroke="#b8b8b8" stroke-width="1"/>
<text x="30" y="1205.9" font-size="9.4" fill="#747474" text-anchor="end" font-family='"Liberation Sans", sans-serif' font-weight="normal">10</text>
<line x1="32" y1="1234.86" x2="35.9" y2="1234.86" stroke="#b8b8b8" stroke-width="1"/>
<text x="30" y="1238.16" font-size="9.4" fill="#747474" text-anchor="end" font-family='"Liberation Sans", sans-serif' font-weight="normal">8</text>
<line x1="32" y1="1267.12" x2="35.9" y2="1267.12" stroke="#b8b8b8" stroke-width="1"/>
<text x="30" y="1270.42" font-size="9.4" fill="#747474" text-anchor="end" font-family='"Liberation Sans", sans-serif' font-weight="normal">6</text>
<line x1="32" y1="1299.38" x2="35.9" y2="1299.38" stroke="#b8b8b8" stroke-width="1"/>
<text x="30" y="1302.68" font-size="9.4" fill="#747474" text-anchor="end" font-family='"Liberation Sans", sans-serif' font-weight="normal">4</text>
<line x1="32" y1="1331.64" x2="35.9" y2="1331.64" stroke="#b8b8b8" stroke-width="1"/>
<text x="30" y="1334.94" font-size="9.4" fill="#747474" text-anchor="end" font-family='"Liberation Sans", sans-serif' font-weight="normal">2</text>
<line x1="32" y1="1363.9" x2="35.9" y2="1363.9" stroke="#b8b8b8" stroke-width="1"/>
<text x="30" y="1367.2" font-size="9.4" fill="#747474" text-anchor="end" font-family='"Liberation Sans", sans-serif' font-weight="normal">0</text>
<line x1="32" y1="1396.16" x2="35.9" y2="1396.16" stroke="#b8b8b8" stroke-width="1"/>
<text x="30" y="1399.46" font-size="9.4" fill="#747474" text-anchor="end" font-family='"Liberation Sans", sans-serif' font-weight="normal">-2</text>
<line x1="32" y1="1428.42" x2="35.9" y2="1428.42" stroke="#b8b8b8" stroke-width="1"/>
<text x="30" y="1431.72" font-size="9.4" fill="#747474" text-anchor="end" font-family='"Liberation Sans", sans-serif' font-weight="normal">-4</text>
<line x1="32" y1="1460.68" x2="35.9" y2="1460.68" stroke="#b8b8b8" stroke-width="1"/>
<text x="30" y="1463.98" font-size="9.4" fill="#747474" text-anchor="end" font-family='"Liberation Sans", sans-serif' font-weight="normal">-6</text>
<line x1="35.9" y1="1483.6" x2="35.9" y2="1488.5" stroke="#c0c0c0" stroke-width="1"/>
<text x="35.9" y="1501.1" font-size="9.4" fill="#747474" text-anchor="middle" font-family='"Liberation Sans", sans-serif' font-weight="normal">0</text>
<line x1="111.4" y1="1483.6" x2="111.4" y2="1488.5" stroke="#c0c0c0" stroke-width="1"/>
<text x="111.4" y="1501.1" font-size="9.4" fill="#747474" text-anchor="middle" font-family='"Liberation Sans", sans-serif' font-weight="normal">5</text>
<line x1="186.9" y1="1483.6" x2="186.9" y2="1488.5" stroke="#c0c0c0" stroke-width="1"/>
<text x="186.9" y="1501.1" font-size="9.4" fill="#747474" text-anchor="middle" font-family='"Liberation Sans", sans-serif' font-weight="normal">10</text>
<line x1="262.4" y1="1483.6" x2="262.4" y2="1488.5" stroke="#c0c0c0" stroke-width="1"/>
<text x="262.4" y="1501.1" font-size="9.4" fill="#747474" text-anchor="middle" font-family='"Liberation Sans", sans-serif' font-weight="normal">15</text>
<line x1="337.9" y1="1483.6" x2="337.9" y2="1488.5" stroke="#c0c0c0" stroke-width="1"/>
<text x="337.9" y="1501.1" font-size="9.4" fill="#747474" text-anchor="middle" font-family='"Liberation Sans", sans-serif' font-weight="normal">20</text>
<line x1="413.4" y1="1483.6" x2="413.4" y2="1488.5" stroke="#c0c0c0" stroke-width="1"/>
<text x="413.4" y="1501.1" font-size="9.4" fill="#747474" text-anchor="middle" font-family='"Liberation Sans", sans-serif' font-weight="normal">25</text>
<line x1="488.9" y1="1483.6" x2="488.9" y2="1488.5" stroke="#c0c0c0" stroke-width="1"/>
<text x="488.9" y="1501.1" font-size="9.4" fill="#747474" text-anchor="middle" font-family='"Liberation Sans", sans-serif' font-weight="normal">30</text>
<line x1="564.4" y1="1483.6" x2="564.4" y2="1488.5" stroke="#c0c0c0" stroke-width="1"/>
<text x="564.4" y="1501.1" font-size="9.4" fill="#747474" text-anchor="middle" font-family='"Liberation Sans", sans-serif' font-weight="normal">35</text>
<line x1="639.9" y1="1483.6" x2="639.9" y2="1488.5" stroke="#c0c0c0" stroke-width="1"/>
<text x="639.9" y="1501.1" font-size="9.4" fill="#747474" text-anchor="middle" font-family='"Liberation Sans", sans-serif' font-weight="normal">40</text>
<line x1="715.4" y1="1483.6" x2="715.4" y2="1488.5" stroke="#c0c0c0" stroke-width="1"/>
<text x="715.4" y="1501.1" font-size="9.4" fill="#747474" text-anchor="middle" font-family='"Liberation Sans", sans-serif' font-weight="normal">45</text>
<text x="719.3" y="1519" font-size="9.4" fill="#747474" text-anchor="middle" font-family='"Liberation Sans", sans-serif' font-weight="normal">s</text>
<path d="M36.4 1365 L205 1365 L209 1364.4 L440 1364.6 L494 1365.4 L600 1365.4 L650 1366 L723.3 1366.2" stroke="#5f6ccc" stroke-width="0.85" fill="none" stroke-linejoin="round"/>
<path d="M36.4 1362.2 L37.4 1362.2 L38.4 1362.2 L39.4 1362.2 L40.4 1362.2 L41.4 1362.2 L42.4 1362.2 L43.4 1362.2 L44.4 1362.2 L45.4 1362.2 L46.4 1362.2 L47.4 1362.2 L48.4 1362.2 L49.4 1362.2 L50.4 1362.2 L51.4 1362.2 L52.4 1362.2 L53.4 1362.2 L54.4 1362.2 L55.4 1362.2 L56.4 1362.2 L57.4 1362.2 L58.4 1362.2 L59.4 1362.2 L60.4 1362.2 L61.4 1362.2 L62.4 1362.2 L63.4 1362.2 L64.4 1362.2 L65.4 1362.2 L66.4 1362.2 L67.4 1362.2 L68.4 1362.2 L69.4 1362.2 L70.4 1362.2 L71.4 1362.2 L72.4 1362.2 L73.4 1362.2 L74.4 1362.2 L75.4 1362.2 L76.4 1362.2 L77.4 1362.2 L78.4 1362.2 L79.4 1362.2 L80.4 1362.2 L81.4 1362.2 L82.4 1362.2 L83.4 1362.2 L84.4 1362.2 L85.4 1362.2 L86.4 1362.2 L87.4 1362.2 L88.4 1362.2 L89.4 1362.2 L90.4 1362.2 L91.4 1362.2 L92.4 1362.2 L93.4 1362.2 L94.4 1362.2 L95.4 1362.2 L96.4 1362.2 L97.4 1362.2 L98.4 1362.2 L99.4 1362.2 L100.4 1362.2 L101.4 1362.2 L102.4 1362.2 L103.4 1362.2 L104.4 1362.2 L105.4 1362.2 L106.4 1362.2 L107.4 1362.2 L108.4 1362.2 L109.4 1362.2 L110.4 1362.2 L111.4 1362.2 L112.4 1362.2 L113.4 1362.2 L114.4 1362.2 L115.4 1362.2 L116.4 1362.2 L117.4 1362.2 L118.4 1362.2 L119.4 1362.2 L120.4 1362.2 L121.4 1362.2 L122.4 1362.2 L123.4 1362.2 L124.4 1362.2 L125.4 1362.2 L126.4 1362.2 L127.4 1362.2 L128.4 1362.2 L129.4 1362.2 L130.4 1362.2 L131.4 1362.2 L132.4 1362.2 L133.4 1362.2 L134.4 1362.2 L135.4 1362.2 L136.4 1362.2 L137.4 1362.2 L138.4 1362.2 L139.4 1362.2 L140.4 1362.2 L141.4 1362.2 L142.4 1362.2 L143.4 1362.2 L144.4 1362.2 L145.4 1362.2 L146.4 1362.2 L147.4 1362.2 L148.4 1362.2 L149.4 1362.2 L150.4 1362.2 L151.4 1362.2 L152.4 1362.2 L153.4 1362.2 L154.4 1362.2 L155.4 1362.2 L156.4 1362.2 L157.4 1362.2 L158.4 1362.2 L159.4 1362.2 L160.4 1362.2 L161.4 1362.2 L162.4 1362.2 L163.4 1362.2 L164.4 1362.2 L165.4 1362.2 L166.4 1362.2 L167.4 1362.2 L168.4 1362.2 L169.4 1362.2 L170.4 1362.2 L171.4 1362.2 L172.4 1362.2 L173.4 1362.2 L174.4 1362.2 L175.4 1362.2 L176.4 1362.2 L177.4 1362.2 L178.4 1362.2 L179.4 1362.2 L180.4 1362.2 L181.4 1362.2 L182.4 1362.2 L183.4 1362.2 L184.4 1362.2 L185.4 1362.2 L186.4 1362.2 L187.4 1362.2 L188.4 1362.2 L189.4 1362.2 L190.4 1362.2 L191.4 1362.2 L192.4 1362.2 L193.4 1362.2 L194.4 1362.2 L195.4 1362.2 L196.4 1362.2 L197.4 1362.2 L198.4 1362.2 L199.4 1362.2 L200.4 1362.2 L201.4 1362.2 L202.4 1362.2 L203.4 1362.2 L204.4 1362.2 L205.4 1362.2 L206.4 1362.2 L207.4 1362.2 L208.4 1361.66 L209.4 1359.3 L210.4 1354.51 L211.4 1348.18 L212.4 1346.36 L213.4 1346.3 L214.4 1346.3 L215.4 1346.3 L216.4 1346.3 L217.4 1346.3 L218.4 1346.3 L219.4 1346.3 L220.4 1346.3 L221.4 1345.92 L222.4 1344.9 L223.4 1343.72 L224.4 1342.24 L225.4 1340.66 L226.4 1339.04 L227.4 1337.31 L228.4 1335.54 L229.4 1333.79 L230.4 1332.15 L231.4 1330.63 L232.4 1329.13 L233.4 1327.68 L234.4 1326.27 L235.4 1324.93 L236.4 1323.65 L237.4 1322.45 L238.4 1321.31 L239.4 1320.23 L240.4 1319.22 L241.4 1318.29 L242.4 1317.42 L243.4 1316.61 L244.4 1315.92 L245.4 1315.32 L246.4 1314.77 L247.4 1314.5 L248.4 1314.44 L249.4 1314.39 L250.4 1314.34 L251.4 1314.3 L252.4 1314.27 L253.4 1314.25 L254.4 1314.23 L255.4 1314.21 L256.4 1314.21 L257.4 1314.2 L258.4 1314.2 L259.4 1314.2 L260.4 1314.21 L261.4 1314.22 L262.4 1314.23 L263.4 1314.25 L264.4 1314.26 L265.4 1314.28 L266.4 1314.3 L267.4 1314.33 L268.4 1314.35 L269.4 1314.38 L270.4 1314.41 L271.4 1314.44 L272.4 1314.47 L273.4 1314.5 L274.4 1314.54 L275.4 1314.57 L276.4 1314.61 L277.4 1314.64 L278.4 1314.68 L279.4 1314.71 L280.4 1314.75 L281.4 1314.79 L282.4 1314.82 L283.4 1314.85 L284.4 1314.89 L285.4 1314.92 L286.4 1314.95 L287.4 1314.98 L288.4 1315.01 L289.4 1315.04 L290.4 1315.07 L291.4 1315.09 L292.4 1315.11 L293.4 1315.13 L294.4 1315.15 L295.4 1315.17 L296.4 1315.18 L297.4 1315.19 L298.4 1315.2 L299.4 1315.2 L300.4 1315.2 L301.4 1315.2 L302.4 1315.2 L303.4 1315.2 L304.4 1315.19 L305.4 1315.19 L306.4 1315.19 L307.4 1315.19 L308.4 1315.18 L309.4 1315.18 L310.4 1315.17 L311.4 1315.17 L312.4 1315.16 L313.4 1315.16 L314.4 1315.15 L315.4 1315.14 L316.4 1315.14 L317.4 1315.13 L318.4 1315.12 L319.4 1315.11 L320.4 1315.1 L321.4 1315.09 L322.4 1315.09 L323.4 1315.08 L324.4 1315.07 L325.4 1315.06 L326.4 1315.05 L327.4 1315.04 L328.4 1315.03 L329.4 1315.01 L330.4 1315 L331.4 1314.99 L332.4 1314.98 L333.4 1314.97 L334.4 1314.96 L335.4 1314.95 L336.4 1314.94 L337.4 1314.92 L338.4 1314.91 L339.4 1314.9 L340.4 1314.89 L341.4 1314.88 L342.4 1314.86 L343.4 1314.85 L344.4 1314.84 L345.4 1314.83 L346.4 1314.81 L347.4 1314.8 L348.4 1314.79 L349.4 1314.78 L350.4 1314.77 L351.4 1314.75 L352.4 1314.74 L353.4 1314.73 L354.4 1314.72 L355.4 1314.71 L356.4 1314.7 L357.4 1314.69 L358.4 1314.67 L359.4 1314.66 L360.4 1314.65 L361.4 1314.64 L362.4 1314.63 L363.4 1314.62 L364.4 1314.61 L365.4 1314.6 L366.4 1314.59 L367.4 1314.58 L368.4 1314.58 L369.4 1314.57 L370.4 1314.56 L371.4 1314.55 L372.4 1314.54 L373.4 1314.54 L374.4 1314.53 L375.4 1314.52 L376.4 1314.52 L377.4 1314.51 L378.4 1314.51 L379.4 1314.5 L380.4 1314.5 L381.4 1314.49 L382.4 1314.49 L383.4 1314.49 L384.4 1314.48 L385.4 1314.48 L386.4 1314.48 L387.4 1314.47 L388.4 1314.47 L389.4 1314.47 L390.4 1314.46 L391.4 1314.46 L392.4 1314.46 L393.4 1314.45 L394.4 1314.45 L395.4 1314.45 L396.4 1314.45 L397.4 1314.44 L398.4 1314.44 L399.4 1314.44 L400.4 1314.44 L401.4 1314.44 L402.4 1314.43 L403.4 1314.43 L404.4 1314.43 L405.4 1314.43 L406.4 1314.43 L407.4 1314.42 L408.4 1314.42 L409.4 1314.42 L410.4 1314.42 L411.4 1314.42 L412.4 1314.42 L413.4 1314.41 L414.4 1314.41 L415.4 1314.41 L416.4 1314.41 L417.4 1314.41 L418.4 1314.4 L419.4 1314.4 L420.4 1314.4 L421.4 1314.4 L422.4 1314.4 L423.4 1314.39 L424.4 1314.39 L425.4 1314.39 L426.4 1314.39 L427.4 1314.38 L428.4 1314.38 L429.4 1314.38 L430.4 1314.38 L431.4 1314.37 L432.4 1314.37 L433.4 1314.37 L434.4 1314.37 L435.4 1314.36 L436.4 1314.36 L437.4 1314.36 L438.4 1314.35 L439.4 1314.35 L440.4 1314.34 L441.4 1314.34 L442.4 1314.34 L443.4 1314.33 L444.4 1314.33 L445.4 1314.32 L446.4 1314.32 L447.4 1314.31 L448.4 1314.31 L449.4 1314.3 L450.4 1314.3 L451.4 1314.29 L452.4 1314.28 L453.4 1314.27 L454.4 1314.25 L455.4 1314.23 L456.4 1314.21 L457.4 1314.19 L458.4 1314.17 L459.4 1314.14 L460.4 1314.12 L461.4 1314.09 L462.4 1314.06 L463.4 1314.03 L464.4 1314 L465.4 1313.97 L466.4 1313.94 L467.4 1313.91 L468.4 1313.87 L469.4 1313.84 L470.4 1313.81 L471.4 1313.78 L472.4 1313.75 L473.4 1313.71 L474.4 1313.68 L475.4 1313.65 L476.4 1313.62 L477.4 1313.6 L478.4 1313.57 L479.4 1313.54 L480.4 1313.52 L481.4 1313.5 L482.4 1313.48 L483.4 1313.46 L484.4 1313.44 L485.4 1313.43 L486.4 1313.42 L487.4 1313.41 L488.4 1313.4 L489.4 1313.4 L490.4 1313.4 L491.4 1313.4 L492.4 1313.4 L493.4 1313.4 L494.4 1313.4 L495.4 1313.4 L496.4 1313.4 L497.4 1313.4 L498.4 1313.4 L499.4 1313.4 L500.4 1313.4 L501.4 1313.4 L502.4 1313.4 L503.4 1313.4 L504.4 1313.4 L505.4 1313.4 L506.4 1313.4 L507.4 1313.4 L508.4 1313.4 L509.4 1313.4 L510.4 1313.4 L511.4 1313.4 L512.4 1313.4 L513.4 1313.4 L514.4 1313.4 L515.4 1313.4 L516.4 1313.4 L517.4 1313.41 L518.4 1313.41 L519.4 1313.42 L520.4 1313.43 L521.4 1313.45 L522.4 1313.46 L523.4 1313.48 L524.4 1313.5 L525.4 1313.52 L526.4 1313.54 L527.4 1313.56 L528.4 1313.59 L529.4 1313.61 L530.4 1313.64 L531.4 1313.66 L532.4 1313.69 L533.4 1313.72 L534.4 1313.75 L535.4 1313.78 L536.4 1313.8 L537.4 1313.83 L538.4 1313.86 L539.4 1313.89 L540.4 1313.92 L541.4 1313.95 L542.4 1313.98 L543.4 1314.01 L544.4 1314.03 L545.4 1314.06 L546.4 1314.09 L547.4 1314.11 L548.4 1314.14 L549.4 1314.16 L550.4 1314.18 L551.4 1314.2 L552.4 1314.22 L553.4 1314.24 L554.4 1314.25 L555.4 1314.27 L556.4 1314.28 L557.4 1314.29 L558.4 1314.29 L559.4 1314.3 L560.4 1314.3 L561.4 1314.3 L562.4 1314.31 L563.4 1314.31 L564.4 1314.31 L565.4 1314.31 L566.4 1314.31 L567.4 1314.32 L568.4 1314.32 L569.4 1314.32 L570.4 1314.32 L571.4 1314.32 L572.4 1314.33 L573.4 1314.33 L574.4 1314.33 L575.4 1314.33 L576.4 1314.33 L577.4 1314.34 L578.4 1314.34 L579.4 1314.34 L580.4 1314.34 L581.4 1314.34 L582.4 1314.35 L583.4 1314.35 L584.4 1314.35 L585.4 1314.35 L586.4 1314.35 L587.4 1314.35 L588.4 1314.35 L589.4 1314.36 L590.4 1314.36 L591.4 1314.36 L592.4 1314.36 L593.4 1314.36 L594.4 1314.36 L595.4 1314.36 L596.4 1314.37 L597.4 1314.37 L598.4 1314.37 L599.4 1314.37 L600.4 1314.37 L601.4 1314.37 L602.4 1314.37 L603.4 1314.37 L604.4 1314.38 L605.4 1314.38 L606.4 1314.38 L607.4 1314.38 L608.4 1314.38 L609.4 1314.38 L610.4 1314.38 L611.4 1314.38 L612.4 1314.38 L613.4 1314.38 L614.4 1314.39 L615.4 1314.39 L616.4 1314.39 L617.4 1314.39 L618.4 1314.39 L619.4 1314.39 L620.4 1314.39 L621.4 1314.39 L622.4 1314.39 L623.4 1314.39 L624.4 1314.39 L625.4 1314.39 L626.4 1314.39 L627.4 1314.39 L628.4 1314.39 L629.4 1314.4 L630.4 1314.4 L631.4 1314.4 L632.4 1314.4 L633.4 1314.4 L634.4 1314.4 L635.4 1314.4 L636.4 1314.4 L637.4 1314.4 L638.4 1314.4 L639.4 1314.4 L640.4 1314.4 L641.4 1314.4 L642.4 1314.4 L643.4 1314.4 L644.4 1314.4 L645.4 1314.4 L646.4 1314.4 L647.4 1314.4 L648.4 1314.4 L649.4 1314.4 L650.4 1314.4 L651.4 1314.4 L652.4 1314.4 L653.4 1314.4 L654.4 1314.4 L655.4 1314.4 L656.4 1314.4 L657.4 1314.4 L658.4 1314.4 L659.4 1314.4 L660.4 1314.4 L661.4 1314.4 L662.4 1314.4 L663.4 1314.4 L664.4 1314.4 L665.4 1314.4 L666.4 1314.4 L667.4 1314.4 L668.4 1314.4 L669.4 1314.4 L670.4 1314.4 L671.4 1314.4 L672.4 1314.4 L673.4 1314.4 L674.4 1314.4 L675.4 1314.4 L676.4 1314.4 L677.4 1314.4 L678.4 1314.4 L679.4 1314.4 L680.4 1314.4 L681.4 1314.4 L682.4 1314.4 L683.4 1314.4 L684.4 1314.4 L685.4 1314.4 L686.4 1314.4 L687.4 1314.4 L688.4 1314.4 L689.4 1314.4 L690.4 1314.4 L691.4 1314.4 L692.4 1314.4 L693.4 1314.4 L694.4 1314.4 L695.4 1314.4 L696.4 1314.4 L697.4 1314.4 L698.4 1314.4 L699.4 1314.4 L700.4 1314.4 L701.4 1314.41 L702.4 1314.42 L703.4 1314.43 L704.4 1314.46 L705.4 1314.48 L706.4 1314.52 L707.4 1314.56 L708.4 1314.6 L709.4 1314.65 L710.4 1314.7 L711.4 1314.76 L712.4 1314.83 L713.4 1314.98 L714.4 1315.19 L715.4 1315.46 L716.4 1315.77 L717.4 1316.1 L718.4 1316.44 L719.4 1316.85 L720.4 1317.33 L721.4 1317.86 L722.4 1318.44 L723.3 1319" stroke="#e25c88" stroke-width="0.9" fill="none" stroke-linejoin="round"/>
<path d="M36.4 1354.2 L37.4 1354.2 L38.4 1354.2 L39.4 1354.2 L40.4 1354.2 L41.4 1354.2 L42.4 1354.2 L43.4 1354.2 L44.4 1354.2 L45.4 1354.06 L46.4 1353.41 L47.4 1353.38 L48.4 1353.36 L49.4 1353.35 L50.4 1353.33 L51.4 1353.32 L52.4 1353.31 L53.4 1353.3 L54.4 1353.29 L55.4 1353.28 L56.4 1353.27 L57.4 1353.27 L58.4 1353.26 L59.4 1353.26 L60.4 1353.26 L61.4 1353.25 L62.4 1353.25 L63.4 1353.25 L64.4 1353.25 L65.4 1353.25 L66.4 1353.25 L67.4 1353.25 L68.4 1353.24 L69.4 1353.24 L70.4 1353.24 L71.4 1353.24 L72.4 1353.24 L73.4 1353.23 L74.4 1353.23 L75.4 1353.23 L76.4 1353.22 L77.4 1353.21 L78.4 1353.21 L79.4 1353.2 L80.4 1353.19 L81.4 1353.18 L82.4 1353.16 L83.4 1353.15 L84.4 1353.13 L85.4 1353.11 L86.4 1353.04 L87.4 1352.64 L88.4 1352.48 L89.4 1352.43 L90.4 1352.39 L91.4 1352.36 L92.4 1352.33 L93.4 1352.31 L94.4 1352.3 L95.4 1352.28 L96.4 1352.27 L97.4 1352.25 L98.4 1352.24 L99.4 1352.21 L100.4 1352.19 L101.4 1352.16 L102.4 1352.14 L103.4 1352.11 L104.4 1352.08 L105.4 1352.06 L106.4 1352.03 L107.4 1352 L108.4 1351.98 L109.4 1351.95 L110.4 1351.92 L111.4 1351.9 L112.4 1351.87 L113.4 1351.84 L114.4 1351.81 L115.4 1351.79 L116.4 1351.76 L117.4 1351.73 L118.4 1351.7 L119.4 1351.68 L120.4 1351.65 L121.4 1351.62 L122.4 1351.59 L123.4 1351.56 L124.4 1351.53 L125.4 1351.51 L126.4 1351.48 L127.4 1351.45 L128.4 1351.42 L129.4 1351.39 L130.4 1351.36 L131.4 1351.34 L132.4 1351.31 L133.4 1351.28 L134.4 1351.25 L135.4 1351.22 L136.4 1351.19 L137.4 1351.16 L138.4 1351.13 L139.4 1351.11 L140.4 1351.08 L141.4 1351.05 L142.4 1351.02 L143.4 1350.99 L144.4 1350.96 L145.4 1350.93 L146.4 1350.9 L147.4 1350.87 L148.4 1350.84 L149.4 1350.82 L150.4 1350.79 L151.4 1350.76 L152.4 1350.73 L153.4 1350.7 L154.4 1350.67 L155.4 1350.64 L156.4 1350.61 L157.4 1350.58 L158.4 1350.55 L159.4 1350.53 L160.4 1350.5 L161.4 1350.47 L162.4 1350.44 L163.4 1350.41 L164.4 1350.38 L165.4 1350.35 L166.4 1350.32 L167.4 1350.3 L168.4 1350.27 L169.4 1350.24 L170.4 1350.21 L171.4 1350.18 L172.4 1350.15 L173.4 1350.12 L174.4 1350.1 L175.4 1350.07 L176.4 1350.04 L177.4 1350.01 L178.4 1349.98 L179.4 1349.96 L180.4 1349.93 L181.4 1349.9 L182.4 1349.87 L183.4 1349.84 L184.4 1349.82 L185.4 1349.79 L186.4 1349.76 L187.4 1349.73 L188.4 1349.71 L189.4 1349.68 L190.4 1349.65 L191.4 1349.63 L192.4 1349.6 L193.4 1349.57 L194.4 1349.55 L195.4 1349.52 L196.4 1349.49 L197.4 1349.47 L198.4 1349.44 L199.4 1349.42 L200.4 1349.39 L201.4 1349.36 L202.4 1349.34 L203.4 1349.31 L204.4 1349.29 L205.4 1349.26 L206.4 1349.24 L207.4 1349.21 L208.4 1349.19 L209.4 1349.17 L210.4 1349.14 L211.4 1349.12 L212.4 1349.09 L213.4 1349.07 L214.4 1349.05 L215.4 1349.02 L216.4 1349 L217.4 1348.98 L218.4 1348.95 L219.4 1348.93 L220.4 1348.91 L221.4 1348.89 L222.4 1348.86 L223.4 1348.84 L224.4 1348.82 L225.4 1348.8 L226.4 1348.77 L227.4 1348.75 L228.4 1348.73 L229.4 1348.71 L230.4 1348.69 L231.4 1348.66 L232.4 1348.64 L233.4 1348.62 L234.4 1348.6 L235.4 1348.58 L236.4 1348.56 L237.4 1348.53 L238.4 1348.51 L239.4 1348.49 L240.4 1348.47 L241.4 1348.45 L242.4 1348.43 L243.4 1348.4 L244.4 1348.38 L245.4 1348.36 L246.4 1348.34 L247.4 1348.32 L248.4 1348.29 L249.4 1348.27 L250.4 1348.25 L251.4 1348.23 L252.4 1348.21 L253.4 1348.19 L254.4 1348.16 L255.4 1348.14 L256.4 1348.12 L257.4 1348.1 L258.4 1348.07 L259.4 1348.05 L260.4 1348.03 L261.4 1348.01 L262.4 1347.98 L263.4 1347.96 L264.4 1347.94 L265.4 1347.91 L266.4 1347.89 L267.4 1347.87 L268.4 1347.84 L269.4 1347.82 L270.4 1347.8 L271.4 1347.77 L272.4 1347.75 L273.4 1347.72 L274.4 1347.7 L275.4 1347.67 L276.4 1347.65 L277.4 1347.62 L278.4 1347.6 L279.4 1347.57 L280.4 1347.55 L281.4 1347.52 L282.4 1347.5 L283.4 1347.47 L284.4 1347.44 L285.4 1347.42 L286.4 1347.39 L287.4 1347.36 L288.4 1347.34 L289.4 1347.31 L290.4 1347.28 L291.4 1347.25 L292.4 1347.22 L293.4 1347.2 L294.4 1347.17 L295.4 1347.14 L296.4 1347.11 L297.4 1347.08 L298.4 1347.05 L299.4 1347.02 L300.4 1346.99 L301.4 1346.96 L302.4 1346.93 L303.4 1346.9 L304.4 1346.87 L305.4 1346.83 L306.4 1346.8 L307.4 1346.77 L308.4 1346.74 L309.4 1346.71 L310.4 1346.68 L311.4 1346.65 L312.4 1346.62 L313.4 1346.58 L314.4 1346.55 L315.4 1346.52 L316.4 1346.49 L317.4 1346.45 L318.4 1346.42 L319.4 1346.39 L320.4 1346.35 L321.4 1346.32 L322.4 1346.29 L323.4 1346.25 L324.4 1346.22 L325.4 1346.18 L326.4 1346.15 L327.4 1346.11 L328.4 1346.07 L329.4 1346.04 L330.4 1346 L331.4 1345.96 L332.4 1345.92 L333.4 1345.88 L334.4 1345.84 L335.4 1345.8 L336.4 1345.76 L337.4 1345.72 L338.4 1345.68 L339.4 1345.64 L340.4 1345.59 L341.4 1345.55 L342.4 1345.51 L343.4 1345.46 L344.4 1345.42 L345.4 1345.37 L346.4 1345.32 L347.4 1345.27 L348.4 1345.23 L349.4 1345.18 L350.4 1345.13 L351.4 1345.07 L352.4 1345.02 L353.4 1344.97 L354.4 1344.92 L355.4 1344.86 L356.4 1344.81 L357.4 1344.75 L358.4 1344.69 L359.4 1344.64 L360.4 1344.58 L361.4 1344.51 L362.4 1344.45 L363.4 1344.38 L364.4 1344.3 L365.4 1344.22 L366.4 1344.14 L367.4 1344.06 L368.4 1343.97 L369.4 1343.87 L370.4 1343.78 L371.4 1343.68 L372.4 1343.58 L373.4 1343.47 L374.4 1343.37 L375.4 1343.26 L376.4 1343.14 L377.4 1343.01 L378.4 1342.88 L379.4 1342.74 L380.4 1342.6 L381.4 1342.45 L382.4 1342.29 L383.4 1342.13 L384.4 1341.97 L385.4 1341.8 L386.4 1341.63 L387.4 1341.46 L388.4 1341.28 L389.4 1341.11 L390.4 1340.93 L391.4 1340.74 L392.4 1340.55 L393.4 1340.35 L394.4 1340.14 L395.4 1339.93 L396.4 1339.72 L397.4 1339.5 L398.4 1339.27 L399.4 1339.04 L400.4 1338.81 L401.4 1338.6 L402.4 1338.38 L403.4 1338.11 L404.4 1337.76 L405.4 1337.15 L406.4 1336.24 L407.4 1335.14 L408.4 1333.94 L409.4 1332.76 L410.4 1331.69 L411.4 1330.74 L412.4 1329.76 L413.4 1328.77 L414.4 1327.84 L415.4 1327.01 L416.4 1326.35 L417.4 1325.88 L418.4 1325.47 L419.4 1325.1 L420.4 1324.8 L421.4 1324.59 L422.4 1324.5 L423.4 1324.65 L424.4 1325.09 L425.4 1325.73 L426.4 1326.47 L427.4 1327.36 L428.4 1328.66 L429.4 1330.17 L430.4 1331.69 L431.4 1333.03 L432.4 1334.54 L433.4 1336.11 L434.4 1337.51 L435.4 1338.51 L436.4 1338.9 L437.4 1338.89 L438.4 1338.87 L439.4 1338.84 L440.4 1338.8 L441.4 1338.76 L442.4 1338.7 L443.4 1338.64 L444.4 1338.58 L445.4 1338.52 L446.4 1338.46 L447.4 1338.4 L448.4 1338.35 L449.4 1338.3 L450.4 1338.26 L451.4 1338.23 L452.4 1338.21 L453.4 1338.2 L454.4 1338.2 L455.4 1338.2 L456.4 1338.2 L457.4 1338.2 L458.4 1338.2 L459.4 1338.2 L460.4 1338.2 L461.4 1338.2 L462.4 1338.2 L463.4 1338.2 L464.4 1338.2 L465.4 1338.2 L466.4 1338.2 L467.4 1338.2 L468.4 1338.2 L469.4 1338.2 L470.4 1338.2 L471.4 1339.04 L472.4 1341.75 L473.4 1345.14 L474.4 1348.38 L475.4 1352.24 L476.4 1356.11 L477.4 1359.2 L478.4 1361.75 L479.4 1363.85 L480.4 1364.46 L481.4 1363.18 L482.4 1360.77 L483.4 1358.1 L484.4 1354.89 L485.4 1350.86 L486.4 1346.88 L487.4 1343.81 L488.4 1341.99 L489.4 1340.39 L490.4 1339.11 L491.4 1338.34 L492.4 1338.41 L493.4 1340.4 L494.4 1343.63 L495.4 1347.12 L496.4 1352.04 L497.4 1357.51 L498.4 1361.3 L499.4 1363.43 L500.4 1365.21 L501.4 1366.38 L502.4 1366.7 L503.4 1366.65 L504.4 1366.53 L505.4 1366.36 L506.4 1366.15 L507.4 1365.85 L508.4 1365.14 L509.4 1364.2 L510.4 1363.33 L511.4 1362.33 L512.4 1361.48 L513.4 1361.62 L514.4 1364.07 L515.4 1365.98 L516.4 1366 L517.4 1366 L518.4 1366 L519.4 1365.57 L520.4 1363.76 L521.4 1361.17 L522.4 1358.43 L523.4 1356.13 L524.4 1353.86 L525.4 1351.53 L526.4 1349.24 L527.4 1347.07 L528.4 1345.11 L529.4 1343.19 L530.4 1341.27 L531.4 1339.48 L532.4 1337.98 L533.4 1336.91 L534.4 1336.29 L535.4 1335.78 L536.4 1335.38 L537.4 1335.1 L538.4 1334.95 L539.4 1334.83 L540.4 1334.73 L541.4 1334.66 L542.4 1334.61 L543.4 1334.6 L544.4 1334.77 L545.4 1335.16 L546.4 1335.72 L547.4 1336.36 L548.4 1337.02 L549.4 1337.64 L550.4 1338.18 L551.4 1338.78 L552.4 1339.41 L553.4 1340.06 L554.4 1340.71 L555.4 1341.35 L556.4 1341.95 L557.4 1342.51 L558.4 1343 L559.4 1343.4 L560.4 1343.72 L561.4 1344.02 L562.4 1344.3 L563.4 1344.53 L564.4 1344.71 L565.4 1344.79 L566.4 1344.77 L567.4 1344.65 L568.4 1344.45 L569.4 1344.2 L570.4 1343.91 L571.4 1343.6 L572.4 1343.22 L573.4 1342.71 L574.4 1342.11 L575.4 1341.45 L576.4 1340.75 L577.4 1340.04 L578.4 1339.36 L579.4 1338.6 L580.4 1337.75 L581.4 1336.87 L582.4 1336.03 L583.4 1335.29 L584.4 1334.73 L585.4 1334.38 L586.4 1334.09 L587.4 1333.84 L588.4 1333.63 L589.4 1333.48 L590.4 1333.4 L591.4 1334.13 L592.4 1336.54 L593.4 1338.33 L594.4 1337.86 L595.4 1336.33 L596.4 1335 L597.4 1334.17 L598.4 1333.39 L599.4 1332.76 L600.4 1332.37 L601.4 1332.31 L602.4 1332.39 L603.4 1332.56 L604.4 1332.82 L605.4 1333.16 L606.4 1334.41 L607.4 1337.16 L608.4 1340.36 L609.4 1343.17 L610.4 1346.11 L611.4 1349.11 L612.4 1351.93 L613.4 1354.3 L614.4 1356.46 L615.4 1358.66 L616.4 1360.68 L617.4 1362.27 L618.4 1363.23 L619.4 1363.31 L620.4 1362.42 L621.4 1360.84 L622.4 1358.91 L623.4 1356.96 L624.4 1354.81 L625.4 1351.95 L626.4 1349.1 L627.4 1347.01 L628.4 1346.41 L629.4 1346.61 L630.4 1346.8 L631.4 1344.73 L632.4 1339.65 L633.4 1334.99 L634.4 1333.45 L635.4 1332.68 L636.4 1332.1 L637.4 1331.73 L638.4 1331.6 L639.4 1331.7 L640.4 1331.99 L641.4 1332.46 L642.4 1334.01 L643.4 1338.81 L644.4 1343.74 L645.4 1347.47 L646.4 1350.95 L647.4 1352.68 L648.4 1350.46 L649.4 1344.79 L650.4 1339.09 L651.4 1336.09 L652.4 1333.86 L653.4 1332.23 L654.4 1331.58 L655.4 1331.45 L656.4 1331.33 L657.4 1331.24 L658.4 1331.17 L659.4 1331.11 L660.4 1331.07 L661.4 1331.03 L662.4 1330.99 L663.4 1330.95 L664.4 1330.9 L665.4 1330.86 L666.4 1330.81 L667.4 1330.77 L668.4 1330.73 L669.4 1330.69 L670.4 1330.65 L671.4 1330.61 L672.4 1330.58 L673.4 1330.54 L674.4 1330.51 L675.4 1330.48 L676.4 1330.45 L677.4 1330.42 L678.4 1330.39 L679.4 1330.36 L680.4 1330.33 L681.4 1330.3 L682.4 1330.28 L683.4 1330.25 L684.4 1330.22 L685.4 1330.19 L686.4 1330.16 L687.4 1330.13 L688.4 1330.1 L689.4 1330.06 L690.4 1330.03 L691.4 1330 L692.4 1329.96 L693.4 1329.92 L694.4 1329.88 L695.4 1329.84 L696.4 1329.8 L697.4 1329.76 L698.4 1329.71 L699.4 1329.66 L700.4 1329.61 L701.4 1329.56 L702.4 1329.51 L703.4 1329.46 L704.4 1329.4 L705.4 1329.35 L706.4 1329.29 L707.4 1329.24 L708.4 1329.18 L709.4 1329.12 L710.4 1329.06 L711.4 1329 L712.4 1328.93 L713.4 1328.87 L714.4 1328.81 L715.4 1328.74 L716.4 1328.67 L717.4 1328.61 L718.4 1328.54 L719.4 1328.47 L720.4 1328.4 L721.4 1328.33 L722.4 1328.26 L723.3 1328.2" stroke="#5acdf0" stroke-width="0.9" fill="none" stroke-linejoin="round"/>
<line x1="35.9" y1="1197.6" x2="723.4" y2="1197.6" stroke="#7a7a7a" stroke-width="1.2"/>
<line x1="723.4" y1="1196.6" x2="723.4" y2="1483.1" stroke="#606060" stroke-width="1"/>
<line x1="35.9" y1="1196.6" x2="35.9" y2="1483.75" stroke="#7a7a7a" stroke-width="1.3"/>
<line x1="35.25" y1="1483.1" x2="723.9" y2="1483.1" stroke="#7a7a7a" stroke-width="1.3"/>
<text x="356" y="1547" font-size="24" font-family='"Liberation Serif", serif' fill="#000">(<tspan font-weight="bold">d</tspan>)</text>
</svg></body></html>
